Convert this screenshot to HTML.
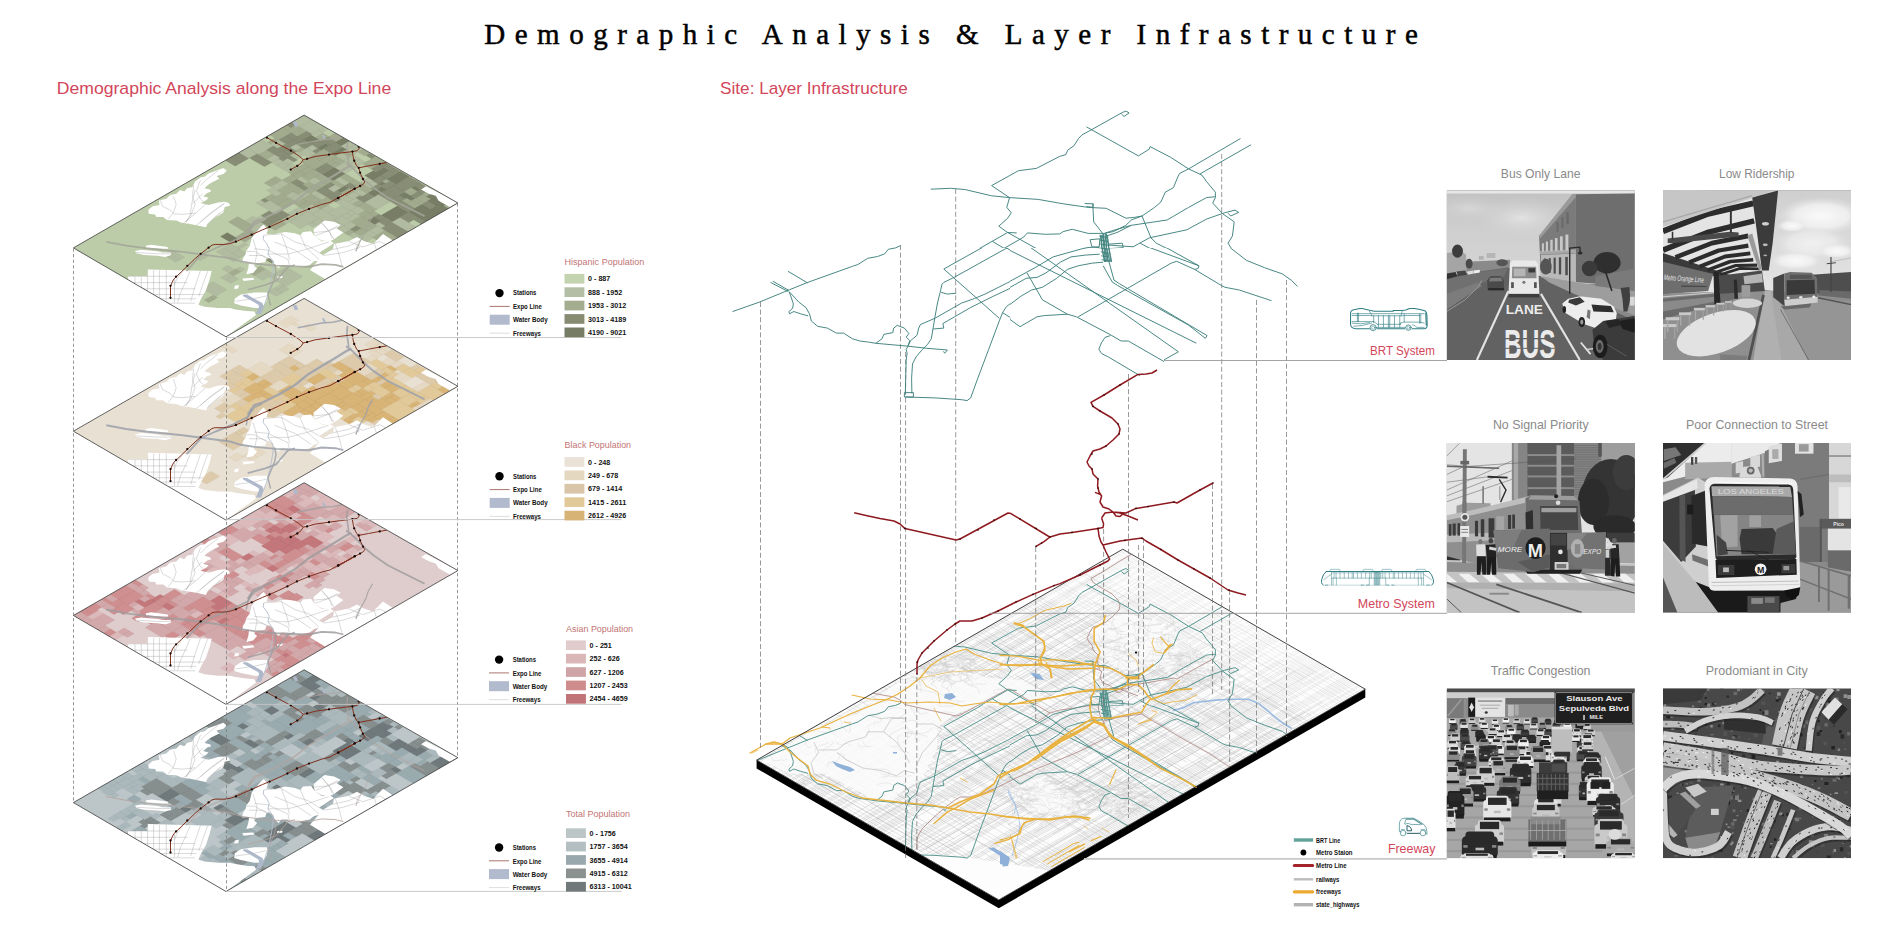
<!DOCTYPE html>
<html><head><meta charset="utf-8"><title>Demographic Analysis &amp; Layer Infrastructure</title>
<style>html,body{margin:0;padding:0;background:#fff;overflow:hidden}svg{display:block}</style>
</head><body>
<svg width="1900" height="927" viewBox="0 0 1900 927" font-family="Liberation Sans, sans-serif">
<rect width="1900" height="927" fill="#fff"/>
<!-- planes -->
<defs><clipPath id="pc"><polygon points="304.1,115.1 457.9,203 226,336.8 73.4,247.9"/></clipPath><clipPath id="wc"><path d="M148.2 210 L152.6 206.3 L159.4 205 L158.8 200.6 L166.3 198.8 L170.1 195 L176.3 193.8 L180.1 190 L184.3 191.6 L187 188.2 L192.4 186.9 L195.1 181.5 L200.5 177.4 L204.5 176.8 L208.6 173.4 L218 170 L223.4 168 L226.8 170.7 L223.4 174.1 L216.6 176.1 L219.3 178.8 L211.2 182.8 L207.2 185.5 L204.5 188.2 L209.9 189.6 L211.2 191.6 L207.2 192.9 L203.2 196.3 L208.6 197.7 L205.9 200.4 L200.5 203.1 L208.6 205.1 L218 202.4 L224.7 201.7 L228.8 203.1 L230.1 205.8 L224.7 207.1 L223.4 212.5 L219.3 215.2 L213.9 217.9 L207.2 224.6 L205.9 227.3 L198.8 225.7 L188.8 223.8 L181.3 222.8 L176.3 220.6 L166.9 220 L163.2 216.9 L156.3 216.9 L155.1 214.4 L148.8 213.8Z M145.7 245.7 L151.3 244.7 L167.6 246.9 L168.2 248.8 L162.6 248.8 L146.3 247.8Z M135 250.9 L141.3 249.8 L157.6 251.3 L162.6 252.5 L170.7 252.5 L171.3 255 L165.1 256.9 L157.6 255.7 L143.8 255 L136.3 253.2Z M127.8 279.6 L128.2 276.3 L147.6 276.3 L147.8 269.4 L212 271.1 L211.9 270 L209.9 278.4 L205.9 290.5 L201.8 297.3 L198.4 304.7 L204.5 306.7 L218 308.1 L230.1 308.1 L235.5 309.4 L246.3 311 L254.4 311.6 L256 315.1 L226 336.8Z M234.8 298.6 L240.9 294.6 L254.4 292.5 L266.5 292.5 L267.9 294.6 L266.5 301.3 L263.8 305.4 L259.8 308.1 L254.4 308.1 L240.9 305.4 L234.2 303.3Z M263.8 224.4 L267.9 229.8 L266.5 233.9 L274.6 234.6 L278.7 233.2 L285.4 231.9 L294.9 233.2 L300.3 235.2 L303 231.9 L311 231.2 L315.1 236.6 L321.8 241.3 L329.9 240.6 L334 243.3 L328.6 246.7 L319.1 252.8 L323.2 255.5 L320.5 259.5 L313.7 261.5 L309.7 264.9 L300.3 266.9 L289.5 266.9 L288.1 264.9 L281.4 264.9 L278.7 268.3 L274.6 264.9 L273.3 260.9 L269.2 257.9 L266.5 258.2 L265.2 262.2 L255.8 263.3 L254.4 266.2 L257.1 268.3 L253.1 273 L246.3 274.3 L248.3 268.3 L249 262.2 L242.3 262.9 L242.9 258.2 L245.6 254.1 L246.3 250.7 L249.7 246 L251.7 237.9 L257.1 231.2 L261.1 226.5Z M242.3 278.4 L253.1 277.7 L254.4 279.7 L243.6 281.1Z M234.8 285.8 L238.9 285.1 L238.2 288.5 L234.2 288.9Z M277.3 276.4 L282.7 276 L282 278.1 L277.1 278.4Z M313.7 229.2 L324.5 220.4 L334 221.7 L340.7 225.1 L336.7 228.5 L343.4 232.5 L334 239.3 L329.9 241.3 L321.8 240.6 L315.1 236.6 L313.7 232.5Z M323 255 L333 249 L334 244 L349 241 L357 237 L364 241 L373 244 L380 237 L383 234 L392.5 240.2 L325 279 L310 270Z M421.1 189.5 L426 186.3 L457.5 202.8 L449.8 207 L438.6 200.7 L435.8 195.8 L428.8 193.7Z"/></clipPath></defs>
<g id="plane3">
<polygon points="304.1,669.8 457.9,757.7 226,891.5 73.4,802.6" fill="#bcc5c7"/>
<g transform="translate(0 554.7)"><g clip-path="url(#pc)">
<path d="M97.9 233.8 L103 230.9 L107.7 233.7 L102.7 236.6Z M101.6 237.2 L107.7 233.7 L114.7 237.7 L108.6 241.3Z M103 230.9 L108 228 L113 230.9 L108 233.8Z M108 228 L112.5 225.4 L117.5 228.3 L113 230.9Z M108 233.8 L113.1 230.8 L119.9 234.8 L114.7 237.7Z M113.1 230.8 L117.5 228.3 L124.3 232.2 L119.9 234.8Z M112.5 225.4 L121.3 220.3 L126.3 223.2 L117.5 228.3Z M117.5 228.3 L126.3 223.2 L133.1 227.2 L124.3 232.2Z M109.8 240.6 L115 237.6 L119.6 240.3 L114.4 243.3Z M122.5 233.3 L129.4 229.3 L133.6 231.8 L126.7 235.8Z M129.4 229.3 L133.1 227.2 L137.3 229.7 L133.6 231.8Z M126.7 235.8 L132.2 232.6 L139.3 236.7 L133.8 239.9Z M132.2 232.6 L137.3 229.7 L144.4 233.8 L139.3 236.7Z M107.8 263.8 L114 260.2 L119.7 263.5 L113.5 267.1Z M114 260.2 L119.8 256.9 L127.1 261.1 L121.3 264.4Z M119.8 256.9 L125.2 253.8 L132.4 258 L127.1 261.1Z M121.3 264.4 L125.9 261.7 L130.5 264.4 L125.9 267.1Z M116 272.7 L120.9 270 L126.6 273.3 L121.8 276.1Z M120.9 270 L125.8 267.1 L131.6 270.5 L126.6 273.3Z M141.1 287.3 L146.4 284.3 L153 288.1 L147.7 291.2Z M146.4 284.3 L150.7 281.8 L157.3 285.6 L153 288.1Z M125.2 253.8 L139.7 245.4 L146.9 249.6 L132.4 258Z M132.4 258 L140.2 253.5 L152.5 260.7 L144.7 265.2Z M150.4 261.9 L156.7 258.3 L161.6 261.1 L155.2 264.7Z M154.9 271.1 L166.9 264.2 L180.7 272.2 L168.7 279.1Z M121.3 220.3 L126.8 217.2 L133.9 221.3 L128.4 224.4Z M128.4 224.4 L137.8 219 L142.8 221.9 L133.4 227.4Z M133.4 227.4 L138.2 224.6 L146.2 229.3 L141.4 232Z M130.7 214.9 L137.9 210.7 L143.1 213.8 L135.9 217.9Z M135.9 217.9 L143.1 213.8 L150.1 217.9 L142.9 222Z M137.9 210.7 L143.3 207.7 L155.5 214.8 L150.1 217.9Z M142.9 222 L150.2 217.8 L158.1 222.4 L150.8 226.6Z M150.2 217.8 L155.5 214.8 L163.3 219.4 L158.1 222.4Z M148.1 210.5 L155.5 206.2 L162.5 210.3 L155.1 214.6Z M156.1 223.5 L164.6 218.6 L180.8 228.1 L172.3 233Z M173.7 223.9 L179.9 220.3 L187.1 224.5 L180.8 228.1Z M204.7 233.4 L210.2 230.3 L215.7 233.5 L210.3 236.6Z M185.8 257.9 L191.9 254.3 L196.2 256.9 L190.1 260.4Z M193.7 255.4 L199.3 252.1 L207.4 256.8 L201.7 260.1Z M206.6 238.8 L215.7 233.5 L231.7 242.8 L222.6 248.1Z M161.9 202.2 L172.3 196.2 L178.3 199.6 L167.9 205.6Z M167.8 193.5 L173.9 190 L179.7 193.4 L173.6 196.9Z M173.9 190 L180.3 186.3 L193.8 194.1 L187.3 197.8Z M187.3 197.8 L193.4 194.4 L201.4 199 L195.3 202.5Z M195.3 202.5 L201.1 199.2 L207.1 202.7 L201.4 206Z M191.2 219.2 L204.7 211.5 L213.6 216.7 L200.1 224.4Z M198.3 207.8 L204.3 204.4 L208.3 206.8 L202.4 210.2Z M204.3 204.4 L207.8 202.3 L217.1 207.7 L213.5 209.8Z M207.6 213.2 L212.2 210.5 L218.2 214.1 L213.6 216.7Z M212.2 210.5 L217.1 207.7 L223.1 211.2 L218.2 214.1Z M188 182 L194.5 178.2 L205 184.3 L198.5 188.1Z M205.1 178.5 L211.5 174.8 L216.5 177.7 L210.1 181.4Z M227.5 200.9 L232.5 198 L239.3 201.9 L234.2 204.8Z M249.6 184.5 L254.8 181.6 L259.3 184.2 L254.2 187.2Z M208.2 229.1 L218.1 223.4 L228.7 229.6 L218.8 235.3Z M230.4 223.1 L248.8 212.5 L266.5 222.8 L248.1 233.4Z M254.2 193.3 L258.9 190.6 L265.1 194.3 L260.5 197Z M269.6 197.2 L275.6 193.7 L279.7 196.1 L273.7 199.5Z M147.7 291.2 L153.4 287.9 L156.5 289.7 L150.8 293Z M150.8 293 L156.5 289.7 L161.8 292.8 L156.1 296.1Z M157.2 290.1 L161.9 287.4 L166.5 290.1 L161.8 292.8Z M165.9 296.3 L171.6 293 L179.8 297.9 L174.1 301.1Z M165.2 281.1 L173.8 276.2 L180.8 280.3 L172.3 285.2Z M172.3 285.2 L176.5 282.7 L183.5 286.8 L179.2 289.2Z M175.4 291.4 L180.8 288.3 L188.5 292.8 L183.1 295.9Z M173.8 276.2 L180.3 272.4 L185.4 275.4 L178.9 279.2Z M178.9 279.2 L185.4 275.4 L188.7 277.3 L182.2 281.1Z M169.4 303.8 L174.6 300.9 L180.2 304.2 L175.1 307.1Z M175.1 307.1 L180.2 304.2 L185.6 307.3 L180.4 310.2Z M187 293.7 L194.2 289.6 L201.3 293.7 L194.2 297.9Z M189.8 300.4 L194.7 297.6 L199.3 300.3 L194.4 303.1Z M194.7 297.6 L201.3 293.7 L205.9 296.4 L199.3 300.3Z M197.8 305 L205 300.8 L210.6 304.1 L203.4 308.3Z M204.3 295.5 L213.3 290.3 L223.9 296.5 L214.9 301.6Z M190.1 266.8 L208.5 256.2 L221.4 263.7 L203 274.3Z M210 270.2 L221.4 263.7 L227.7 267.3 L216.3 273.9Z M208.5 256.2 L213.3 253.4 L216.7 255.4 L211.9 258.1Z M216.9 261.1 L224.5 256.7 L232.2 261.2 L224.6 265.5Z M216.3 282 L224.1 277.5 L231.3 281.7 L223.5 286.2Z M229.1 289.5 L236.9 285 L240.4 287 L232.6 291.5Z M250.8 273.7 L256.6 270.4 L262.8 274 L257.1 277.3Z M196.1 312.4 L200.3 310 L205 312.7 L200.8 315.1Z M203.4 323.6 L213.6 317.8 L220.5 321.8 L210.3 327.6Z M200.3 310 L212.3 303.1 L220.7 308 L208.7 314.9Z M212.7 312.6 L218.7 309.1 L223.7 312 L217.7 315.4Z M210.3 327.6 L226.1 318.5 L241.9 327.7 L226 336.8Z M226.1 318.5 L239.2 311 L247.8 316 L234.7 323.5Z M239.8 320.6 L247.8 316 L254.9 320.2 L247 324.7Z M223 301.5 L229.6 297.7 L234.8 300.7 L228.1 304.6Z M225.6 295.4 L230.5 292.7 L235.4 295.5 L230.5 298.3Z M230.5 292.7 L238.7 288 L247.8 293.3 L239.6 298Z M235.5 300.3 L247.8 293.3 L259.8 300.3 L247.6 307.3Z M247.6 315.9 L254.6 311.9 L261.8 316.2 L254.9 320.2Z M238.7 288 L253.7 279.3 L264.1 285.3 L249.1 294Z M249.1 294 L254.5 290.9 L263.6 296.1 L258.1 299.3Z M254.5 290.9 L264.1 285.3 L273.2 290.6 L263.6 296.1Z M268.9 288.1 L278 282.9 L282.2 285.3 L273.2 290.6Z M251.9 257.8 L257 254.8 L264.5 259.1 L259.3 262.1Z M259 242.1 L264.3 239 L268.7 241.6 L263.4 244.7Z M260.9 246 L268.6 241.6 L275 245.4 L267.4 249.8Z M263.4 231.9 L272.1 226.9 L276.9 229.7 L268.3 234.7Z M272.1 226.9 L279.7 222.5 L290.9 229.1 L283.3 233.4Z M274.7 238.4 L284.2 232.9 L292.5 237.8 L282.9 243.2Z M284.2 232.9 L290.9 229.1 L303.8 236.5 L297 240.4Z M286.6 226.5 L298.4 219.7 L315.6 229.7 L303.8 236.5Z M288.9 245.1 L293 242.7 L300.6 247.1 L296.5 249.5Z M296.5 249.5 L301.9 246.3 L306.4 249 L301 252.1Z M303.9 250.4 L311.6 246 L317.7 249.5 L309.9 254Z M299.6 238.9 L305.8 235.3 L310.6 238.2 L304.4 241.8Z M305.8 235.3 L310.1 232.9 L314.9 235.7 L310.6 238.2Z M309.9 245 L314.1 242.6 L317.3 244.5 L313.2 246.9Z M319.6 268.1 L326.9 263.9 L335 268.6 L327.8 272.8Z M313.6 256.1 L318.7 253.2 L328.6 259 L323.5 261.9Z M324 250.1 L332 245.6 L341.9 251.3 L334 255.9Z M329.2 265.2 L339 259.6 L343.2 262 L333.4 267.7Z M333.4 267.7 L343.2 262 L349.5 265.7 L339.7 271.3Z M345.6 253.5 L351.7 250 L359.5 254.6 L353.4 258Z M351.7 250 L355.2 248 L363 252.5 L359.5 254.6Z M353.4 258 L359.3 254.6 L364 257.3 L358.1 260.8Z M361.3 251.5 L368.1 247.6 L374.5 251.3 L367.7 255.2Z M243.3 174.9 L252 169.9 L258.2 173.5 L249.5 178.5Z M245.9 166.3 L253.2 162.1 L265.5 169.3 L258.2 173.5Z M249.5 178.5 L265.5 169.3 L280.5 178 L264.5 187.2Z M246.3 158.1 L253.4 153.9 L260.4 158 L253.2 162.1Z M253.4 153.9 L257.7 151.5 L264.6 155.6 L260.4 158Z M253.2 162.1 L257.5 159.7 L265.1 164.1 L260.9 166.6Z M257.5 159.7 L264 155.9 L271.6 160.4 L265.1 164.1Z M264.8 164.3 L271.6 160.4 L277.2 163.6 L270.3 167.5Z M271.5 160.3 L279.4 155.8 L285 159.1 L277.2 163.6Z M271.9 151.4 L282.3 145.4 L288.2 148.8 L277.8 154.8Z M277.8 154.8 L284.1 151.2 L288.7 153.9 L282.4 157.5Z M284.1 151.2 L288.2 148.8 L292.8 151.5 L288.7 153.9Z M294.6 158.1 L299.4 155.4 L304.1 158.1 L299.3 160.8Z M285.7 147.4 L291 144.3 L295 146.6 L289.6 149.7Z M317.3 133.8 L320.8 131.7 L324.7 134 L321.1 136Z M321.1 136 L330.6 130.5 L337.2 134.4 L327.7 139.9Z M327.7 139.9 L332.9 136.9 L337.4 139.5 L332.2 142.5Z M332.9 136.9 L337.2 134.4 L341.7 137 L337.4 139.5Z M336.5 140 L341.7 137 L346.7 139.9 L341.4 142.9Z M271.4 191.2 L285.1 183.3 L293 187.9 L279.2 195.8Z M287.8 184.9 L300.2 177.7 L305.4 180.7 L293 187.9Z M301.3 194.6 L306.9 191.4 L312.9 194.9 L307.2 198.1Z M310.9 189.1 L315.4 186.5 L321.3 190 L316.8 192.6Z M313.9 185.6 L319.7 182.3 L327.2 186.6 L321.3 190Z M315.3 174.3 L331.1 165.3 L337.5 169.1 L321.8 178.1Z M295.1 205.1 L310.6 196.2 L322.1 202.9 L306.7 211.8Z M306.7 211.8 L322.1 202.9 L336.1 211 L320.6 219.9Z M329.5 207.2 L335 204.1 L341.5 207.9 L336.1 211Z M320.6 159.2 L327.9 155 L334.7 159 L327.4 163.2Z M324.2 152.8 L329.9 149.5 L340.4 155.7 L334.7 159Z M327.4 163.2 L340.4 155.7 L355.5 164.5 L342.5 172Z M367.6 157.5 L372.3 154.8 L376.2 157.1 L371.5 159.8Z M386.7 175.8 L393.3 172 L398.6 175.1 L392 178.9Z M389.1 169.5 L393.3 167.1 L398.5 170.1 L394.3 172.6Z M345.7 227.6 L349.5 225.4 L353.9 227.9 L350.1 230.1Z M349.6 217.5 L356.8 213.4 L362.5 216.7 L355.3 220.9Z M355.3 220.9 L362.5 216.7 L367.9 219.9 L360.7 224Z M349 203.6 L363 195.6 L377 203.7 L363 211.8Z M363 195.6 L368.4 192.4 L373.9 195.6 L368.5 198.8Z M373.3 196 L378 193.3 L382.5 195.9 L377.8 198.6Z M377.8 198.6 L382.5 195.9 L386.5 198.3 L381.8 200.9Z M356.8 241 L364.9 236.4 L369.7 239.2 L361.7 243.8Z M370.4 239.6 L375.8 236.5 L379.9 238.9 L374.6 242Z M378.5 238.1 L384.7 234.5 L389.9 237.6 L383.7 241.1Z M384.7 234.5 L390.6 231.1 L400 236.6 L394.1 240Z M369.6 218.9 L379.5 213.2 L387.4 217.9 L377.6 223.6Z M372.5 190.1 L379.2 186.2 L396.2 196.2 L389.5 200Z M385.8 182.4 L390.9 179.5 L398.8 184.1 L393.7 187Z M397.3 204.6 L409.7 197.4 L416.9 201.6 L404.4 208.7Z M404.4 208.7 L409.9 205.6 L414.8 208.5 L409.4 211.6Z M409.9 205.6 L417.6 201.1 L423.5 204.6 L415.8 209.1Z M425.1 205.5 L433.1 200.9 L437.9 203.7 L430 208.3Z M425.6 196.5 L434.8 191.2 L447.1 198.4 L437.9 203.7Z" fill="#abb9bc" stroke="#000" stroke-opacity="0.06" stroke-width="0.4"/>
<path d="M126.7 244.4 L134.2 240.1 L141.5 244.4 L134 248.7Z M125.9 261.7 L132.4 258 L137 260.7 L130.5 264.4Z M126.6 278.9 L140.1 271.1 L150.9 277.4 L137.4 285.2Z M165 253.5 L171.7 249.7 L176.6 252.5 L170 256.4Z M138.2 224.6 L142.8 221.9 L150.8 226.6 L146.2 229.3Z M173.8 250.9 L180.5 247 L186.3 250.4 L179.6 254.3Z M173.8 243.2 L180.4 239.4 L192.8 246.7 L186.3 250.4Z M181.3 227.8 L193.7 220.7 L205.7 227.7 L193.3 234.8Z M193.3 234.8 L200.3 230.8 L210.3 236.6 L203.3 240.7Z M200.3 230.8 L205.7 227.7 L210.2 230.3 L204.7 233.4Z M199.3 252.1 L203.7 249.6 L211.8 254.3 L207.4 256.8Z M193.4 194.4 L201.4 189.8 L209.3 194.4 L201.4 199Z M201.1 199.2 L209.3 194.4 L215.4 198 L207.1 202.7Z M207.8 202.3 L215.4 198 L223.8 202.8 L216.2 207.2Z M198.5 188.1 L207.3 183 L212.6 186 L203.7 191.1Z M203.7 191.1 L212.6 186 L221.3 191.1 L212.4 196.2Z M216.3 177.6 L232.3 168.4 L246.4 176.7 L230.5 185.8Z M227.7 187.4 L235.6 182.9 L253.9 193.5 L246 198Z M245.1 183.5 L251.7 179.7 L254.8 181.6 L248.2 185.3Z M234.1 234.2 L241.9 229.8 L248.1 233.4 L240.3 237.9Z M238.6 211.6 L242.9 209.1 L248.8 212.5 L244.5 215Z M234.9 204.4 L249.8 195.9 L257.7 200.5 L242.9 209Z M251.7 204 L257.7 200.5 L262 203 L255.9 206.5Z M256.1 199.5 L260.4 197 L265.1 199.8 L260.8 202.3Z M260.4 197 L265.1 194.3 L269.9 197 L265.1 199.8Z M258.9 190.6 L264.6 187.3 L271 191 L265.2 194.3Z M265.2 194.3 L271 191 L275.6 193.7 L269.9 197Z M267.4 202.1 L272.8 199 L278.3 202.2 L273 205.3Z M254.6 215.9 L271.6 206.1 L283.5 213 L266.5 222.8Z M271.6 206.1 L284.3 198.8 L296.2 205.7 L283.5 213Z M180.8 288.3 L187.7 284.3 L195.5 288.8 L188.5 292.8Z M201.7 298.9 L205.9 296.4 L211.7 299.8 L207.4 302.2Z M207.4 302.2 L211.7 299.8 L214.9 301.6 L210.6 304.1Z M218.5 287.3 L222 285.3 L227.7 288.7 L224.2 290.7Z M219.1 293.6 L227.7 288.7 L232.6 291.5 L223.9 296.5Z M224.1 277.5 L234.7 271.4 L250.9 280.9 L240.4 287Z M234.7 271.4 L246.6 264.6 L256.6 270.4 L244.7 277.3Z M244.7 277.3 L250.8 273.7 L257.1 277.3 L250.9 280.9Z M212.3 303.1 L219 299.3 L227.4 304.1 L220.7 308Z M208.7 314.9 L212.7 312.6 L217.7 315.4 L213.6 317.8Z M218.7 309.1 L227.4 304.1 L239.2 311 L230.5 316Z M240.2 311.6 L251.5 305.1 L258.9 309.4 L247.6 315.9Z M251.5 305.1 L259.8 300.3 L267.4 304.7 L259.1 309.5Z M259.1 309.5 L267.4 304.7 L274.5 308.9 L266.2 313.6Z M259.1 282.4 L265 279 L268.7 281.1 L262.8 284.5Z M258.1 299.3 L269.3 292.8 L285.8 302.4 L274.5 308.9Z M269.3 292.8 L275.5 289.2 L281.6 292.8 L275.4 296.3Z M275.5 289.2 L282.2 285.3 L288.4 288.9 L281.6 292.8Z M220.4 249.3 L234.1 241.4 L250.9 251.2 L237.2 259.1Z M245.6 254.2 L250.9 251.2 L257 254.8 L251.8 257.8Z M246 234.6 L257.1 228.2 L263.4 231.8 L252.3 238.2Z M264.3 239 L270 235.7 L274.4 238.3 L268.7 241.6Z M251.4 251.5 L260.9 246 L267.8 250 L258.3 255.5Z M261.8 253.5 L267.8 250 L274 253.7 L268 257.1Z M267.4 249.8 L275 245.4 L281.7 249.2 L274 253.7Z M257.1 228.2 L261.7 225.6 L268 229.2 L263.4 231.9Z M266.4 222.9 L273.4 218.8 L279.7 222.5 L272.6 226.5Z M268.3 234.7 L272 232.6 L278.4 236.3 L274.7 238.4Z M282.9 243.2 L287.1 240.9 L291.6 243.5 L287.5 245.9Z M287.1 240.9 L292.5 237.8 L297 240.4 L291.6 243.5Z M273.4 218.8 L282 213.9 L295.2 221.6 L286.6 226.5Z M304.4 223.2 L315.4 216.9 L326.6 223.4 L315.6 229.7Z M250.8 267 L265.5 258.6 L282.2 268.4 L267.6 276.8Z M265.5 258.6 L280 250.2 L296.7 260 L282.2 268.4Z M291.9 262.8 L296.7 260 L303.3 263.8 L298.4 266.6Z M282.6 280.8 L287.9 277.7 L295.9 282.3 L290.5 285.4Z M280 250.2 L288.9 245.1 L301 252.1 L292 257.2Z M293 242.7 L299.6 238.9 L307.1 243.3 L300.6 247.1Z M301.9 246.3 L307.1 243.3 L311.6 246 L306.4 249Z M292 257.2 L299.3 253.1 L304.3 256 L297 260.2Z M299.3 253.1 L303.9 250.4 L308.7 253.3 L304.1 255.9Z M309.9 254 L317.7 249.5 L321.4 251.7 L313.6 256.1Z M304.4 241.8 L308.6 239.4 L314.1 242.6 L309.9 245Z M308.6 239.4 L314.9 235.7 L318.9 238 L312.6 241.7Z M312.6 241.7 L318.9 238 L323.7 240.8 L317.3 244.5Z M313.2 246.9 L317.2 244.5 L325.4 249.3 L321.4 251.7Z M323.5 240.7 L331.8 236 L340.1 240.9 L331.9 245.6Z M301.8 262.9 L313.6 256.1 L326.9 263.9 L315.1 270.7Z M329.3 271.9 L335 268.6 L339.7 271.3 L334 274.6Z M318.7 253.2 L324 250.1 L328.5 252.7 L323.1 255.8Z M323.5 261.9 L333.4 256.3 L339 259.6 L329.2 265.2Z M333.4 256.3 L341.9 251.3 L358.1 260.8 L349.5 265.7Z M359.3 254.6 L363 252.5 L367.7 255.2 L364 257.3Z M355.2 248 L362 244.1 L368.1 247.6 L361.3 251.5Z M221.9 162.4 L237.9 153.2 L253.2 162.1 L237.2 171.3Z M242.6 168.2 L245.9 166.3 L252 169.9 L248.7 171.8Z M237.9 153.2 L244.8 149.3 L253.1 154.1 L246.3 158.1Z M249.3 146.6 L267 136.5 L282.3 145.4 L264.6 155.6Z M260.9 166.6 L264.8 164.3 L270.3 167.5 L266.4 169.8Z M266.4 169.8 L274.6 165.1 L288.7 173.3 L280.5 178Z M274.6 165.1 L285 159.1 L299.1 167.3 L288.7 173.3Z M299.3 160.8 L304.1 158.1 L309.5 161.3 L304.7 164Z M276.9 130.8 L289.5 123.5 L302.8 131.3 L290.2 138.5Z M280.3 144.3 L285.6 141.2 L291 144.3 L285.7 147.4Z M297.5 118.9 L304.1 115.1 L313.2 120.4 L306.5 124.2Z M315 127.9 L320.5 124.7 L326.8 128.3 L321.2 131.5Z M289.6 149.7 L305.4 140.6 L314 145.5 L298.1 154.6Z M320.8 131.7 L326.8 128.3 L330.6 130.5 L324.7 134Z M284.8 175.5 L290.7 172.1 L300.2 177.7 L294.3 181.1Z M291.3 188.8 L297.7 185.1 L303.9 188.8 L297.5 192.4Z M297.5 192.4 L303.9 188.8 L307.7 191 L301.3 194.6Z M290.7 172.1 L306.2 163.2 L320.3 171.4 L304.8 180.4Z M306.2 163.2 L311.1 160.4 L316.6 163.6 L311.7 166.4Z M311.7 166.4 L317.9 162.9 L326.5 167.9 L320.3 171.4Z M317.9 162.9 L322.4 160.2 L331.1 165.3 L326.5 167.9Z M319.7 182.3 L324.4 179.6 L331.8 183.9 L327.2 186.6Z M321.8 178.1 L337.5 169.1 L347.6 174.9 L331.8 183.9Z M335 204.1 L340.3 201 L346.9 204.8 L341.5 207.9Z M341.7 178.2 L347.6 174.9 L354.6 179 L348.8 182.4Z M348.2 182.7 L354.6 179 L361.3 182.9 L354.9 186.6Z M349.6 189.7 L361.3 182.9 L373.1 189.7 L361.3 196.5Z M344.6 158.1 L361.4 148.5 L372.3 154.8 L355.5 164.5Z M342.5 172 L354.5 165 L360.2 168.3 L348.2 175.2Z M348.2 175.2 L354.2 171.8 L358.6 174.3 L352.6 177.8Z M354.2 171.8 L360.2 168.3 L370.3 174.2 L364.4 177.7Z M363.4 160 L367.6 157.5 L371.5 159.8 L367.2 162.2Z M372.6 165.3 L381.5 160.2 L388.1 164 L379.1 169.2Z M367.5 186.5 L377.3 180.9 L382.8 184.1 L373.1 189.7Z M320.6 219.9 L337.3 210.4 L349.3 217.4 L332.7 226.9Z M332.7 226.9 L338.7 223.5 L343.7 226.4 L337.7 229.9Z M338.7 223.5 L345.2 219.7 L352.3 223.8 L345.7 227.6Z M345.2 219.7 L349.3 217.4 L356.4 221.5 L352.3 223.8Z M356.8 213.4 L361.3 210.8 L372.4 217.3 L367.9 219.9Z M372 200.8 L376.9 198 L381.8 200.9 L377 203.7Z M377.3 203.6 L386.5 198.3 L395.9 203.8 L386.7 209.1Z M361.7 223.5 L369.6 218.9 L382.3 226.3 L374.4 230.9Z M361.7 243.8 L369.7 239.2 L374.6 242 L366.5 246.6Z M383.7 241.1 L389.9 237.6 L394.1 240 L387.9 243.6Z M388.6 208 L395.9 203.8 L403.4 208.1 L396.1 212.4Z M396.1 218.8 L408.9 211.3 L426.3 221.5 L413.4 228.9Z M389.5 200 L401.9 192.8 L409.7 197.4 L397.3 204.6Z M415.8 209.1 L423.5 204.6 L427.6 206.9 L419.8 211.4Z M417.6 201.1 L425.6 196.5 L433.1 200.9 L425.1 205.5Z" fill="#9aabb0" stroke="#000" stroke-opacity="0.06" stroke-width="0.4"/>
<path d="M139.7 236.4 L144.4 233.8 L152.1 238.3 L147.5 240.9Z M138.4 267.3 L143.4 264.4 L147.6 266.8 L142.6 269.7Z M140.1 271.1 L147.6 266.8 L151.9 269.4 L144.5 273.7Z M144.7 265.2 L150.4 261.9 L154.9 264.6 L149.3 267.8Z M149.3 267.8 L154.9 264.6 L160.6 267.9 L154.9 271.1Z M159.7 260 L168 255.2 L173.5 258.5 L165.3 263.2Z M165.3 263.2 L173.5 258.5 L179 261.6 L170.7 266.4Z M170 256.4 L176.6 252.5 L185.6 257.8 L179 261.6Z M141.4 232 L156.1 223.5 L172.3 233 L157.6 241.5Z M167.2 247 L173.8 243.2 L180.5 247 L173.8 250.9Z M170.8 233.9 L181.3 227.8 L191.5 233.8 L181 239.8Z M181 239.8 L191.5 233.8 L203.3 240.7 L192.8 246.7Z M185.8 250.8 L190.8 247.8 L198.7 252.4 L193.7 255.4Z M190.8 247.8 L195.8 245 L203.7 249.6 L198.7 252.4Z M216.2 207.2 L223.8 202.8 L230.7 206.9 L223.1 211.2Z M206 171.6 L221.9 162.4 L232.3 168.4 L216.3 177.6Z M212.4 196.2 L221.2 191.2 L232.7 197.9 L223.9 202.9Z M221.2 191.2 L227.7 187.4 L239.3 194.1 L232.7 197.9Z M235.6 182.9 L239.8 180.5 L248.2 185.3 L244 187.8Z M254.2 187.2 L259.3 184.2 L264.6 187.3 L259.5 190.3Z M218.1 223.4 L224.6 219.7 L235.2 225.9 L228.7 229.6Z M223.1 218.9 L231.6 214 L238.9 218.2 L230.4 223.1Z M242.9 209 L251.7 204 L263.4 210.8 L254.6 215.9Z M255.9 206.5 L262 203 L269.5 207.3 L263.4 210.8Z M260.8 202.3 L264.3 200.2 L268.6 202.7 L265.1 204.8Z M265.1 204.8 L268.6 202.7 L273 205.3 L269.5 207.3Z M264.3 200.2 L269.6 197.2 L272.8 199 L267.4 202.1Z M273.7 199.5 L279.7 196.1 L284.3 198.8 L278.3 202.2Z M222.1 270.5 L227.7 267.3 L234.7 271.4 L229.1 274.6Z M217.5 255.9 L224.6 251.8 L228.8 254.2 L221.7 258.3Z M224.5 256.7 L228.8 254.2 L236.5 258.7 L232.2 261.2Z M223.5 286.2 L231.3 281.7 L236.9 285 L229.1 289.5Z M234.7 323.5 L239.8 320.6 L247 324.7 L241.9 327.7Z M219 299.3 L225.6 295.4 L229.6 297.7 L223 301.5Z M230.5 298.3 L235.4 295.5 L239.6 298 L234.8 300.7Z M228.1 304.6 L235.5 300.3 L247.6 307.3 L240.2 311.6Z M254.6 311.9 L258.9 309.4 L266.2 313.6 L261.8 316.2Z M253.7 279.3 L262.8 274 L268.2 277.2 L259.1 282.4Z M265 279 L268.2 277.2 L271.9 279.3 L268.7 281.1Z M234.1 241.4 L246 234.6 L263.4 244.7 L251.4 251.5Z M252.3 238.2 L263.4 231.8 L270 235.7 L259 242.1Z M282 213.9 L296.2 205.7 L309.4 213.4 L295.2 221.6Z M298.4 266.6 L303.3 263.8 L307.7 266.4 L302.8 269.2Z M287.9 277.7 L294.2 274.1 L302.1 278.7 L295.9 282.3Z M294.2 274.1 L299.7 270.9 L312.3 278.2 L306.8 281.4Z M299.7 270.9 L307.7 266.4 L315.3 270.8 L307.4 275.4Z M307.4 275.4 L315.3 270.8 L320.2 273.7 L312.3 278.2Z M317.2 244.5 L323.7 240.8 L331.9 245.6 L325.4 249.3Z M310.1 232.9 L319.1 227.7 L324.9 231 L315.8 236.2Z M315.8 236.2 L324.9 231 L332.6 235.5 L323.5 240.7Z M319.1 227.7 L326.6 223.4 L331.4 226.2 L324 230.5Z M331.8 236 L340 231.2 L348.4 236.1 L340.1 240.9Z M282.4 157.5 L292.8 151.5 L299.4 155.4 L289 161.4Z M289 161.4 L294.6 158.1 L304.7 164 L299.1 167.3Z M267 136.5 L276.9 130.8 L290.2 138.5 L280.3 144.3Z M285.6 141.2 L290 138.7 L299.3 144.1 L295 146.6Z M290 138.7 L302.8 131.3 L312.2 136.7 L299.3 144.1Z M289.5 123.5 L297.5 118.9 L303 122.1 L295 126.7Z M295 126.7 L303 122.1 L306.5 124.2 L298.6 128.8Z M298.1 154.6 L307.3 149.3 L318.7 156 L309.5 161.3Z M311.9 136.9 L317.3 133.8 L326.2 139 L320.9 142.1Z M314.4 145.8 L326.2 139 L337.2 145.4 L325.4 152.2Z M332.2 142.5 L336.5 140 L341.4 142.9 L337.2 145.4Z M264.5 187.2 L278.2 179.3 L285.1 183.3 L271.4 191.2Z M278.2 179.3 L284.8 175.5 L290 178.5 L283.4 182.3Z M297.7 185.1 L305.4 180.7 L309.8 183.3 L302.1 187.7Z M311.1 160.4 L316.9 157 L322.4 160.2 L316.6 163.6Z M304.8 180.4 L310 177.4 L319.1 182.6 L313.9 185.6Z M310 177.4 L315.3 174.3 L324.4 179.6 L319.1 182.6Z M323.3 203.6 L327.5 201.1 L333.8 204.8 L329.5 207.2Z M327.5 201.1 L334 197.4 L340.3 201 L333.8 204.8Z M335.8 181.6 L341.7 178.2 L348.8 182.4 L342.9 185.8Z M316.9 157 L324.2 152.8 L327.9 155 L320.6 159.2Z M329.9 149.5 L346.7 139.9 L361.4 148.5 L344.6 158.1Z M354.5 165 L363.4 160 L379.1 169.2 L370.3 174.2Z M382.7 167.1 L388.1 164 L393.3 167.1 L387.9 170.2Z M394.3 172.6 L398.5 170.1 L402.8 172.6 L398.6 175.1Z M337.7 229.9 L343.7 226.4 L350.1 230.1 L344.1 233.6Z M349.5 225.4 L356.4 221.5 L360.7 224 L353.9 227.9Z M337.3 210.4 L344.1 206.4 L350.9 210.3 L344 214.3Z M344 214.3 L355.7 207.6 L361.3 210.8 L349.6 217.5Z M368.5 198.8 L373.3 196 L376.9 198 L372 200.8Z M344.1 233.6 L354.5 227.6 L367.2 235 L356.8 241Z M364.9 236.4 L370.2 233.3 L375.8 236.5 L370.4 239.6Z M370.2 233.3 L375.4 230.3 L383.6 235.1 L378.5 238.1Z M375.4 230.3 L382.3 226.3 L390.6 231.1 L383.6 235.1Z M381.5 221.3 L387.4 217.9 L392.5 220.8 L386.5 224.3Z M379.5 213.2 L388.6 208 L395 211.7 L385.9 217Z M385.9 217 L390 214.6 L396.6 218.5 L392.5 220.8Z M379.2 186.2 L385.8 182.4 L393.7 187 L387 190.8Z M408.3 189.2 L412.2 186.9 L420.5 191.7 L416.6 194Z M412.2 186.9 L419.8 182.5 L425.3 185.7 L417.6 190.1Z M417.6 190.1 L425.3 185.7 L428.3 187.4 L420.7 191.8Z M420.7 191.8 L428.3 187.4 L434.8 191.2 L427.2 195.6Z M409.4 211.6 L414.8 208.5 L419.8 211.4 L414.4 214.5Z M414.4 214.5 L427.6 206.9 L439.5 213.9 L426.3 221.5Z" fill="#878e8e" stroke="#000" stroke-opacity="0.06" stroke-width="0.4"/>
<path d="M157.6 241.5 L170.8 233.9 L180.4 239.4 L167.2 247Z M179.6 254.3 L185.8 250.8 L191.9 254.3 L185.8 257.9Z M207.3 183 L216.5 177.7 L230.5 185.8 L221.3 191.1Z M244 187.8 L249.6 184.5 L259.5 190.3 L253.9 193.5Z M221.4 212.2 L225 210.1 L231.6 214 L227.9 216.1Z M225 210.1 L228.9 207.9 L236.9 212.5 L233 214.8Z M233 214.8 L238.6 211.6 L244.5 215 L238.9 218.2Z M213.3 253.4 L220.4 249.3 L224.6 251.8 L217.5 255.9Z M224.6 265.5 L236.5 258.7 L246.6 264.6 L234.7 271.4Z M262.8 284.5 L267.2 282 L273.4 285.6 L268.9 288.1Z M267.2 282 L271.9 279.3 L278 282.9 L273.4 285.6Z M243.3 262.7 L248.2 259.8 L255.7 264.2 L250.8 267Z M272 232.6 L276.9 229.7 L283.3 233.4 L278.4 236.3Z M298.4 219.7 L309.4 213.4 L315.4 216.9 L304.4 223.2Z M267.6 276.8 L285.1 266.7 L296 273.1 L278.5 283.2Z M278.5 283.2 L282.6 280.8 L290.5 285.4 L286.4 287.8Z M306.8 281.4 L314 277.3 L321.6 281.8 L314.5 285.9Z M314 277.3 L320.2 273.7 L327.9 278.1 L321.6 281.8Z M297 260.2 L304.3 256 L309 258.8 L301.8 262.9Z M315.1 270.7 L319.6 268.1 L327.8 272.8 L323.2 275.4Z M237.2 171.3 L242.6 168.2 L248.7 171.8 L243.3 174.9Z M264 155.9 L271.9 151.4 L279.4 155.8 L271.5 160.3Z M298.6 128.8 L307.6 123.6 L321.2 131.5 L312.2 136.7Z M307.6 123.6 L313.2 120.4 L320.5 124.7 L315 127.9Z M312.6 152.4 L319.2 148.6 L325.4 152.2 L318.7 156Z M309.3 142.8 L315.8 139.1 L320.9 142.1 L314.4 145.8Z M283.4 182.3 L290 178.5 L294.3 181.1 L287.8 184.9Z M302.1 187.7 L309.8 183.3 L315.4 186.5 L307.7 191Z M332.4 196.4 L346.9 188 L361.3 196.5 L346.9 204.8Z M342.9 185.8 L348.2 182.7 L354.9 186.6 L349.6 189.7Z M358.3 181.2 L368 175.5 L377.3 180.9 L367.5 186.5Z M368 175.5 L377.2 170.3 L392 178.9 L382.8 184.1Z M377.2 170.3 L382.7 167.1 L387.9 170.2 L382.5 173.3Z M382.5 173.3 L389.1 169.5 L393.3 172 L386.7 175.8Z M366.5 246.6 L379.9 238.9 L387.9 243.6 L374.5 251.3Z M390 214.6 L395 211.7 L401.6 215.6 L396.6 218.5Z M387 190.8 L398.8 184.1 L407.9 189.4 L396.2 196.2Z M401.9 192.8 L408.3 189.2 L416.6 194 L410.2 197.7Z M410.2 197.7 L420.5 191.7 L427.2 195.6 L416.9 201.6Z M430 208.3 L447.1 198.4 L456.7 204 L439.5 213.9Z" fill="#6f797b" stroke="#000" stroke-opacity="0.06" stroke-width="0.4"/>
<path d="M148.2 210 L152.6 206.3 L159.4 205 L158.8 200.6 L166.3 198.8 L170.1 195 L176.3 193.8 L180.1 190 L184.3 191.6 L187 188.2 L192.4 186.9 L195.1 181.5 L200.5 177.4 L204.5 176.8 L208.6 173.4 L218 170 L223.4 168 L226.8 170.7 L223.4 174.1 L216.6 176.1 L219.3 178.8 L211.2 182.8 L207.2 185.5 L204.5 188.2 L209.9 189.6 L211.2 191.6 L207.2 192.9 L203.2 196.3 L208.6 197.7 L205.9 200.4 L200.5 203.1 L208.6 205.1 L218 202.4 L224.7 201.7 L228.8 203.1 L230.1 205.8 L224.7 207.1 L223.4 212.5 L219.3 215.2 L213.9 217.9 L207.2 224.6 L205.9 227.3 L198.8 225.7 L188.8 223.8 L181.3 222.8 L176.3 220.6 L166.9 220 L163.2 216.9 L156.3 216.9 L155.1 214.4 L148.8 213.8Z M145.7 245.7 L151.3 244.7 L167.6 246.9 L168.2 248.8 L162.6 248.8 L146.3 247.8Z M135 250.9 L141.3 249.8 L157.6 251.3 L162.6 252.5 L170.7 252.5 L171.3 255 L165.1 256.9 L157.6 255.7 L143.8 255 L136.3 253.2Z M127.8 279.6 L128.2 276.3 L147.6 276.3 L147.8 269.4 L212 271.1 L211.9 270 L209.9 278.4 L205.9 290.5 L201.8 297.3 L198.4 304.7 L204.5 306.7 L218 308.1 L230.1 308.1 L235.5 309.4 L246.3 311 L254.4 311.6 L256 315.1 L226 336.8Z M234.8 298.6 L240.9 294.6 L254.4 292.5 L266.5 292.5 L267.9 294.6 L266.5 301.3 L263.8 305.4 L259.8 308.1 L254.4 308.1 L240.9 305.4 L234.2 303.3Z M263.8 224.4 L267.9 229.8 L266.5 233.9 L274.6 234.6 L278.7 233.2 L285.4 231.9 L294.9 233.2 L300.3 235.2 L303 231.9 L311 231.2 L315.1 236.6 L321.8 241.3 L329.9 240.6 L334 243.3 L328.6 246.7 L319.1 252.8 L323.2 255.5 L320.5 259.5 L313.7 261.5 L309.7 264.9 L300.3 266.9 L289.5 266.9 L288.1 264.9 L281.4 264.9 L278.7 268.3 L274.6 264.9 L273.3 260.9 L269.2 257.9 L266.5 258.2 L265.2 262.2 L255.8 263.3 L254.4 266.2 L257.1 268.3 L253.1 273 L246.3 274.3 L248.3 268.3 L249 262.2 L242.3 262.9 L242.9 258.2 L245.6 254.1 L246.3 250.7 L249.7 246 L251.7 237.9 L257.1 231.2 L261.1 226.5Z M242.3 278.4 L253.1 277.7 L254.4 279.7 L243.6 281.1Z M234.8 285.8 L238.9 285.1 L238.2 288.5 L234.2 288.9Z M277.3 276.4 L282.7 276 L282 278.1 L277.1 278.4Z M313.7 229.2 L324.5 220.4 L334 221.7 L340.7 225.1 L336.7 228.5 L343.4 232.5 L334 239.3 L329.9 241.3 L321.8 240.6 L315.1 236.6 L313.7 232.5Z M323 255 L333 249 L334 244 L349 241 L357 237 L364 241 L373 244 L380 237 L383 234 L392.5 240.2 L325 279 L310 270Z M421.1 189.5 L426 186.3 L457.5 202.8 L449.8 207 L438.6 200.7 L435.8 195.8 L428.8 193.7Z" fill="#fff"/>
<path d="M135 276.3 L135 286.3 M141.3 276.3 L141.3 290.1 M147.6 269.4 L147.6 293.8 M153.6 270.1 L153.6 296.3 M159.4 270.1 L159.4 298.8 M166.3 270.1 L166.3 302.6 M174.5 277.6 L174.5 302.6 M128.2 276.3 L175.1 276.3 M132.5 282.6 L187.6 282.6 M140.1 288.8 L195.1 288.8 M150.1 294.5 L203.9 294.5 M157.6 298.8 L196.3 298.8 M167.6 303.2 L195.1 303.2 M190.1 271.3 L185.1 282.6 L180.1 293.8 L177.6 302.6 M200.7 270.1 L195.1 286.3 L190.7 301.3 M207.6 271.3 L202.6 285.1 L198.8 296.3 M182.6 271.3 L176.3 280.1 L174.5 285.1 M160.1 200 L162.6 206.3 L170.1 210 L173.8 213.8 L182.6 214.4 L195.1 213.1 M195.1 190 L192 202.5 L190.1 215 L186.3 222.5 M207.6 202.5 L195.1 213.8 L182.6 223.8 M223.9 203.8 L208.9 215 L195.1 226.3 M220.1 212.5 L207.6 223.8 M202.6 193.8 L192.6 203.8 M193.7 185.5 L192.4 196.3 L195.1 204.4 L191 215.2 L185.6 221.9 M200.5 180.1 L196.4 190.9 L200.5 199 L207.2 204.4 M218 170.7 L205.9 180.1 L200.5 185.5 M224.7 203.1 L211.2 212.5 L200.5 221.9 M227.4 207.1 L216.6 216.5 L207.2 224.6 M173.5 196.3 L176.2 204.4 L173.5 212.5 L168.1 219.2 M135 252.5 L157.6 253.8 L171.3 253.8 M263.8 235.2 L281.4 233.9 L294.9 242 L308.3 246 L319.1 252.8 M267.9 254.1 L288.1 254.1 L308.3 248.7 L328.6 242 M254.4 248.7 L267.9 250.1 L288.1 259.5 L289.5 266.2 M249 255.5 L262.5 255.5 L273.3 260.9 M253.1 239.3 L257.1 252.8 L254.4 266.2 M246.3 251.4 L254.4 251.4 L266.5 258.2 M281.4 233.9 L286.8 248.7 L289.5 259.5 M300.3 235.2 L305.7 247.4 L319.1 259.5 M274.6 242 L294.9 250.1 L311 260.9 M313.7 232.5 L328.6 231.2 L340.7 225.8 M321.8 223.1 L329.9 232.5 L334 239.3 M323.2 255.5 L342.1 252.8 L360 247.4 M335.3 244 L339.4 255.5 L342.1 266.2 M329.9 250.1 L348.8 246 L360 240.6 M348.9 241.4 L362.9 247 L379.7 241.4 L388.1 245.6 M355.9 251.2 L357.3 244.2 L362.9 237.2 M374.1 242.8 L376.9 251.2 M315.2 235.8 L326.5 231.5 L337.7 225.9 M322.2 223.1 L329.3 231.5 L332.1 238.6 M235.5 301.3 L254.4 298.6 L266.5 295.9" fill="none" stroke="#9c9c9c" stroke-width="0.38" clip-path="url(#wc)"/>
<path d="M242.9 294.8 L247 294.6 L262.5 303.3 L263.8 306.7 L261.1 314.1 L256 314.1 L259.1 306.7 L258.4 304.7 L242.9 295.9Z M292.8 122.1 L296.2 121.5 L298.2 126.2 L294.9 126.9Z M321.8 134.9 L323.9 134.9 L325.9 138.3 L323.9 139Z" fill="#aeb8cb"/>
<path d="M263.8 235.2 L263.2 239.3 L266.5 243.3 L269.2 248.7 L267.9 254.1 L271.9 259.5 L273.3 264.2 L272.6 271.6 L270.6 282.4 L267.9 294.6 L263.8 306.7" fill="none" stroke="#b4bccb" stroke-width="0.9"/>
<path d="M106.3 241.9 L126.3 245.7 L145.1 248.2 L162.6 250 L182.6 251.9 L201.3 254.4 L230 258.2 L240.9 261.5 L254.4 263.6 L276 265.6 L289.5 266.2 L308.3 266.9 L321.8 264.2 L335.3 264.9 L343.4 266.9" fill="none" stroke="#b3a39d" stroke-width="1" stroke-linejoin="round" opacity="0.85"/>
<path d="M247.7 231.4 L254.4 221.9 L262.5 219.2 L274.6 213.2 L281.4 209.8 L294.9 201.7 L308.3 190.9 L321.8 182.8 L335.3 174.7 L346.1 168 L351.5 165.3" fill="none" stroke="#b3a39d" stroke-width="1.3" stroke-linejoin="round" opacity="0.85"/>
<path d="M297.6 144.4 L308.3 142.4 L321.8 139.7 L332.6 139 L342.1 137" fill="none" stroke="#b3a39d" stroke-width="0.8" stroke-linejoin="round" opacity="0.85"/>
<path d="M347.5 142.4 L346.8 150.5 L348.8 163.9" fill="none" stroke="#b3a39d" stroke-width="1" stroke-linejoin="round" opacity="0.85"/>
<path d="M262.5 220.4 L254.4 224.4 L250.4 229.8 L247.7 233.9 L246.3 242" fill="none" stroke="#b3a39d" stroke-width="0.8" stroke-linejoin="round" opacity="0.85"/>
<path d="M274.6 264.2 L276 271.6 L274.6 278.4 L267.9 294.6 L270.6 305.4" fill="none" stroke="#b3a39d" stroke-width="0.8" stroke-linejoin="round" opacity="0.85"/>
<path d="M247.7 289.8 L265.2 285.1 L276 281.1 L284.1 271.6 L288.1 266.9 L294.9 264.9" fill="none" stroke="#b3a39d" stroke-width="1" stroke-linejoin="round" opacity="0.85"/>
<path d="M346.1 162.9 L351.7 167.1 L365.7 181.1 L374.1 188.1 L388.1 197.9 L402.2 204.9 L416.2 211.9 L424.6 216.1" fill="none" stroke="#b3a39d" stroke-width="1" stroke-linejoin="round" opacity="0.85"/>
<path d="M372.7 216.1 L368.5 223.1 L365.7 231.5 L360.1 241.4 L355.9 251.2" fill="none" stroke="#b3a39d" stroke-width="0.6" stroke-linejoin="round" opacity="0.85"/>
<path d="M251.2 225.5 L248 233.6 L231.8 241.7 L215.6 248.2 L201.1 254.7 L189.7 267.6 L186.5 270.8" fill="none" stroke="#b3a39d" stroke-width="1" stroke-linejoin="round" opacity="0.85"/>
<path d="M170.5 297.8 L170.5 286.3 L172 282.6 L173.8 279.1 L176.3 276.7 L181.3 271.9 L187.6 265.9 L195.1 258.6 L200.7 253.8 L208.6 247.7 L212 245.2 L215.1 244.4 L223.9 244.5 L230.1 243.6 L235.9 241.7 L243.6 238.2 L251.7 234.7 L262.5 229.8 L269.6 226.9 L278.7 222.8 L287.4 218.8 L296.9 213.8 L309 208.9 L321.8 204.4 L329.9 202.4 L338 197.9 L346.1 193.6 L354.9 188.6 L338.4 197.9 L346.1 193.7 L354.5 188.8 L360.1 186 L363.6 183.9 L364.7 181.8 L362.9 179 L360.1 172.7 L358.7 167.8 L356.6 165.7 L354.2 160.7 L353.1 156.5 L352.4 151.6 M266.9 137.6 L276 142.8 L290.8 150.7 L298.9 155.9 L303.2 159.6 M303.2 159.6 L301.2 162.9 L297.3 165.9 L290.7 169.6 M303.2 159.6 L307.1 158.8 L315.2 156.5 L329 154.6 L340.5 153 L352.4 151.6 L357.3 150.7 L359.4 148.1 L358.7 146.7 M358.7 167.8 L368.5 165.9 L379.7 163.8 L386.7 162.6" fill="none" stroke="#80301c" stroke-width="1.0" stroke-linejoin="round"/>
<circle cx="170.5" cy="297.8" r="1.15" fill="#150805"/>
<circle cx="170.5" cy="285.8" r="1.15" fill="#150805"/>
<circle cx="176.1" cy="276.7" r="1.15" fill="#150805"/>
<circle cx="187.3" cy="265.8" r="1.15" fill="#150805"/>
<circle cx="200.7" cy="253.8" r="1.15" fill="#150805"/>
<circle cx="208.6" cy="247.7" r="1.15" fill="#150805"/>
<circle cx="235.9" cy="241.7" r="1.15" fill="#150805"/>
<circle cx="251.7" cy="234.7" r="1.15" fill="#150805"/>
<circle cx="269.6" cy="226.9" r="1.15" fill="#150805"/>
<circle cx="287.4" cy="218.8" r="1.15" fill="#150805"/>
<circle cx="296.9" cy="213.8" r="1.15" fill="#150805"/>
<circle cx="309" cy="208.9" r="1.15" fill="#150805"/>
<circle cx="338" cy="197.9" r="1.15" fill="#150805"/>
<circle cx="354.9" cy="188.6" r="1.15" fill="#150805"/>
<circle cx="338.4" cy="197.9" r="1.15" fill="#150805"/>
<circle cx="354.5" cy="188.8" r="1.15" fill="#150805"/>
<circle cx="360.1" cy="186" r="1.15" fill="#150805"/>
<circle cx="362.9" cy="179" r="1.15" fill="#150805"/>
<circle cx="360.1" cy="172.7" r="1.15" fill="#150805"/>
<circle cx="358.7" cy="167.8" r="1.15" fill="#150805"/>
<circle cx="354.2" cy="160.7" r="1.15" fill="#150805"/>
<circle cx="352.4" cy="151.6" r="1.15" fill="#150805"/>
<circle cx="266.9" cy="137.6" r="1.15" fill="#150805"/>
<circle cx="276" cy="142.8" r="1.15" fill="#150805"/>
<circle cx="290.8" cy="150.7" r="1.15" fill="#150805"/>
<circle cx="297.3" cy="165.9" r="1.15" fill="#150805"/>
<circle cx="290.7" cy="169.6" r="1.15" fill="#150805"/>
<circle cx="307.1" cy="158.8" r="1.15" fill="#150805"/>
<circle cx="329" cy="154.6" r="1.15" fill="#150805"/>
<circle cx="358.7" cy="146.7" r="1.15" fill="#150805"/>
<circle cx="379.7" cy="163.8" r="1.15" fill="#150805"/>
</g></g>
<polygon points="304.1,669.8 457.9,757.7 226,891.5 73.4,802.6" fill="none" stroke="#3c3c3c" stroke-width="0.8"/>
</g>
<g id="plane2">
<polygon points="304.1,482.7 457.9,570.6 226,704.4 73.4,615.5" fill="#dfcdcd"/>
<g transform="translate(0 367.6)"><g clip-path="url(#pc)">
<path d="M87.6 249 L98.4 242.8 L103.5 245.8 L92.7 252Z M109.2 268.8 L117.4 264.1 L123.8 267.8 L115.7 272.5Z M132.1 239.9 L138.4 236.3 L144.9 240.1 L138.7 243.7Z M190.1 247.6 L198 243.1 L203.4 246.2 L195.5 250.8Z M181.6 268.7 L190 263.8 L195.5 267 L187.1 271.9Z M220.1 300.3 L229 295.1 L238 300.4 L229.1 305.5Z M226.3 287.4 L231.3 284.5 L238.9 288.9 L233.9 291.8Z M198.5 191.4 L214.3 182.3 L223.1 187.4 L207.3 196.5Z M208.5 202.4 L214.6 198.9 L222.8 203.7 L216.8 207.2Z M209 195.6 L218.2 190.3 L232 198.4 L222.8 203.7Z M214.7 219 L222.7 214.3 L230.2 218.7 L222.1 223.3Z M217.1 226.2 L221.8 223.5 L230.8 228.7 L226.1 231.5Z M240.4 216.1 L245 213.4 L251.2 217 L246.6 219.7Z M244.1 204.7 L248.5 202.2 L254.4 205.7 L250.1 208.2Z M207.4 170.8 L213.1 167.5 L221.3 172.2 L215.6 175.5Z M219.5 171.2 L228.6 166 L239.5 172.3 L230.4 177.5Z M230.7 157.3 L235.4 154.6 L243.5 159.3 L238.8 162.1Z M235.4 154.6 L252.7 144.7 L264.1 151.3 L246.8 161.2Z M257 160.8 L260.5 158.8 L266 162 L262.5 164Z M234.2 193.9 L240.7 190.1 L246.1 193.3 L239.6 197.1Z M248.5 185.6 L253.4 182.8 L259.8 186.5 L254.9 189.3Z M262.8 184.7 L267.6 182 L275.2 186.5 L270.5 189.2Z M248.2 202 L254.2 198.6 L261.9 203.1 L255.9 206.5Z M254.2 198.6 L258.5 196.1 L266.2 200.6 L261.9 203.1Z M252.7 144.7 L258.2 141.5 L265.9 146.1 L260.5 149.2Z M260.5 149.2 L272.1 142.5 L279.7 146.9 L268 153.6Z M282.5 127.5 L288.5 124.1 L294 127.3 L288 130.8Z M288.5 124.1 L293.7 121.1 L298.8 124 L293.5 127Z M299 129.1 L303.4 126.5 L308.5 129.5 L304 132Z M297.1 136 L308.5 129.5 L315.6 133.6 L304.2 140.2Z M314.8 127 L319.7 124.2 L325.8 127.7 L320.9 130.6Z M283.7 151.9 L291 147.8 L298.8 152.3 L291.5 156.5Z M291 147.8 L296.2 144.8 L301.6 147.9 L296.4 150.9Z M298.7 160.6 L303.9 157.6 L309.4 160.8 L304.1 163.8Z M309 160.6 L312.8 158.4 L316.4 160.5 L312.6 162.7Z M313 162.4 L316.4 160.5 L322.9 164.3 L319.6 166.2Z M307.7 155.4 L315.1 151.2 L322.3 155.4 L314.9 159.6Z M313.8 169.5 L324.4 163.4 L334.3 169.2 L323.7 175.2Z M313.5 134.8 L325.8 127.7 L341.1 136.6 L328.8 143.7Z M324.9 151.4 L333.6 146.4 L341.6 151.1 L333 156.1Z M248.4 218.6 L254.9 214.9 L261.6 218.8 L255.1 222.5Z M251 224.9 L254.8 222.7 L259.7 225.5 L255.8 227.8Z M254.8 222.7 L261.6 218.8 L266.5 221.6 L259.7 225.5Z M267.2 222.1 L282.3 213.4 L289 217.3 L274 226Z M279.2 206.1 L287 201.6 L291 203.9 L283.2 208.4Z M291.6 198.2 L296.6 195.4 L302.9 199 L297.9 201.9Z M299.1 189.5 L304.9 186.1 L313.7 191.2 L307.8 194.5Z M301.5 198.2 L309 193.8 L316.4 198.1 L308.8 202.5Z M321.6 176.5 L326.7 173.6 L332.8 177.2 L327.8 180.1Z M323.3 187 L328.3 184.1 L334.5 187.7 L329.4 190.6Z M330.9 185.6 L339.2 180.9 L342.7 182.9 L334.5 187.7Z M308.8 202.5 L316.4 198.1 L324.7 203 L317.2 207.3Z M316.4 198.1 L322.5 194.6 L330.9 199.4 L324.7 203Z M332 189.1 L336.3 186.7 L340.6 189.1 L336.3 191.6Z M336.3 191.6 L342.4 188.1 L350.2 192.6 L344.1 196.1Z M344.2 172.4 L352.2 167.8 L357.8 171.1 L349.8 175.7Z M353.4 168.5 L359.5 165 L362.6 166.8 L356.5 170.3Z M359.5 154.7 L365.8 151 L369.9 153.4 L363.6 157Z M365.6 155.9 L369.9 153.4 L377.2 157.7 L372.9 160.1Z M344.4 183.9 L352.1 179.5 L358.9 183.5 L351.3 187.9Z" fill="#dcb9ba" stroke="#000" stroke-opacity="0.06" stroke-width="0.4"/>
<path d="M73.4 247.9 L79.6 244.4 L86.6 248.4 L80.4 252Z M80.4 252 L86.6 248.4 L92.7 252 L86.5 255.5Z M86.5 255.5 L103.5 245.8 L114.9 252.4 L97.9 262.2Z M94.9 235.5 L101.2 231.9 L108.2 236 L101.9 239.6Z M101.7 239.7 L108.2 236 L115.8 240.3 L109.2 244.1Z M104.9 229.8 L109.9 226.9 L117.7 231.5 L112.7 234.3Z M97.9 262.2 L105.1 258 L110.6 261.2 L103.4 265.4Z M117.4 264.1 L124.3 260.1 L129.7 263.3 L122.8 267.3Z M122.8 267.3 L129.7 263.3 L134.4 266 L127.6 270Z M130.9 243.2 L134.4 241.2 L141.1 245.1 L137.5 247.1Z M145.1 259.9 L155.9 253.7 L172.8 263.6 L162 269.8Z M125.8 217.7 L131.2 214.7 L138.8 219.1 L133.5 222.2Z M133.5 222.2 L138.6 219.2 L144.7 222.8 L139.5 225.7Z M138.6 219.2 L143 216.7 L149.1 220.2 L144.7 222.8Z M139.5 225.7 L145.3 222.4 L150 225.2 L144.3 228.5Z M128.3 237.6 L134.6 234 L138.4 236.3 L132.1 239.9Z M139.3 231.3 L145 228 L150.5 231.2 L144.8 234.5Z M148 249.1 L163.9 239.9 L173.7 245.7 L157.8 254.8Z M169.1 243 L178.6 237.5 L183.2 240.2 L173.7 245.7Z M170.5 232.7 L175 230.1 L180.3 233.3 L175.8 235.8Z M175 230.1 L182 226.1 L187.3 229.2 L180.3 233.3Z M175.8 235.8 L187.3 229.2 L194.7 233.5 L183.2 240.2Z M184.5 227.5 L202 217.4 L212.3 223.4 L194.7 233.5Z M163.5 258.1 L173.3 252.5 L182.8 258.1 L173 263.7Z M173.3 252.5 L178.6 249.5 L184.7 253.1 L179.4 256.1Z M172.9 246.1 L182.7 240.5 L192.5 246.2 L182.7 251.9Z M188.6 243.9 L194.1 240.8 L198 243.1 L192.5 246.2Z M173 263.7 L182.5 258.2 L191 263.2 L181.6 268.7Z M197.7 261 L213.4 252 L221.9 257 L206.2 266Z M202.8 228.9 L212.3 223.4 L219.6 227.7 L210.1 233.1Z M202.8 267.9 L220.1 258 L236.7 267.6 L219.4 277.5Z M219.4 277.5 L236.7 267.6 L246.4 273.3 L229.2 283.2Z M238.4 288.6 L246.8 283.8 L253.6 287.7 L245.2 292.6Z M237.6 278.4 L246.4 273.3 L262.5 282.6 L253.6 287.7Z M245.2 259.6 L249.9 256.9 L257.8 261.5 L253.1 264.2Z M249.7 256.8 L253.9 254.4 L262 259.1 L257.8 261.5Z M253.2 277.2 L266.1 269.8 L275.3 275.2 L262.5 282.6Z M254.8 263.3 L260.7 259.9 L267.6 263.9 L261.7 267.3Z M260.7 259.9 L267.8 255.8 L274.2 259.5 L267.1 263.6Z M275.2 265.8 L280.2 263 L288.3 267.7 L283.4 270.6Z M266.2 296.5 L274.2 291.9 L278.2 294.3 L270.3 298.9Z M260.3 283.9 L267.9 279.5 L274.8 283.5 L267.2 287.9Z M267.9 279.5 L272.3 277 L279.2 281 L274.8 283.5Z M267.2 287.9 L274.8 283.5 L281.6 287.5 L274 291.8Z M263.1 303 L269.9 299.1 L276.7 303.1 L269.9 307Z M269.9 299.1 L274.1 296.7 L279.3 299.8 L275.1 302.2Z M274.1 296.7 L280.6 292.9 L285.9 296 L279.3 299.8Z M275.1 302.2 L279.8 299.5 L285.3 302.7 L280.6 305.4Z M276.3 279.3 L284 274.9 L290.8 278.9 L283.2 283.3Z M286.2 276.2 L294.6 271.4 L299.2 274.1 L290.8 278.9Z M286.8 281.2 L292.7 277.8 L299.9 282 L294 285.5Z M290.4 287.5 L300.3 281.8 L306.5 285.4 L296.6 291.1Z M296.6 291.1 L300.1 289.1 L304.5 291.6 L300.9 293.7Z M300.1 289.1 L306.5 285.4 L310.8 288 L304.5 291.6Z M300.3 281.8 L306.5 278.3 L311.9 281.5 L305.8 285Z M305.8 285 L311.9 281.5 L317 284.4 L310.8 288Z M197.2 194.8 L200.8 192.7 L207.3 196.5 L203.7 198.6Z M197.4 210.4 L202.9 207.2 L209.7 211.2 L204.2 214.4Z M203.3 198.8 L209 195.6 L214.6 198.9 L209 202.1Z M225.7 194.7 L230.7 191.8 L237 195.5 L232 198.4Z M200.5 216.5 L213.6 209 L222.7 214.3 L209.6 221.9Z M221.8 223.5 L230.2 218.7 L234.9 221.4 L226.5 226.2Z M226.5 226.2 L234.9 221.4 L239.2 223.9 L230.8 228.7Z M220.8 213.2 L228 209.1 L232.2 211.5 L225 215.7Z M220.8 204.9 L228.4 200.5 L233.7 203.5 L226 207.9Z M228.4 200.5 L234 197.3 L238.7 200 L233.2 203.3Z M234 197.3 L237 195.5 L241.8 198.3 L238.7 200Z M225 215.7 L230.9 212.3 L238.8 217 L233 220.3Z M230.9 212.3 L237 208.8 L245 213.4 L238.8 217Z M209.1 179.3 L221.3 172.2 L230.4 177.5 L218.2 184.6Z M230.3 167 L243.5 159.3 L257 167.2 L243.7 174.8Z M251.8 158.3 L255.8 156 L260.5 158.8 L256.6 161.1Z M251.5 164 L257 160.8 L262.5 164 L257 167.2Z M255.8 156 L264.1 151.3 L269.6 154.5 L261.3 159.2Z M259.1 166 L264.8 162.6 L270.7 166 L264.9 169.4Z M239.6 197.1 L246.1 193.3 L249.8 195.4 L243.3 199.2Z M243.3 199.2 L249.8 195.4 L254.7 198.3 L248.2 202Z M246.4 193.5 L254.3 188.9 L262.6 193.8 L254.7 198.3Z M254.9 189.3 L262.8 184.7 L270.5 189.2 L262.6 193.8Z M264.7 192.6 L268.7 190.3 L271.7 192 L267.7 194.3Z M267.7 194.3 L271.7 192 L277.2 195.2 L273.2 197.5Z M271.9 192.2 L278.5 188.4 L283.8 191.5 L277.2 195.2Z M273.7 185.6 L279 182.5 L285.9 186.6 L280.6 189.6Z M303.8 178.9 L307.7 176.7 L314.4 180.6 L310.5 182.8Z M258.2 141.5 L264.4 138 L272.1 142.5 L265.9 146.1Z M272.6 150.9 L279.7 146.9 L286.1 150.6 L279 154.7Z M292.8 137.5 L296.2 135.5 L304.2 140.2 L300.7 142.2Z M288 130.8 L294 127.3 L298 129.6 L292 133.1Z M293.5 127 L298.8 124 L303.2 126.6 L298 129.6Z M293.7 121.1 L297.8 118.7 L307.3 124.3 L303.2 126.6Z M297.8 118.7 L304.1 115.1 L313.6 120.6 L307.3 124.3Z M292 133.1 L299 129.1 L304 132 L297.1 136Z M303.4 126.5 L307.9 124 L314 127.5 L309.6 130.1Z M307.9 124 L313.6 120.6 L319.7 124.2 L314 127.5Z M279.7 154.3 L283.7 151.9 L290.1 155.7 L286.1 158Z M289.4 166 L298.7 160.6 L310.8 167.7 L301.5 173.1Z M307.3 165.7 L313 162.4 L319.6 166.2 L313.8 169.5Z M314.9 159.6 L322.3 155.4 L330.2 160 L322.9 164.3Z M300.1 142.5 L313.5 134.8 L328.8 143.7 L315.4 151.4Z M320.2 148.6 L328.9 143.7 L333.6 146.4 L324.9 151.4Z M328.2 158.8 L336 154.3 L343 158.4 L335.2 162.9Z M328.9 143.7 L341.1 136.6 L349.8 141.8 L337.6 148.8Z M337.6 148.8 L349.8 141.8 L355.1 144.8 L342.9 151.8Z M244.3 221 L248.4 218.6 L255.1 222.5 L251 224.9Z M255.8 227.8 L266.5 221.6 L273.8 225.9 L263.2 232.1Z M267 213 L274.4 208.8 L282.3 213.4 L274.9 217.6Z M274.7 203.5 L282.5 199 L287 201.6 L279.2 206.1Z M285.2 215.1 L290.3 212.2 L294.1 214.4 L289 217.3Z M287.2 210.4 L294.8 206.1 L301.6 210.1 L294.1 214.4Z M282.5 199 L292.7 193.1 L296.6 195.4 L286.4 201.2Z M292.7 204.9 L297.9 201.9 L302 204.2 L296.8 207.3Z M296.8 207.3 L302 204.2 L306.9 207.1 L301.6 210.1Z M297.9 201.9 L302.9 199 L308.1 202 L303.2 204.9Z M303.2 204.9 L308.1 202 L311.8 204.2 L306.9 207.1Z M304.1 218.2 L313.9 212.6 L318.8 215.5 L309 221.1Z M312.9 218.9 L318.8 215.5 L322.4 217.5 L316.5 220.9Z M313.9 212.6 L320.1 209 L325.6 212.2 L319.4 215.8Z M306.3 272.8 L310.1 270.6 L316 274 L312.1 276.2Z M307.5 278.9 L313 275.7 L322.5 281.3 L317 284.4Z M310.1 264.9 L317.7 260.6 L323.9 264.2 L316.3 268.5Z M316.3 268.5 L321.4 265.6 L329.9 270.5 L324.8 273.5Z M321.4 265.6 L329.6 260.9 L335 264 L326.7 268.7Z M292.7 193.1 L299.1 189.5 L307.8 194.5 L301.5 198.2Z M304.9 186.1 L313.4 181.2 L329.4 190.6 L321 195.5Z M313.4 181.2 L321.6 176.5 L327.8 180.1 L319.6 184.8Z M324.6 181.9 L332.8 177.2 L339.2 180.9 L330.9 185.6Z M317.2 207.3 L324.2 203.3 L330 206.7 L323 210.7Z M322.5 194.6 L332 189.1 L344.1 196.1 L334.6 201.6Z M342.4 188.1 L347 185.4 L354.8 190 L350.2 192.6Z M334.4 178.1 L344.2 172.4 L348.1 174.7 L338.3 180.4Z M355.1 157.2 L359.5 154.7 L363.6 157 L359.2 159.6Z M359.2 159.6 L365.6 155.9 L372.9 160.1 L366.5 163.8Z M352.1 179.5 L356.4 177 L363.2 181 L358.9 183.5Z" fill="#d2a8aa" stroke="#000" stroke-opacity="0.06" stroke-width="0.4"/>
<path d="M79.6 244.4 L84.6 241.5 L92.6 246.2 L87.6 249Z M84.6 241.5 L90.4 238.1 L98.4 242.8 L92.6 246.2Z M90.4 238.1 L94.9 235.5 L101.9 239.6 L97.4 242.2Z M101.2 231.9 L104.9 229.8 L112.7 234.3 L109.1 236.4Z M109.1 236.4 L117.7 231.5 L124.4 235.4 L115.8 240.3Z M109.1 244.2 L113.7 241.5 L118.7 244.5 L114.1 247.1Z M113.7 241.5 L124.4 235.4 L134.4 241.2 L123.6 247.3Z M103.4 265.4 L110.6 261.2 L116.4 264.6 L109.2 268.8Z M131.5 250.6 L135.3 248.3 L141.8 252.1 L138 254.3Z M135.3 248.3 L141.1 245.1 L147.5 248.8 L141.8 252.1Z M142.3 251.8 L147.5 248.8 L155.9 253.7 L150.7 256.7Z M164.5 268.4 L172.8 263.6 L179.9 267.7 L171.5 272.5Z M109.9 226.9 L125.8 217.7 L134.9 223 L118.9 232.2Z M118.9 232.2 L134.9 223 L144.3 228.5 L128.3 237.6Z M131.2 214.7 L135.3 212.2 L143 216.7 L138.8 219.1Z M145 228 L149 225.8 L155.3 229.5 L151.4 231.7Z M138.7 243.7 L154.6 234.5 L163.9 239.9 L148 249.1Z M154.6 234.5 L158.7 232.1 L165.5 236.1 L161.3 238.5Z M158.7 232.1 L164.1 229 L170.9 233 L165.5 236.1Z M167.4 235 L170.9 233 L178.6 237.5 L175.2 239.5Z M163 228.4 L174.5 221.7 L182 226.1 L170.5 232.7Z M157.8 254.8 L172.9 246.1 L178.6 249.5 L163.5 258.1Z M179.4 256.1 L184.7 253.1 L188.1 255 L182.8 258.1Z M182.7 240.5 L188.2 237.3 L194.1 240.8 L188.6 243.9Z M182.7 251.9 L190.1 247.6 L195.5 250.8 L188.1 255Z M182.5 258.2 L187.7 255.2 L196.3 260.2 L191 263.2Z M190 263.8 L196.3 260.2 L202.3 263.7 L196 267.3Z M196 267.3 L202.3 263.7 L206.2 266 L199.9 269.6Z M187.7 255.2 L203.4 246.2 L213.4 252 L197.7 261Z M188.2 237.3 L202.8 228.9 L215.5 236.3 L200.8 244.7Z M200.8 244.7 L210 239.4 L217.9 244 L208.7 249.3Z M208.7 249.3 L216.6 244.7 L220.7 247.1 L212.8 251.6Z M212.8 251.6 L220.7 247.1 L225.1 249.6 L217.2 254.2Z M216.6 244.7 L222 241.6 L229.5 245.9 L224.1 249Z M224.1 249 L229.5 245.9 L235.2 249.3 L229.8 252.4Z M222 241.6 L232.8 235.4 L246 243.1 L235.2 249.3Z M220.1 258 L236 248.8 L249.9 256.9 L234 266.1Z M234 266.1 L241.1 262 L249 266.6 L241.9 270.7Z M241.1 262 L245.2 259.6 L253.1 264.2 L249 266.6Z M236 248.8 L246 243.1 L254.3 247.9 L244.3 253.7Z M241.9 270.7 L254.8 263.3 L266.1 269.8 L253.2 277.2Z M261.7 267.3 L267.6 263.9 L273.1 267 L267.2 270.4Z M267.1 263.6 L274.2 259.5 L280.2 263 L273.1 267Z M267.2 270.4 L275.2 265.8 L283.4 270.6 L275.3 275.2Z M274 291.8 L281.6 287.5 L285.8 289.9 L278.2 294.3Z M274.8 283.5 L279.2 281 L285.9 284.9 L281.5 287.4Z M269.9 307 L276.7 303.1 L280.6 305.4 L273.8 309.3Z M279.8 299.5 L285.9 296 L291.4 299.2 L285.3 302.7Z M280.6 292.9 L290.2 287.4 L300.9 293.7 L291.4 299.2Z M272.3 277 L279.9 272.6 L284 274.9 L276.3 279.3Z M279.9 272.6 L288.3 267.7 L294.6 271.4 L286.2 276.2Z M283.2 283.3 L286.8 281.2 L294 285.5 L290.4 287.5Z M292.7 277.8 L299.2 274.1 L306.5 278.3 L299.9 282Z M195.9 203.1 L203.3 198.8 L209 202.1 L201.5 206.4Z M213.6 209 L220.8 204.9 L228 209.1 L220.8 213.2Z M226 207.9 L233.7 203.5 L239.8 207.1 L232.2 211.5Z M200.9 174.5 L207.4 170.8 L215.6 175.5 L209.1 179.3Z M217.7 164.8 L222.2 162.3 L228.6 166 L224.1 168.5Z M218.2 184.6 L227.3 179.4 L243.2 188.7 L234.2 193.9Z M222.2 162.3 L230.7 157.3 L238.8 162.1 L230.3 167Z M261.3 159.2 L269.6 154.5 L274.3 157.2 L266 162Z M251.4 170.4 L259.1 166 L270.8 172.8 L263.1 177.2Z M269.6 166.7 L274.8 163.7 L280.7 167.1 L275.4 170.1Z M258.5 196.1 L264.7 192.6 L272.5 197.1 L266.4 200.7Z M268.7 190.3 L275.2 186.5 L278.5 188.4 L271.9 192.2Z M273.2 197.5 L283.8 191.5 L289.6 194.9 L279.1 201Z M279.8 167.6 L286 164 L291.1 167 L284.9 170.5Z M280.6 189.6 L295.5 181 L304.6 186.3 L289.6 194.9Z M297.8 182.4 L303.8 178.9 L310.5 182.8 L304.6 186.3Z M264.4 138 L271.9 133.7 L278.4 137.4 L270.9 141.8Z M270.9 141.8 L278.4 137.4 L285.6 141.7 L278.1 146Z M271.9 133.7 L282.5 127.5 L296.2 135.5 L285.6 141.7Z M278.1 146 L283.1 143.1 L291.1 147.7 L286.1 150.6Z M283.1 143.1 L286.8 141 L294.7 145.6 L291.1 147.7Z M274.4 157.3 L279.7 154.3 L286.1 158 L280.8 161Z M291.5 156.5 L298.8 152.3 L305.9 156.5 L298.6 160.6Z M296.2 144.8 L300.1 142.5 L305.5 145.6 L301.6 147.9Z M296.4 150.9 L305.5 145.6 L315.1 151.2 L305.9 156.5Z M324.4 163.4 L330.2 160 L334.1 162.3 L328.3 165.7Z M267.2 229.8 L273.8 225.9 L278.8 228.8 L272.1 232.7Z M261 218.5 L268.7 214 L274.9 217.6 L267.2 222.1Z M275.3 209.3 L280 206.6 L283.2 208.4 L278.4 211.2Z M283.5 208.2 L291 203.9 L294.8 206.1 L287.2 210.4Z M278.3 228.5 L288.4 222.7 L294.7 226.3 L284.6 232.2Z M284.6 232.2 L288.8 229.7 L295.3 233.5 L291.1 236Z M288.8 229.7 L296.4 225.4 L303.7 229.6 L296.1 234Z M305.7 207.7 L311.8 204.2 L320.1 209 L313.9 212.5Z M292.8 270.3 L299.3 266.6 L303.4 269 L296.9 272.7Z M296.9 272.7 L303.4 269 L308.1 271.7 L301.7 275.5Z M299.3 266.6 L306.2 262.6 L315 267.8 L308.1 271.7Z M301.7 275.5 L306.3 272.8 L312.1 276.2 L307.5 278.9Z M310.1 270.6 L315 267.8 L320.9 271.2 L316 274Z M313 275.7 L320.9 271.2 L325.7 274 L317.8 278.5Z M317.8 278.5 L325.7 274 L330.4 276.7 L322.5 281.3Z M309 193.8 L313.7 191.2 L321 195.5 L316.4 198.1Z M338.3 180.4 L343.1 177.6 L349.3 181.1 L344.4 183.9Z M343.1 177.6 L348.1 174.7 L354.3 178.3 L349.3 181.1Z" fill="#cf8e8f" stroke="#000" stroke-opacity="0.06" stroke-width="0.4"/>
<path d="M134.6 234 L139.3 231.3 L149.7 237.3 L144.9 240.1Z M144.8 234.5 L150.5 231.2 L155.4 234.1 L149.7 237.3Z M151.4 231.7 L160.1 226.7 L164.1 229 L155.4 234.1Z M161.3 238.5 L167.4 235 L175.2 239.5 L169.1 243Z M210 239.4 L215.5 236.3 L223.3 240.8 L217.9 244Z M210.1 233.1 L219.6 227.7 L232.8 235.4 L223.3 240.8Z M217.2 254.2 L225.1 249.6 L229.8 252.4 L221.9 257Z M281.5 287.4 L285.9 284.9 L290.2 287.4 L285.8 289.9Z M264.8 162.6 L269 160.3 L274.8 163.7 L270.7 166Z M264.9 169.4 L269.6 166.7 L275.4 170.1 L270.8 172.8Z M269 160.3 L274.3 157.2 L286 164 L280.7 167.1Z M240.7 190.1 L248.5 185.6 L254.3 188.9 L246.4 193.5Z M266.4 200.7 L272.5 197.1 L279.1 201 L272.9 204.5Z M261.2 178.3 L275.2 170.2 L287.7 177.5 L273.7 185.6Z M275.2 170.2 L279.8 167.6 L284.9 170.5 L280.3 173.2Z M280.3 173.2 L285.7 170.1 L293.1 174.4 L287.7 177.5Z M285.7 170.1 L291.1 167 L298.5 171.3 L293.1 174.4Z M279 182.5 L288.6 177 L295.5 181 L285.9 186.6Z M288.6 177 L298.5 171.3 L307.7 176.7 L297.8 182.4Z M286.8 141 L292.8 137.5 L300.7 142.2 L294.7 145.6Z M280.8 161 L290.1 155.7 L298.6 160.6 L289.4 166Z M301.5 173.1 L310.8 167.7 L323.7 175.2 L314.4 180.6Z M278.4 211.2 L283.5 208.2 L290.3 212.2 L285.2 215.1Z" fill="#c3777b" stroke="#000" stroke-opacity="0.06" stroke-width="0.4"/>
<path d="M148.2 210 L152.6 206.3 L159.4 205 L158.8 200.6 L166.3 198.8 L170.1 195 L176.3 193.8 L180.1 190 L184.3 191.6 L187 188.2 L192.4 186.9 L195.1 181.5 L200.5 177.4 L204.5 176.8 L208.6 173.4 L218 170 L223.4 168 L226.8 170.7 L223.4 174.1 L216.6 176.1 L219.3 178.8 L211.2 182.8 L207.2 185.5 L204.5 188.2 L209.9 189.6 L211.2 191.6 L207.2 192.9 L203.2 196.3 L208.6 197.7 L205.9 200.4 L200.5 203.1 L208.6 205.1 L218 202.4 L224.7 201.7 L228.8 203.1 L230.1 205.8 L224.7 207.1 L223.4 212.5 L219.3 215.2 L213.9 217.9 L207.2 224.6 L205.9 227.3 L198.8 225.7 L188.8 223.8 L181.3 222.8 L176.3 220.6 L166.9 220 L163.2 216.9 L156.3 216.9 L155.1 214.4 L148.8 213.8Z M145.7 245.7 L151.3 244.7 L167.6 246.9 L168.2 248.8 L162.6 248.8 L146.3 247.8Z M135 250.9 L141.3 249.8 L157.6 251.3 L162.6 252.5 L170.7 252.5 L171.3 255 L165.1 256.9 L157.6 255.7 L143.8 255 L136.3 253.2Z M127.8 279.6 L128.2 276.3 L147.6 276.3 L147.8 269.4 L212 271.1 L211.9 270 L209.9 278.4 L205.9 290.5 L201.8 297.3 L198.4 304.7 L204.5 306.7 L218 308.1 L230.1 308.1 L235.5 309.4 L246.3 311 L254.4 311.6 L256 315.1 L226 336.8Z M234.8 298.6 L240.9 294.6 L254.4 292.5 L266.5 292.5 L267.9 294.6 L266.5 301.3 L263.8 305.4 L259.8 308.1 L254.4 308.1 L240.9 305.4 L234.2 303.3Z M263.8 224.4 L267.9 229.8 L266.5 233.9 L274.6 234.6 L278.7 233.2 L285.4 231.9 L294.9 233.2 L300.3 235.2 L303 231.9 L311 231.2 L315.1 236.6 L321.8 241.3 L329.9 240.6 L334 243.3 L328.6 246.7 L319.1 252.8 L323.2 255.5 L320.5 259.5 L313.7 261.5 L309.7 264.9 L300.3 266.9 L289.5 266.9 L288.1 264.9 L281.4 264.9 L278.7 268.3 L274.6 264.9 L273.3 260.9 L269.2 257.9 L266.5 258.2 L265.2 262.2 L255.8 263.3 L254.4 266.2 L257.1 268.3 L253.1 273 L246.3 274.3 L248.3 268.3 L249 262.2 L242.3 262.9 L242.9 258.2 L245.6 254.1 L246.3 250.7 L249.7 246 L251.7 237.9 L257.1 231.2 L261.1 226.5Z M242.3 278.4 L253.1 277.7 L254.4 279.7 L243.6 281.1Z M234.8 285.8 L238.9 285.1 L238.2 288.5 L234.2 288.9Z M277.3 276.4 L282.7 276 L282 278.1 L277.1 278.4Z M313.7 229.2 L324.5 220.4 L334 221.7 L340.7 225.1 L336.7 228.5 L343.4 232.5 L334 239.3 L329.9 241.3 L321.8 240.6 L315.1 236.6 L313.7 232.5Z M323 255 L333 249 L334 244 L349 241 L357 237 L364 241 L373 244 L380 237 L383 234 L392.5 240.2 L325 279 L310 270Z M421.1 189.5 L426 186.3 L457.5 202.8 L449.8 207 L438.6 200.7 L435.8 195.8 L428.8 193.7Z" fill="#fff"/>
<path d="M135 276.3 L135 286.3 M141.3 276.3 L141.3 290.1 M147.6 269.4 L147.6 293.8 M153.6 270.1 L153.6 296.3 M159.4 270.1 L159.4 298.8 M166.3 270.1 L166.3 302.6 M174.5 277.6 L174.5 302.6 M128.2 276.3 L175.1 276.3 M132.5 282.6 L187.6 282.6 M140.1 288.8 L195.1 288.8 M150.1 294.5 L203.9 294.5 M157.6 298.8 L196.3 298.8 M167.6 303.2 L195.1 303.2 M190.1 271.3 L185.1 282.6 L180.1 293.8 L177.6 302.6 M200.7 270.1 L195.1 286.3 L190.7 301.3 M207.6 271.3 L202.6 285.1 L198.8 296.3 M182.6 271.3 L176.3 280.1 L174.5 285.1 M160.1 200 L162.6 206.3 L170.1 210 L173.8 213.8 L182.6 214.4 L195.1 213.1 M195.1 190 L192 202.5 L190.1 215 L186.3 222.5 M207.6 202.5 L195.1 213.8 L182.6 223.8 M223.9 203.8 L208.9 215 L195.1 226.3 M220.1 212.5 L207.6 223.8 M202.6 193.8 L192.6 203.8 M193.7 185.5 L192.4 196.3 L195.1 204.4 L191 215.2 L185.6 221.9 M200.5 180.1 L196.4 190.9 L200.5 199 L207.2 204.4 M218 170.7 L205.9 180.1 L200.5 185.5 M224.7 203.1 L211.2 212.5 L200.5 221.9 M227.4 207.1 L216.6 216.5 L207.2 224.6 M173.5 196.3 L176.2 204.4 L173.5 212.5 L168.1 219.2 M135 252.5 L157.6 253.8 L171.3 253.8 M263.8 235.2 L281.4 233.9 L294.9 242 L308.3 246 L319.1 252.8 M267.9 254.1 L288.1 254.1 L308.3 248.7 L328.6 242 M254.4 248.7 L267.9 250.1 L288.1 259.5 L289.5 266.2 M249 255.5 L262.5 255.5 L273.3 260.9 M253.1 239.3 L257.1 252.8 L254.4 266.2 M246.3 251.4 L254.4 251.4 L266.5 258.2 M281.4 233.9 L286.8 248.7 L289.5 259.5 M300.3 235.2 L305.7 247.4 L319.1 259.5 M274.6 242 L294.9 250.1 L311 260.9 M313.7 232.5 L328.6 231.2 L340.7 225.8 M321.8 223.1 L329.9 232.5 L334 239.3 M323.2 255.5 L342.1 252.8 L360 247.4 M335.3 244 L339.4 255.5 L342.1 266.2 M329.9 250.1 L348.8 246 L360 240.6 M348.9 241.4 L362.9 247 L379.7 241.4 L388.1 245.6 M355.9 251.2 L357.3 244.2 L362.9 237.2 M374.1 242.8 L376.9 251.2 M315.2 235.8 L326.5 231.5 L337.7 225.9 M322.2 223.1 L329.3 231.5 L332.1 238.6 M235.5 301.3 L254.4 298.6 L266.5 295.9" fill="none" stroke="#9c9c9c" stroke-width="0.38" clip-path="url(#wc)"/>
<path d="M242.9 294.8 L247 294.6 L262.5 303.3 L263.8 306.7 L261.1 314.1 L256 314.1 L259.1 306.7 L258.4 304.7 L242.9 295.9Z M292.8 122.1 L296.2 121.5 L298.2 126.2 L294.9 126.9Z M321.8 134.9 L323.9 134.9 L325.9 138.3 L323.9 139Z" fill="#aeb8cb"/>
<path d="M263.8 235.2 L263.2 239.3 L266.5 243.3 L269.2 248.7 L267.9 254.1 L271.9 259.5 L273.3 264.2 L272.6 271.6 L270.6 282.4 L267.9 294.6 L263.8 306.7" fill="none" stroke="#b4bccb" stroke-width="0.9"/>
<path d="M106.3 241.9 L126.3 245.7 L145.1 248.2 L162.6 250 L182.6 251.9 L201.3 254.4 L230 258.2 L240.9 261.5 L254.4 263.6 L276 265.6 L289.5 266.2 L308.3 266.9 L321.8 264.2 L335.3 264.9 L343.4 266.9" fill="none" stroke="#a09c9f" stroke-width="1.8" stroke-linejoin="round" opacity="0.85"/>
<path d="M247.7 231.4 L254.4 221.9 L262.5 219.2 L274.6 213.2 L281.4 209.8 L294.9 201.7 L308.3 190.9 L321.8 182.8 L335.3 174.7 L346.1 168 L351.5 165.3" fill="none" stroke="#a09c9f" stroke-width="2.2" stroke-linejoin="round" opacity="0.85"/>
<path d="M297.6 144.4 L308.3 142.4 L321.8 139.7 L332.6 139 L342.1 137" fill="none" stroke="#a09c9f" stroke-width="1.4" stroke-linejoin="round" opacity="0.85"/>
<path d="M347.5 142.4 L346.8 150.5 L348.8 163.9" fill="none" stroke="#a09c9f" stroke-width="1.6" stroke-linejoin="round" opacity="0.85"/>
<path d="M262.5 220.4 L254.4 224.4 L250.4 229.8 L247.7 233.9 L246.3 242" fill="none" stroke="#a09c9f" stroke-width="1.4" stroke-linejoin="round" opacity="0.85"/>
<path d="M274.6 264.2 L276 271.6 L274.6 278.4 L267.9 294.6 L270.6 305.4" fill="none" stroke="#a09c9f" stroke-width="1.4" stroke-linejoin="round" opacity="0.85"/>
<path d="M247.7 289.8 L265.2 285.1 L276 281.1 L284.1 271.6 L288.1 266.9 L294.9 264.9" fill="none" stroke="#a09c9f" stroke-width="1.6" stroke-linejoin="round" opacity="0.85"/>
<path d="M346.1 162.9 L351.7 167.1 L365.7 181.1 L374.1 188.1 L388.1 197.9 L402.2 204.9 L416.2 211.9 L424.6 216.1" fill="none" stroke="#a09c9f" stroke-width="1.8" stroke-linejoin="round" opacity="0.85"/>
<path d="M372.7 216.1 L368.5 223.1 L365.7 231.5 L360.1 241.4 L355.9 251.2" fill="none" stroke="#a09c9f" stroke-width="1.1" stroke-linejoin="round" opacity="0.85"/>
<path d="M251.2 225.5 L248 233.6 L231.8 241.7 L215.6 248.2 L201.1 254.7 L189.7 267.6 L186.5 270.8" fill="none" stroke="#a09c9f" stroke-width="1.8" stroke-linejoin="round" opacity="0.85"/>
<path d="M170.5 297.8 L170.5 286.3 L172 282.6 L173.8 279.1 L176.3 276.7 L181.3 271.9 L187.6 265.9 L195.1 258.6 L200.7 253.8 L208.6 247.7 L212 245.2 L215.1 244.4 L223.9 244.5 L230.1 243.6 L235.9 241.7 L243.6 238.2 L251.7 234.7 L262.5 229.8 L269.6 226.9 L278.7 222.8 L287.4 218.8 L296.9 213.8 L309 208.9 L321.8 204.4 L329.9 202.4 L338 197.9 L346.1 193.6 L354.9 188.6 L338.4 197.9 L346.1 193.7 L354.5 188.8 L360.1 186 L363.6 183.9 L364.7 181.8 L362.9 179 L360.1 172.7 L358.7 167.8 L356.6 165.7 L354.2 160.7 L353.1 156.5 L352.4 151.6 M266.9 137.6 L276 142.8 L290.8 150.7 L298.9 155.9 L303.2 159.6 M303.2 159.6 L301.2 162.9 L297.3 165.9 L290.7 169.6 M303.2 159.6 L307.1 158.8 L315.2 156.5 L329 154.6 L340.5 153 L352.4 151.6 L357.3 150.7 L359.4 148.1 L358.7 146.7 M358.7 167.8 L368.5 165.9 L379.7 163.8 L386.7 162.6" fill="none" stroke="#80301c" stroke-width="1.0" stroke-linejoin="round"/>
<circle cx="170.5" cy="297.8" r="1.15" fill="#150805"/>
<circle cx="170.5" cy="285.8" r="1.15" fill="#150805"/>
<circle cx="176.1" cy="276.7" r="1.15" fill="#150805"/>
<circle cx="187.3" cy="265.8" r="1.15" fill="#150805"/>
<circle cx="200.7" cy="253.8" r="1.15" fill="#150805"/>
<circle cx="208.6" cy="247.7" r="1.15" fill="#150805"/>
<circle cx="235.9" cy="241.7" r="1.15" fill="#150805"/>
<circle cx="251.7" cy="234.7" r="1.15" fill="#150805"/>
<circle cx="269.6" cy="226.9" r="1.15" fill="#150805"/>
<circle cx="287.4" cy="218.8" r="1.15" fill="#150805"/>
<circle cx="296.9" cy="213.8" r="1.15" fill="#150805"/>
<circle cx="309" cy="208.9" r="1.15" fill="#150805"/>
<circle cx="338" cy="197.9" r="1.15" fill="#150805"/>
<circle cx="354.9" cy="188.6" r="1.15" fill="#150805"/>
<circle cx="338.4" cy="197.9" r="1.15" fill="#150805"/>
<circle cx="354.5" cy="188.8" r="1.15" fill="#150805"/>
<circle cx="360.1" cy="186" r="1.15" fill="#150805"/>
<circle cx="362.9" cy="179" r="1.15" fill="#150805"/>
<circle cx="360.1" cy="172.7" r="1.15" fill="#150805"/>
<circle cx="358.7" cy="167.8" r="1.15" fill="#150805"/>
<circle cx="354.2" cy="160.7" r="1.15" fill="#150805"/>
<circle cx="352.4" cy="151.6" r="1.15" fill="#150805"/>
<circle cx="266.9" cy="137.6" r="1.15" fill="#150805"/>
<circle cx="276" cy="142.8" r="1.15" fill="#150805"/>
<circle cx="290.8" cy="150.7" r="1.15" fill="#150805"/>
<circle cx="297.3" cy="165.9" r="1.15" fill="#150805"/>
<circle cx="290.7" cy="169.6" r="1.15" fill="#150805"/>
<circle cx="307.1" cy="158.8" r="1.15" fill="#150805"/>
<circle cx="329" cy="154.6" r="1.15" fill="#150805"/>
<circle cx="358.7" cy="146.7" r="1.15" fill="#150805"/>
<circle cx="379.7" cy="163.8" r="1.15" fill="#150805"/>
</g></g>
<polygon points="304.1,482.7 457.9,570.6 226,704.4 73.4,615.5" fill="none" stroke="#3c3c3c" stroke-width="0.8"/>
</g>
<g id="plane1">
<polygon points="304.1,298.4 457.9,386.3 226,520.1 73.4,431.2" fill="#e8e0d3"/>
<g transform="translate(0 183.3)"><g clip-path="url(#pc)">
<path d="M221.8 229.5 L231.9 223.7 L236.3 226.3 L226.3 232.1Z M221 217.3 L233.5 210.1 L242.3 215.3 L229.8 222.5Z M228.7 274.2 L237.2 269.4 L244.5 273.6 L236.1 278.5Z M240.4 252.4 L249.5 247.2 L257.1 251.6 L248.1 256.8Z M242.4 272.4 L248.7 268.8 L254 271.8 L247.7 275.5Z M247.7 275.5 L254 271.8 L258 274.2 L251.7 277.8Z M248.7 268.8 L257 264 L266.3 269.4 L258 274.2Z M220.9 163 L225.6 160.3 L237.8 167.4 L233 170.1Z M247.3 186 L261.1 178.1 L274.3 185.8 L260.5 193.7Z M278 139.8 L290.8 132.5 L298.7 137.1 L285.9 144.5Z M291.9 141 L295.3 139 L299.5 141.4 L296.1 143.4Z M302.8 143.4 L308.4 140.1 L316.2 144.6 L310.5 147.9Z M278.6 166.2 L289.3 160.1 L302.9 168 L292.2 174.1Z M345.2 146.2 L351.4 142.6 L358.3 146.7 L352 150.2Z M268.9 203.1 L280.4 196.5 L289.3 201.7 L277.8 208.3Z M332.8 189.4 L338.3 186.3 L343.4 189.3 L338 192.4Z M365.2 175.4 L372.1 171.5 L377.7 174.8 L370.9 178.7Z M367.9 169.1 L372.8 166.2 L382.7 171.9 L377.7 174.8Z M364.2 161.2 L373.7 155.7 L380.5 159.6 L370.9 165.1Z M370.9 165.1 L376.6 161.8 L381.2 164.5 L375.5 167.8Z M376.6 161.8 L380.5 159.6 L385 162.3 L381.2 164.5Z M375.5 167.8 L380.9 164.7 L388.1 168.8 L382.7 171.9Z M380.9 164.7 L385 162.3 L392.2 166.4 L388.1 168.8Z M355.5 187.6 L369.1 179.8 L378 185 L364.4 192.8Z M381.3 178.3 L388.7 174.1 L396.1 178.4 L388.8 182.6Z M393.7 188.3 L397.5 186.2 L402.2 188.9 L398.4 191.1Z M390.1 181.9 L398.3 177.2 L403.5 180.2 L395.3 184.9Z M412.1 224.9 L416 222.7 L420.1 225.1 L416.2 227.3Z M416.4 222.9 L421.1 220.2 L424.8 222.3 L420.1 225.1Z M421.2 220.2 L429.6 215.4 L433.2 217.5 L424.8 222.3Z M393.1 194.2 L402.1 189 L412.1 194.8 L403.2 200Z M412.2 205.2 L424.6 198.1 L430.3 201.4 L417.9 208.6Z" fill="#e5d9c3" stroke="#000" stroke-opacity="0.06" stroke-width="0.4"/>
<path d="M215.4 233.1 L221.8 229.5 L226.3 232.1 L219.9 235.7Z M214.3 225.1 L224.3 219.3 L231.9 223.7 L221.8 229.5Z M221.4 203 L229.1 198.5 L236.8 203 L229 207.4Z M235.1 219.5 L242.3 215.3 L248.9 219.1 L241.6 223.3Z M233.5 210.1 L241.3 205.6 L246.8 208.8 L239 213.3Z M239 213.3 L246.8 208.8 L250.7 211.1 L242.8 215.6Z M197.5 295.8 L211.1 287.9 L219.9 293.1 L206.3 300.9Z M218.2 258.3 L234.5 248.9 L249.3 257.6 L233 266.9Z M234.5 248.9 L237.9 247 L243.8 250.4 L240.4 252.4Z M237.9 247 L243.6 243.7 L249.5 247.2 L243.8 250.4Z M249.2 229.9 L266.2 220.1 L282.3 229.5 L265.3 239.3Z M219.6 193 L231.2 186.3 L245.3 194.6 L233.7 201.2Z M231.2 186.3 L239.5 181.5 L247.4 186.1 L239.1 190.9Z M252.4 197.6 L259.9 193.4 L264.1 195.8 L256.7 200.1Z M260.5 193.7 L274.3 185.8 L286.5 192.9 L272.7 200.9Z M270.4 183.6 L278.6 178.8 L294.7 188.2 L286.5 192.9Z M278.6 178.8 L289.5 172.6 L299.8 178.6 L288.9 184.8Z M294.3 181.8 L299.8 178.6 L305.6 181.9 L300 185.1Z M263.4 218.5 L269.6 214.9 L280.2 221.1 L274.1 224.7Z M275.5 211.5 L279.5 209.2 L284.8 212.3 L280.9 214.6Z M274.9 218 L279.6 215.3 L285 218.4 L280.2 221.1Z M291.7 203 L297.5 199.7 L301.9 202.2 L296.1 205.6Z M297.5 199.7 L304.3 195.8 L309.7 198.9 L302.9 202.8Z M293 189.2 L305.7 181.9 L319.1 189.7 L306.4 197Z M321.5 236 L327.5 232.6 L331.8 235.1 L325.8 238.5Z M321 228.8 L327.1 225.3 L331.4 227.8 L325.3 231.3Z M312.5 202.6 L326.9 194.3 L333.6 198.2 L319.2 206.5Z M371.6 239.7 L378.1 236 L382.7 238.6 L376.2 242.4Z M305.7 181.9 L316.8 175.5 L329.9 183.1 L318.7 189.5Z M324 179.6 L328.3 177.1 L334.2 180.6 L329.9 183.1Z M325.9 185.4 L331.3 182.2 L338.3 186.3 L332.8 189.4Z M330.8 196.6 L338.4 192.2 L345 196.1 L337.4 200.4Z M339.1 178 L354.4 169.2 L370.9 178.7 L355.5 187.6Z M364.4 192.8 L378 185 L385 189 L371.4 196.9Z M376.2 199.6 L381.6 196.5 L385.3 198.7 L379.9 201.8Z M383.9 171.3 L392.2 166.4 L404.5 173.6 L396.1 178.4Z M371.8 212.8 L376 210.4 L382.1 213.9 L377.9 216.3Z M410.4 184.3 L416.6 180.7 L420.7 183.1 L414.5 186.7Z M415.5 192.9 L426.6 186.5 L441.4 195.1 L430.3 201.4Z M435.1 198.7 L441.4 195.1 L449.1 199.6 L442.8 203.2Z" fill="#dccaab" stroke="#000" stroke-opacity="0.06" stroke-width="0.4"/>
<path d="M229 207.4 L236.8 203 L241.3 205.6 L233.5 210.1Z M229.8 222.5 L235.1 219.5 L241.6 223.3 L236.3 226.3Z M224.9 232.9 L239.7 224.4 L254.1 232.8 L239.4 241.3Z M239.7 224.4 L256.7 214.6 L266.2 220.1 L249.2 229.9Z M239.1 190.9 L247.4 186.1 L253.7 189.7 L245.3 194.6Z M233.7 201.2 L239.1 198.1 L242.7 200.3 L237.4 203.3Z M237.4 203.3 L242.7 200.3 L248.2 203.5 L242.8 206.5Z M239.1 198.1 L246.2 194 L255.3 199.3 L248.2 203.5Z M258 215.4 L261.8 213.2 L267.2 216.3 L263.4 218.5Z M263.2 206.4 L268.9 203.1 L279.5 209.2 L273.8 212.5Z M269.6 214.9 L275.5 211.5 L280.9 214.6 L274.9 218Z M279.6 215.3 L284.8 212.3 L290.1 215.4 L285 218.4Z M280.4 196.5 L293 189.2 L304.3 195.8 L291.7 203Z M296.1 205.6 L301.9 202.2 L307.4 205.5 L301.6 208.8Z M274.1 224.7 L288 216.7 L296.2 221.5 L282.3 229.5Z M317.3 226.2 L323.1 222.9 L327.1 225.3 L321.4 228.6Z M329.1 226.4 L336 222.5 L344.8 227.6 L338 231.6Z M335.8 232.8 L346.9 226.4 L353.6 230.3 L342.6 236.7Z M352 237 L358.6 233.2 L366.7 237.9 L360.1 241.7Z M346.9 226.4 L350.6 224.3 L359 229.1 L355.3 231.3Z M318.7 189.5 L325.9 185.4 L338 192.4 L330.8 196.6Z M347.7 206.4 L351.7 204.1 L357.2 207.3 L353.1 209.6Z M351.7 204.1 L356.3 201.4 L361.8 204.6 L357.2 207.3Z M362.6 205.1 L368.6 201.7 L374.3 205 L368.4 208.4Z M368.6 201.7 L374.2 198.5 L379.9 201.8 L374.3 205Z M381.2 196.3 L389.3 191.6 L393.5 194 L385.3 198.7Z M369.1 179.8 L376.5 175.5 L388.8 182.6 L381.4 186.9Z M381.4 186.9 L386.5 184 L393.8 188.3 L388.7 191.2Z M388.7 191.2 L393.7 188.3 L398.4 191.1 L393.5 194Z M395.3 184.9 L403.5 180.2 L410.4 184.2 L402.2 188.9Z M370.5 207.2 L379.4 202.1 L390.9 208.8 L382.1 213.9Z M387 197.7 L393.1 194.2 L406 201.7 L399.9 205.2Z M392.2 209.6 L406 201.7 L415.3 207.1 L401.5 215Z M381.9 226.3 L398.3 216.8 L416.2 227.3 L399.8 236.8Z M398.3 216.8 L408.5 211 L418 216.5 L407.8 222.4Z M408.5 211 L415.3 207.1 L424.8 212.6 L418 216.5Z M416.4 217.5 L424.8 212.6 L429.6 215.4 L421.2 220.2Z M402.1 189 L410.4 184.3 L420.4 190.1 L412.1 194.8Z M414.5 186.7 L420.7 183.1 L426.6 186.5 L420.4 190.1Z M417.9 208.6 L429.9 201.7 L445.2 210.6 L433.2 217.5Z M429.9 201.7 L435.1 198.7 L442.8 203.2 L437.6 206.2Z M442.7 203.2 L449.1 199.6 L456.7 204 L450.3 207.7Z" fill="#e2c999" stroke="#000" stroke-opacity="0.06" stroke-width="0.4"/>
<path d="M242.8 215.6 L250.7 211.1 L256.7 214.6 L248.9 219.1Z M242.8 206.5 L255.3 199.3 L265.3 205.1 L252.8 212.3Z M246.2 194 L253.7 189.7 L259.9 193.4 L252.4 197.6Z M256.7 200.1 L264.1 195.8 L269.2 198.8 L261.7 203Z M261.7 203 L269.2 198.8 L272.7 200.9 L265.3 205.1Z M288.9 184.8 L294.3 181.8 L300 185.1 L294.7 188.2Z M252.8 212.3 L259.2 208.7 L264.4 211.7 L258 215.4Z M259.2 208.7 L263.2 206.4 L268.4 209.4 L264.4 211.7Z M261.8 213.2 L268.4 209.4 L273.8 212.5 L267.2 216.3Z M277.8 208.3 L289.3 201.7 L301.6 208.8 L290.1 215.4Z M306.4 197 L319.1 189.7 L326.9 194.3 L314.2 201.6Z M282.3 229.5 L296.2 221.5 L304.1 226.1 L290.2 234.1Z M288 216.7 L300.3 209.6 L308.1 214.2 L295.8 221.2Z M295.8 221.2 L303 217.1 L311.4 221.9 L304.1 226.1Z M303 217.1 L308.1 214.2 L316.4 219 L311.4 221.9Z M299.3 228.9 L304.3 226 L314 231.6 L309 234.5Z M304.3 226 L310.6 222.3 L316 225.5 L309.7 229.1Z M309.7 229.1 L316 225.5 L321.4 228.6 L315 232.2Z M310.6 222.3 L316.4 219 L323.1 222.9 L317.3 226.2Z M315 232.2 L321 228.8 L327.5 232.6 L321.5 236Z M325.3 231.3 L331.4 227.8 L338 231.6 L331.8 235.1Z M300.3 209.6 L312.5 202.6 L327.1 211.1 L314.9 218.1Z M319.2 206.5 L333.6 198.2 L341.5 202.8 L327.1 211.1Z M314.9 218.1 L329.3 209.8 L343.6 218.1 L329.1 226.4Z M336 222.5 L343.6 218.1 L346.9 220.1 L339.4 224.5Z M339.4 224.5 L346.9 220.1 L352.4 223.3 L344.8 227.6Z M329.3 209.8 L341.5 202.8 L352.9 209.4 L340.7 216.5Z M340.7 216.5 L352.9 209.4 L364.6 216.2 L352.4 223.3Z M342.6 236.7 L348.8 233.1 L353.8 236 L347.5 239.6Z M348.8 233.1 L353.6 230.3 L358.6 233.2 L353.8 236Z M347.5 239.6 L352 237 L360.1 241.7 L355.6 244.3Z M350.6 224.3 L357.3 220.4 L365.6 225.3 L359 229.1Z M357.3 220.4 L364.6 216.2 L372.9 221.1 L365.6 225.3Z M355.3 231.3 L361.3 227.8 L368.7 232.1 L362.6 235.5Z M361.3 227.8 L365.5 225.4 L372.8 229.7 L368.7 232.1Z M362.6 235.5 L372.8 229.7 L376.9 232.1 L366.7 237.9Z M365.5 225.4 L372.9 221.1 L384.4 227.8 L376.9 232.1Z M367.6 237.4 L374.1 233.6 L378.1 236 L371.6 239.7Z M374.1 233.6 L384.4 227.8 L394 233.4 L383.8 239.3Z M383.8 239.3 L394 233.4 L399.8 236.8 L389.6 242.6Z M331.3 182.2 L338.9 177.9 L351 185 L343.4 189.3Z M337.4 200.4 L345 196.1 L355.2 202 L347.7 206.4Z M338.4 192.2 L351 185 L367.8 194.8 L355.2 202Z M353.1 209.6 L357 207.4 L363.6 211.2 L359.7 213.4Z M357 207.4 L361.8 204.6 L368.4 208.4 L363.6 211.2Z M356.3 201.4 L363 197.5 L369.4 201.2 L362.6 205.1Z M363 197.5 L367.8 194.8 L374.2 198.5 L369.4 201.2Z M371.4 196.9 L376.8 193.7 L381.6 196.5 L376.2 199.6Z M376.8 193.7 L385 189 L389.3 191.6 L381.2 196.3Z M386.5 184 L390.1 181.9 L397.5 186.2 L393.8 188.3Z M359.7 213.4 L370.5 207.2 L376 210.4 L365.2 216.6Z M365.2 216.6 L371.8 212.8 L377.9 216.3 L371.3 220.1Z M371.3 220.1 L380.7 214.7 L391.3 220.9 L381.9 226.3Z M380.7 214.7 L384.4 212.6 L388.3 214.9 L384.7 217Z M384.4 212.6 L390.9 208.8 L394.9 211.1 L388.3 214.9Z M384.7 217 L390.4 213.7 L397 217.6 L391.3 220.9Z M390.4 213.7 L394.9 211.1 L401.5 215 L397 217.6Z M379.4 202.1 L387 197.7 L391.9 200.5 L384.2 204.9Z M384.2 204.9 L391.9 200.5 L399.9 205.2 L392.2 209.6Z M407.8 222.4 L411.7 220.2 L416 222.7 L412.1 224.9Z M411.7 220.2 L416.4 217.5 L421.1 220.2 L416.4 222.9Z M437.6 206.2 L442.7 203.2 L450.3 207.7 L445.2 210.6Z" fill="#d8b477" stroke="#000" stroke-opacity="0.06" stroke-width="0.4"/>
<path d="M148.2 210 L152.6 206.3 L159.4 205 L158.8 200.6 L166.3 198.8 L170.1 195 L176.3 193.8 L180.1 190 L184.3 191.6 L187 188.2 L192.4 186.9 L195.1 181.5 L200.5 177.4 L204.5 176.8 L208.6 173.4 L218 170 L223.4 168 L226.8 170.7 L223.4 174.1 L216.6 176.1 L219.3 178.8 L211.2 182.8 L207.2 185.5 L204.5 188.2 L209.9 189.6 L211.2 191.6 L207.2 192.9 L203.2 196.3 L208.6 197.7 L205.9 200.4 L200.5 203.1 L208.6 205.1 L218 202.4 L224.7 201.7 L228.8 203.1 L230.1 205.8 L224.7 207.1 L223.4 212.5 L219.3 215.2 L213.9 217.9 L207.2 224.6 L205.9 227.3 L198.8 225.7 L188.8 223.8 L181.3 222.8 L176.3 220.6 L166.9 220 L163.2 216.9 L156.3 216.9 L155.1 214.4 L148.8 213.8Z M145.7 245.7 L151.3 244.7 L167.6 246.9 L168.2 248.8 L162.6 248.8 L146.3 247.8Z M135 250.9 L141.3 249.8 L157.6 251.3 L162.6 252.5 L170.7 252.5 L171.3 255 L165.1 256.9 L157.6 255.7 L143.8 255 L136.3 253.2Z M127.8 279.6 L128.2 276.3 L147.6 276.3 L147.8 269.4 L212 271.1 L211.9 270 L209.9 278.4 L205.9 290.5 L201.8 297.3 L198.4 304.7 L204.5 306.7 L218 308.1 L230.1 308.1 L235.5 309.4 L246.3 311 L254.4 311.6 L256 315.1 L226 336.8Z M234.8 298.6 L240.9 294.6 L254.4 292.5 L266.5 292.5 L267.9 294.6 L266.5 301.3 L263.8 305.4 L259.8 308.1 L254.4 308.1 L240.9 305.4 L234.2 303.3Z M263.8 224.4 L267.9 229.8 L266.5 233.9 L274.6 234.6 L278.7 233.2 L285.4 231.9 L294.9 233.2 L300.3 235.2 L303 231.9 L311 231.2 L315.1 236.6 L321.8 241.3 L329.9 240.6 L334 243.3 L328.6 246.7 L319.1 252.8 L323.2 255.5 L320.5 259.5 L313.7 261.5 L309.7 264.9 L300.3 266.9 L289.5 266.9 L288.1 264.9 L281.4 264.9 L278.7 268.3 L274.6 264.9 L273.3 260.9 L269.2 257.9 L266.5 258.2 L265.2 262.2 L255.8 263.3 L254.4 266.2 L257.1 268.3 L253.1 273 L246.3 274.3 L248.3 268.3 L249 262.2 L242.3 262.9 L242.9 258.2 L245.6 254.1 L246.3 250.7 L249.7 246 L251.7 237.9 L257.1 231.2 L261.1 226.5Z M242.3 278.4 L253.1 277.7 L254.4 279.7 L243.6 281.1Z M234.8 285.8 L238.9 285.1 L238.2 288.5 L234.2 288.9Z M277.3 276.4 L282.7 276 L282 278.1 L277.1 278.4Z M313.7 229.2 L324.5 220.4 L334 221.7 L340.7 225.1 L336.7 228.5 L343.4 232.5 L334 239.3 L329.9 241.3 L321.8 240.6 L315.1 236.6 L313.7 232.5Z M323 255 L333 249 L334 244 L349 241 L357 237 L364 241 L373 244 L380 237 L383 234 L392.5 240.2 L325 279 L310 270Z M421.1 189.5 L426 186.3 L457.5 202.8 L449.8 207 L438.6 200.7 L435.8 195.8 L428.8 193.7Z" fill="#fff"/>
<path d="M135 276.3 L135 286.3 M141.3 276.3 L141.3 290.1 M147.6 269.4 L147.6 293.8 M153.6 270.1 L153.6 296.3 M159.4 270.1 L159.4 298.8 M166.3 270.1 L166.3 302.6 M174.5 277.6 L174.5 302.6 M128.2 276.3 L175.1 276.3 M132.5 282.6 L187.6 282.6 M140.1 288.8 L195.1 288.8 M150.1 294.5 L203.9 294.5 M157.6 298.8 L196.3 298.8 M167.6 303.2 L195.1 303.2 M190.1 271.3 L185.1 282.6 L180.1 293.8 L177.6 302.6 M200.7 270.1 L195.1 286.3 L190.7 301.3 M207.6 271.3 L202.6 285.1 L198.8 296.3 M182.6 271.3 L176.3 280.1 L174.5 285.1 M160.1 200 L162.6 206.3 L170.1 210 L173.8 213.8 L182.6 214.4 L195.1 213.1 M195.1 190 L192 202.5 L190.1 215 L186.3 222.5 M207.6 202.5 L195.1 213.8 L182.6 223.8 M223.9 203.8 L208.9 215 L195.1 226.3 M220.1 212.5 L207.6 223.8 M202.6 193.8 L192.6 203.8 M193.7 185.5 L192.4 196.3 L195.1 204.4 L191 215.2 L185.6 221.9 M200.5 180.1 L196.4 190.9 L200.5 199 L207.2 204.4 M218 170.7 L205.9 180.1 L200.5 185.5 M224.7 203.1 L211.2 212.5 L200.5 221.9 M227.4 207.1 L216.6 216.5 L207.2 224.6 M173.5 196.3 L176.2 204.4 L173.5 212.5 L168.1 219.2 M135 252.5 L157.6 253.8 L171.3 253.8 M263.8 235.2 L281.4 233.9 L294.9 242 L308.3 246 L319.1 252.8 M267.9 254.1 L288.1 254.1 L308.3 248.7 L328.6 242 M254.4 248.7 L267.9 250.1 L288.1 259.5 L289.5 266.2 M249 255.5 L262.5 255.5 L273.3 260.9 M253.1 239.3 L257.1 252.8 L254.4 266.2 M246.3 251.4 L254.4 251.4 L266.5 258.2 M281.4 233.9 L286.8 248.7 L289.5 259.5 M300.3 235.2 L305.7 247.4 L319.1 259.5 M274.6 242 L294.9 250.1 L311 260.9 M313.7 232.5 L328.6 231.2 L340.7 225.8 M321.8 223.1 L329.9 232.5 L334 239.3 M323.2 255.5 L342.1 252.8 L360 247.4 M335.3 244 L339.4 255.5 L342.1 266.2 M329.9 250.1 L348.8 246 L360 240.6 M348.9 241.4 L362.9 247 L379.7 241.4 L388.1 245.6 M355.9 251.2 L357.3 244.2 L362.9 237.2 M374.1 242.8 L376.9 251.2 M315.2 235.8 L326.5 231.5 L337.7 225.9 M322.2 223.1 L329.3 231.5 L332.1 238.6 M235.5 301.3 L254.4 298.6 L266.5 295.9" fill="none" stroke="#9c9c9c" stroke-width="0.38" clip-path="url(#wc)"/>
<path d="M242.9 294.8 L247 294.6 L262.5 303.3 L263.8 306.7 L261.1 314.1 L256 314.1 L259.1 306.7 L258.4 304.7 L242.9 295.9Z M292.8 122.1 L296.2 121.5 L298.2 126.2 L294.9 126.9Z M321.8 134.9 L323.9 134.9 L325.9 138.3 L323.9 139Z" fill="#aeb8cb"/>
<path d="M263.8 235.2 L263.2 239.3 L266.5 243.3 L269.2 248.7 L267.9 254.1 L271.9 259.5 L273.3 264.2 L272.6 271.6 L270.6 282.4 L267.9 294.6 L263.8 306.7" fill="none" stroke="#b4bccb" stroke-width="0.9"/>
<path d="M106.3 241.9 L126.3 245.7 L145.1 248.2 L162.6 250 L182.6 251.9 L201.3 254.4 L230 258.2 L240.9 261.5 L254.4 263.6 L276 265.6 L289.5 266.2 L308.3 266.9 L321.8 264.2 L335.3 264.9 L343.4 266.9" fill="none" stroke="#9ba0aa" stroke-width="1.9" stroke-linejoin="round" opacity="0.85"/>
<path d="M247.7 231.4 L254.4 221.9 L262.5 219.2 L274.6 213.2 L281.4 209.8 L294.9 201.7 L308.3 190.9 L321.8 182.8 L335.3 174.7 L346.1 168 L351.5 165.3" fill="none" stroke="#9ba0aa" stroke-width="2.3" stroke-linejoin="round" opacity="0.85"/>
<path d="M297.6 144.4 L308.3 142.4 L321.8 139.7 L332.6 139 L342.1 137" fill="none" stroke="#9ba0aa" stroke-width="1.4" stroke-linejoin="round" opacity="0.85"/>
<path d="M347.5 142.4 L346.8 150.5 L348.8 163.9" fill="none" stroke="#9ba0aa" stroke-width="1.7" stroke-linejoin="round" opacity="0.85"/>
<path d="M262.5 220.4 L254.4 224.4 L250.4 229.8 L247.7 233.9 L246.3 242" fill="none" stroke="#9ba0aa" stroke-width="1.4" stroke-linejoin="round" opacity="0.85"/>
<path d="M274.6 264.2 L276 271.6 L274.6 278.4 L267.9 294.6 L270.6 305.4" fill="none" stroke="#9ba0aa" stroke-width="1.4" stroke-linejoin="round" opacity="0.85"/>
<path d="M247.7 289.8 L265.2 285.1 L276 281.1 L284.1 271.6 L288.1 266.9 L294.9 264.9" fill="none" stroke="#9ba0aa" stroke-width="1.7" stroke-linejoin="round" opacity="0.85"/>
<path d="M346.1 162.9 L351.7 167.1 L365.7 181.1 L374.1 188.1 L388.1 197.9 L402.2 204.9 L416.2 211.9 L424.6 216.1" fill="none" stroke="#9ba0aa" stroke-width="1.9" stroke-linejoin="round" opacity="0.85"/>
<path d="M372.7 216.1 L368.5 223.1 L365.7 231.5 L360.1 241.4 L355.9 251.2" fill="none" stroke="#9ba0aa" stroke-width="1.2" stroke-linejoin="round" opacity="0.85"/>
<path d="M251.2 225.5 L248 233.6 L231.8 241.7 L215.6 248.2 L201.1 254.7 L189.7 267.6 L186.5 270.8" fill="none" stroke="#9ba0aa" stroke-width="1.9" stroke-linejoin="round" opacity="0.85"/>
<path d="M170.5 297.8 L170.5 286.3 L172 282.6 L173.8 279.1 L176.3 276.7 L181.3 271.9 L187.6 265.9 L195.1 258.6 L200.7 253.8 L208.6 247.7 L212 245.2 L215.1 244.4 L223.9 244.5 L230.1 243.6 L235.9 241.7 L243.6 238.2 L251.7 234.7 L262.5 229.8 L269.6 226.9 L278.7 222.8 L287.4 218.8 L296.9 213.8 L309 208.9 L321.8 204.4 L329.9 202.4 L338 197.9 L346.1 193.6 L354.9 188.6 L338.4 197.9 L346.1 193.7 L354.5 188.8 L360.1 186 L363.6 183.9 L364.7 181.8 L362.9 179 L360.1 172.7 L358.7 167.8 L356.6 165.7 L354.2 160.7 L353.1 156.5 L352.4 151.6 M266.9 137.6 L276 142.8 L290.8 150.7 L298.9 155.9 L303.2 159.6 M303.2 159.6 L301.2 162.9 L297.3 165.9 L290.7 169.6 M303.2 159.6 L307.1 158.8 L315.2 156.5 L329 154.6 L340.5 153 L352.4 151.6 L357.3 150.7 L359.4 148.1 L358.7 146.7 M358.7 167.8 L368.5 165.9 L379.7 163.8 L386.7 162.6" fill="none" stroke="#80301c" stroke-width="1.0" stroke-linejoin="round"/>
<circle cx="170.5" cy="297.8" r="1.15" fill="#150805"/>
<circle cx="170.5" cy="285.8" r="1.15" fill="#150805"/>
<circle cx="176.1" cy="276.7" r="1.15" fill="#150805"/>
<circle cx="187.3" cy="265.8" r="1.15" fill="#150805"/>
<circle cx="200.7" cy="253.8" r="1.15" fill="#150805"/>
<circle cx="208.6" cy="247.7" r="1.15" fill="#150805"/>
<circle cx="235.9" cy="241.7" r="1.15" fill="#150805"/>
<circle cx="251.7" cy="234.7" r="1.15" fill="#150805"/>
<circle cx="269.6" cy="226.9" r="1.15" fill="#150805"/>
<circle cx="287.4" cy="218.8" r="1.15" fill="#150805"/>
<circle cx="296.9" cy="213.8" r="1.15" fill="#150805"/>
<circle cx="309" cy="208.9" r="1.15" fill="#150805"/>
<circle cx="338" cy="197.9" r="1.15" fill="#150805"/>
<circle cx="354.9" cy="188.6" r="1.15" fill="#150805"/>
<circle cx="338.4" cy="197.9" r="1.15" fill="#150805"/>
<circle cx="354.5" cy="188.8" r="1.15" fill="#150805"/>
<circle cx="360.1" cy="186" r="1.15" fill="#150805"/>
<circle cx="362.9" cy="179" r="1.15" fill="#150805"/>
<circle cx="360.1" cy="172.7" r="1.15" fill="#150805"/>
<circle cx="358.7" cy="167.8" r="1.15" fill="#150805"/>
<circle cx="354.2" cy="160.7" r="1.15" fill="#150805"/>
<circle cx="352.4" cy="151.6" r="1.15" fill="#150805"/>
<circle cx="266.9" cy="137.6" r="1.15" fill="#150805"/>
<circle cx="276" cy="142.8" r="1.15" fill="#150805"/>
<circle cx="290.8" cy="150.7" r="1.15" fill="#150805"/>
<circle cx="297.3" cy="165.9" r="1.15" fill="#150805"/>
<circle cx="290.7" cy="169.6" r="1.15" fill="#150805"/>
<circle cx="307.1" cy="158.8" r="1.15" fill="#150805"/>
<circle cx="329" cy="154.6" r="1.15" fill="#150805"/>
<circle cx="358.7" cy="146.7" r="1.15" fill="#150805"/>
<circle cx="379.7" cy="163.8" r="1.15" fill="#150805"/>
</g></g>
<polygon points="304.1,298.4 457.9,386.3 226,520.1 73.4,431.2" fill="none" stroke="#3c3c3c" stroke-width="0.8"/>
</g>
<g id="plane0">
<polygon points="304.1,115.1 457.9,203 226,336.8 73.4,247.9" fill="#bccca9"/>
<g transform="translate(0 0)"><g clip-path="url(#pc)">
<path d="M162.8 254.8 L171.4 249.8 L176.2 252.6 L167.6 257.5Z M167.6 257.5 L171.3 255.4 L179.7 260.3 L176 262.5Z M171.3 255.4 L176.5 252.4 L184.9 257.3 L179.7 260.3Z M195.6 258 L204 253.1 L208.8 255.9 L200.4 260.8Z M201.7 288.2 L213.1 281.6 L227.2 289.8 L215.7 296.4Z M220.3 277.5 L228.4 272.9 L233.2 275.7 L225.2 280.3Z M225.2 280.3 L233.2 275.7 L238.8 278.9 L230.7 283.6Z M215.9 251.8 L223.2 247.7 L240.5 257.8 L233.3 262Z M223.2 247.7 L230.9 243.2 L240.4 248.7 L232.7 253.2Z M237.1 246.8 L244.6 242.4 L248 244.4 L240.4 248.7Z M232.7 253.2 L239.8 249.1 L247.7 253.7 L240.5 257.8Z M221.4 268.8 L227.8 265.2 L235 269.4 L228.7 273Z M236 268.8 L240.1 266.4 L245.2 269.4 L241.1 271.8Z M254.1 275.7 L265.7 269 L274 273.9 L262.5 280.6Z M267.9 291.6 L273.7 288.2 L282.2 293.2 L276.4 296.6Z M273.7 288.2 L281.1 284 L284.2 285.7 L276.8 290Z M276.8 290 L284.2 285.7 L289.6 288.9 L282.2 293.2Z M268.9 276.9 L286.4 266.8 L303.2 276.6 L285.7 286.6Z M244.9 220.7 L252.9 216.1 L258.4 219.3 L250.5 223.9Z M250.5 223.9 L258.4 219.3 L262.2 221.6 L254.3 226.1Z M256.3 218.1 L260.9 215.5 L266.8 218.9 L262.2 221.6Z M255.8 203 L260.7 200.1 L265.3 202.8 L260.3 205.6Z M266.3 190.6 L271.8 187.5 L281.8 193.3 L276.3 196.4Z M260.3 205.6 L269.3 200.4 L284.1 209 L275.1 214.2Z M238.9 152.6 L247.2 147.9 L257.1 153.7 L248.9 158.4Z M247.2 147.9 L262.1 139.3 L273.4 145.8 L258.4 154.5Z M266.8 159.3 L274.7 154.7 L280 157.8 L272.1 162.4Z M270.6 186.7 L276.9 183.1 L283.2 186.8 L276.9 190.4Z M276.9 183.1 L282.1 180.1 L288.4 183.8 L283.2 186.8Z M271.3 162.8 L278.5 158.7 L283.2 161.4 L276 165.6Z M276 165.6 L283.2 161.4 L289.2 164.9 L281.9 169Z M282.9 161.2 L287.7 158.4 L294 162.1 L289.2 164.9Z M281.9 169 L287.6 165.8 L293.7 169.3 L288.1 172.6Z M287.6 165.8 L291.6 163.5 L297.7 167 L293.7 169.3Z M285.9 195.7 L292.9 191.7 L297.3 194.2 L290.3 198.2Z M290.3 198.2 L297.3 194.2 L303.5 197.8 L296.5 201.8Z M298.2 194.8 L304.9 191 L310.1 194 L303.5 197.8Z M296.9 178.9 L300.8 176.6 L308.8 181.3 L304.9 183.6Z M308.2 180.9 L314.5 177.3 L320.9 181 L314.6 184.6Z M270.7 144.3 L278.5 139.8 L285.4 143.9 L277.7 148.3Z M289.9 155.5 L297.1 151.4 L303.7 155.3 L296.6 159.4Z M290.2 147.4 L296 144.1 L301.6 147.3 L295.8 150.6Z M298.9 152.5 L306.7 148 L316.1 153.4 L308.3 157.9Z M306.7 148 L312.1 144.9 L317.7 148.1 L312.3 151.2Z M291.7 122.2 L304.1 115.1 L312.3 119.9 L299.9 127Z M299.9 127 L312.3 119.9 L324.5 127 L312.1 134.1Z M310.8 134.8 L318.6 130.3 L323.1 132.9 L315.3 137.5Z M318.6 130.3 L324.5 127 L328.5 129.3 L322.6 132.7Z M334.8 167.7 L345.4 161.6 L355.8 167.7 L345.2 173.8Z M340.9 146.1 L349.2 141.3 L354.9 144.7 L346.6 149.4Z M335.5 155.8 L341.1 152.6 L348.9 157.2 L343.3 160.4Z M345.4 150.1 L350.8 147 L358.7 151.6 L353.2 154.7Z M350.8 147 L354.9 144.7 L362.7 149.2 L358.7 151.6Z M343.3 160.4 L349 157.1 L355.9 161.1 L350.2 164.4Z M349 157.1 L353.1 154.8 L360 158.8 L355.9 161.1Z M350.2 164.4 L360 158.8 L365.6 162.1 L355.8 167.7Z M249 229.2 L261 222.3 L269.2 227.1 L257.2 234Z M280.5 220.4 L285.5 217.5 L291.5 221 L286.5 223.9Z M285.5 217.5 L290 214.9 L296 218.4 L291.5 221Z M287.6 213.6 L294.1 209.8 L302.5 214.7 L296 218.4Z M294.1 209.8 L299.3 206.9 L307.6 211.7 L302.5 214.7Z M289.5 222.2 L307.6 211.7 L318.7 218.2 L300.6 228.7Z M307.9 224.4 L312.1 222 L317 224.9 L312.8 227.3Z M312.1 222 L318.7 218.2 L328.6 224 L322 227.8Z M303.3 209.2 L311.8 204.3 L320.7 209.5 L312.2 214.4Z M310.9 193.6 L315.8 190.8 L319.6 193 L314.7 195.8Z M314.7 195.8 L319.6 193 L326.4 197 L321.6 199.8Z M312.2 214.4 L321.5 209 L337.1 218.2 L327.9 223.5Z M321.5 209 L328.3 205.1 L334.8 208.9 L327.9 212.8Z M327.9 212.8 L340.9 205.4 L350.1 210.8 L337.1 218.2Z M328 188.8 L335.1 184.7 L340.8 188 L333.6 192.1Z M336.4 197.2 L342.4 193.7 L346.5 196.1 L340.5 199.6Z M334.8 179.8 L339.5 177.1 L349.4 182.9 L344.7 185.6Z M351 189.2 L356.3 186.2 L360 188.3 L354.7 191.4Z M335.6 202.3 L342.4 198.5 L356.8 206.9 L350.1 210.8Z M342.4 198.5 L346.6 196 L352.6 199.5 L348.4 202Z M346.6 196 L353.9 191.8 L360 195.3 L352.6 199.5Z M348.4 202 L355.7 197.8 L359.5 200 L352.2 204.2Z M353.9 191.8 L358.9 189 L366.7 193.5 L361.8 196.4Z M360.2 182.2 L368.1 177.6 L373 180.5 L365.1 185Z M365.1 185 L372.4 180.8 L378 184 L370.6 188.2Z M327.9 223.5 L334.3 219.8 L339.2 222.7 L332.8 226.4Z M332.8 226.4 L339.2 222.7 L344 225.5 L337.6 229.2Z M334.3 219.8 L341.4 215.7 L351.2 221.4 L344 225.5Z M341.4 215.7 L346.3 213 L351.1 215.8 L346.3 218.6Z M346.3 213 L350.7 210.4 L355.6 213.2 L351.1 215.8Z M346.3 218.6 L355.6 213.2 L360.4 216.1 L351.2 221.4Z M337.6 229.2 L343.8 225.6 L350.3 229.4 L344.1 233Z M343.8 225.6 L350.4 221.8 L356.5 225.4 L350 229.2Z M348.7 235.6 L354.3 232.4 L360.3 235.9 L354.7 239.1Z M354.7 239.1 L358.3 237 L366.6 241.9 L363 244Z M358.3 237 L365 233.2 L373.3 238 L366.6 241.9Z M365 233.2 L369.5 230.6 L376.9 234.9 L372.3 237.5Z M369.5 230.6 L377.5 226 L384.9 230.3 L376.9 234.9Z M350.7 210.4 L358 206.2 L365.1 210.3 L357.8 214.5Z M364.8 202.3 L378.2 194.6 L390.4 201.7 L377 209.4Z M374.8 224.4 L378.9 222.1 L385.4 225.9 L381.3 228.2Z M391.9 222.2 L400 217.5 L416.6 227.1 L408.4 231.8Z" fill="#b0bba0" stroke="#000" stroke-opacity="0.06" stroke-width="0.4"/>
<path d="M204 300.1 L209.5 296.9 L214.2 299.7 L208.7 302.8Z M209.5 296.9 L213.1 294.9 L217.7 297.6 L214.2 299.7Z M228.7 273 L236 268.8 L241.1 271.8 L233.7 276Z M248.3 272.3 L255.4 268.2 L261.2 271.6 L254.1 275.7Z M255.9 268.6 L260.4 266 L265.7 269 L261.2 271.6Z M228.2 222.1 L237.8 216.5 L254.3 226.1 L244.6 231.7Z M264.5 198 L271.8 193.8 L276.3 196.4 L269 200.6Z M269.3 200.4 L281.8 193.3 L289.4 197.7 L277 204.9Z M277 204.9 L289.4 197.7 L296.5 201.8 L284.1 209Z M258.4 154.5 L266.3 149.9 L274.7 154.7 L266.8 159.3Z M264 182.9 L270.8 179.1 L277.3 182.9 L270.6 186.7Z M270.8 179.1 L275.6 176.3 L282.1 180.1 L277.3 182.9Z M282 180 L285.5 178.1 L291.9 181.8 L288.4 183.8Z M285.5 178.1 L291.5 174.6 L297.9 178.3 L291.9 181.8Z M288.1 172.6 L295.7 168.2 L300.8 171.2 L293.2 175.6Z M293.2 175.6 L300.8 171.2 L305.5 173.9 L297.9 178.3Z M295.7 168.2 L303.8 163.5 L309.2 166.7 L301.1 171.4Z M301.1 171.4 L309.2 166.7 L313.6 169.3 L305.5 173.9Z M276.9 190.4 L290.5 182.6 L299.5 187.9 L285.9 195.7Z M292.9 191.7 L299.5 187.9 L304.9 191 L298.2 194.8Z M302.9 184.7 L308.8 181.3 L314.7 184.7 L308.8 188.1Z M304.3 190.7 L310.7 187 L316.5 190.4 L310.1 194Z M310.7 187 L314.7 184.7 L320.5 188 L316.5 190.4Z M300.8 176.6 L313.6 169.3 L320.9 173.5 L308.2 180.9Z M314.6 184.6 L320.9 181 L326.8 184.4 L320.5 188Z M314.5 177.3 L320.9 173.5 L333.2 180.7 L326.8 184.4Z M267.3 142.3 L274.8 138 L278.2 140 L270.7 144.3Z M269.6 135 L282.4 127.6 L291 132.6 L278.2 140Z M295.8 150.6 L301.6 147.3 L304.7 149.1 L298.9 152.5Z M282.4 127.6 L286.4 125.3 L291.2 128.1 L287.2 130.4Z M287.2 130.4 L296.5 125 L301.3 127.8 L292 133.2Z M292 133.2 L297.7 129.9 L303 133 L297.3 136.3Z M297.7 129.9 L301.3 127.8 L306.6 130.9 L303 133Z M315.3 137.5 L323.1 132.9 L329 136.4 L321.1 140.9Z M328.1 136.9 L334.8 133 L343.1 137.8 L336.4 141.7Z M301.1 162 L311.8 155.8 L325.1 163.6 L314.4 169.7Z M311.8 155.8 L323.7 149 L331.6 153.6 L319.7 160.4Z M319.7 160.4 L331.6 153.6 L337 156.7 L325.1 163.6Z M326.4 162.8 L331.5 159.9 L335.5 162.2 L330.4 165.1Z M330.4 165.1 L335.5 162.2 L339.9 164.8 L334.8 167.7Z M331.5 159.9 L337 156.7 L345.4 161.6 L339.9 164.8Z M341.1 152.6 L345.4 150.1 L353.2 154.7 L348.9 157.2Z M357.7 152.1 L362.7 149.2 L369.6 153.3 L364.6 156.1Z M235.4 237.1 L241.1 233.8 L250 239 L244.3 242.3Z M241.1 233.8 L249 229.2 L252.5 231.3 L244.6 235.8Z M244.6 235.8 L252.5 231.3 L257.9 234.4 L250 239Z M268.7 226.7 L280.1 220.1 L286.5 223.9 L275.1 230.5Z M293.6 203.5 L302.1 198.7 L306.9 201.5 L298.4 206.4Z M298.4 206.4 L303.9 203.2 L308.8 206.1 L303.3 209.2Z M303.9 203.2 L306.9 201.5 L311.8 204.3 L308.8 206.1Z M302.1 198.7 L310.9 193.6 L321.6 199.8 L312.7 204.9Z M312.7 204.9 L317.7 202 L325.7 206.6 L320.7 209.5Z M317.7 202 L326.4 197 L334.4 201.6 L325.7 206.6Z M330.8 182.1 L334.8 179.8 L344.9 185.7 L340.8 188Z M340.8 192.8 L349 188.1 L354.7 191.4 L346.5 196.1Z M339.5 177.1 L345.5 173.6 L355.4 179.4 L349.4 182.9Z M350 182.5 L355.4 179.4 L360.2 182.2 L354.8 185.3Z M354.8 185.3 L360.2 182.2 L365.4 185.2 L360 188.3Z M352.2 204.2 L359.5 200 L364.1 202.7 L356.8 206.9Z M358.9 189 L365.4 185.2 L373.3 189.8 L366.7 193.5Z M362.4 163.9 L375.2 156.5 L383.7 161.5 L370.9 168.9Z M382.3 181.5 L386.6 179 L389.8 180.9 L385.5 183.4Z M344.1 233 L350.3 229.4 L354.9 232.1 L348.7 235.6Z M354.3 232.4 L361.5 228.3 L367.5 231.8 L360.3 235.9Z M350.4 221.8 L360.4 216.1 L377.5 226 L367.5 231.8Z M372.3 237.5 L384.9 230.3 L397.9 237.9 L385.3 245.1Z M357.8 214.5 L365.1 210.3 L370.2 213.3 L363 217.5Z M358 206.2 L364.8 202.3 L377 209.4 L370.2 213.3Z M363 217.5 L369.3 213.9 L374.2 216.7 L367.8 220.4Z M369.3 213.9 L374 211.1 L378.9 214 L374.2 216.7Z M402.1 200.8 L406.7 198.2 L411.1 200.8 L406.6 203.4Z M406.6 203.4 L412.3 200.1 L420.5 204.8 L414.8 208.2Z M412.3 200.1 L415.5 198.3 L423.7 203 L420.5 204.8Z M404.2 191.7 L411.2 187.7 L417.7 191.4 L410.7 195.5Z M415.9 198.5 L422.7 194.6 L430.5 199.1 L423.7 203Z M422 194.2 L426.9 191.4 L431 193.8 L426.1 196.6Z M443.5 205.7 L451.6 201 L456.7 204 L448.6 208.7Z" fill="#a2ab8d" stroke="#000" stroke-opacity="0.06" stroke-width="0.4"/>
<path d="M265.7 260 L270.2 257.4 L276 260.8 L271.6 263.3Z M260.9 215.5 L269.1 210.7 L275.1 214.2 L266.8 218.9Z M260.7 200.1 L264.4 198 L269 200.6 L265.3 202.8Z M225.4 160.4 L231.4 157 L241.3 162.7 L235.3 166.2Z M231.4 157 L238.9 152.6 L242.6 154.7 L235 159.1Z M235 159.1 L242.6 154.7 L248.9 158.4 L241.3 162.7Z M249.4 158.1 L257.1 153.7 L272.1 162.4 L264.4 166.8Z M266.3 149.9 L273.4 145.8 L287 153.8 L280 157.8Z M278.5 158.7 L282.4 156.4 L286.7 158.9 L282.9 161.2Z M282.4 156.4 L287 153.8 L291.3 156.3 L286.7 158.9Z M287.7 158.4 L291.3 156.3 L297.7 160 L294 162.1Z M290.5 182.6 L296.9 178.9 L304.9 183.6 L298.5 187.2Z M298.5 187.2 L302.9 184.7 L308.8 188.1 L304.3 190.7Z M277.7 148.3 L285.4 143.9 L290.9 147 L283.1 151.5Z M278.5 139.8 L286 135.5 L293.5 139.8 L285.9 144.1Z M285.9 144.1 L293.5 139.8 L298.5 142.7 L290.9 147Z M286 135.5 L291 132.6 L298.4 136.9 L293.4 139.7Z M293.4 139.7 L298.4 136.9 L303.4 139.8 L298.5 142.7Z M283.1 151.5 L290.2 147.4 L297.1 151.4 L289.9 155.5Z M296 144.1 L303.4 139.8 L312.1 144.9 L304.7 149.1Z M312.3 151.2 L317.7 148.1 L321.4 150.3 L316.1 153.4Z M286.4 125.3 L291.7 122.2 L296.5 125 L291.2 128.1Z M297.3 136.3 L306.6 130.9 L312.1 134.1 L302.8 139.4Z M310.6 144 L318.6 139.4 L325.3 143.3 L317.3 147.9Z M321.1 140.9 L328.1 136.9 L336.4 141.7 L329.4 145.7Z M314.4 169.7 L319.7 166.6 L327.4 171.1 L322.1 174.2Z M319.7 166.6 L326.4 162.8 L334 167.3 L327.4 171.1Z M323.7 149 L334.9 142.6 L342.4 147 L331.2 153.4Z M365.9 155.4 L369.6 153.3 L375.2 156.5 L371.5 158.7Z M261 222.3 L272.5 215.7 L280.1 220.1 L268.7 226.7Z M272.5 215.7 L281.9 210.2 L290 214.9 L280.5 220.4Z M315.8 190.8 L323.6 186.3 L333.6 192.1 L325.8 196.6Z M323.6 186.3 L330.8 182.1 L335.1 184.7 L328 188.8Z M325.8 196.6 L330.7 193.8 L335 196.4 L330.2 199.2Z M330.2 199.2 L335 196.4 L340.5 199.6 L335.6 202.3Z M330.7 193.8 L336.7 190.4 L342.4 193.7 L336.4 197.2Z M344.7 185.6 L350 182.5 L356.3 186.2 L351 189.2Z M355.7 197.8 L360 195.3 L363.5 197.4 L359.3 199.9Z M359.3 199.9 L363.5 197.4 L368.4 200.2 L364.1 202.7Z M361.8 196.4 L367.9 192.9 L374.5 196.7 L368.4 200.2Z M370.9 168.9 L378.8 164.3 L383.8 167.2 L375.9 171.8Z M378.8 164.3 L383.7 161.5 L387.7 163.8 L382.8 166.7Z M382.8 166.7 L387.7 163.8 L394.8 167.9 L389.8 170.8Z M370.6 188.2 L378 184 L382 186.4 L374.7 190.6Z M372.4 180.8 L381.1 175.8 L386.6 179 L378 184Z M381.2 185.9 L389.8 180.9 L395.9 184.4 L387.2 189.4Z M381.1 175.8 L389.1 171.2 L394.5 174.3 L386.5 178.9Z M389.1 171.2 L394.8 167.9 L400.1 171 L394.5 174.3Z M350 229.2 L356.5 225.4 L361.5 228.3 L354.9 232.1Z M374.2 216.7 L378.9 214 L385.9 218.1 L381.2 220.8Z M378.9 222.1 L385.9 218.1 L392.4 221.8 L385.4 225.9Z M381.3 228.2 L391.9 222.2 L408.4 231.8 L397.9 237.9Z M400 217.5 L408.8 212.4 L417.7 217.6 L408.9 222.7Z M413.8 219.9 L417.7 217.6 L425.4 222 L421.4 224.3Z M378.2 194.6 L393.7 185.6 L404.5 191.9 L388.9 200.8Z M388.9 200.8 L398.6 195.2 L405.2 199 L395.5 204.6Z M395.5 204.6 L402.1 200.8 L414.8 208.2 L408.1 212Z M393.7 185.6 L409.5 176.5 L420 182.6 L404.2 191.7Z M414.5 185.8 L420 182.6 L426.4 186.4 L420.9 189.6Z M410.7 195.5 L417.5 191.6 L422.7 194.6 L415.9 198.5Z M417.5 191.6 L426.4 186.4 L431 189 L422 194.2Z M426.9 191.4 L431 189 L439.4 193.9 L435.3 196.3Z M422.2 203.9 L427.1 201.1 L435.4 205.9 L430.5 208.7Z" fill="#888e75" stroke="#000" stroke-opacity="0.06" stroke-width="0.4"/>
<path d="M220.4 236.5 L227.4 232.4 L238.5 238.9 L231.4 242.9Z M302.8 139.4 L310.8 134.8 L318.6 139.4 L310.6 144Z M317.3 147.9 L325.3 143.3 L329.4 145.7 L321.4 150.3Z M322.1 174.2 L334 167.3 L345.2 173.8 L333.2 180.7Z M331.2 153.4 L342.4 147 L346.6 149.4 L335.5 155.8Z M334.9 142.6 L343.1 137.8 L349.2 141.3 L340.9 146.1Z M336.7 190.4 L344.9 185.7 L349 188.1 L340.8 192.8Z M367.9 192.9 L373.3 189.8 L379.8 193.6 L374.5 196.7Z M364.5 175.6 L373.5 170.4 L381.9 175.3 L373 180.5Z M375.9 171.8 L383.8 167.2 L389.8 170.8 L381.9 175.3Z M374.7 190.6 L382 186.4 L387.2 189.4 L379.8 193.6Z M378 184 L382.3 181.5 L385.5 183.4 L381.2 185.9Z M386.5 178.9 L400.1 171 L409.5 176.5 L395.9 184.4Z M367.8 220.4 L374.2 216.7 L381.2 220.8 L374.8 224.4Z M381.1 215.3 L397.5 205.8 L408.8 212.4 L392.4 221.8Z M398.6 195.2 L404.5 191.9 L411 195.7 L405.2 199Z M406.7 198.2 L411 195.7 L415.5 198.3 L411.1 200.8Z M411.2 187.7 L414.5 185.8 L420.9 189.6 L417.7 191.4Z M426.1 196.6 L431 193.8 L435.3 196.3 L430.5 199.1Z M408.1 212 L422.2 203.9 L439.5 213.9 L425.4 222Z M427.1 201.1 L432 198.3 L440.2 203.1 L435.4 205.9Z M432 198.3 L439.4 193.9 L447.7 198.8 L440.2 203.1Z M430.5 208.7 L439.6 203.4 L448.6 208.7 L439.5 213.9Z M439.6 203.4 L447.7 198.8 L451.6 201 L443.5 205.7Z" fill="#787e66" stroke="#000" stroke-opacity="0.06" stroke-width="0.4"/>
<path d="M148.2 210 L152.6 206.3 L159.4 205 L158.8 200.6 L166.3 198.8 L170.1 195 L176.3 193.8 L180.1 190 L184.3 191.6 L187 188.2 L192.4 186.9 L195.1 181.5 L200.5 177.4 L204.5 176.8 L208.6 173.4 L218 170 L223.4 168 L226.8 170.7 L223.4 174.1 L216.6 176.1 L219.3 178.8 L211.2 182.8 L207.2 185.5 L204.5 188.2 L209.9 189.6 L211.2 191.6 L207.2 192.9 L203.2 196.3 L208.6 197.7 L205.9 200.4 L200.5 203.1 L208.6 205.1 L218 202.4 L224.7 201.7 L228.8 203.1 L230.1 205.8 L224.7 207.1 L223.4 212.5 L219.3 215.2 L213.9 217.9 L207.2 224.6 L205.9 227.3 L198.8 225.7 L188.8 223.8 L181.3 222.8 L176.3 220.6 L166.9 220 L163.2 216.9 L156.3 216.9 L155.1 214.4 L148.8 213.8Z M145.7 245.7 L151.3 244.7 L167.6 246.9 L168.2 248.8 L162.6 248.8 L146.3 247.8Z M135 250.9 L141.3 249.8 L157.6 251.3 L162.6 252.5 L170.7 252.5 L171.3 255 L165.1 256.9 L157.6 255.7 L143.8 255 L136.3 253.2Z M127.8 279.6 L128.2 276.3 L147.6 276.3 L147.8 269.4 L212 271.1 L211.9 270 L209.9 278.4 L205.9 290.5 L201.8 297.3 L198.4 304.7 L204.5 306.7 L218 308.1 L230.1 308.1 L235.5 309.4 L246.3 311 L254.4 311.6 L256 315.1 L226 336.8Z M234.8 298.6 L240.9 294.6 L254.4 292.5 L266.5 292.5 L267.9 294.6 L266.5 301.3 L263.8 305.4 L259.8 308.1 L254.4 308.1 L240.9 305.4 L234.2 303.3Z M263.8 224.4 L267.9 229.8 L266.5 233.9 L274.6 234.6 L278.7 233.2 L285.4 231.9 L294.9 233.2 L300.3 235.2 L303 231.9 L311 231.2 L315.1 236.6 L321.8 241.3 L329.9 240.6 L334 243.3 L328.6 246.7 L319.1 252.8 L323.2 255.5 L320.5 259.5 L313.7 261.5 L309.7 264.9 L300.3 266.9 L289.5 266.9 L288.1 264.9 L281.4 264.9 L278.7 268.3 L274.6 264.9 L273.3 260.9 L269.2 257.9 L266.5 258.2 L265.2 262.2 L255.8 263.3 L254.4 266.2 L257.1 268.3 L253.1 273 L246.3 274.3 L248.3 268.3 L249 262.2 L242.3 262.9 L242.9 258.2 L245.6 254.1 L246.3 250.7 L249.7 246 L251.7 237.9 L257.1 231.2 L261.1 226.5Z M242.3 278.4 L253.1 277.7 L254.4 279.7 L243.6 281.1Z M234.8 285.8 L238.9 285.1 L238.2 288.5 L234.2 288.9Z M277.3 276.4 L282.7 276 L282 278.1 L277.1 278.4Z M313.7 229.2 L324.5 220.4 L334 221.7 L340.7 225.1 L336.7 228.5 L343.4 232.5 L334 239.3 L329.9 241.3 L321.8 240.6 L315.1 236.6 L313.7 232.5Z M323 255 L333 249 L334 244 L349 241 L357 237 L364 241 L373 244 L380 237 L383 234 L392.5 240.2 L325 279 L310 270Z M421.1 189.5 L426 186.3 L457.5 202.8 L449.8 207 L438.6 200.7 L435.8 195.8 L428.8 193.7Z" fill="#fff"/>
<path d="M135 276.3 L135 286.3 M141.3 276.3 L141.3 290.1 M147.6 269.4 L147.6 293.8 M153.6 270.1 L153.6 296.3 M159.4 270.1 L159.4 298.8 M166.3 270.1 L166.3 302.6 M174.5 277.6 L174.5 302.6 M128.2 276.3 L175.1 276.3 M132.5 282.6 L187.6 282.6 M140.1 288.8 L195.1 288.8 M150.1 294.5 L203.9 294.5 M157.6 298.8 L196.3 298.8 M167.6 303.2 L195.1 303.2 M190.1 271.3 L185.1 282.6 L180.1 293.8 L177.6 302.6 M200.7 270.1 L195.1 286.3 L190.7 301.3 M207.6 271.3 L202.6 285.1 L198.8 296.3 M182.6 271.3 L176.3 280.1 L174.5 285.1 M160.1 200 L162.6 206.3 L170.1 210 L173.8 213.8 L182.6 214.4 L195.1 213.1 M195.1 190 L192 202.5 L190.1 215 L186.3 222.5 M207.6 202.5 L195.1 213.8 L182.6 223.8 M223.9 203.8 L208.9 215 L195.1 226.3 M220.1 212.5 L207.6 223.8 M202.6 193.8 L192.6 203.8 M193.7 185.5 L192.4 196.3 L195.1 204.4 L191 215.2 L185.6 221.9 M200.5 180.1 L196.4 190.9 L200.5 199 L207.2 204.4 M218 170.7 L205.9 180.1 L200.5 185.5 M224.7 203.1 L211.2 212.5 L200.5 221.9 M227.4 207.1 L216.6 216.5 L207.2 224.6 M173.5 196.3 L176.2 204.4 L173.5 212.5 L168.1 219.2 M135 252.5 L157.6 253.8 L171.3 253.8 M263.8 235.2 L281.4 233.9 L294.9 242 L308.3 246 L319.1 252.8 M267.9 254.1 L288.1 254.1 L308.3 248.7 L328.6 242 M254.4 248.7 L267.9 250.1 L288.1 259.5 L289.5 266.2 M249 255.5 L262.5 255.5 L273.3 260.9 M253.1 239.3 L257.1 252.8 L254.4 266.2 M246.3 251.4 L254.4 251.4 L266.5 258.2 M281.4 233.9 L286.8 248.7 L289.5 259.5 M300.3 235.2 L305.7 247.4 L319.1 259.5 M274.6 242 L294.9 250.1 L311 260.9 M313.7 232.5 L328.6 231.2 L340.7 225.8 M321.8 223.1 L329.9 232.5 L334 239.3 M323.2 255.5 L342.1 252.8 L360 247.4 M335.3 244 L339.4 255.5 L342.1 266.2 M329.9 250.1 L348.8 246 L360 240.6 M348.9 241.4 L362.9 247 L379.7 241.4 L388.1 245.6 M355.9 251.2 L357.3 244.2 L362.9 237.2 M374.1 242.8 L376.9 251.2 M315.2 235.8 L326.5 231.5 L337.7 225.9 M322.2 223.1 L329.3 231.5 L332.1 238.6 M235.5 301.3 L254.4 298.6 L266.5 295.9" fill="none" stroke="#9c9c9c" stroke-width="0.38" clip-path="url(#wc)"/>
<path d="M242.9 294.8 L247 294.6 L262.5 303.3 L263.8 306.7 L261.1 314.1 L256 314.1 L259.1 306.7 L258.4 304.7 L242.9 295.9Z M292.8 122.1 L296.2 121.5 L298.2 126.2 L294.9 126.9Z M321.8 134.9 L323.9 134.9 L325.9 138.3 L323.9 139Z" fill="#aeb8cb"/>
<path d="M263.8 235.2 L263.2 239.3 L266.5 243.3 L269.2 248.7 L267.9 254.1 L271.9 259.5 L273.3 264.2 L272.6 271.6 L270.6 282.4 L267.9 294.6 L263.8 306.7" fill="none" stroke="#b4bccb" stroke-width="0.9"/>
<path d="M106.3 241.9 L126.3 245.7 L145.1 248.2 L162.6 250 L182.6 251.9 L201.3 254.4 L230 258.2 L240.9 261.5 L254.4 263.6 L276 265.6 L289.5 266.2 L308.3 266.9 L321.8 264.2 L335.3 264.9 L343.4 266.9" fill="none" stroke="#a3a59a" stroke-width="1.8" stroke-linejoin="round" opacity="0.85"/>
<path d="M247.7 231.4 L254.4 221.9 L262.5 219.2 L274.6 213.2 L281.4 209.8 L294.9 201.7 L308.3 190.9 L321.8 182.8 L335.3 174.7 L346.1 168 L351.5 165.3" fill="none" stroke="#a3a59a" stroke-width="2.2" stroke-linejoin="round" opacity="0.85"/>
<path d="M297.6 144.4 L308.3 142.4 L321.8 139.7 L332.6 139 L342.1 137" fill="none" stroke="#a3a59a" stroke-width="1.4" stroke-linejoin="round" opacity="0.85"/>
<path d="M347.5 142.4 L346.8 150.5 L348.8 163.9" fill="none" stroke="#a3a59a" stroke-width="1.6" stroke-linejoin="round" opacity="0.85"/>
<path d="M262.5 220.4 L254.4 224.4 L250.4 229.8 L247.7 233.9 L246.3 242" fill="none" stroke="#a3a59a" stroke-width="1.4" stroke-linejoin="round" opacity="0.85"/>
<path d="M274.6 264.2 L276 271.6 L274.6 278.4 L267.9 294.6 L270.6 305.4" fill="none" stroke="#a3a59a" stroke-width="1.4" stroke-linejoin="round" opacity="0.85"/>
<path d="M247.7 289.8 L265.2 285.1 L276 281.1 L284.1 271.6 L288.1 266.9 L294.9 264.9" fill="none" stroke="#a3a59a" stroke-width="1.6" stroke-linejoin="round" opacity="0.85"/>
<path d="M346.1 162.9 L351.7 167.1 L365.7 181.1 L374.1 188.1 L388.1 197.9 L402.2 204.9 L416.2 211.9 L424.6 216.1" fill="none" stroke="#a3a59a" stroke-width="1.8" stroke-linejoin="round" opacity="0.85"/>
<path d="M372.7 216.1 L368.5 223.1 L365.7 231.5 L360.1 241.4 L355.9 251.2" fill="none" stroke="#a3a59a" stroke-width="1.1" stroke-linejoin="round" opacity="0.85"/>
<path d="M251.2 225.5 L248 233.6 L231.8 241.7 L215.6 248.2 L201.1 254.7 L189.7 267.6 L186.5 270.8" fill="none" stroke="#a3a59a" stroke-width="1.8" stroke-linejoin="round" opacity="0.85"/>
<path d="M170.5 297.8 L170.5 286.3 L172 282.6 L173.8 279.1 L176.3 276.7 L181.3 271.9 L187.6 265.9 L195.1 258.6 L200.7 253.8 L208.6 247.7 L212 245.2 L215.1 244.4 L223.9 244.5 L230.1 243.6 L235.9 241.7 L243.6 238.2 L251.7 234.7 L262.5 229.8 L269.6 226.9 L278.7 222.8 L287.4 218.8 L296.9 213.8 L309 208.9 L321.8 204.4 L329.9 202.4 L338 197.9 L346.1 193.6 L354.9 188.6 L338.4 197.9 L346.1 193.7 L354.5 188.8 L360.1 186 L363.6 183.9 L364.7 181.8 L362.9 179 L360.1 172.7 L358.7 167.8 L356.6 165.7 L354.2 160.7 L353.1 156.5 L352.4 151.6 M266.9 137.6 L276 142.8 L290.8 150.7 L298.9 155.9 L303.2 159.6 M303.2 159.6 L301.2 162.9 L297.3 165.9 L290.7 169.6 M303.2 159.6 L307.1 158.8 L315.2 156.5 L329 154.6 L340.5 153 L352.4 151.6 L357.3 150.7 L359.4 148.1 L358.7 146.7 M358.7 167.8 L368.5 165.9 L379.7 163.8 L386.7 162.6" fill="none" stroke="#80301c" stroke-width="1.0" stroke-linejoin="round"/>
<circle cx="170.5" cy="297.8" r="1.15" fill="#150805"/>
<circle cx="170.5" cy="285.8" r="1.15" fill="#150805"/>
<circle cx="176.1" cy="276.7" r="1.15" fill="#150805"/>
<circle cx="187.3" cy="265.8" r="1.15" fill="#150805"/>
<circle cx="200.7" cy="253.8" r="1.15" fill="#150805"/>
<circle cx="208.6" cy="247.7" r="1.15" fill="#150805"/>
<circle cx="235.9" cy="241.7" r="1.15" fill="#150805"/>
<circle cx="251.7" cy="234.7" r="1.15" fill="#150805"/>
<circle cx="269.6" cy="226.9" r="1.15" fill="#150805"/>
<circle cx="287.4" cy="218.8" r="1.15" fill="#150805"/>
<circle cx="296.9" cy="213.8" r="1.15" fill="#150805"/>
<circle cx="309" cy="208.9" r="1.15" fill="#150805"/>
<circle cx="338" cy="197.9" r="1.15" fill="#150805"/>
<circle cx="354.9" cy="188.6" r="1.15" fill="#150805"/>
<circle cx="338.4" cy="197.9" r="1.15" fill="#150805"/>
<circle cx="354.5" cy="188.8" r="1.15" fill="#150805"/>
<circle cx="360.1" cy="186" r="1.15" fill="#150805"/>
<circle cx="362.9" cy="179" r="1.15" fill="#150805"/>
<circle cx="360.1" cy="172.7" r="1.15" fill="#150805"/>
<circle cx="358.7" cy="167.8" r="1.15" fill="#150805"/>
<circle cx="354.2" cy="160.7" r="1.15" fill="#150805"/>
<circle cx="352.4" cy="151.6" r="1.15" fill="#150805"/>
<circle cx="266.9" cy="137.6" r="1.15" fill="#150805"/>
<circle cx="276" cy="142.8" r="1.15" fill="#150805"/>
<circle cx="290.8" cy="150.7" r="1.15" fill="#150805"/>
<circle cx="297.3" cy="165.9" r="1.15" fill="#150805"/>
<circle cx="290.7" cy="169.6" r="1.15" fill="#150805"/>
<circle cx="307.1" cy="158.8" r="1.15" fill="#150805"/>
<circle cx="329" cy="154.6" r="1.15" fill="#150805"/>
<circle cx="358.7" cy="146.7" r="1.15" fill="#150805"/>
<circle cx="379.7" cy="163.8" r="1.15" fill="#150805"/>
</g></g>
<polygon points="304.1,115.1 457.9,203 226,336.8 73.4,247.9" fill="none" stroke="#3c3c3c" stroke-width="0.8"/>
</g>
<line x1="73.5" x2="73.5" y1="248.5" y2="802" stroke="#7c7c7c" stroke-width="0.8" stroke-dasharray="3.2 2.4" fill="none"/>
<line x1="226.5" x2="226.5" y1="337" y2="890.5" stroke="#7c7c7c" stroke-width="0.8" stroke-dasharray="3.2 2.4" fill="none"/>
<line x1="457.5" x2="457.5" y1="203.5" y2="757" stroke="#7c7c7c" stroke-width="0.8" stroke-dasharray="3.2 2.4" fill="none"/>
<line x1="226" x2="621.5" y1="337.5" y2="337.5" stroke="#c4c4c4" stroke-width="0.9"/>
<line x1="226" x2="621.5" y1="519.6" y2="519.6" stroke="#c4c4c4" stroke-width="0.9"/>
<line x1="226" x2="621.5" y1="704.4" y2="704.4" stroke="#c4c4c4" stroke-width="0.9"/>
<line x1="226" x2="621.5" y1="891.4" y2="891.4" stroke="#c4c4c4" stroke-width="0.9"/>
<!-- bigmap -->
<defs><clipPath id="mc"><polygon points="1122.8,549.2 1365.3,689.2 998.8,899.9 756.6,760.1"/></clipPath>
<clipPath id="cA"><rect x="700" y="248" width="310" height="170"/><rect x="700" y="100" width="205" height="150"/></clipPath>
<clipPath id="cB"><rect x="905" y="90" width="500" height="158"/></clipPath>
<clipPath id="cC"><rect x="1010" y="248" width="400" height="160"/></clipPath>
<g id="brt" fill="none" stroke-linejoin="round">
<g clip-path="url(#cA)"><path d="M732.5 311.6 L759.4 302.1 L789.8 289.6 L807.7 282.4 L852.5 266.3 L857.9 264.5 L867.7 258.3 L877.6 256.5 L884.7 253.8 L888.3 249.3 L895.5 247.9 L900.5 245.7 M788 271.3 L807.7 283 M770.5 282.4 L788 291.4 M772.8 281.2 L788.9 290.5 M789.8 292.3 L798.8 302.1 L805.9 307.5 L809.5 313.8 L811.3 320.9 L817.6 326.3 L827.4 328.1 L836.4 333.1 L843.5 333.1 L852.5 338.8 L859.7 341 L868.6 342.1 L875.8 343.3 L906.2 346 L925.9 348.2 L947.4 350 L944.7 353.2 L943.5 351.4 M788.9 291.4 L790.7 295.9 L793.4 303.9 L792.5 308.4 L788.9 311.6 L789.5 313.8 L793.8 311.5 L800.6 313.8 L808.1 315.9 M875.8 343.3 L882 338.8 L883.8 334.4 L892.8 332.6 L893.7 328.1 L897.3 325.4 L904.4 328.1 L908.9 333.5 L906.2 337.1 L909.8 340.6 L908 346 L906.2 349.6 L907.1 353.2 L906.2 360.3 L905.3 393.5 M911.9 393.5 L911.6 378.2 L912.5 363.9 L916.1 356.8 L922.3 349.6 L927.7 344.2 L931.3 338.8 L933.1 328.1 L934.9 317.4 L937.5 303 L940.2 292.3 L942 284.2 L943.8 282.4 L952.8 278 L954.6 277.1 M904.4 392.6 L913.4 392.6 L913.4 397 L904.4 397 L904.4 392.6 M905.3 397 L934.9 397.9 L961.7 399.7 L967.1 400.6 L970.7 397.9 L977.8 378.2 L988.6 349.6 L999.3 320.9 L1002.9 312 L1006.5 306.6 L1015.4 299.5 L1024.4 292.3 L1035.1 289.6 L1042.3 287.8 L1060 276.2 M908 346 L910.7 340.6 L917 335.3 L918.7 328.1 L920.5 324.5 L934.9 318.3 L961.7 303 L974.3 298.6 L985 294.1 L1006.5 283.3 L1028 272.6 L1051.2 258.3 L1060 252.9 M933.1 329 L943.8 328.1 L942.9 323.6 L947.4 320.9 L970.7 307.5 L992.2 296.8 L1024.4 281.6 L1040.5 278 L1060 265.4 M943.8 269 L1004.7 235 M943.8 269 L999.3 318.3 M954.6 277.1 L1017.2 242.2 L1028 235 M941.1 292.3 L947.4 294.1 L956.3 293.2 M993.9 240.4 L1060 279.8 M1013.6 235 L1060 261.9 M1028 272.6 L1042.3 298.6 L1060 310.2 M1002.9 312.9 L1010.1 317.4 L1020.8 326.3 L1040.5 316.5 L1060 313.8"/></g>
<g clip-path="url(#cB)"><path d="M930.7 189.2 L950.4 188.3 L964.8 189.5 L991.6 195.8 L1009.5 197.6 L1038.2 199.4 L1063.2 203.8 L1088.3 207.4 L1106.2 208.3 L1125.9 218.2 L1134.9 217.3 L1142 216 M1009.5 197.6 L991.6 185.6 L1018.5 170.7 L1036.4 168.4 L1059.7 156.4 L1065.9 154.6 L1067.7 150.1 L1074 145.7 L1078.5 138.5 L1082 134.9 L1091.9 129.5 L1122.3 112.5 L1125.9 111.1 L1129.1 112.9 L1124.1 116.5 L1121.4 114 M1086.5 126.9 L1138.4 155.9 L1149.2 149.2 L1150.1 146.6 L1170.7 157.3 L1188.6 168.9 L1202 175.2 L1206.5 181.5 L1215.4 192.2 L1215.4 197.6 L1212.7 203 L1222.6 213.7 L1234.2 221.8 L1232.4 236.1 L1228 243.2 L1231.5 248.6 L1242.3 255.8 L1251.2 262 L1260 264.7 M1240.5 138.5 L1188.6 168.9 L1179.6 173.4 L1177.8 177 L1173.4 187.7 L1165.3 192.2 L1160.8 202.1 L1154.6 207.4 L1142 216 L1131.3 220 L1125.9 225.3 L1113.4 231.6 L1104.4 233.4 M1250.9 144.8 L1200.2 173.8 M1009.5 197.6 L1006.8 207.4 L1011.3 212.8 L1007.7 218.2 L998.8 226.2 L1007.7 232.5 L1016.7 232.9 M1007.7 232.5 L948.6 266 M1027.4 232.9 L1023.8 237 L973.7 266 M1007.7 232.5 L1036.4 248.6 L1063.2 264.7 M992.5 241.5 L1034.6 266 M1027.4 232.9 L1045.3 234.3 L1059.7 233.9 L1063.2 231.6 L1072.2 229.3 L1081.1 231.6 L1088.3 233.4 L1104.4 233.4 M1092.8 203.8 L1093.7 221.8 L1102.6 233.4 M1084.7 203.5 L1093.3 203.8 L1092.8 207.4 L1086.5 206.5 M1104.4 233.4 L1115.2 229.8 L1131.3 225.3 L1167.1 220 L1188.6 207.4 L1206.5 197.6 L1215.4 196.7 M1106.2 236.1 L1117 232.5 L1125.9 228 L1131.3 225.3 M1108 245 L1133.1 246.8 L1149.2 237.9 L1186.8 229.8 L1206.5 219.1 L1224.4 212.8 L1235.1 210.1 L1238.7 212.4 L1230.7 216 L1228 213.2 M1142 216 L1151 237.9 L1156.3 243.2 L1170.7 250.4 L1197.5 266 M1140.2 243.2 L1167.1 257.6 L1179.6 266 M1099.1 246.8 L1086.5 247.7 L1061.5 254 L1052.5 257.6 L1038.2 266 M1099.1 252.2 L1081.1 254 L1072.2 257.6 L1061.5 263.8 M1099.1 257.6 L1088.3 261.1 L1077.6 264.7 M1090.1 239.7 L1099.9 238.8 L1099.1 247.7 L1091.9 246.8 L1090.1 239.7 M1108.9 244.1 L1122.3 243.2 L1123.2 247.7 L1109.8 248.6"/></g>
<g clip-path="url(#cC)"><path d="M992.2 241.6 L1196.3 343.2 M1008.3 231.8 L1178.4 351.8 L1164.1 359.8 M960 274.8 L986.9 293.6 L988.6 299.8 L998.5 318.6 L1003 313.3 M960 296.2 L997.6 318.6 M1027.1 273 L1042.4 299.8 L1067.4 314.2 L1076.4 316.8 L1110.4 334.7 L1121.1 341 L1128.3 341 L1164.1 361.6 M1108.6 260.4 L1114 280.1 L1119.4 283.7 L1207.1 335.6 L1205.3 338.3 L1188.3 324.9 L1117.6 285.5 L1112.2 281.9 L1103.2 265.8 M1140.8 244.3 L1199 265.8 L1198.1 268.5 L1194.6 269.4 L1176.7 261.3 L1171.3 263.1 L1078.2 316.8 M1149.8 230 L1151.6 237.2 L1157 242.5 L1199 265.8 M1194.6 269.4 L1221.4 285.5 L1225 287.3 L1239.3 290 L1271.5 300.7 M1232.2 230 L1230.4 237.2 L1227.7 242.5 L1230.4 247.9 L1246.5 260.4 L1264.4 267.6 L1282.3 273.9 L1291.2 280.1 L1297.5 286.4 M960 253.3 L1004.8 230 M960 273 L1017.3 240.7 L1028 235.4 L1028.9 232.7 L1053.1 234.5 L1060.3 231.8 L1067.4 230 M960 301.6 L974.3 298.9 L992.2 290.9 L1035.2 267.6 L1053.1 256.9 L1081.8 248.8 L1090.7 247 L1096.1 247 M960 313.3 L977.9 305.2 L995.8 295.4 L1026.2 278.3 L1037 277.4 L1045.9 273 L1060.3 262.2 L1071 256.9 L1085.3 255.1 L1099.7 254.2 M1003 313.3 L1006.6 307 L1020.9 296.2 L1031.6 290 L1042.4 287.3 L1056.7 278.3 L1067.4 269.4 L1078.2 265.8 L1092.5 263.1 L1103.2 262.2 M1003 313.3 L1009.2 315.9 L1010.1 319.5 L1020 326.7 L1037 316.8 L1044.2 315.6 L1067.4 314.2 M1003 313.3 L995.8 341 L983.3 373.2 L970.7 396 M1110.4 335.6 L1105 337.4 L1101.5 342.8 L1098.8 349.1 L1101.5 353.5 L1108.6 357.1 L1137.3 374.1 L1139.9 375.9 M1089.8 239.8 L1101.5 239 L1100.6 247.9 L1091.6 247 L1089.8 239.8 M1108.6 244.3 L1122.9 243.4 L1128.3 245.2 L1131.9 247 L1108.6 247.9 M1131.9 247 L1149.8 237.2 L1187.4 230"/></g>
<path d="M1100.2 234.7 L1101.9 247.7 L1104.5 262 M1101.2 235 L1102 247.7 L1105 262 M1102.3 234.6 L1103.9 247.7 L1105.5 262 M1102.9 233.8 L1104.4 247.7 L1106.9 262 M1103.5 233.8 L1105 247.7 L1108.2 262 M1105 233.7 L1106.5 247.7 L1108.3 262 M1105.8 233.6 L1106.6 247.7 L1110 262 M1106.4 233.8 L1108.6 247.7 L1111 262 M1107.4 235.1 L1109 247.7 L1111.7 262 M1099.4 236.1 L1107.6 237.5 M1099.8 240 L1108 241.5 M1100.1 244 L1108.4 245.4 M1100.5 247.9 L1108.7 249.3 M1100.8 251.8 L1109.1 253.3 M1101.2 255.8 L1109.4 257.2 M1101.6 259.7 L1109.8 261.1"/>
</g>
<g id="metro" fill="none" stroke-linejoin="round"><path d="M1157 370 L1152 373 L1146 374 L1138 374.4 L1120 385 L1104 395 L1091 402.4 L1093 406.4 L1100 411 L1112 418 L1118 424 L1120 429 L1119 434 L1113 440 L1106 446 L1100 449 L1093 451 L1090 456 L1087 462 L1089 466 L1092 469 L1093 474 L1098 479 L1097.6 486 L1099 492 L1101.6 496 L1100 502 L1103 507 L1109 509 L1113 512 L1120 513 L1128 516 L1138 520 M1095 492.4 L1100 494.4 M1113 512 L1126 513 L1136 508.4 L1148 506.6 L1174 502 L1177 503 L1200 490 L1213 483 M1101.6 518 L1105 513 L1113 512 L1116 516 L1120 516.4 L1123 514 L1120 512.4 M854.2 512.8 L866 515.5 L880 518.6 L894 521 L900 524 L905 528.6 L956 540 L960 539 L1008 513 L1011 513.6 L1048 536 L1050 537 L1060 534 L1072 532.4 L1098 528.4 L1103 527.6 L1103.6 524 L1101.6 518 M1050 537 L1044 541.6 L1036 546.4 M1098 528.4 L1099 536 L1101 542 L1103 545 L1106 552 L1109.6 559 L1108 561 L1100 565 L1080 575 L1060 583.6 L1054 585.6 L1033 594.4 L1016 602 L998 611 L982 618 L972 621 L960 621 L955 624 L947 630 L934 641 L928 647 L922 653 L918 660 L917 664 L917 674 M1103 545 L1120 541 L1142 538 L1146 541 L1160 549 L1178 560 L1194 569 L1210 578 L1228 590 L1238 593 L1246 595"/></g>
</defs>
<polygon points="756.6,760.1 998.8,899.9 1365.3,689.2 1365.3,697.5 998.8,908.2 756.6,768.4" fill="#000"/>
<polygon points="1122.8,549.2 1365.3,689.2 998.8,899.9 756.6,760.1" fill="#fcfcfc"/>
<g clip-path="url(#mc)">
<path d="M756.6 760.1L809.8 729.5M809.8 729.5L854.4 703.8M854.4 703.8L931.2 659.6M931.2 659.6L1023.5 606.4M1023.5 606.4L1107.8 557.8M1107.8 557.8L1122.8 549.2M758.2 761L808.4 732.1M914 671.3L1014 613.7M1014 613.7L1124.4 550.1M759.8 762L828.3 722.6M828.3 722.6L877.8 694M877.8 694L1004.1 621.3M1004.1 621.3L1104.6 563.4M1104.6 563.4L1126 551.1M764.7 764.8L876 700.6M876 700.6L947.2 659.7M947.2 659.7L1033.6 609.9M1033.6 609.9L1130.9 553.9M766.3 765.7L866 708.3M866 708.3L998.8 631.8M1067 592.5L1116.6 563.9M1116.6 563.9L1132.5 554.8M767.9 766.6L808.8 743.1M808.8 743.1L929.4 673.6M929.4 673.6L1062.2 597.1M1062.2 597.1L1134.1 555.7M856.3 717.6L996.7 636.7M996.7 636.7L1106.2 573.6M1106.2 573.6L1135.7 556.7M771.1 768.5L898 695.4M898 695.4L977.1 649.9M977.1 649.9L1016.2 627.4M1016.2 627.4L1071.2 595.7M1114.3 570.8L1137.3 557.6M772.7 769.4L905.1 693.2M905.1 693.2L991.1 643.7M1124.7 566.7L1138.9 558.5M850.4 726.6L992.2 644.9M992.2 644.9L1048.2 612.6M1048.2 612.6L1110.5 576.8M1110.5 576.8L1140.6 559.5M777.6 772.2L854.8 727.8M854.8 727.8L996.1 646.4M996.1 646.4L1089.4 592.7M1089.4 592.7L1143.8 561.3M901.5 702.7L1025.8 631.1M1025.8 631.1L1106.2 584.8M1106.2 584.8L1145.4 562.2M782.4 775L836.9 743.7M836.9 743.7L879.3 719.2M879.3 719.2L932.5 688.6M932.5 688.6L1009.1 644.5M1009.1 644.5L1141.8 568.1M1141.8 568.1L1148.6 564.1M784 775.9L860.7 731.8M990.6 657L1078.4 606.4M1078.4 606.4L1124.4 579.9M1124.4 579.9L1150.2 565M785.7 776.9L840 745.6M840 745.6L981.1 664.3M981.1 664.3L1033.8 633.9M1033.8 633.9L1073.4 611.1M787.3 777.8L852.6 740.2M1002.7 653.8L1075.5 611.8M914.1 706.6L1032 638.7M1032 638.7L1125.5 584.9M1125.5 584.9L1155.1 567.8M790.5 779.7L855.6 742.2M855.6 742.2L997.3 660.6M1136.9 580.2L1156.7 568.8M792.1 780.6L853.7 745.2M853.7 745.2L912.7 711.1M1048.3 633.1L1137.6 581.7M1137.6 581.7L1158.3 569.7M930.3 702.9L1049.3 634.3M795.4 782.5L875.5 736.3M875.5 736.3L1016.1 655.3M1016.1 655.3L1071.4 623.5M1124.6 592.8L1161.6 571.6M797 783.4L941.3 700.3M941.3 700.3L1016.4 657M1016.4 657L1067.4 627.6M1067.4 627.6L1163.2 572.5M798.6 784.3L937.8 704.2M1070.2 627.9L1130 593.5M1130 593.5L1164.8 573.4M800.2 785.3L865.3 747.8M916.3 718.4L991.8 674.9M801.8 786.2L896.9 731.5M896.9 731.5L935.5 709.2M935.5 709.2L992.3 676.5M992.3 676.5L1116.7 604.9M1116.7 604.9L1168 575.3M803.4 787.1L875.9 745.4M973.5 689.2L1021.8 661.4M1021.8 661.4L1085.7 624.6M1085.7 624.6L1169.6 576.2M925.2 718.9L1010.5 669.8M1010.5 669.8L1102.6 616.7M1102.6 616.7L1171.2 577.2M1009.2 672.3L1149.4 591.6M808.3 789.9L860 760.2M860 760.2L945.1 711.1M945.1 711.1L1008.2 674.8M1118.4 611.3L1174.5 579M809.9 790.9L919 728M1113.4 616.1L1176.1 580M811.5 791.8L939.6 718M939.6 718L1023.6 669.6M1023.6 669.6L1097.5 627.1M1097.5 627.1L1169.1 585.8M1169.1 585.8L1177.7 580.9M813.1 792.7L851.7 770.5M851.7 770.5L956.9 709.9M1123.8 613.8L1171.9 586.1M814.7 793.7L865.6 764.4M1002.3 685.6L1067.4 648.2M1067.4 648.2L1180.9 582.8M816.3 794.6L862.8 767.8M862.8 767.8L975 703.2M818 795.5L891.8 753M891.8 753L1030.3 673.2M1030.3 673.2L1081.1 644M1081.1 644L1143.9 607.8M1143.9 607.8L1184.2 584.6M819.6 796.4L890.5 755.6M890.5 755.6L1010.5 686.5M1010.5 686.5L1102.1 633.7M1102.1 633.7L1176.8 590.7M1176.8 590.7L1185.8 585.5M821.2 797.4L918.3 741.4M1055.4 662.5L1139.5 614M1139.5 614L1187.4 586.5M1009.2 690.9L1123.5 625.1M1123.5 625.1L1189 587.4M826 800.2L870.4 774.6M870.4 774.6L935.1 737.3M981 710.9L1113.3 634.7M1113.3 634.7L1180.9 595.8M1180.9 595.8L1192.2 589.3M827.6 801.1L913.2 751.8M1055.5 669.9L1152.2 614.2M1152.2 614.2L1193.8 590.2M829.3 802L866 780.9M866 780.9L954.8 729.8M954.8 729.8L1013.5 696M1013.5 696L1050.6 674.6M1050.6 674.6L1097.1 647.8M1097.1 647.8L1138.3 624.1M1138.3 624.1L1195.5 591.1M925.6 748.4L1034.5 685.7M1034.5 685.7L1167.7 609M832.5 803.9L948.7 737M990.1 713.1L1124.7 635.6M834.1 804.8L928.3 750.6M1056.6 676.7L1184 603.3M1184 603.3L1200.3 593.9M835.7 805.8L897.6 770.1M897.6 770.1L948.8 740.6M997 712.9L1095 656.5M1095 656.5L1200.4 595.8M1200.4 595.8L1201.9 594.9M837.3 806.7L956.2 738.3M956.2 738.3L1051.6 683.3M1051.6 683.3L1095.5 658M1095.5 658L1159.8 621M1159.8 621L1203.5 595.8M956.8 739.7L1047.7 687.4M1047.7 687.4L1137 636M1137 636L1205.1 596.7M840.6 808.6L885.7 782.6M885.7 782.6L950.2 745.4M950.2 745.4L1020.3 705.1M1020.3 705.1L1058.3 683.2M1058.3 683.2L1124.4 645.1M1124.4 645.1L1206.8 597.7M842.2 809.5L935.5 755.7M935.5 755.7L1023.4 705.1M1023.4 705.1L1158.2 627.5M972.1 738.4L1058.1 688.9M1117.8 654.5L1177.5 620.1M1177.5 620.1L1211.6 600.5M990.7 729.5L1104.6 663.9M1104.6 663.9L1213.2 601.4M851.9 815.1L938 765.5M938 765.5L990.1 735.5M1098.2 673.2L1218.1 604.2M968.4 749.8L1036.9 710.4M1116.7 664.4L1218 606.1M1218 606.1L1219.7 605.1M856.7 817.9L985 744M985 744L1124.4 663.7M1124.4 663.7L1190.2 625.8M1190.2 625.8L1222.9 607M1098 680.8L1224.5 607.9M859.9 819.7L902 795.5M988.1 745.9L1095.6 684M1137.6 659.9L1188.2 630.7M1188.2 630.7L1226.1 608.8M861.6 820.7L1005.4 737.8M1005.4 737.8L1114.1 675.2M1114.1 675.2L1212 618.9M1212 618.9L1227.8 609.8M863.2 821.6L999.3 743.2M1060.1 708.2L1206.2 624.1M1206.2 624.1L1229.4 610.7M866.4 823.5L913 796.6M913 796.6L978 759.2M978 759.2L1112.1 682M1112.1 682L1194.1 634.8M1194.1 634.8L1232.6 612.6M868 824.4L911.4 799.4M911.4 799.4L1054.4 717.1M1054.4 717.1L1146.3 664.1M1146.3 664.1L1234.2 613.5M869.6 825.3L933.5 788.5M1149 664.4L1188 642M871.2 826.3L972.4 768M1179.3 648.8L1237.4 615.4M872.9 827.2L926.4 796.3M1038 732.1L1153.9 665.3M1153.9 665.3L1239.1 616.3M977.6 768.7L1085.1 706.8M1085.1 706.8L1135.8 677.6M1135.8 677.6L1240.7 617.2M876.1 829.1L920.4 803.5M920.4 803.5L1021.1 745.6M1021.1 745.6L1082.3 710.3M1082.3 710.3L1120 688.6M877.7 830L940.1 794.1M940.1 794.1L1082.3 712.2M1082.3 712.2L1152.7 671.6M1152.7 671.6L1243.9 619.1M879.3 830.9L944.2 793.6M944.2 793.6L1082.5 713.9M1082.5 713.9L1122.8 690.7M1122.8 690.7L1205.6 643M880.9 831.9L973 778.8M973 778.8L1116.2 696.4M1116.2 696.4L1242.9 623.4M882.5 832.8L1023.7 751.5M1023.7 751.5L1080.9 718.5M1080.9 718.5L1163.4 671.1M1163.4 671.1L1248.7 621.9M944.2 799.2L996.4 769.1M996.4 769.1L1039.6 744.2M885.8 834.7L958.6 792.7M958.6 792.7L1098 712.4M1098 712.4L1138.1 689.3M1138.1 689.3L1216.3 644.3M1216.3 644.3L1252 623.8M1014.4 764.3L1073.9 730.1M1200.7 657L1255.2 625.6M968.2 792.8L1026 759.5M1026 759.5L1161.2 681.6M1242.9 634.6L1256.8 626.6M895.5 840.3L960.3 802.9M960.3 802.9L1095.7 725M1162.2 686.6L1261.7 629.4M897.1 841.2L968.5 800.1M1005.5 778.7L1142.8 699.7M1142.8 699.7L1263.3 630.3M987.5 791L1128.9 709.5M1128.9 709.5L1193.1 672.5M900.3 843L1025.1 771.2M1152.1 698L1255.4 638.5M1255.4 638.5L1266.5 632.1M901.9 844L947.2 817.9M947.2 817.9L1066.6 749.2M1066.6 749.2L1110.3 724M1110.3 724L1207.6 667.9M903.5 844.9L969.3 807.1M969.3 807.1L1016.5 779.9M1016.5 779.9L1131.1 713.9M1131.1 713.9L1193.4 678M1193.4 678L1269.7 634M905.1 845.8L1034.8 771.2M1084.8 742.4L1153.6 702.7M1153.6 702.7L1231.2 658M1231.2 658L1271.3 634.9M960.2 816L1060.4 758.3M1140.5 712.2L1232.9 659M1232.9 659L1273 635.9M908.4 847.7L956.2 820.1M1082.8 747.2L1219.9 668.3M1219.9 668.3L1274.6 636.8M910 848.6L1053.5 766M1053.5 766L1192.3 686M1192.3 686L1276.2 637.7M1033.7 779.3L1081.9 751.5M1081.9 751.5L1186.6 691.2M1186.6 691.2L1263.8 646.8M1263.8 646.8L1277.8 638.7M913.2 850.5L1021.4 788.2M1021.4 788.2L1059.3 766.4M1059.3 766.4L1170.4 702.4M1170.4 702.4L1241.4 661.5M1241.4 661.5L1279.4 639.6M916.5 852.4L996.5 806.3M996.5 806.3L1103.3 744.7M1103.3 744.7L1157.9 713.3M1157.9 713.3L1239.6 666.3M918.1 853.3L1016.9 796.4M1099.3 748.9L1245.4 664.8M1245.4 664.8L1284.3 642.4M1121.4 738.1L1208.6 687.8M1208.6 687.8L1246.9 665.8M922.9 856.1L1000.3 811.5M1000.3 811.5L1052.9 781.2M1146.8 727.2L1195.4 699.2M975.1 827.9L1118.9 745.1M926.1 858L1049.1 787.2M1130.1 740.5L1257.9 666.9M1257.9 666.9L1292.3 647.1M927.8 858.9L1006.5 813.5M1006.5 813.5L1070.3 776.8M1070.3 776.8L1205.5 698.9M931 860.8L980.5 832.2M980.5 832.2L1077.6 776.3M1077.6 776.3L1147.8 735.9M1147.8 735.9L1248.5 677.9M1248.5 677.9L1297.2 649.9M932.6 861.7L971.8 839.1M971.8 839.1L1062.2 787.1M1182.7 717.7L1269.7 667.6M1269.7 667.6L1298.8 650.8M934.2 862.6L1018.1 814.3M1018.1 814.3L1103.3 765.2M1103.3 765.2L1144.4 741.6M1144.4 741.6L1190.1 715.3M1190.1 715.3L1300.4 651.7M1067.2 789.8L1213.2 705.7M1213.2 705.7L1303.6 653.6M1029.7 813.2L1167 734.2M1290.2 663.2L1305.3 654.5M1061.6 796.7L1114 766.6M1114 766.6L1251.6 687.3M1251.6 687.3L1306.9 655.4M942.3 867.3L983 843.9M1203.7 716.7L1253 688.3M1253 688.3L1308.5 656.4M943.9 868.2L1041.5 812M1041.5 812L1175.1 735.1M1175.1 735.1L1310.1 657.3M945.5 869.1L1069.8 797.6M1069.8 797.6L1215.2 713.8M1291.4 669.9L1311.7 658.2M989.1 845.9L1053.5 808.8M1053.5 808.8L1198.3 725.4M1198.3 725.4L1307.8 662.4M1307.8 662.4L1313.3 659.2M948.7 871L1053 810.9M1146 757.4L1197.1 728M1197.1 728L1305.5 665.6M1305.5 665.6L1314.9 660.1M950.4 871.9L1026.2 828.3M1026.2 828.3L1126.9 770.2M1126.9 770.2L1186 736.2M1186 736.2L1274.8 685.1M1274.8 685.1L1316.6 661M952 872.9L999.1 845.7M1131.5 769.5L1212.2 723M1212.2 723L1250.1 701.2M1250.1 701.2L1318.2 662M1039 824.6L1156.2 757.1M1156.2 757.1L1292 678.9M1292 678.9L1319.8 662.9M998.2 850L1036.2 828.1M1036.2 828.1L1176.2 747.5M1176.2 747.5L1234.7 713.7M1234.7 713.7L1321.4 663.8M956.8 875.7L1012.6 843.5M1012.6 843.5L1082.2 803.4M1216.6 726.1L1323 664.8M958.4 876.6L1076.9 808.4M1076.9 808.4L1195 740.3M1195 740.3L1256.5 705M1256.5 705L1318.6 669.2M1318.6 669.2L1324.6 665.7M960 877.5L1089.5 803M1089.5 803L1155.4 765M1239.9 716.4L1326.2 666.6M961.7 878.5L1104.3 796.3M1104.3 796.3L1237.6 719.5M1237.6 719.5L1302.8 682M1035.8 837.6L1108.5 795.7M1108.5 795.7L1244.8 717.2M1244.8 717.2L1329.5 668.5M1166.4 764.3L1251 715.6M1251 715.6L1331.1 669.4M966.5 881.3L1071.5 820.8M1071.5 820.8L1208.2 742.1M1208.2 742.1L1247.8 719.3M1247.8 719.3L1332.7 670.4M968.1 882.2L1007.9 859.3M1007.9 859.3L1120.6 794.4M1120.6 794.4L1233.8 729.2M1233.8 729.2L1277.6 703.9M969.7 883.1L1104.3 805.6M1236.2 729.6L1335.9 672.2M971.4 884.1L1020.3 855.9M1256.3 719.9L1337.6 673.2M976.2 886.9L1035.3 852.8M1035.3 852.8L1118.5 804.9M1118.5 804.9L1183.3 767.6M1183.3 767.6L1298.6 701.2M977.8 887.8L1108 812.8M1108 812.8L1148 789.8M1232.6 741.1L1307.3 698M1307.3 698L1344 676.9M1026 861.9L1081.4 830M1140.2 796.1L1284.2 713.2M1284.2 713.2L1345.6 677.8M981 889.6L1037.9 856.9M1177.9 776.3L1245.7 737.2M1245.7 737.2L1347.2 678.7M982.7 890.6L1089.2 829.2M1089.2 829.2L1212.4 758.3M1212.4 758.3L1335.5 687.4M1335.5 687.4L1348.9 679.7M984.3 891.5L1118.7 814.1M1118.7 814.1L1252.9 736.8M1252.9 736.8L1312.2 702.7M1312.2 702.7L1350.5 680.6M985.9 892.4L1119.6 815.4M1119.6 815.4L1206.9 765.2M1326.4 696.3L1352.1 681.5M1041.2 862.5L1150.5 799.5M1150.5 799.5L1205.8 767.7M1205.8 767.7L1327.4 697.6M1327.4 697.6L1353.7 682.5M989.1 894.3L1051.9 858.2M1051.9 858.2L1121.6 818M1121.6 818L1250.9 743.5M1250.9 743.5L1304.7 712.6M1304.7 712.6L1355.3 683.4M990.7 895.2L1063.4 853.4M1063.4 853.4L1207.1 770.6M1254.9 743.1L1302.7 715.6M992.3 896.2L1076.7 847.6M1076.7 847.6L1183.5 786.1M1183.5 786.1L1242.8 752M1242.8 752L1283.1 728.7M1283.1 728.7L1358.5 685.3M994 897.1L1100 836M1100 836L1152.2 805.9M1152.2 805.9L1233.3 759.2M1233.3 759.2L1360.2 686.2M995.6 898L1114.5 829.6M1114.5 829.6L1176.2 794M997.2 899L1104.3 837.3M1104.3 837.3L1175.3 796.4M1175.3 796.4L1222.7 769.1M1222.7 769.1L1345.2 698.5M1345.2 698.5L1363.4 688.1M998.8 899.9L1085.4 850M1085.4 850L1167 803M1167 803L1305.8 723.1" stroke="#a8a8a8" stroke-width="0.32" fill="none"/>
<path d="M756.6 760.1L813.8 793.1M813.8 793.1L920.6 854.8M920.6 854.8L990.9 895.3M759.9 758.2L828.2 797.6M828.2 797.6L901.1 839.7M901.1 839.7L986.1 888.7M763.3 756.3L831.7 795.8M831.7 795.8L936.3 856.1M936.3 856.1L1005.5 896.1M766.6 754.3L855.5 805.6M855.5 805.6L963.1 867.8M963.1 867.8L992.2 884.5M992.2 884.5L1008.8 894.1M769.9 752.4L829.6 786.9M829.6 786.9L913 835M913 835L959.7 862M773.2 750.5L842.1 790.3M842.1 790.3L934.3 843.5M934.3 843.5L976.5 867.8M776.6 748.6L854.6 793.6M854.6 793.6L926.4 835.1M926.4 835.1L1018.8 888.4M858.3 791.9L951.7 845.8M951.7 845.8L1000.9 874.2M837.5 776.1L884.4 803.2M884.4 803.2L930.1 829.6M930.1 829.6L970.1 852.6M970.1 852.6L1025.4 884.6M786.6 742.8L831.5 768.8M831.5 768.8L896.4 806.3M789.9 740.9L886.5 796.7M980.9 851.2L1032.1 880.7M887.9 793.7L913.4 808.4M1018.3 868.9L1035.4 878.8M796.5 737.1L832.9 758.1M832.9 758.1L922.9 810M960.1 831.5L1038.7 876.9M803.2 733.3L898.5 788.3M898.5 788.3L981.5 836.2M981.5 836.2L1045.4 873.1M806.5 731.3L905.6 788.5M905.6 788.5L952.2 815.4M952.2 815.4L988.3 836.2M988.3 836.2L1017.4 853.1M1017.4 853.1L1048.7 871.1M809.9 729.4L876.3 767.8M876.3 767.8L973.7 824M973.7 824L1052.1 869.2M885.1 769L980.6 824.1M816.5 725.6L894.7 770.7M970.6 814.5L1058.7 865.4M819.9 723.7L927.3 785.7M1019.7 839L1062.1 863.5M823.2 721.8L920.4 777.9M920.4 777.9L984.9 815.1M984.9 815.1L1065.4 861.6M826.5 719.8L887.6 755.1M1007.9 824.5L1066.3 858.2M1066.3 858.2L1068.7 859.6M936.7 779.6L1028.1 832.3M1028.1 832.3L1072 857.7M907.1 758.7L997.8 811M836.5 714.1L907 754.8M907 754.8L956.6 783.4M906.2 746.6L939 765.6M846.5 708.3L937.4 760.8M937.4 760.8L983.5 787.4M983.5 787.4L1043.4 822M849.8 706.4L953.2 766.1M953.2 766.1L1025.5 807.8M853.1 704.5L915.2 740.3M915.2 740.3L972.2 773.2M1076 833.1L1095.3 844.3M889.3 721.6L931.6 745.9M931.6 745.9L957.1 760.7M957.1 760.7L1039.3 808.1M1039.3 808.1L1098.7 842.4M859.8 700.7L957.7 757.2M1028.2 797.9L1068.3 821M991.2 772.7L1075.6 821.4M1075.6 821.4L1105.3 838.5M972.4 758L997.6 772.5M1077 818.4L1108 836.2M1108 836.2L1108.7 836.6M869.8 694.9L967 751M967 751L996.3 767.9M996.3 767.9L1069.2 810M1069.2 810L1112 834.7M873.1 693L964.9 746M1043.8 791.5L1103.5 826M876.4 691.1L967.2 743.4M967.2 743.4L1016.2 771.7M879.8 689.2L974.1 743.6M883.1 687.2L933.5 716.3M933.5 716.3L1033 773.8M886.4 685.3L934.7 713.2M934.7 713.2L981.2 740M1055.1 782.7L1128.6 825.1M984.6 738.2L1082.3 794.6M893.1 681.5L994.8 740.2M994.8 740.2L1026.2 758.3M1026.2 758.3L1118 811.3M940.5 705L1022.1 752.1M1022.1 752.1L1063.9 776.2M899.8 677.7L962.9 714.1M1055.5 767.6L1099.5 793M903.1 675.7L971.5 715.3M971.5 715.3L1045.7 758.1M1045.7 758.1L1086.2 781.5M1086.2 781.5L1145.3 815.5M906.4 673.8L978.5 715.4M978.5 715.4L1046.5 754.7M1074.5 770.9L1130.5 803.2M909.7 671.9L947.2 693.5M947.2 693.5L1000.7 724.4M1000.7 724.4L1026.6 739.4M1134.8 801.8L1151.9 811.7M1109.1 783.1L1155.3 809.8M916.4 668.1L943.8 683.9M943.8 683.9L983.4 706.7M983.4 706.7L1011.9 723.2M1011.9 723.2L1109.9 779.8M919.7 666.2L949.4 683.3M949.4 683.3L1007.3 716.7M1007.3 716.7L1112.8 777.6M1028.4 725L1085.9 758.2M1123.7 780L1165.3 804M926.4 662.3L953.9 678.2M929.7 660.4L1037.5 722.6M933 658.5L982.6 687.1M982.6 687.1L1071.1 738.1M1071.1 738.1L1122.7 768M1122.7 768L1157.5 788M1157.5 788L1175.2 798.3M998 692.1L1038.8 715.7M1038.8 715.7L1141.6 775M939.7 654.7L1039.3 712.1M1039.3 712.1L1101.4 748M943 652.7L1020.5 697.5M1138.2 765.4L1174.6 786.4M946.4 650.8L1017.5 691.9M1017.5 691.9L1115.5 748.5M1115.5 748.5L1174.6 782.6M949.7 648.9L1002.3 679.2M1002.3 679.2L1068.1 717.3M1068.1 717.3L1168.9 775.4M1168.9 775.4L1191.9 788.7M1053.1 704.8L1095.2 729.1M1095.2 729.1L1143.7 757.1M1143.7 757.1L1185 780.9M956.3 645.1L1059 704.3M959.7 643.1L1012.8 673.8M1037.2 687.9L1106 727.6M1167.2 762.9L1201.9 782.9M963 641.2L998.9 662M1088.5 713.6L1129.4 737.2M1161 755.5L1205.2 781M1092.2 712L1165.9 754.5M1051.2 684.5L1148.7 740.7M973 635.5L1019.8 662.5M1019.8 662.5L1114.5 717.2M1114.5 717.2L1152.6 739.1M1152.6 739.1L1215.2 775.3M976.3 633.6L1044.6 673M1044.6 673L1112.5 712.2M1197.3 761.1L1218.5 773.4M979.6 631.6L1064.2 680.4M1064.2 680.4L1152.1 731.2M983 629.7L1049.1 667.9M1049.1 667.9L1118.3 707.9M1144.3 722.8L1187.5 747.8M1187.5 747.8L1220.4 766.8M1220.4 766.8L1225.2 769.5M1018.7 646.5L1059.5 670M1059.5 670L1134.5 713.3M989.6 625.9L1074.6 675M1074.6 675L1109.3 695M1109.3 695L1176 733.4M1176 733.4L1210.5 753.4M1210.5 753.4L1231.8 765.7M993 624L1090.2 680.1M1201.1 744.1L1235.2 763.8M1056.2 656.6L1124.9 696.3M1228.9 756.3L1238.5 761.9M999.6 620.1L1052.2 650.5M1003 618.2L1099 673.7M1167.1 713L1245.2 758M1066.3 650.9L1121.4 682.8M1121.4 682.8L1151.5 700.1M1151.5 700.1L1218.5 738.8M1086.8 655.1L1134.2 682.5M1236.8 741.7L1255.1 752.3M1077.3 645.8L1125.8 673.8M1125.8 673.8L1205 719.5M1019.6 608.6L1087.4 647.8M1087.4 647.8L1151.1 684.6M1151.1 684.6L1187.9 705.8M1187.9 705.8L1223.3 726.2M1223.3 726.2L1261.8 748.4M1022.9 606.7L1067.8 632.6M1138.3 673.3L1214.2 717.1M1214.2 717.1L1265.1 746.5M1026.3 604.8L1110.7 653.5M1181.4 694.3L1245.3 731.3M1245.3 731.3L1268.5 744.6M1029.6 602.9L1097.2 641.9M1097.2 641.9L1171.1 684.6M1225.2 715.8L1269.7 741.5M1269.7 741.5L1271.8 742.7M1032.9 601L1140.8 663.3M1140.8 663.3L1230.5 715M1260.4 732.3L1275.1 740.8M1036.2 599L1093.3 632M1093.3 632L1179.9 682M1223.2 707L1278.4 738.8M1039.6 597.1L1092.4 627.6M1070.8 607.5L1144.7 650.1M1144.7 650.1L1250.5 711.2M1147.8 648.1L1204.2 680.6M1267.2 717L1291.8 731.2M1052.9 589.5L1124.2 630.6M1175.7 660.4L1271.9 715.9M1271.9 715.9L1295.1 729.3M1056.2 587.5L1106.2 616.4M1106.2 616.4L1179.2 658.5M1059.5 585.6L1101.1 609.6M1101.1 609.6L1202.5 668.1M1202.5 668.1L1230.7 684.4M1297.1 722.8L1301.7 725.4M1062.9 583.7L1171.7 646.5M1239.8 685.8L1297 718.9M1297 718.9L1305.1 723.5M1170.8 642.2L1239.5 681.8M1239.5 681.8L1295.5 714.1M1295.5 714.1L1308.4 721.6M1168.3 636.9L1233.8 674.7M1311 719.2L1311.7 719.7M1072.9 578L1166.2 631.9M1217.4 661.4L1311.7 715.8M1267.1 686.2L1318.4 715.8M1079.5 574.1L1128.3 602.3M1128.3 602.3L1195.3 641M1235 663.9L1310.4 707.4M1082.9 572.2L1110.7 588.3M1110.7 588.3L1201.6 640.8M1201.6 640.8L1284.4 688.6M1160.1 613L1201 636.6M1201 636.6L1272.1 677.6M1272.1 677.6L1328.4 710.1M1089.5 568.4L1198.3 631.1M1198.3 631.1L1257.3 665.2M1294.8 686.9L1328.1 706.1M1328.1 706.1L1331.7 708.2M1186.8 620.7L1279.4 674.2M1096.2 564.5L1150.4 595.8M1150.4 595.8L1197.2 622.9M1197.2 622.9L1298 681.1M1298 681.1L1338.4 704.3M1099.5 562.6L1156.4 595.5M1156.4 595.5L1256.1 653M1256.1 653L1341.7 702.4M1102.8 560.7L1179.6 605M1207.6 621.2L1304.2 677M1156.1 587.6L1261.7 648.6M1261.7 648.6L1348.4 698.6M1166.7 589.9L1209.7 614.7M1209.7 614.7L1308.2 671.5M1308.2 671.5L1351.7 696.7M1112.8 555L1151.7 577.4M1191.8 600.5L1240.6 628.7M1240.6 628.7L1274.6 648.3M1274.6 648.3L1331.5 681.2M1331.5 681.2L1355 694.8M1116.1 553L1210.4 607.4M1210.4 607.4L1255.4 633.4M1255.4 633.4L1303.6 661.2M1330.8 676.9L1358.3 692.8M1119.5 551.1L1203.5 599.6M1250.6 626.8L1285.7 647M1122.8 549.2L1160.5 571M1160.5 571L1246 620.3M1246 620.3L1351.4 681.2M1351.4 681.2L1365 689" stroke="#b4b4b4" stroke-width="0.3" fill="none"/>
<path d="M778.8 747.3L1069.4 580M779.5 758.6L1104.2 571.5M802.2 757.1L1133.2 566.5M844.3 744.5L1091.4 602.2M821 769.6L1124.9 594.5M827.8 777.3L1160.8 585.5M829.1 788.1L1135.8 611.5M880.2 770.4L1122.2 631M912.7 763.3L1143.5 630.4M911.6 775.5L1171.4 625.9M887.9 800.9L1164.1 641.8M876 819.3L1153.4 659.6M960.8 782.1L1177.6 657.3M952.5 798.6L1167 675M952.8 810L1201.7 666.7M956.8 819.3L1205.5 676.1M924.5 849.6L1217 681.1M950.3 846.4L1209 697.4M1008.2 824.6L1234.4 694.4M987.7 848.1L1305.6 665M1034.1 833L1313.2 672.3M1052.6 834L1250 720.3M1005.6 872.7L1250.1 731.9M1055.1 855.9L1322.1 702.1M1033.1 880.1L1307.6 722M796.5 783.1L973.3 885.2M781.8 762.9L996 886.5M798.3 760.7L987.7 870M798.1 748.9L954.3 839M852.6 768.6L1016.9 863.5M850.6 755.7L968.3 823.7M820.1 726.3L988.8 823.7M839.8 726L1010.9 824.8M861 726.5L998.7 806M867 718.2L1059.7 829.5M869.2 707.8L1086.9 833.5M903 715.6L1086.7 821.6M894.1 698.7L1073 802M930.3 707.9L1075.9 791.9M899.1 678.1L1127.2 809.8M956.2 699.4L1090.9 777.1M922 667.9L1149.2 799M966.3 681.7L1091 753.7M954.5 663.2L1106.6 751M997.8 676.5L1125.1 749.9M1015.4 674.9L1181 770.5M975.4 640.1L1186.5 761.9M1004.2 645L1201.2 758.7M1040.7 654.3L1171.8 730M1006.2 622.6L1238.4 756.7M1036.6 628.5L1247.2 750M1063 632L1241.1 734.8M1081.5 630.9L1241.9 723.5M1068.8 611.9L1203.5 689.6M1093.9 614.6L1245.3 702M1092.8 602.2L1297.9 720.6M1079.7 583L1294 706.6M1084.8 574.2L1299.1 697.9M1141.1 594.9L1271.9 670.4M1135.5 580L1342.1 699.2M1151.2 577.3L1316.2 672.5M1137.9 557.9L1285.3 643" stroke="#9c9c9c" stroke-width="0.35" fill="none" opacity="0.8"/>
<polygon points="1043.5,594.9 1122.8,549.2 1365,689 1316.2,717.1" fill="#fff" opacity="0.35"/>
<polygon points="1086.2,570.3 1122.8,549.2 1316.6,661 1298.2,671.6" fill="#fff" opacity="0.3"/>
<polygon points="761.7,761.2 816,727.8 857.8,713.2 903.7,677.8 928.7,665.2 953.8,667.3 987.2,677.8 1020.6,679.8 1041.4,690.3 1037.2,702.8 1012.2,707 978.8,704.9 953.8,715.3 937.1,727.8 937.1,748.7 924.5,773.8 903.7,790.5 882.8,807.2 857.8,790.5 824.4,773.8 791,773.8" fill="#fbfbfb" opacity="0.9"/>
<path d="M828.3 742.5L825.9 744.2L822.5 744.3L819.2 745.6L816.5 747L815.4 749.6L814.9 752.1L817 753L816.4 754.6M928.1 795.8L924.9 795.5L920.1 795.4L918.4 796.4L915.1 796.1L911.7 796.5L908.5 797.6L904.6 796.9L901.8 795L897.4 794.1L895.8 791.9M820.8 783.3L817.5 783.9L814.6 784.3L812.8 783.4L810.5 782.8L808.4 781.2L805.5 779.9M827.7 670.3L829.8 670.7L833.6 670.8L836.6 669.5L841.3 669.6M890.5 739L889.8 736.2L890.7 734.1L894 732.7L894.7 731.1L898.4 730L900.5 728.9L902.8 727.8L906.6 728M898.6 748.9L900.9 750L902.9 751.3L905.7 752.2L908.8 752.4M769.3 746L768.9 744.5L767.2 742.4L763.6 741.5L761.5 739.8L761.5 737.4L759.6 736M981.9 670L986.1 670.5L990.5 670.3L993.1 670.9L997.5 671L1000.7 670.7L1005.1 670.2M763 799.1L766.1 796.9L766.6 794.2L768.2 792.8L768.6 791.7L769.4 789.2L766.8 787.2L767.9 784.5L768.7 782.2M809.8 707.8L808.8 705.3L806.6 704.3L802.5 703.9L800.1 704.3L798.5 705.6L796.1 705.9L792.5 706.2L789.9 705.5M907.1 672.5L908.2 673.5L910.3 674.4L911.5 676L913.9 677L916.2 678.4L919.1 678.8L922.9 679.5L925.2 678.7L929.4 678.4L933 679M865.9 735.6L867.7 734.8L867.9 732.6L869.5 731.6L868.6 728.8L867.8 727.6L868.7 725.2L871.5 724.1M792.1 710.4L790.2 709.9L789 709L784.4 708.8L781.3 709.8L777.3 710.1L774.6 708.3L770.4 708.7L768.1 708L767.2 706.5L765.9 705.1M812 700.7L812.1 698.5L815.1 696.7L816.7 694.5L821.5 694.1L825.2 693.9L827.6 694.4L828.8 696.2L830.9 698.6L832.5 699.8L832.2 701.8M1023.2 786.1L1019.1 786.4L1015.9 785.6L1013.8 785.7L1011.4 786.1L1007.9 786.9L1004.7 786.1L1000.4 785.3L997.2 784.3L995.8 782.1L997.4 780.8M827.4 767.1L828 765.7L827.4 763.4L829.6 762.1L832.3 761.4L834.5 761.5M995 706.6L992.2 707.1L990 707.9L986.2 708.8L985.3 711.4L986.9 713.1L988.1 714.9L988.3 716.6L988.9 719M1025.8 781.2L1027.7 782.3L1029.3 784.3L1030.1 785.7L1029.8 787L1026.8 787.8L1024.4 787.6M963.2 750L959.9 750.7L957.6 750.6L954 750.1L951.6 750.7L950.7 752.2L948.5 754.4L945.1 754.4L942.9 756.7L942.9 759.1M919.6 794.4L922.8 794.6L926 796L929.2 796L932.9 796.1L936.9 795.7L941.5 796.1L945.1 796L949.9 796.5L954.4 796.1M929.9 768.4L932.3 769.1L934.1 770.9L938.5 771.4L939.5 772.8L939.9 774.7L943.9 775.3L946.3 776.8L949.3 776.5L953 776L957.2 776.3M784.1 806.3L787.1 807.7L787.9 808.9L789.9 809.5L793.3 809L796.5 808.6M846.9 731.1L846.7 730.1L844.2 728.5L841.8 726.5L841.2 724.8L842.8 723.7L841.1 721.9L840.6 719.7M885.6 691.5L887 689.3L885.7 687.7L880.9 687.4L878.1 688.2L875.3 688.6L874 690.1L871.4 691.9M845.8 700.7L846.9 702.3L849.9 702.8L851.7 704.3L855.1 703.8L857.3 702.5L861.5 702.4L864.6 702L868.5 701.2L872.6 700.5L875.1 699M911.8 775.7L907.6 776L902.9 776.1L900.2 776.6L897.5 776.9L893.8 776.4L890.3 776.4L888.4 775.7L885.9 774.7L881.8 773.9L879.9 772.1M1012.6 769.2L1013.8 771.5L1012.7 773.1L1011.5 774.4L1008.6 776.7L1009 778L1010.3 780.3M905.9 736.9L909.5 736.9L911.3 735.3L911.6 732.4L909.5 731.3L908.2 729L907 726.6M1005.5 714.3L1004.5 711.6L1003 710.6L1000.2 710.3L997.6 710.8L994.4 709.8L993.6 707.9L990.1 707.2M827.8 727.5L830.7 729.5L830.3 731.7L827.4 732.8L822.9 732L818.7 731.5L817.1 730M1023 691.4L1026.5 691.3L1029.1 691.1L1031.1 690.8L1034.3 689.9L1037.2 688.4L1037.6 685.8L1036.5 683.3L1036.2 681.5L1038.7 679.4M824 801L823.2 803.6L823.9 806.1L826.1 806.8L828.4 807.3M818.8 774.5L815.6 775.4L814.1 777.8L810.5 778.7L808 779.7L804.2 780.4L803.8 783.4L805.8 785.3L804.1 787.7L803 789.3L804 790.3M897.6 673.8L899 671.1L902.1 670.1L904.3 669.4L909.2 669L912 668.3L915.3 669L917.9 668.1M876.9 786L878.3 784.4L880.8 783.3L885.3 782.9L888.4 782.9L891.8 784.5L896.5 784.8L901 784.7L905.2 783.2M850.5 720.9L850.4 723.7L850.3 726.2L849.3 728.3L850.8 730.9L848.2 732.9M882.4 804.9L880.2 805.1L878.5 803.2L873.5 802.9L871.3 802.4L869.8 801.3L869.9 800.2M1030.4 741.1L1028.8 741.9L1029 743.5L1030.6 745.6L1029.5 747.1M801.6 733.1L802.5 735.4L803.7 736.8L804.4 738.9L805.1 740.8L805.8 742.1L805.6 744.8L808.3 747.1L811 747.5M776.6 804.1L775.3 805.3L776.5 807.3L779 808.5L781.5 809.8L782.9 811.4L784.5 813.4L784.5 815.8L785.8 817.4L784.1 818.5L782.1 820.5M965.6 700.5L962.6 701.5L957.8 701L953.9 700.9L949.4 700.9L946.6 702.3L943.5 702.2M915.2 790.7L912.3 791.3L910.4 792.8L906.3 792.9L903.4 793L902.3 795.3L902.2 796.7L905.6 797.7L908.3 798.9L909.4 800.4L910.3 803.2M824.6 684.9L825.8 687.1L827.7 687.8L831.6 687.2L833.4 685.5L835.2 683.5L835.9 680.7L837.4 679.3L842.1 678.9M764.4 733.3L761.4 733L757 732.6L754.8 732.3L751.6 733.9M922.3 677.3L919.8 678.9L919.1 681.7L920.3 683.3L920.8 685L921.1 687.7L920.9 689.8L921.1 692.5M937.8 735.3L942.5 734.9L945.2 735.7L947.3 735.5L951.6 734.7L952.8 733.1M811.4 700.8L807.9 701.6L806.4 702.6L804.9 704.8L804.1 707.1L802.7 708.8L803.5 710.5L806.7 711.3L808.9 710.4L811.6 709.3M901.8 734.1L899.7 735.5L897.3 737.3L897.8 740L898.6 742.6L899.6 744.7L898.8 745.8L896 746.9L891.4 746.7M1038.2 783.9L1040.6 782.5L1043.8 782.1L1045.7 781.1L1049.8 780.8L1052.9 779.3L1055.3 777.3M916.4 717.1L915.8 715.2L914.1 713.8L914 711.8L913.5 710.3L910.8 709.3L911.8 707.5L910.9 706.1L910.8 704.7M824.1 805.1L824 802.4L822.4 800.3L820.3 799.1L818.2 799.6L816.4 797.8L813.7 796.6L810.1 795.3L807.5 794.3L805.5 795M762.2 777.5L761.4 779.9L761.6 782L759.8 783.3L761.2 785.7L762.5 786.9L763.4 789.1L765.3 790.4L765.7 791.5L769.3 792.5M889.2 806.3L884.7 806.3L881.8 805.8L877.6 805.6L875.5 805.9L874.1 808.5L871.2 809.8M827.9 666L828.8 667.6L829.7 669.7L830.9 670.5L833.1 671.7L837.4 672M947 769.6L942.9 769.1L939.5 768.6L937.7 767.4L936.8 765.5L934 764.5L931.8 764.9L927.7 764.6M768.2 753.4L770.3 754.4L770.6 756.3L772.1 757.4L772.7 760.3L777.2 760.8L781 759.9L784.5 760.2L787.5 758.8M1030.9 666.1L1032.9 667.1L1037.2 667.3L1041.9 666.9L1045.7 666.2L1048.3 666.5L1051.6 666.1L1055.6 666.7L1059.7 667.3L1062.7 667.9M944.7 794.9L941.4 794.1L939.4 793.3L937.3 791.5L934.8 791L931.1 791.5L928.8 791L925.8 790.6M882.8 693.6L880.6 694.2L876.9 695.3L875.4 697L874.5 698.1L875.4 700.2L878 702L882.1 701.9L886 701.8L887.9 699.9M857.7 743.6L859.1 745.8L861.5 746.9L866.2 746.7L868.4 745.6M918.4 721.8L916.3 721L912.6 720.4L909.8 720.5L907.7 721.8L904.3 722L901.2 722M993.4 739.9L990.3 740.6L987.1 740.5L983.6 739.8L980.1 740.2L977.3 739.7M853.4 681.4L855.5 683.3L858.7 683.7L859.7 684.6L859.3 687.3L860.5 688.6L861.8 690.9L861.3 692.5L860.5 693.5M782.5 708.5L786 709.4L786.8 710.5L787.7 713.1L785.1 714.1L784.4 716.5L783.5 719L779.7 720L777.6 720.7M787.2 677.4L786.2 674.9L783.1 674.5L781.3 673L778.6 671.7L774.8 670L772.8 669.1M972.8 727L971.3 724.8L967.5 723.8L966.4 722.4L962.2 721.6L958.7 721L955.7 721.2M979 707.2L981.3 708.7L980.4 710.1L981.9 712L985.4 713.6L988.5 715L990.6 716.6L993.4 717.7M981.4 707.6L985.5 707L988 705L992.7 704.8L995.7 706.6M828.3 761L830.4 763.1L833.7 763.2L836.6 762L837.8 759.9L839.2 758L839.2 755.9M863.4 741.4L863.5 743L865.5 745.1L867.8 746.6L871.4 746.3M850.9 746.2L848.9 744.3L845.9 743.4L841.7 744.7L837.8 743.8L837.2 742.3L835 740.9M788.4 770.8L784.4 771.2L783 772.7L781.5 775.3L777.8 776.8L775.9 778.9L773 779.5L770.4 779.9M761.8 757.3L758.6 759.5L755.2 760.2L750.9 761.2L748.6 762.2L746.6 763M791.4 789.1L791.7 787.5L794.8 786.4L797.6 785.2L800.1 783.8L804.3 784.2L808.2 783.3M944.3 695.5L941.3 694.4L936.8 694L934.4 691.8L929.8 692L925.7 690.6L921.9 689.6L918 689.2L917.1 686.4M976.9 760.7L979.5 762.8L979.7 765.4L982.9 766.3L985.9 765.3L988.9 765M861.1 792.5L859.2 794.1L856.3 795.2L856.6 797.2L858.7 798.5M951.7 794.7L956.6 794.9L959 793.7L960.2 791.5L959.4 789.6M1013.1 781.6L1010.9 782.6L1011.5 785L1011.2 786.3L1013.4 787.3L1015.7 788.3L1018.9 789.1L1022.2 790.1L1026 791.1L1028 792.4L1031.7 793.2M792 689.8L793.2 691.6L795.4 692L797.7 692.6L801.7 693.6L806.2 693.1L808.1 691.5M1010.6 778.6L1007.5 780.1L1005 780.1L1000.6 780.3L997.2 781.6L993.9 783L994.4 785.6L995.7 786.6L997 787.6M795.2 787.6L797.3 785.3L801.2 784.7L802.8 783.1L803.4 781.5L804.4 779.3L803.4 777.1L800.1 775.5L795.5 774.7M1025.9 739.9L1024.6 737.8L1021.5 736L1017.8 734.8L1013.9 735.3L1011.1 735.6L1007 736L1003.1 735.2L999.9 735.2L998.6 733M934.3 710L936 711.5L938.7 711.7L942.7 712.4L945.8 711.8L948.6 712.2L951.3 712.9L954.6 712.2M773.7 733.1L770.2 731.9L766.1 732.3L763.2 731.6L761.6 729.5L758.1 728.4L756.5 726.1L755.2 724.7L750.7 724.7M853.9 665.6L851.8 665.3L850.9 662.9L850.4 660.7L846.1 660.2L844.3 659L843 656.9L840.8 656.7L839.1 655.4L836.6 654.1M1026.6 713.6L1023.6 712.9L1022 710.6L1019.1 709L1018.7 707.8L1020.3 706.8L1023.7 706.6L1026.5 706.4L1027.7 705.4L1030.3 704.9L1032.8 704.9M966.8 777L965.7 775.4L967.9 773.3L966.4 771.6L962.2 770.8L959.5 772.5L957.9 774.6L955.6 777L951.8 777.5L948 777.5M920.2 708.6L919.2 709.7L918.5 712L919.7 713.8L922.4 713.7L925.7 712.6L928.4 713.9M928.2 738.4L926.4 736.1L922.2 735.5L918.9 733.7L916.3 732.7L913.8 732L910.8 731.1M881 777.1L885.6 776.9L888.8 775.6L889.1 773.8L889.4 771.5L887.7 770L885.9 769.2L881.2 769.1L876.4 769.2L874 768.4M903 701.9L900.4 703.7L897.3 705L893.2 705.8L889.4 706.3L887.6 707.9M832 740.8L833.5 742.2L833.1 743.8L830.8 744.6L830.1 746.4L825.7 747.3L824.5 748.6L823.7 749.6L823.2 751.9M992.9 721.6L989.1 720.7L987.4 719.7L986.6 718.2L981.9 717.5L980.2 715.2L979.6 714.2M887.9 710.1L889.4 708.9L891.4 708L896.1 707.7L901 708.1L904.4 709.5L905.4 710.8L906.3 712.4L904.2 714.6L902.1 715.7L899.9 716.9M936.7 704.6L939.5 706.1L941.6 706.3L946.1 706.3L950.7 705.8L953.1 706.3L954.7 705.3L957.1 703.2L959 702.3M1002.2 694.2L998 694.1L995.2 693.2L993.5 691.3L994 690L998.2 689.3L1003 689.4L1005.4 690.8M903.9 732.3L906.9 733L910.9 733.6L914.1 733.6L918.5 733.2L922.5 733.5L925.5 732.5L928.4 731.8L930.3 729.8L931.4 727.6M918.3 788L919.6 786.8L918.6 784.6L919 783.6L921.4 782.2L924.2 781L924.9 778.6L925.4 777L926.3 774.9L929.6 773.5L932.3 771.1M909.9 668.5L913.4 669.7L917 670.8L920.5 669.7L923.3 668.6L926.2 666.7L930 666.7L932 667.7L935.2 668.6L938.3 668.8L940.8 669.5M908.4 731.2L907.7 733.9L907.4 736.2L907.6 739.1L906.2 740.9L904.5 741.9L901.4 742.8M1036.1 718.3L1040.5 718.6L1043.3 717.1L1046.6 715.3L1049.6 713.8L1053.2 713.1L1055.9 713.3L1059.7 713L1062.7 713L1065.1 712.6L1066.1 710.1M995.2 751.4L993.2 753.7L991.2 754.7L987.2 754.3L984.5 752.3L983.1 751.1L983.6 749.2L986.8 747.6L989.5 746.9L990.2 744.9L990.9 742.7M790.2 720L793.8 718.9L798.3 718.8L802.4 718.4L805 719.4L808 720.2L811.3 718.9L812.1 717.6M786.1 794.3L788.8 794.6L791.4 795.4L795.2 796.4L798.7 796.4L803.5 796.4M903.9 732.1L908.5 732.8L912 732.9L914 733.7L915.9 734.9L915.1 737.6L916.1 739.7L919.9 740.5M782.6 705.2L784.4 704.7L788.8 705.4L792.1 705.4L794.6 706.5L798.2 707.5L801.2 706.6L803.4 705.6M837.6 753.9L842.5 754L844 755L843.3 757.4L844.1 758.5L846.7 760.3L849.8 761.3L850 762.6M873.8 725.9L873.3 723.5L875.9 722.3L879.3 721.9L881.4 720.6L881.4 719.1L880.3 717.2L877.7 715L878.2 712.7M966.6 768.1L964.1 769.1L964.8 770.6L962.9 772.9L963.9 774.3L963.7 777" stroke="#c9c9c9" stroke-width="0.3" fill="none"/>
<polygon points="1091.5,627.7 1120.7,613.1 1154.1,619.3 1175,640.2 1179.2,656.9 1158.3,669.4 1120.7,669.4 1095.7,652.7" fill="#fbfbfb" opacity="0.9"/>
<path d="M1154.9 649.1L1152.7 651.6L1153.4 654.4L1153 655.7L1153 657.3L1151.6 658.7L1152.6 661L1152.5 663.8L1150.7 665.9L1148.4 666.8L1145.9 668.8M1118.2 643.6L1119.2 645.9L1120 647L1118.3 648.5L1119.7 650L1122.9 650.9L1125.8 653.1L1128.3 653.1L1131.5 654.8M1116 615L1119.3 615L1121.1 614.3L1123.8 612.5L1127.5 610.8L1128.7 609L1128.5 607.8L1127.3 606.3L1123.8 605.6L1123.1 602.8L1122.7 601.3M1096.6 666.8L1094.6 667.6L1090.6 668L1088.2 667.9L1086.7 669.4M1129.8 643.8L1132.2 642.2L1135.9 641.7L1138.6 641.5L1141.2 641.8L1143.2 641.1M1100.1 621.5L1101.2 619.7L1100.1 616.9L1100.8 615.7L1102 613.1L1103.9 610.8L1103.2 608.3L1104.4 607.3L1101.9 605.3L1098.9 603.6L1094.8 604.4M1167.7 662.9L1163.2 663.1L1159.3 662.7L1155.9 662.1L1154.1 660.7L1150.1 660.5L1146.4 660.4L1143 659.4L1141.1 658.4M1142.9 641.6L1142.5 639.3L1141.6 638L1143.9 635.8L1145.8 634.4L1146.8 633.1L1148.9 632.1L1150.4 630.3L1150 627.6M1142.9 661.1L1145.7 659.3L1147.2 657.2L1147.9 655.9L1149.5 654.5L1149.4 652.3L1150.3 650.9L1153.5 650.1L1157.4 650.8L1162.3 650.6M1147.3 668.4L1146.2 666.2L1145.5 664.4L1141.8 663.9L1139.5 664.4L1137.9 665.9M1152.2 617.5L1149.9 618.6L1147 619.1L1144.9 618.7L1141.7 618.4M1125.9 656.4L1128.1 656.1L1130.1 655.5L1133.5 654L1134.7 652.3L1134.3 650.5L1132.4 648.6L1131.6 647.6L1132.3 646.4L1135.6 645.3L1139.2 644M1122.1 621.8L1123.9 623.5L1128 623.8L1131.1 624.4L1134.1 625.1L1136.8 624.6L1139.3 626.5L1140.4 628.2L1139.5 630.1L1137.8 631.6M1137.1 645L1138.4 643.2L1136.4 640.9L1135.3 638.2L1134.9 636L1133.2 634.9L1130.5 632.7M1136.1 623.4L1137.5 624.8L1140.8 626.1L1143.5 626.6L1147.9 625.8L1150.7 626M1171.5 626L1172.9 624.2L1172.8 622.1L1173.2 620.7L1173.2 618.8L1174 616.8L1172.1 614.4M1157 664.7L1156.7 666.8L1157.8 667.7L1162.4 668.4L1166.1 668.1M1164.1 647.6L1161.2 646L1161.7 644.6L1163.4 642.5L1164.7 641L1165 639.8L1163.2 639L1159.8 639.4M1162.4 628.5L1162.1 630.4L1161 632.9L1162.9 634.4L1161.2 636.6L1162.6 638.1L1165.1 639.7L1168.3 640.4M1113.2 619.7L1112.5 621.5L1111.6 623.8L1112 626.5L1110.4 627.6L1111.3 629.3L1114.3 630.6L1117.9 632.6L1117.3 635.4L1115.2 637.6M1104.6 657.1L1109 656.5L1113.3 657.2L1115.1 659.2L1118.5 659.7L1119.5 661.7L1118.1 664.3L1117.8 667.2L1118.9 669M1130.2 643.6L1127.3 643.4L1125.2 644.6L1124.4 647.1L1125.3 648.4L1125.7 649.6L1126.1 651.9L1122.6 652.7L1119.2 654.4L1117.3 655.5L1113.9 655.8M1154.6 666.5L1152.8 664.9L1148.2 664.7L1146.1 665.9L1144.8 666.9L1139.9 667.4L1136.7 668.3L1136 669.7L1137.7 671.7L1140.7 672.3M1162.8 660L1164.8 658.8L1168.9 658.4L1173.6 658.2L1178.5 658.1M1133 657.9L1129.6 656.8L1127.7 655.4L1125 654.2L1124.7 651.7L1126.5 649.7L1127.8 648.5M1148 634.2L1146.5 635.8L1143.3 636.4L1141.1 637.7L1138.4 638.6L1136.7 641.2L1137.5 643.5L1139.1 645.5L1141.5 645.6M1162.9 634.4L1165.5 635.1L1166.9 636.9L1165.7 638L1161.6 638.8L1161 641.4L1157.1 642.1M1108 628.5L1111.5 629.5L1115.5 629L1119.1 629.6L1121.3 631L1121.3 632.3M1095.3 647.6L1093.7 649.2L1090.7 649L1088.6 647.5L1084.1 647.9L1081.3 649.4M1102.8 633.6L1104.9 632.7L1105.9 630.5L1109 628.8L1113.4 629.4M1126.5 642.9L1125.6 644.5L1123.8 646.1L1125 648.3L1126.4 649.6L1128.2 650.2L1128.5 651.9M1100.3 645.3L1098.9 647L1098 648.6L1098.1 650.6L1099.6 653L1099.1 655L1100.3 656.6M1174.4 617.5L1173.5 619.9L1173.6 622.5L1174.3 624.1L1173.5 625.4L1174.9 627.8L1174.8 630.6L1177.8 632.4L1180.2 632L1182.3 631L1182.7 628.8M1120.8 651L1124.7 652.1L1124.8 653.8L1123.6 655.6L1122.9 657.1L1118.9 658L1117.4 659.9L1115.1 660.7L1112.9 661.4L1111 662.2M1110.8 649.7L1113.9 649.5L1117.6 650L1120.7 650.9L1120.6 653M1161.7 624.3L1157.1 624.8L1153.2 624.5L1150.6 625.4L1145.9 625.3L1141.5 626.2L1140.4 627.3L1142.1 629.4M1107.2 631.2L1103.9 633.2L1104 635.9L1105.2 637.6L1108.9 639.4L1112.4 640.2L1115.5 642.3L1117.5 642.6L1121.9 642.6M1171.5 644.4L1169.6 643.1L1168.2 640.5L1168.9 639L1168.4 636.2L1168.8 634.3M1106.9 628L1111.7 628.5L1113.9 628.7L1116.5 628L1119.3 627.3L1121.6 625L1125.2 624.8L1128 623.3L1128.9 620.9L1130.6 619.8M1120.3 613.2L1117.6 612.1L1114.2 612.8L1110.8 614.4L1108.8 616.3L1105.4 617L1102 618.2L1099.1 618.1L1096.6 616.2L1095.5 614.6L1097.3 612.9M1106.2 618.4L1107.6 620.7L1111.4 621.8L1113.1 623L1113.5 625.4L1114.3 628.2L1116.1 628.9M1113.8 653.5L1112.5 655.7L1114.3 657.8L1116.3 658.4L1119 659.6L1122.4 660.4L1124.2 661.1L1128.6 660.3M1172.7 637.3L1168.4 637.9L1168 639.2L1167.5 641L1168.3 643.1M1168.7 662.1L1165.5 664L1163.2 665.1L1160 665.5L1159.2 667.1L1160.8 669.9L1163.9 671.4L1166.3 673L1166.2 675.4L1165.8 676.8M1174.6 648.9L1170.9 648.6L1167.1 649L1163.3 649.5L1161.1 650.1L1160.3 652.7L1156.9 654.2L1152.8 654.2L1149.3 654M1114.3 619.4L1113.2 617.4L1111 616.4L1109.1 615.6L1104.7 615.8L1101.6 616.7L1098 616.7L1093.3 616.2L1090.1 614.8L1089.8 613.1M1162.3 636.6L1159.9 637.1L1157.2 638.3L1156.7 641.1L1156.4 643.1L1157.5 644.9L1158.1 647.2L1161.6 648.6L1163.9 649.4M1150.4 638.8L1153.6 638.1L1156.1 638.6L1158.8 639.6L1161.9 641.3L1162.8 643.9M1133.4 633L1135.8 631.7L1134.9 629L1133.9 626.3L1135 623.7L1133.5 622.7L1130.5 620.6L1131.6 618.7M1106 640.4L1108.5 640.7L1112.8 641L1116.5 640.4L1119.5 638.9L1121.8 638.7L1124 638.6M1114.7 650.3L1113.9 652.8L1116.6 654.9L1118.6 657.5L1120.7 658.1L1123.3 659.5L1126 661.2L1129.9 660.9L1132.4 662.1M1119.5 648.8L1116 648.8L1111.8 649.6L1110.8 651.8L1107.3 653L1104.6 655L1104.4 656.9L1104.8 659.3L1106.5 660.6L1109.7 661.1M1115.4 620.7L1114 619.5L1111.6 618.3L1107.1 619.3L1102.9 618.9M1147.1 633.5L1148.7 634.9L1148.5 636.7L1147.9 638.7L1148.7 640.4L1150.6 641.6L1153.8 642.3L1156.7 642.3L1159.4 642.8L1161.5 643.1L1163.2 645.1M1098.1 640.6L1094.7 642L1092.8 643L1088.4 643.7L1087.1 644.9L1082.7 645L1079.9 644.4L1076.6 642.7L1076.9 640.8L1074.6 639.2M1167.2 656.7L1168.8 655.6L1172.8 655L1177 654.6L1181.4 655L1184.3 656.4L1188.2 656.3L1189.9 654.9L1191 652.1M1127.9 641.1L1127.8 642.5L1125.6 644.1L1124.5 645.5L1121.7 647.4L1117.4 647.1L1115.8 645.2L1116.1 644.1M1162.6 632.8L1160.6 632.3L1156.3 632.8L1152.8 632.5L1149.9 631.8L1147 630.9L1147.4 629.7L1148.1 627.9L1148.1 626.2L1148.7 624L1150.9 622.5M1149.6 631.5L1148.6 630.5L1145.5 629.3L1145.6 627.9L1142.3 626.6L1140.8 624.3M1101 638.9L1104.2 640.2L1105.1 641.9L1109 642.6L1111.7 642.1L1114.6 642.5L1118.5 642.2L1119.4 639.7L1121.7 637.7L1120.4 636.4L1121.3 633.5M1158.5 662.8L1159.7 665.3L1158.6 667.2L1159.3 668.5L1158.7 669.9L1158 670.9L1158.2 672.8M1151 665.2L1149.1 666.9L1145.9 667.3L1142.6 666.3L1142.2 664L1139.8 663L1138.1 661.2L1135.9 660.7M1102.1 641.8L1098.8 642L1095.3 643.5L1092.7 643.8L1090.5 645L1088.5 645.9M1173 666.5L1172.9 664.6L1174.3 662.3L1177.3 661.2L1181.9 661.1L1183.4 660.1L1183.9 658.8L1183.5 655.9L1181.7 654.5L1177.7 654M1092.7 615.2L1095.6 614.2L1099 614.4L1100.5 616.3L1105.2 616M1171.4 655L1174.9 655.7L1178.3 656.5L1182.7 656.2L1186 656.6M1166.9 634L1164.3 635.5L1163.1 637.6L1163.9 639.2L1163.5 641L1162.2 642.1L1160.3 643.4L1160.4 644.7M1175.6 630.1L1175.1 632.3L1172.6 634.3L1169.7 634.8L1165.5 634.6L1162.5 634.6L1160.3 633.9L1158.3 633.9L1156 633.4L1152.7 632.9M1141.1 651.7L1137.5 651.3L1135.1 652.6L1130.8 653.6L1130.1 655.5L1132 657.1L1133.7 658.6L1134 660.6L1135 662.2M1147.3 647.7L1152 647.3L1154.2 648.6L1156.9 649.9L1158.9 650.7L1161.5 651L1162.9 652.5L1165.1 653.9L1167.3 653.7L1170.6 653.1M1156.1 665.9L1157.1 668.4L1156.8 670.6L1157.4 673.4L1158.4 674.5L1161.6 675.2L1162.7 677.8L1163.4 679.5L1167.2 680.5M1108.7 625.2L1105.4 624.9L1102.3 625.1L1100.3 624.6L1098.2 626M1167.2 641.8L1169.2 640.7L1171.1 640.2L1174 639.4L1177 639.9L1180.9 639.5L1183.5 638.4L1186.5 637.4L1190.3 638.3L1193.1 637.4M1131.7 668.6L1129 667.3L1125.9 666.9L1124.3 666L1122.5 664.1L1120.9 662M1113.3 627.8L1115.9 628.6L1116.9 631.2L1121.2 631.5L1124.9 631.5M1115.8 668.7L1113.4 668.3L1109.8 669.2L1107.1 670.3L1104.6 670.8L1101.7 669.1L1100.3 667.6L1099 665.9L1097.5 664.4L1096.9 662.5M1096 643.6L1091.1 643.5L1089 642.1L1086.5 641.9L1082.6 642.4L1080.5 644.1L1077.9 644.5L1074.6 644L1071.8 644.9M1102.9 613.5L1106.4 612.2L1106.9 611.2L1107.3 608.8L1110.8 607.7L1112.1 606.1L1114 603.9L1113 601.1M1143.6 668L1141.4 669.4L1137.4 670.3L1134.7 671.3L1132.4 673.6L1131.4 675.9L1133.9 678.1L1136.8 678.5M1173.7 667L1172.8 669.1L1173.9 671.3L1175 672.6L1173.9 673.8L1172.6 676.5L1172.9 678.3L1172.9 681.3M1091.6 640.6L1089.7 642L1088.2 643L1088.2 644.8L1085.2 645.8L1083 647.4L1079.7 647.8L1077.3 647L1075.6 646.1L1074.6 644.9L1072.4 643.8M1157.3 637.9L1160.6 637L1164.2 635.8L1165.8 633.9L1169.1 633.9M1129.6 645.5L1127.5 644.2L1124.1 643.7L1121.7 643.8L1120.4 646.2L1116.2 646.5L1112.9 647.4L1109.9 646.6L1105.9 646.8L1103.6 646.1L1099.8 645.9M1137.4 635L1138.4 636.4L1136.1 637.7L1137.1 640.4L1136.3 643.3M1152.4 620L1148.1 619.6L1146.2 617.5L1143.7 616L1144.2 613.7L1142.5 612.6L1140.7 611.5L1140 609.6M1137.1 655.1L1137.7 653.3L1137.1 651.5L1135.1 650.6L1130.7 649.9L1127.3 650L1124.7 651.7L1120.8 651.6M1177.6 619.3L1179.3 620.4L1179.2 623.2L1178.3 624.2L1178.1 626.2L1177.5 628.1M1120.1 667.2L1121.3 669.5L1121.2 672.1L1120.7 673.5L1122.5 676L1125.8 676.5L1129.5 675.7M1129.2 637.6L1125.9 636.6L1123.5 637.1L1120.7 638L1116.9 639.7L1113.1 640.7L1110 641.7L1109.4 643.7M1099.4 643.9L1095.5 644.6L1090.9 644.5L1087.9 645.3L1083.4 644.8L1081 642.6M1139.8 624.6L1141.8 623.5L1142.5 621.3L1142.2 620.2L1141.2 617.6L1139.6 615.4L1141.3 613.7M1099.8 644L1102.3 642.2L1102.3 639.6L1102.3 637.7L1104.1 636.4L1107.9 635.2M1126.2 654.3L1127 655.5L1129.9 656.2L1134.1 654.9L1137.7 655.2M1150.2 625.4L1155 625.1L1156.4 624.2L1158.8 623.9L1161.8 623.9M1132.6 623.4L1136.2 622.5L1137.7 621.2L1142.3 620.5L1144.9 618.6L1147 618.3L1150.3 618.8L1152 619.9L1150.5 621.3M1141.8 643.7L1144.9 642.8L1145.4 640L1143.2 639.2L1141.5 638.2L1139.3 638.4L1135.9 640.1L1134.4 641.7M1115.6 645.4L1114.9 647.3L1114.8 649.9L1117.6 651.9L1120.6 653.2L1122.8 653.4L1125.2 652.7L1129.3 652.5L1132.3 651.6M1111.8 649.6L1109.2 647.6L1107.2 647.2L1103.2 647L1099.6 646.4L1099.7 644.9M1098.7 658.2L1103.1 658L1105.4 659.1L1107.6 661.1L1109.8 663.1L1110.2 665.4L1109.7 667.1M1120 650.3L1116.1 650L1112.7 649.3L1110.6 648.7L1106.5 648.7L1104.2 646.7L1102.4 645.3L1099.1 644.6L1094.1 644.7L1090.4 644.7M1146.9 636.4L1145.1 634.8L1144.9 631.9L1143.4 630.1L1144.1 627.4L1145.6 624.7L1143.8 623.6L1141.8 622.6L1139.9 621.9L1135 622.5L1134 624.5M1163.6 626.7L1166.1 627L1169.1 625.5L1171.1 624.8L1172.1 623L1169.8 620.9L1171.3 619.2L1170.8 617L1172.1 615.2L1174 613.5M1116.1 632.6L1118.8 633.4L1121.3 634.2L1124.7 634.8L1128.6 634.2L1131.5 634.9L1135.3 634.3L1138.9 633L1138.7 631.3M1097.6 658.3L1094.9 657.3L1092.6 657L1089.1 656.9L1085.6 657.1L1082.8 658.7L1078.4 658.8L1073.9 659L1069.9 659.7L1067.5 660.3M1120.6 637.3L1117.2 638L1116.5 640.4L1113.4 641.2L1110.4 642.4L1107.3 642.6L1105.6 643.6L1105.2 645.5L1106.5 646.6L1105.1 647.8L1102 648.9M1176 624.4L1174.2 622.9L1171.3 621.7L1168.7 621.9L1166.9 624.3L1166.8 626L1167.1 627.9L1167.5 629.1L1168.1 631M1139.8 651.9L1136.9 653.7L1137.2 655.6L1138.8 657.2L1137.9 658.6L1137.1 659.7L1135.4 660.7L1131.3 661.8L1128.5 662.4L1124.4 661.7M1111.7 639.7L1111.5 641.5L1109.7 643.3L1106.5 643.5L1102.6 643.2L1098.7 642.4L1095.9 642.9L1091.4 642.9L1089.9 640.9M1097.8 633.8L1098.6 635.5L1099.6 637.1L1099.6 640L1102.4 640.9L1104.6 642.2L1109.1 641.5M1167.9 652.4L1169.3 653.6L1170 655.5L1170.3 658.2L1172.8 660L1173.3 661.1L1172.9 663L1173.2 665.4L1173 667.3" stroke="#c9c9c9" stroke-width="0.3" fill="none"/>
<polygon points="920.4,669.4 945.4,656.9 970.5,661.1 953.8,673.6 928.7,677.8" fill="#fbfbfb" opacity="0.9"/>
<path d="M924.5 671.7L926.6 673.2L928.3 674.5L931.3 674.2L933.9 673L936.8 672.2M923.8 677.6L920.8 677.6L917.7 677.5L914.2 677.9L912.2 677.9L910.3 678.9L907.2 678.9L903.5 679.7L899.8 679.5M949.4 657.2L944.8 657.5L940.6 658.1L938.1 660.1L934 660.9L931.7 662.2M931.2 673.1L933.7 671.8L936.1 670.3L937.3 669L935.9 666.5L932.2 665.5L929 664.3L926.3 663.9L923.6 663.8M939.1 663.3L941.2 662.3L944 662.6L945.8 661.9L948.4 661.6L950.7 659.6M950.8 664.4L948 664.3L944.5 663.7L939.8 663.8L936.5 662.8L934.6 661.8M924.8 664.5L925.5 666.4L924.6 669.1L924.6 671.1L927.5 672.4L931.9 673.3L934 673.3L937.1 673.5L938.6 674.9L942.9 675.5L947.6 675.3M921.4 666.3L923.9 667.5L925.2 668.4L928.6 669.2L930.6 670.2M967.1 672.2L971.6 672.1L974.8 672.2L976.9 671.8L978.7 670.9L981.4 670.9M921.4 663L920.3 665.7L917.7 667.2L912.9 667.5L909.9 667.6M930.4 676.3L927.8 677L925.8 677.9L923.7 679.1L922.3 680.5L919.6 681.9M951 676.5L950.3 677.6L951 679.5L954.6 681.4L959 681.2L962.4 681L966.1 680.9L968.6 680.1L972.1 679.2M952.4 669.9L951.9 672.4L952.6 674.1L954.2 675.1L957.9 675.2L959.8 673.6L962.1 673L965.6 672.4M936.8 673.6L938.6 671.1L941.1 669L943.2 668.1L946.2 666.3L946.3 663.8M959.7 670.9L959.6 673.6L958.4 675.7L960.1 678.4L960.8 680.8M953.7 659.8L955 657.2L957.2 654.9L961.1 654.3L963.6 652.6L968.5 652.4L971 653.2L970 654.4L967 655.1L964.8 655.5L960.1 655.8M935.5 672.4L931.4 672L927.1 671.6L922.3 672L919.4 672.1L915.9 671.3L911.7 671.6L909 670.8L906.3 671.4L902.1 671.7M947.6 676.3L945 677.2L944 680L943.7 682.1L942.7 684.3L941.8 686.5L944.7 687.7L947.5 689.3L948.5 690.8L949 692.7M946.4 657.9L944.2 659.4L941 659.9L940.6 661L941.3 663.8L943.2 665.4L943.7 667.5M964.5 664.9L965.5 666.3L968 668L971.1 669.4L971.5 671.6L972.7 672.8L971.8 675.6L970.4 677.8L966.7 678.2M962.9 662.9L963.3 659.9L965.2 658.6L967.2 658.5L970.1 659.4L973.5 659.9L975.3 661.3L975 662.5L974.7 665.4L976.3 667.1M966.5 658.6L964.3 660.3L959.4 660.2L955.6 661.1L954.4 662.9L952.7 664.2L948.7 664.1L946.4 665.3L943 666.5M936 670.7L936.7 673.5L938.7 674.3L940.7 676.2L941.8 678.5L943.8 679.2L946.1 680.6L948.8 681.7L950.5 683L953.6 683.6M929.1 660.8L932 661.6L932.7 663.8L935 664.5L938.1 666M932.1 667.9L927.6 667.9L924.2 667.8L921.5 668.4L918.9 669.1M937 672.7L934.4 673.9L933.9 676L932.8 678.2L931.7 679.4L929 681M969.6 676L967.3 678L965.1 679.9L965.7 682.3L966.5 683.5L968.8 685.2L971.7 686.5M963 659.5L960.5 660.5L957.5 662.7L954.4 664.1L953.8 667M966.8 665.7L965.6 667.8L963.8 669.1L961.8 671.1L961.6 673.2L963 674.3L965 675.8M926.8 657.6L923.3 656.7L921.3 656.9L919.9 659.1L917.8 660.1L916.3 661.2L917.5 663.1L918.3 665.1L919.4 667.1M936.9 672.8L941.4 673.2L944.9 674.9L946.9 676.3L947.1 677.4L945.7 678.6L942.3 679.4L939.1 680.1L937.9 681.3M969.1 665.1L971.3 664.5L973.1 663L973.8 660.5L972.2 659.7L969.1 659.5M920.5 666.2L921.3 668.8L923.5 669.2L927.8 668.4L930.3 667.4L931.9 665.8L935.6 664.7L939.5 664.2L941.2 663.3M939.1 671.9L941.8 671.3L943.4 669.9L946.1 669L946.4 667.6L945.8 664.7L942.3 663.3L940.8 660.9L940.1 659.6L941 657.7M955.2 665.3L952.6 666.7L949.5 666.9L947.5 669.2L944.1 671L941.2 672.3L937.4 672.6M942.4 676.3L946.9 676.7L948.5 678.7L950 680.7L951.4 683.2L954.4 683.5M964.6 660.6L965.9 659.2L970.6 658.9L974.3 659.3L977.2 660M931.1 668.8L934 669.6L938.8 669.6L942.9 669.2L946.1 670.1L947.5 671.6L949.7 672.5M941.9 676L938.5 676.8L936.8 679.1L935.3 681L931.8 682.9L931.3 684.3L934.5 685.6L936 686.9L936.6 688.6M932.6 664.9L936.6 665.2L939.3 664.8L943.1 663.2L946.2 662.3M935.9 668.5L936.8 670.6L939.3 671.8L943.4 671.9L946.7 670.3L949.4 669.9L953.5 670.1L956.5 671.1M938 670.1L938 668.1L939.4 665.6L941.2 664.8L945.3 664.6L946.6 663.2L949 662L952 660.8L954.7 660.9M932.2 672.8L928.9 672.3L927.1 670.2L922.8 668.8L919.7 668.6L916.3 667.6L914.4 665.6M947.5 666.9L949.3 665.9L953.9 666.3L956.7 664.6L958.9 664.7M944.8 658L944.5 659.8L942.7 661.4L939.6 661.2L937.3 660.4L934.6 659.6L932.8 658.7L932.2 656.8L930.4 655.1M959.6 666.9L960.1 668.4L961.8 669.5L966.2 669.6L968.6 668.3L970 666.2L970.1 663.3L971.8 661.6M951.5 657.4L953.4 655.7L957.9 656.3L960 657L964 658.7L965.4 661M924.6 665.5L924.2 667L923 669.1L924.1 671.6L925.3 672.8L927.9 673.2M962.2 674L965.1 674.8L969.1 675.2L971.5 676.6L974 678.8L976.1 679.3L978.6 677.5M931.3 664.7L934.4 666.1L936.5 665.9L938.8 664.4L940.6 662.6L941.7 660.4L943.8 658.6L942.8 657.1L940.2 655.6L939.4 653.9M948 675.4L949 678.2L950.3 680.2L952.5 681.2L955.2 682.2L954.3 684L950 684.6L948.9 686.1L947.1 688L947.7 689.7L949.8 691.5M948.8 657.8L949.4 660L947.9 661.8L946.4 664L943.5 665.1M928 673.6L927.9 671.6L929 669.1L928.5 667.6L926.5 667.2L924.4 666.2L920.5 665.4M934.7 671.6L938.6 670.4L943.2 670.5L947.4 672L949.9 671.5L953.7 671.3L955.9 672.3L960.4 671.8L963.3 673.7L965.3 674.6L968.8 675.1M945.8 660.4L945.7 658.7L946 656.5L944.6 654.8L943.1 652.9L940.8 651.6L936.6 651.1L934.7 653.1L933.8 655.1L930.9 656M935.2 672.1L934.1 669.3L933.3 666.8L928.7 665.7L925.6 664.6L923.6 663.4L921.1 661.8L919 660.4M955.8 676L953.2 673.9L949.6 672.2L945.7 673L944 672.1M960.5 676.4L961.4 679L962.2 680.3L964.4 682.3L967.3 682.3L969.4 684.7L972.4 684.9L976.5 684.1L979.4 683.5L983 684.5L986.5 683.6M957.3 665.4L960.2 664.4L963.4 663.6L965.8 663.1L967.6 662.4M959 664.9L957.2 663L956.7 661L956.4 659.1L952.6 657.4L948.6 656.3L945.6 655.8L942.5 655.8M927 673.4L928.3 675.1L930.1 675.8L933.8 676.6L938.1 677.3L941.1 678.2L941.2 679.6L938.8 681.4M945.3 661.5L944.3 663.4L943.2 666L943.2 668.8L941.6 671.1L939.5 671.6L938.1 673.2M951.1 672.4L952 670.7L954.3 669.7L958 668.4L962.9 668.5L964.9 669.8L967.4 670.8L969.3 671.9M949.9 664.1L947.3 666L947.9 668.4L947 670.5L943.7 671.3M959 668.8L961.1 668.1L962.7 665.9L962.6 664.4L958.6 663.2M923.2 676.5L920.5 677.6L919.5 679.1L916.9 680.5L912.1 680.9L909.8 680.6L907.6 682.4L904.8 683L901.1 682.8L898.3 681L895.1 680.2M931.8 670.9L928.8 671.4L924.7 671L924.2 668.2L920.4 666.7L919.7 665.1L918 663.4M940.6 673.6L943.1 673.4L944.2 672.4L946.6 671.4L949.8 671.1L954.2 671.2M943.4 674.7L946.5 674.6L949.3 675.7L949.4 677.9L948.1 679.7L947.9 680.8M961.6 677.6L960.3 676.1L961 673.3L963.7 672L964.5 669.6L963.4 667.3L963.7 665L962.6 662.6L960.3 661.4L959.4 660L960.9 658.1M967.3 658.6L971.9 658.7L974 659.9L974.9 662L974.4 663.8L970.4 665.1L966.9 666.1L965.9 667.5L963.4 668.9M966.7 676.6L966.4 674.9L966.6 672.1L969 670.4L973.6 670.4L976.1 668.1L980.1 668L983.9 668.2L987.7 667.1M928.3 665.5L926.2 666.5L922.5 666.4L919.9 666.2L917.3 665.7L914.3 665.2L910.3 664.1M955.2 673.7L953.7 675.2L950.3 676.3L948.2 677.4L947.5 679.8L948.6 681.4L950.7 683.3L951.7 685.8L950.7 688.3M943.9 665.5L946.2 666.4L950.3 665.9L952.2 667.3L955.9 667.1L958.9 666.1L959.8 663.3L962.2 661.9L964.3 660.6L967.6 659.4L969.8 658.5M961.2 661.7L964.6 662.4L964.8 665.2L967.5 666.4L970.4 667.7L970.1 669.4L972.7 671.3M952.5 666.8L947.9 667.3L943.9 668.1L941.5 668.5L940.3 669.8M945.6 666.8L945.8 669.6L949.2 671.6L949.8 673.7L948.6 675.1L946.2 677L946.2 678.6M956 667.2L958.8 666.2L962.9 666.4L964.8 668.3L965.1 670L968.3 670.6L971.6 671.2M953.9 667.3L949 667.2L945.7 666L943.5 663.7L940 662.8L936.3 663.9L933.5 665L930 663.9L928.8 662M969.5 670.2L967.9 671.7L966.6 673.4L967.4 676.1L967.5 678.4L964.2 679.6L960.5 681.1L957.9 682L953.6 682.3M940.4 677.3L938.5 677.7L936.9 679.3L938 680.5L941.6 681.4L945.3 681.4L948.3 679.9L951.6 678.5M923.8 669.5L926.1 668.4L929.9 668.3L931.1 666.3L933.6 665.8L936 665.3L939 663.7L940 661.1L941.5 659.2M930.2 676.3L934.9 676.7L938.8 677.3L941.2 676.6L943.5 674.8L945.7 674.4L948.4 674.2L951.2 672.1L953.7 670.7M923.7 674.5L920.1 674.6L915.8 675L913.7 676.8L911.4 676.7L909.7 678L907 679.1M949.8 659.1L952.1 660.6L954.4 661.6L957.5 663.4L957 664.4L956.4 666.6L955.1 669.4M957.3 664L957.9 666.5L961 667.5L964 667.5L967.1 669L971.5 668.4M958 675.5L958.7 672.6L958.6 671.1L960.7 669L961.5 667.3L963.1 665.8L966.7 663.9L970.2 662.7L972 661.4M963.6 667.4L962.7 669.1L964.6 670L965.8 672.2L970.2 672.3L972.8 671.5L973.6 669.8M928 667.2L926.8 664.7L924.1 663.5L920.4 662.4L918.2 661.7L916.5 660.7L914.6 659L913.9 657.2L915 655.8M929.1 663.8L929 662.4L924.9 661.5L922.4 661.6L919.3 662M951.3 659.7L951.9 657.6L950.4 655.2L947 654.6L945.4 652.7L943.4 650.9M923.9 672.8L926.3 671.7L929.3 671.9L931 673.9L931.4 675.7L932.7 676.6L932.7 679.5L933.3 682.1L934.5 683.6M955.6 675.6L953 674.6L949.7 675.4L947.5 676.6L946.9 678.4L945 679.7L944.6 681.9M920.9 677.4L919.8 679.7L919.3 681.7L918.8 682.8L918.7 684.1L920.5 686M951.3 659.8L954.3 658.3L959 658.4L963.1 657.5L965.7 656L970 656.2L973.5 656L974.6 654.4M947.9 670.4L946.9 668.3L947.1 666L948.7 664.6L953.3 664.2M945.2 663.8L945.8 661.4L945.9 659.3L946.3 658.1L945.6 655.7L947.8 653.2L946.3 650.8L947.4 648.5L950.2 647.7L952.3 646.4L955.5 646.9M942.2 672.3L938.9 671.9L936.6 672.9L931.8 672.6L929.3 673.1L924.7 672.7L922.9 671.2M957.7 664.6L959.1 662.8L958.7 660.9L954.8 659.6L950.9 659.7L946.3 659.7L943.3 658.4L943.5 655.6L943.6 654L945.2 652.5M924.8 667.9L925.3 670.8L926.6 672.9L928.5 673.8L929.5 676.4M937 668.5L938.2 666.6L942.7 665.8L944.4 664L945.2 662.2L949 661L951.3 660.8M947.8 668.9L948.5 667.3L948.4 665.1L944.9 663.9L941.6 664.7M968 675.8L967.9 676.8L968.5 678.3L968.7 680L971.5 681.1L972.1 683.6L972.3 685.8L976.1 687.5L978.4 689.7L979.1 692.2L979.9 694M944.2 657.1L945 660L945.6 662.5L944.6 664.8L945.7 667.7M929.4 665.3L930.9 667.3L932.7 668.2L932.9 669.3L934.9 670.8M933.7 664L931.3 665.8L930 667.3L930.8 668.7L931.8 671.1L931.3 673.8L934.4 675.6L934.6 678.4L934.2 680.2L932.5 682.4M923.7 664.1L923.1 661.5L924.1 659L923.7 657L924.2 655.6L926.2 654.6L927.7 652.8L927.2 651.6L925.3 649.8L923.1 648.7M953 669.2L951.6 671.7L950.3 673.7L948.7 675.3L944.7 677L940.7 676.8L938.3 677.8M966.1 660.8L967.3 662.5L969.4 662.8L972.4 663.4L974.7 661.5L978.2 661.3" stroke="#c9c9c9" stroke-width="0.3" fill="none"/>
<polygon points="1162.5,665.2 1191.7,652.7 1212.6,661.1 1208.4,677.8 1179.2,686.1" fill="#fbfbfb" opacity="0.9"/>
<path d="M1209.1 665.6L1210.9 666.9L1212 667.9L1214.2 670.2L1213.3 671.2L1212.7 672.3L1212.4 674.9L1213.1 677.1L1212.2 678.7L1211.2 681.3L1211.9 683.5M1211.3 677.7L1214 680.1L1214.6 682.8L1212.6 685.1L1214 686.5M1174.4 684.9L1174.7 683.5L1174.8 681.7L1172.7 679.2L1170.5 678L1166.5 677.1L1163.6 676.1L1162.5 674.5L1164.8 671.9M1202.8 656.4L1205.6 656.9L1209.9 656.9L1212 656.1L1214.3 655.7L1218 654.2L1221.3 653.3L1222.4 651.2M1197 677.3L1198.7 678.1L1199.2 680.4L1198.9 681.5L1200.9 682.4M1178.9 659.1L1180 660.9L1182.8 663.2L1187.6 663.6L1191.6 662.7L1193.9 661.5L1196.3 660.5M1181.2 667L1180.9 664.7L1180 662.9L1178.5 661.4L1179.6 660.4L1178.4 657.9L1177.2 655.3L1179 652.7M1211.1 661.7L1206.9 660.9L1204.3 661.6L1200.1 662.2L1198.5 663.4L1194.9 663.6L1191.4 664.2L1189.4 665.4L1186.2 666.5M1188.2 655.6L1186.5 656.5L1183.7 657.6L1181.4 659L1178.9 661L1176.7 663.1L1175.3 664.4L1171.6 665.2L1168.7 665.8L1166.1 666.9M1186.8 678.6L1190 680.5L1193.3 682L1196.9 681.7L1200.3 683M1203.5 686L1208 685.3L1211.1 683.1L1214.4 681.4L1215.5 680.2L1216.5 678L1219.1 676.9L1221.4 677.7L1224.2 677.5M1191.8 682.4L1194.4 682.6L1197.8 681.4L1200 681L1203 679.2L1204.1 676.6L1205.4 674L1205.4 672.6M1188.2 675.9L1186.1 677.8L1185.1 679.4L1182.9 680.6L1182.6 683L1179.5 683.6L1177.7 684.8L1175.2 685.1M1192.4 655.6L1188.2 656.4L1183.6 655.9L1178.7 656.1L1173.7 655.7L1170.1 656.8L1170.1 658.4L1170.6 659.9M1175.7 661.3L1176.7 662.7L1177.8 665L1181.9 665L1186.4 665.3L1187.8 667.7L1186.1 669.2L1184.4 671.3M1196.6 654L1197.5 655.9L1196.5 657.7L1198 660.3L1198.5 661.8L1201.6 663.2M1184.3 654.5L1181.3 656.5L1180.3 658.2L1176.8 659L1176.8 661.1M1202.7 684.5L1199.8 682.9L1198.2 681.9L1196.5 680.9L1193.1 680.3L1189.6 680.9L1186.6 681.6L1185.2 683M1165.5 661.9L1167.4 663.7L1165.9 665.9L1163.1 667.5L1161.4 669.4L1161 671.7L1163.6 673.3L1167.8 673.8L1171.9 674.6L1176.3 675.4L1179.6 676.3M1195.8 653.9L1198.9 654.7L1200.2 657.1L1202.8 657.7L1207.1 657.8L1211.1 658.6L1213.3 660.1L1214.3 662L1215.1 664.6L1214 666.3L1214.1 669.2M1194 662.2L1193.1 660.6L1193.4 658.1L1193.2 656.2L1193.7 654.7L1192.2 652L1193.3 650.2L1192.1 648.9L1190.3 648L1190.6 645.6L1189.4 643.2M1208.6 668.8L1208.8 669.8L1208.4 671L1207.9 672.1L1210.4 673.1L1211.5 674.9L1210.9 676.8L1210.9 679.3M1173.7 667L1174.3 664.6L1176.1 663.4L1177.8 661.7L1182 661.7L1184.8 662.1L1185.7 663.2L1187.3 665.9L1191.5 666.3M1168.9 656.4L1168.5 654L1168.6 651.6L1169 649.8L1170.9 648.8L1173.4 647.6L1174.6 646.4L1172.8 645.1L1171.2 643.4L1169.5 642L1166.1 641.4M1191.4 657.5L1193.1 658.5L1195.8 660.2L1198.1 661.6L1200.5 662.3L1205.3 662L1209.1 661.9L1210.8 660.5L1211.4 657.7M1163.5 682.2L1165.2 681L1169.7 680.7L1171.7 680.6L1176.3 680.4L1178.7 678.8M1172.3 685.1L1172 682.4L1171.6 681.1L1168 680.2L1167.7 677.4L1169.1 675.1L1171.9 674L1174.4 673.1M1179 685.9L1179.3 688.2L1178.6 689.8L1177.3 691.1L1174.4 691.4M1210.2 660.4L1213.3 659.7L1215.5 660.8L1217.5 661.5L1220.7 661.9L1224.9 662.2L1227.9 663.8L1229.8 664.9L1229.4 666.9L1230.7 668.1M1205.3 676.1L1201.2 675.9L1198.1 675.9L1196.1 675.1L1193.2 674.4L1190.9 674.3L1188.3 675.2L1187.2 676.2L1188.2 677.8L1188.9 680M1171.5 671.5L1173.9 671.2L1176.1 671L1178.6 669.9L1182.2 668.1M1177.7 672.7L1178.1 669.8L1179.5 667.4L1182.2 666.2L1185.8 666.7L1189.5 666L1190.6 663.7L1193 663.1M1180.1 671.5L1182.9 673L1185.5 674.1L1189.6 674.6L1191.9 677L1190.6 679.6M1202 670.3L1204.8 671.1L1209.5 671.2L1211.3 670.5L1214.7 669.2L1218 668.7L1222.2 669L1223.4 670.4L1226.7 671.7M1208.4 658.8L1206 659.2L1202.7 658.6L1200.1 657.6L1196.4 657L1194.6 655.9L1191.7 654.2L1189.4 654.6L1186.1 653.1L1182.1 653.3L1180.9 655.6M1189.7 673.7L1192.7 674.5L1196 673.9L1200.2 674L1204.2 675.2M1185.3 676L1187.6 677L1187.8 678.7L1185 681L1182.3 682L1180.3 682.5M1187.8 678.2L1186 679L1184.8 681.8L1180.3 682.2L1179 684.7L1174.8 685.8L1170.5 686.8L1166.8 687.3L1164.5 689.3L1164.5 690.4M1183.5 684.7L1183.4 687.5L1180.5 689.6L1181.7 691.5L1179.8 693.2L1178.5 695.1L1178.2 696.8L1178 699M1189.3 656.6L1188.8 657.6L1188.8 659L1192 660.7L1194 660.4L1196.9 661.7L1199.5 661.8L1204.1 661.2L1207 662.2L1209.7 661.5M1182.7 669.9L1182 671L1182.3 673.5L1180.8 674.9L1181.2 676.2L1184.3 677.8L1186.1 680.2M1205.5 682.5L1206.8 684.4L1209.6 686.2L1214.1 687.3L1214.9 689.8L1217 691.1M1171.9 679.5L1169.9 678.8L1168.8 677.6L1170.6 676.6L1169.8 675L1172.7 673.9L1175.6 673.7L1179.2 674.2M1198.7 676.5L1197 675.3L1196.7 672.3L1194.3 671L1189.3 670.8M1163 666.2L1159.7 665L1157 666.3L1155.7 668.5L1153.6 669.8L1151.4 669.1L1147.2 668.9L1145.1 669L1140.7 669.2L1137.5 668.6M1191.2 681.1L1193.5 680.6L1195.7 680.9L1198 678.9L1200.2 678.3L1203.2 679M1174.8 673.5L1177.4 672.1L1178.9 669.6L1179.2 667.6L1179.5 664.9L1178.5 662.8L1174.9 661.2L1170.6 660.4L1168.8 657.8M1190.2 656.7L1185.5 655.9L1180.9 655.2L1178.2 656L1175.8 655.5L1172.4 655.4L1169.6 655.9M1172.6 653.4L1169.2 653.4L1165.7 655L1163.4 655.7L1160.2 655.7L1156 655.7L1154.4 653.5M1173.9 679.3L1174.2 680.5L1175.7 682L1176.6 683.1L1180.4 684.8L1182.1 685.8L1185 685.5L1189.2 685.4M1180.2 659.8L1181.2 662.4L1180.5 663.5L1180.1 665.6L1177 667L1174 667.9L1173.7 669M1176.9 683.9L1177.3 681.2L1178.8 680.2L1182.4 678.7L1186.5 679.1L1189.8 678.4L1193.3 678.7L1196.1 679.4L1199.3 680.2M1211.2 669.2L1214.1 669.8L1216.4 669.9L1218.7 671.2L1221.2 672.3L1222.3 674.8L1221.7 676.3L1217.4 676.9L1216.4 678.9L1213.6 680.6L1209.1 680.7M1187.1 653.4L1184 652.9L1181.5 652.3L1178.5 653.5L1175.2 653.1L1171.6 652.9L1169.6 651.6L1168.4 649.7L1169.6 647.1L1171.3 646.3L1175.4 646.7M1175.6 654.5L1175.3 655.6L1176.6 658.1L1179.7 658.6L1184.6 658.3L1188.7 657L1191.3 657.5L1193.9 657.3L1197.5 658.5L1200.5 659.8L1203.2 659.1M1205.7 674.4L1204.7 671.7L1201.5 671.3L1198.5 670.4L1196 670.4L1194.8 668.1M1206.3 657L1203.7 657.7L1200.3 658.4L1197.9 657.6L1196.3 656.1L1193.7 655.1L1192.5 653.7L1194.4 652.2L1196.2 650.2M1209 675.9L1205.6 675.6L1200.8 675.4L1198.3 674.9L1196.7 673L1196.3 670.4L1193.9 668.3L1189.8 667.4L1185.2 667.6M1201.4 661.2L1203.3 660.2L1202.4 658.7L1203.6 656.7L1202.9 655.5L1200.3 654.3L1200.9 651.7M1201.4 685.5L1199.3 684L1200.6 682L1203 680.7L1205.2 681.3L1208.5 682.1M1199.6 679.3L1201.1 681.6L1203.2 683.8L1204.2 686.1L1207.6 686.5L1211.1 687.9L1211.9 689L1213.9 690.2M1162.6 670.5L1157.7 670.7L1155.7 672.2L1153.3 673.1L1152.3 674.5L1152.3 676.9L1153.4 677.9L1156.5 678.9L1159 679.7M1177.9 666.1L1177.2 668.7L1177.5 670.9L1175.1 671.9L1171.2 672M1166 672.5L1169.7 670.8L1173.9 669.7L1175.8 668.9L1179.8 669.8L1182.9 670.9L1184.2 672.8L1188 673.3L1191.6 674.3L1193.6 674.7L1196.3 675.5M1203.1 661.8L1203 660L1200.9 658.5L1198.7 657.1L1196.7 655.7L1195.7 654.2L1194.5 651.4L1196.5 650.1L1196.8 649.1L1198.2 647.8M1164.5 657.9L1161.4 658.2L1158.9 658.9L1156.1 659.9L1153.6 660.1L1151.1 661.5L1147.5 662.2L1145 661.6L1141.1 662.2L1138.9 661.9M1188.8 656.7L1188.7 658.8L1190.1 660.8L1192.1 661.8L1195.9 662M1185.8 665.1L1187.8 665.3L1190.5 665.8L1192.7 667.3L1193.8 669.7L1195.7 671.9M1189.2 670.7L1186.4 669.6L1181.8 669.2L1177.8 669.6L1174.1 669.8L1169.8 670M1167.8 661.9L1168.9 663.4L1170.5 664.5L1173.3 665L1177.2 665.4L1180.3 665.2L1183.1 664.3L1185.4 664.6L1187.1 662.9L1186.6 660.2L1186.4 657.3M1199.4 670.5L1201.5 668.5L1202 667.3L1202.9 665.5L1204.5 664.1M1189.2 683.6L1187 681.8L1182.4 680.9L1180.8 679.3L1178.9 678L1176.2 676.3L1176.8 673.5L1180.8 672.2L1182.6 670.9L1185.8 669.6L1189.8 668.7M1196.2 678.3L1197.4 680L1200.7 681.1L1201.9 683.1L1204.7 684.2L1206.6 685.3L1209 687L1210.5 688.2L1213.4 689.1M1198.3 676.6L1194.2 677.8L1191.7 679.1L1187.1 679L1184 680.7L1183.6 682.5L1181.1 683.4M1212.1 676.6L1211.3 678.1L1213.4 680L1216.2 680.6L1218.1 682.7L1220.5 684L1221.5 685.5L1221.9 688.3M1181.6 672.5L1184.2 673L1186.4 673.8L1189.5 673.9L1191.8 672.7M1192.8 681L1192 683.6L1191.5 684.6L1192.4 686.1L1194.7 686.8L1198.1 686.5L1202.2 687.3L1204.4 686.3L1205.7 684.2L1210.5 683.6M1209.6 669.9L1207.1 669.4L1205.3 668L1201.7 667.9L1197.1 668.6L1195.1 669.5L1196.1 670.5L1199.8 671.2L1201.4 669.5L1204.2 667.9M1172.5 658.9L1174.7 657.1L1177.1 657.2L1178.9 658.8L1182.9 659.8L1184.6 660.9L1189 661.9L1191.1 663.7L1194.2 665.6M1206.2 670.2L1208.7 670L1212.9 671.4L1217.1 671L1221.2 670.8M1172.9 669.9L1175.5 670.7L1176.8 673.4L1176.8 675L1179.2 676.6L1182.6 677.8L1186.2 677.8L1189.6 677.7L1192.4 677.4L1194.5 676.5M1182.6 663.7L1181.6 665.7L1182.7 667.9L1182.2 668.9L1183.2 670.8L1185 672M1197.4 655.7L1195.9 657.6L1195 659.8L1195.7 661.7L1198.4 663L1198.5 664.3L1201.7 665.3L1204.6 664.3L1206.8 663.5L1209.6 663.4L1211.8 663M1193.8 654.7L1194.5 652.8L1196.6 651.8L1198.5 650.6L1201 648.8L1203.2 648L1207.1 646.7M1190.4 657.9L1191 659.8L1189.8 662.2L1190.6 663.4L1190.1 666.1L1187.4 667.1L1182.9 666.9L1180.4 665.5M1184.8 677.6L1180.4 677L1177.7 675.8L1176 674L1173.3 673.4L1171.3 671.7M1174.1 668.8L1177.7 668L1179.8 667L1183.1 666.2L1185.7 664.5M1170.3 668.8L1173.7 668.1L1175.1 666.4L1177 664.5L1179.4 664.7L1182.2 663.2L1185 663.2L1189.1 662.5L1191.3 662.7L1195.3 662.4L1198.1 660.8M1203.1 670.5L1207.3 669.7L1208.4 667.8L1207.7 666.7L1208.1 664.9L1207.5 662.4M1179.7 669.9L1177.8 671.1L1175.3 673.5L1172.3 674.7L1171.6 676L1170.4 677.7L1167.6 680M1181.8 680.4L1182.4 677.9L1183.8 676.6L1188.2 676.2L1192 676.3L1196.2 677.2L1200.5 677.7L1203.3 677.3L1205.9 677L1210 676.9L1212.9 675.3M1209.7 678.4L1208 680.3L1203.6 680.2L1201.3 682L1199.5 684.4M1186.7 675.1L1184.7 677L1182.8 677.7L1182.3 679.1L1183.2 681.7M1187 681.7L1184.8 682.8L1182.5 683.4L1181.1 684.8L1179.4 686.7L1177.4 686.8L1174 685.9L1172 686.3L1168 687M1186.7 664.7L1185.2 663L1183.7 660.9L1179.6 660.3L1175.5 659.7L1174.6 657.9L1176.4 655.8L1179.8 654.4L1181.1 652L1183.2 651.9M1170.9 680.4L1166.8 680.5L1164.8 680.5L1163 682.7L1160.1 682.8L1158.1 684.4L1153.1 684.3L1151.2 683.7L1149 682.7L1145.5 683.1M1191.7 663.3L1190.7 661L1191 658L1190.5 656L1189.1 654.1L1187.9 652.8L1189.7 651.6L1188.6 649.1L1190.2 647.4M1168.2 685.1L1169.7 686.3L1171.6 687.2L1173.4 689.2L1173.7 690.2L1173.7 692.2L1173.9 694.9L1176.8 696.8M1200.7 684.8L1196.7 685.9L1193.6 686.1L1192 687.5L1189.9 688.8L1189.9 690.4L1188.7 691.7L1187.6 693.6L1185.4 695.6M1190.2 675.5L1187.4 673.5L1188.1 672.3L1190.7 671.6L1194.9 672.6L1196.1 673.9L1199.2 674.6L1199.2 676.5L1198.7 678.3M1200.3 671.2L1198.2 670.3L1194.8 670.9L1192.9 672.6L1190.3 673.7L1186.3 674.7L1182.7 673.7M1187.3 674.9L1190.1 676.2L1193.8 676.8L1194.9 678L1197.5 678.5L1200.8 679.2L1202.7 681.1L1204.8 682.4L1206.1 684M1178.5 665.8L1179.9 663.8L1179 662L1178.6 659.6L1181.7 658.8M1209.7 674.4L1205.6 673.1L1202.5 672.4L1200.4 671.8L1199.3 669.7L1200.2 667.7L1201.1 665.2L1203.2 663.8M1192.6 677.9L1190.8 680L1188.4 681.9L1187.5 684.2L1187.2 686.8L1186.1 689L1189 690.1L1187.7 692.6M1187 673.5L1189.7 675.2L1193.9 675.3L1195.9 674.9L1199.2 674.3L1202.5 675.1L1203.4 676.4L1203 678.1M1173.9 684.7L1178.5 683.8L1180.3 682.5L1184.4 682.1L1188.4 680.7L1190.3 679.2M1211.3 680.1L1212.9 677.9L1216.4 676.6L1220.6 677.1L1223.4 676.5L1226.4 675.8L1229.7 676.1L1232.2 676.1L1235.9 675.3L1238.4 676.3L1241.8 676.8M1194.6 659.4L1190 658.9L1189.1 657.1L1187.5 654.9L1185.7 652.1L1187.6 650.2L1185.9 647.7M1207.6 676.5L1211.1 675.7L1213.7 675.8L1215.1 677.3L1216.7 679.6" stroke="#c9c9c9" stroke-width="0.3" fill="none"/>
<polygon points="1008,790.5 1037.2,777.9 1070.6,790.5 1087.3,807.2 1062.3,815.5 1028.9,811.3" fill="#fbfbfb" opacity="0.9"/>
<path d="M1021.4 796.4L1021.3 799.1L1022.8 800.7L1026.1 801.4L1028 803.6L1032.5 804.2L1036.1 804.4L1039.4 804.3L1042.8 805.5L1043.9 806.7M1031.8 794.1L1028.3 794.4L1025.5 794.2L1022.3 793.3L1019.3 791.9L1015 791.8L1012.3 792.8L1010.3 792.4M1078.5 791.1L1082 791.3L1084.3 790.9L1087.3 791.4L1088.7 793M1029.8 810.4L1031.4 808.8L1030.4 807.6L1030.5 804.9L1027 803.9L1024 803.7L1019.9 803L1017.6 803.6M1023.5 784.3L1022.5 783.1L1024.3 780.6L1026.7 780L1030.7 780.2M1026.7 806L1026.5 804.4L1026.1 802.9L1024.4 801.1L1021.7 799.4L1020.8 797.8L1023.1 796L1022.5 793.1L1021.3 791.6M1058.2 806.8L1055 807.6L1053.5 808.4L1051.2 808.4L1049.1 809.4L1049.1 811.6L1046.8 813.6L1043.6 814.3L1039.3 814.1M1081.4 785.7L1077.9 785.8L1074 785.3L1071.3 783.8L1068.1 782.9L1064.9 782.3L1061.1 782.9L1056.9 783.4L1053.4 784.2L1049.8 784.2M1060.3 797.3L1064.1 796.8L1065.4 794.4L1063.6 792.4L1061.2 791.7L1060.2 790.2L1056.8 789.1L1053.7 789.5L1051.7 789.1M1012.8 810.8L1012.2 812.4L1012.8 815.2L1013.4 817.3L1012.4 818.9M1066 794.4L1066.2 792.4L1066 790.2L1066.9 788.2L1069.5 787.3L1072.2 787L1075.7 786.6L1077.8 784.4L1077.9 782.8L1081.5 781.7L1085.2 780.7M1080.9 792.7L1079 794.2L1078.5 796.1L1076 797.1L1072.8 798.7L1072.8 800.9L1072.6 802L1073.5 804.3L1072.8 807L1071.7 808.4M1062 782.5L1058.4 781L1055.1 781.3L1054 782.2L1056.1 783.9L1055.5 786L1056.5 788.1M1061.2 780.7L1065.5 781.5L1069.6 781.9L1072.7 782.1L1073.9 783.1L1075.6 783.9L1080 784.1L1083.8 785.6M1029.4 781.7L1033.2 783L1034.9 784.9L1033.3 787.3L1031.1 789.1L1026.6 789.5L1021.8 789.2L1020 787.1L1019.1 786.1L1016.6 784.3M1060 789L1060.7 791.6L1064.3 792.1L1068.7 792.4L1072.6 791.9L1076.2 792.1L1079 793.7L1081.1 794.5M1075.3 789.5L1076.3 788.3L1075.3 785.9L1076.9 784.8L1076 782.5M1018.9 800.2L1018.4 801.7L1020.5 803L1024 803.3L1027.2 804.7L1030.7 804.7L1032 806.8L1034.4 808.1M1011.4 805.7L1016 805.4L1019.4 805.1L1022.3 806.8L1024.4 808.5L1025.8 809.6L1029.1 810M1028.7 814.1L1028.6 815.3L1027.4 816.5L1026.5 819.4L1027.4 821.2L1026.5 823.1M1019.5 814.6L1020.5 815.7L1023.3 817L1023.7 818.4L1024 820.4M1074.7 806.4L1076.9 808L1081.2 808.4L1083.3 810.1L1086.8 810.3L1088.3 811L1088.7 812M1032.5 787.9L1029.9 789.1L1026.3 789.3L1022.6 788.3L1019.4 788.7L1016.5 787.6M1067 809.8L1069.1 808L1071.6 806.8L1074.6 804.9L1076.5 803.9L1078.9 802.5L1082.3 801.5L1085.5 802L1089.5 802.6L1093.2 801L1095.2 799.6M1032.7 803L1031.8 800.5L1030.4 799.3L1027.8 799.2L1024.4 800.4L1020.4 799.7L1017.8 797.3M1009.1 784L1008.5 781.7L1004.7 780.4L1002.6 780.5L998.5 781.3L994.9 781.3L992 779.2L992.7 777.5L994.5 775.6L997.2 773.9M1077.7 786.5L1077.1 784.1L1078.1 783L1077 781.2L1076.6 779.8L1077.2 778.2L1077.1 775.9L1078.9 774M1010.8 805.2L1011.8 808.1L1013.8 810.1L1014.2 811.1L1016.1 812.7M1027.8 803.9L1028.4 802.6L1026.9 800.2L1027 798.5L1029.4 797L1032.6 796.4L1034.5 794.7L1035.6 792.3L1038.9 791.9L1041.1 790.4M1041.8 814L1043.1 816.3L1043.4 818.4L1041.8 820L1040.5 822.1L1041.2 824.1L1041.6 827L1040.1 828.4L1036.9 829.9L1033.7 830M1077.3 785.9L1080.3 786.8L1085 786.9L1088.5 786.5L1090.8 786.6L1092.5 785.2L1095.5 785.4L1100.1 785M1045.1 778.6L1048.6 780.2L1050.6 781.5L1053.1 781.2L1054.7 779.3M1009.3 783.6L1013.5 784L1016.9 783.1L1017.3 781.8L1015 779.9L1015.8 777M1084.1 808.8L1087 807.5L1090.2 806.3L1093.4 806.3L1095.2 805.1L1094.8 802.3L1091.9 800.5L1089.9 799.4L1089.6 796.9L1086.2 795.3M1029.2 792.5L1027.4 791.2L1026.9 789.1L1023.9 788L1023.7 786.6M1056.3 781.6L1053.3 780.7L1053.1 778.5L1049.2 777.7L1048.3 776.5L1045.6 775.6L1043.4 773.6L1042.3 772L1043.7 770.6L1044 769.3L1045 766.5M1080.8 790.6L1078.7 792L1076 793.8L1071.3 793.9L1069.5 795.1L1066.8 795.7L1064.6 794.8L1061.2 794.4L1057.6 794.7L1054 794.6M1023.2 789.3L1025.9 790.4L1030.3 791.2L1033.6 791.3L1038 791.2L1040 789.7L1043.4 788.8L1044 786L1047.2 784.2L1051.5 783.3L1054.7 783.4M1062 806.8L1061.4 808.9L1060.7 811.7L1058.4 813.4L1055 813.6L1053.2 814.8L1054 817.6L1054.4 819.1L1056.5 819.6L1057.7 821.8M1020.8 804.9L1021.8 806.6L1024.9 807.3L1026.3 809.2L1026.5 810.3L1029.6 811.4L1032.3 811.8L1036.6 812.1L1038.9 814.1L1043.2 813.9M1085.3 804.4L1089.5 805L1090 807.6L1090.3 808.7L1092.2 811L1091 812.9L1088 814.7L1084.8 814.6L1082.1 815L1077.4 814.9M1038.6 798.8L1035.2 798.4L1032.7 799.2L1029.3 798.3L1024.5 798.6M1066.9 812L1068.9 809.8L1068.7 807.3L1070.3 805.8L1071.5 804.7L1073.7 802.9M1014.4 791.4L1018.5 790.8L1020.1 789.3L1023.1 788.7L1027 789.9L1029 788.9L1030.7 786.9L1033.1 785.5L1035.4 783.9L1038.6 782.6M1041.9 780.9L1044.1 781.5L1047.8 781.3L1052.7 781.7L1055.1 782.4M1018.2 789.3L1015.9 788.6L1014.9 787.5L1012.5 786.6L1010.1 784.9L1007.7 785L1005.5 786.1L1003.4 788L1004 789.2L1003.3 791.2L1001.8 792.7M1070.7 791.7L1074.2 791.6L1078.3 791.8L1081.9 791.4L1085.5 790.4L1089.9 790L1093.7 789.7L1097.3 789.3L1100.2 790.1L1104.1 791.1M1031.7 794.5L1033.9 795.2L1035.8 796.5L1035.2 799.2L1031.6 800.3L1026.9 800.3L1025.2 799.3L1022.1 798.3L1019.9 797.2L1019.8 794.4M1020.2 787.6L1016.2 788.3L1014.5 790.2L1011.4 790.1L1008.3 791.5L1005.8 793.4L1003.3 793.4L999.5 793.3L997.1 792.4M1071.4 784.8L1074.1 784.4L1075.9 783.1L1078.3 780.9L1081.5 779.7L1084 779.9L1086.1 781.4L1088.6 782.7M1044 804L1045.2 805.9L1047.6 807.6L1049.1 809.3L1052.7 810.1L1054.9 811.9L1057.5 812.1L1059.3 813.2M1066.8 802.3L1068.1 803.5L1070.6 804.2L1073.2 803.4L1077.2 803.2L1078.4 801.4L1079.7 800.2L1082.2 799.1L1085.7 799.5M1064.3 781.1L1059.5 781.4L1057.5 783.1L1054.4 783.7L1054.4 785.6L1054.8 786.7M1036.2 781.1L1037.6 783.7L1036.5 786.1L1035.8 788L1033.4 789L1031.2 789.9L1030.4 791.6L1028.2 793.3L1023.5 794.1L1020.7 795.8L1021 798.5M1058.6 810L1056.5 812.2L1052.3 812.6L1049.3 812.2L1045.2 812.6L1042.9 811.5L1040.5 809.7M1079.4 806.1L1077.2 804L1078.4 802.8L1080.9 802.3L1082.5 801L1083.5 799.4L1086.8 798.6L1089.2 797.5L1090.1 796.2L1093.8 795.8M1060.6 805.2L1065.2 804.9L1067.5 803.6L1069.3 802.6L1073.9 802.3L1075.9 800.9L1079.1 800.7M1050.2 791L1053.6 790.1L1057.9 788.8L1061.5 788.1L1064.4 788.3L1066.7 788.6L1070.1 789M1043.4 791.8L1040.1 792.8L1038.4 793.8L1036.9 795.2L1032.9 795.3M1035.5 787.5L1033.7 788.1L1030.8 787.5L1026.4 786.9L1023.5 788.2M1027.6 799.6L1031.5 800.5L1035.3 800L1038.2 799L1041.6 799.9L1043.5 802.6L1044.8 804.2L1045.3 806.4M1023.1 795.7L1020.2 796.3L1017 796.2L1014.3 796.2L1011.1 797.4L1007.9 796.9L1005.3 797.2L1002.7 798.3L998.4 799.8M1017.5 815.4L1020.3 815.9L1022.2 817.5L1022.9 820.1L1024.2 822.8L1024.3 825.4L1026.4 827.2L1029.8 827.9M1016.2 802L1020.4 801.8L1024.7 802.5L1027.1 803.2L1029.3 802.5L1031.1 801.2L1034.5 800.8L1036.9 800.9M1014.1 791.1L1013.9 793.6L1016.6 795.6L1017.9 797.2L1017.3 799L1016.2 800.4L1014.4 802.7L1011.7 803.8L1011.2 806.5M1078.3 780.5L1080.7 782L1083.6 782.3L1085.2 780.9L1087.4 780.5M1057.7 779.9L1054.5 778.1L1051.9 776.9L1049 776.2L1047.1 775.4L1046.2 773.7L1045.3 771.2L1043.2 770.5L1040.9 769.1M1070.5 815.3L1071.5 813.9L1073.4 811.4L1074 808.7L1076.3 806.2L1078.6 805.1L1078.3 802.5L1080.4 800.1L1084.9 800L1088.3 801L1088.9 803.8M1066.3 779.2L1062.5 778.6L1060.4 779.3L1058.6 781.8L1055.5 782.8L1052 782.8L1050.4 783.5L1048.2 785.2L1046.2 786.8L1044 787.9M1078.3 798.5L1076.3 796.6L1073.5 796.5L1069.6 796.9L1066.5 797.4L1063.5 797.9M1061.6 785.9L1064.9 786.9L1067.1 788.9L1068.7 790L1069.5 791.9M1075.5 812.6L1073 810.6L1069.6 809.8L1069 807.2L1067 806.2L1064 806.2L1060.7 807.2M1037 801.9L1037.7 799.8L1037.8 797.3L1039.7 795.5L1043.7 795.2L1046.1 796.3L1049.6 795.3L1051.9 793.6L1053 792.6L1056.1 792L1060.7 792.8M1058.2 778.1L1055.6 778.9L1053.4 779.9L1050 780.6L1046.9 781L1045.1 783.6L1044 785.8L1041 787.2L1040.5 788.5M1073.4 812.8L1076.4 813.2L1079.5 815L1083.7 814.5L1087.7 814L1088.7 812.5L1089.3 810.9L1088.8 808.7M1011.4 795.1L1011.3 793.1L1009.8 791.1L1007.6 790.1L1003.7 789.3L1000.2 790.1L995.5 789.6M1069.4 808.3L1065.4 807.7L1063.5 805.3L1061.5 804L1058.8 804.2L1056.7 802.9L1052.9 802.4L1050.1 802.3M1053.7 789.8L1056.7 790L1060 789.5L1064.5 790.5L1065.5 792.1M1075.9 801.1L1078.5 801.7L1077.9 803.9L1076 806L1073.6 808.1L1071.5 808.3L1067.9 807.7M1055.2 790.2L1057.2 788.7L1060.5 788.2L1063.7 787L1067 786.5L1070.7 786.4L1074.3 785.2M1074.2 801.1L1077.1 802.5L1076.9 804.3L1079 805.2L1079.7 807.1L1079.9 809.4L1080.5 811.5M1020.8 785.5L1020.9 787.6L1019.4 789.5L1016.4 791.4L1016.4 792.8L1016.7 794.3L1017.2 795.7L1018.4 798M1022.2 798.6L1022.4 797.6L1019.5 796.8L1016.7 795L1014.4 793.7L1012.8 792.6L1008.7 791.7M1027.3 804.7L1023.8 806.3L1022 806.9L1017.3 806.8L1015.2 805L1013.6 803.2L1010.1 801.8L1005.8 802.1L1002.3 801.3L1000.1 800.4M1028.8 802.3L1031.3 799.9L1033.7 799.1L1036.5 799.6L1037.8 800.5L1039.2 801.4L1040.6 803.1L1041.9 804.7M1027.1 813.7L1031 813.1L1033.9 812.2L1036.4 810.9L1037.2 809.4L1035.6 807.9L1031.9 807.2L1027.4 806.8L1024.8 807.3L1022.5 806.5M1082.1 793.5L1077.6 793L1075.5 790.9L1072.2 789.8L1069.9 790.1L1067.9 792.6L1064.4 793.4M1064.9 794.1L1063 795.7L1065.3 797.9L1067.8 798.7L1069.3 799.9L1072.3 800.7L1075.3 801.8L1078.6 801.3L1083.4 801.1M1077.8 806L1079.7 806.8L1080.6 809.6L1085.4 810L1089.8 809.5L1093.9 809.8L1095.9 810.9L1098.6 811L1102.8 810.6L1105 810M1010.6 799.1L1007.7 798.1L1006.7 796.6L1002.9 796L999.3 795.5L995.9 796L994.1 794.5L993 792.5L993.9 790.3L992.8 788.6M1056.7 786.5L1059.1 788.3L1062.1 788.8L1064.9 788.5L1066.8 789.1L1069.8 790.5L1070.8 791.6L1074 793.1L1078.9 792.8M1084.1 791.6L1087.7 791.3L1091 792.6L1093 795.1L1093.2 796.2L1096.1 797.5L1099.3 798.5L1100.3 801.2L1098.9 803.5L1096.2 803.8L1094.1 802.9M1011.2 786.8L1014.1 788L1016.5 789.1L1020.7 790L1025.1 790.6L1027.2 790.5L1031.4 789.6L1034.5 789.5L1038.3 788L1038.8 785.9M1012.2 783.1L1009.3 781.2L1009 778.3L1009.9 776L1008.9 773.2L1005.1 771.9L1001.8 772.4L998.4 772.5M1036.5 800.3L1034.8 801.7L1030.4 801.3L1028.4 800L1027.8 798L1028.8 795.2L1030.2 794.4L1029.3 793L1025.6 792.4L1024.7 790.1L1021.2 788.7M1036.9 809.9L1037 811.7L1038.9 813.1L1041 813.8L1043.3 814.7L1044.2 815.9L1045.5 818.4L1048.4 818.9L1048.7 820.3L1047.2 821.4M1049 806L1049.5 804.1L1048.5 802.6L1048.4 801.5L1046.8 800.5L1047.3 798.4L1051.3 797L1055.2 797.6L1059.6 798.4L1061.8 799.8L1063.8 800.8M1044.3 794.5L1047.7 793.3L1052.5 793.6L1055 795.4L1058.1 796.8M1082.6 798.2L1079.7 795.9L1078.2 794.4L1075.5 792.9L1073.4 791.7L1071.9 790.2L1069.6 789.4L1065.2 788.5L1061.8 788.4L1057.3 788.7M1059.1 789.6L1063.3 790.4L1065.9 791.3L1065.1 792.6L1061.6 793.4L1060.5 795.9L1061.4 798L1065.2 798.5M1021.5 792.2L1022.3 793.8L1020.4 796.1L1021.2 797.7L1023.9 798.9L1025.2 801.3M1071.2 814.8L1069.7 816.6L1070.2 817.8L1072.5 818.7L1074.6 818.1L1078 818.8L1081.8 818.1M1074.4 795.4L1072.6 796.4L1071.6 798.7L1074.4 800.6L1078.2 801.2L1081.9 802.2L1086.3 803.2L1088.7 803M1012 780.2L1009.2 780.3L1004.3 780.3L1002 778.7L1002.3 776.1L1004.2 775.4L1007.5 774.6M1076.4 790.2L1074.4 788.5L1070.3 788.1L1067.8 786.3L1064.6 786.2M1044.4 792.8L1043.1 790.4L1040.6 790L1039.6 789L1038.7 787.7L1034.7 786.6L1032 787.9L1028.4 787.2L1026.8 785L1026 782.5M1086.6 800.2L1083.2 801.5L1083.2 803L1079.8 804.2L1079.2 805.4L1078.6 807.9L1078.3 810.8L1075.5 812L1071.6 812.3M1021.5 778.1L1022.3 776.8L1021.3 775.5L1023.1 773.6L1023.2 772M1079.5 778.2L1080.2 776.2L1082.2 774.9L1082.9 772.4L1082.8 769.6L1083.3 768.3M1074.7 805.2L1077.8 803.2L1080.3 801.7L1082.4 801.5L1084.3 799.1L1085.4 797.3" stroke="#c9c9c9" stroke-width="0.3" fill="none"/>
<polygon points="1104,790.5 1129.1,786.3 1137.4,807.2 1112.4,811.3" fill="#fbfbfb" opacity="0.9"/>
<path d="M1129.8 788.3L1127.9 786.7L1127.8 784L1128.3 781.3L1126.6 779.7L1126.9 777.7L1130.5 776.9M1125.4 804.9L1123 807.2L1120.4 807.9L1119.1 809.7L1120 812.5L1121.3 814.2L1122.7 816.2L1123 818.3L1120.2 819.9L1117 820.2L1112.8 821.7M1105.4 796.5L1104 795.2L1099.7 795L1097.7 794.4L1093 794.8M1119.8 799.5L1117 799.2L1114.8 797.2L1116.8 796.1L1120.9 795.9L1122.7 796.7L1124.9 795.9L1126.6 794.7L1128.7 794M1121.9 803.5L1118.7 804.9L1116.6 805.7L1111.9 806.2L1108.4 805.1L1104.3 805.2L1102.2 806.5L1097.3 807.2L1094.1 809.3L1091.3 810.3M1132.6 787.2L1135.7 785.3L1135.4 784.3L1132.7 783.5L1130.1 781.7L1127.4 781.7L1123.7 783.4L1120.2 784.9L1118.6 785.9L1114.7 786.1L1110 785.5M1137 809L1136.7 806.9L1138.5 804.6L1139.5 802.9L1142.4 802L1143.8 799.4L1145.2 798.2L1147.1 796.1M1131.4 788.5L1129.3 788L1125.2 787.9L1122.2 787.4L1119.5 788L1115.7 788.1L1111.3 788.8L1107.1 788.8L1105 788.6L1102 789.1L1100.5 791.5M1132.7 805L1136.6 806L1140.7 805.4L1145.4 805.6L1147.4 805.4L1150.6 805.1L1153.5 806.2L1156.8 807.5L1159.4 809.3L1160.8 811.1M1106.8 786.4L1108.7 787.7L1112.2 788L1115.5 786.7L1116.2 785.1L1116.7 783.2L1119.9 782.4L1123.8 782.8L1125.1 784M1132.1 791.3L1129.1 792.1L1127.1 793.6L1127.2 794.9L1129.7 795.8L1130.5 798L1134.2 799.2L1134.4 801.5L1132 802.7L1132.9 805.2M1108.9 794.8L1109.8 793.3L1109.3 792.1L1110.5 790.5L1110.2 789.1L1108.4 787L1108.3 785.6L1104.7 784.7L1103.5 782.6L1099.9 781.4M1112.1 786.9L1108.4 787.3L1105.9 786.1L1103.1 786.3L1100.2 785.9L1097.4 784.4L1094.4 782.6M1112.4 796.4L1116.4 796L1119.8 794.8L1123.9 794.1L1128.7 794.1M1132.8 806.6L1130.9 807.8L1129.1 809.1L1131.2 811.1L1132 813L1136.1 813.7L1137.2 816.2M1130.7 791.2L1128.7 791.6L1125.8 790.5L1123.4 789.7L1121.1 788.3M1136.3 799.2L1133.4 800.7L1130.7 801.6L1128.5 803.4L1124.8 803.7L1121.4 804.2L1117.5 805.2M1114.1 795.8L1116.6 795.7L1121.4 795.3L1125.7 796.2L1128.5 797L1131 797.8L1135.1 798.3M1130.6 789.1L1133 788.1L1135.5 788.1L1138.7 787.1L1142.9 786.7L1145.4 786.8L1149.4 785.8L1152.8 785.5L1156.8 786.2L1161.6 786.1L1163.5 787.2M1120.1 790.8L1117.1 789.8L1112.7 789.8L1108.1 790.2L1104.1 790.9L1102.3 791.5L1098.9 792.2L1094.7 792.5L1093.3 794.5L1092.1 795.7M1124.7 807.6L1124.9 805.3L1126.5 803.7L1131.1 803.7L1135.2 804.1L1137.6 804.8L1140.3 804.4L1143.5 805.3L1147.9 805.9L1151.6 807.4L1154.3 806.8M1104.4 797.1L1100.5 797.3L1098.7 796.1L1095.8 795.8L1093.1 795.2L1091.8 793.2L1089.6 790.9L1089.2 789.5L1089 788.4L1089 785.5L1091.2 783.9M1129.1 789.8L1128 788.7L1129.6 787.1L1130.3 785.5L1129.2 783L1126.6 782.4L1121.9 782.1L1118.6 781.6L1116.9 779.7L1114.3 777.9L1114.6 776M1137.3 793.6L1138.9 794.6L1141.4 795.2L1143.9 795.8L1148.6 795.6L1151 795.8L1155.2 796.1L1157.9 798.5L1157.3 800.4L1158.9 802.6L1157.9 804.2M1137.1 788.3L1140.8 786.8L1144.8 786.8L1147.8 787.9L1151.9 788.2M1109.9 786.7L1113 785L1115.7 783.5L1115.6 781.1L1117.4 779.9L1119.7 779.7L1121.9 778.1M1126.7 804.6L1124.4 806.1L1122.7 808L1120.9 809.1L1118.2 810.1L1116 809.5M1113.4 800L1111.7 798.8L1111.1 797.8L1113.8 796.5L1117.3 794.6L1118.9 792.5M1108.9 807.5L1107.8 808.5L1105.4 809.5L1101.1 809.8L1097.6 810.6M1134.8 797.3L1130.4 798.2L1128.3 799.2L1124.3 799.8L1120.6 799.9L1118.8 801L1119.9 802.4L1122.8 803.7L1126.7 804.4M1113.8 809.2L1114.5 811.3L1118.3 811.8L1121.2 813.1L1122.7 814.7L1125.9 815L1127.4 813.8L1130.6 812.6L1133.2 811.9L1134.3 809.4M1124.5 809.6L1122 811.2L1119.2 811.2L1115.7 810.6L1114.1 808.9L1111.3 807.5L1112.1 804.8L1112.1 802.8L1113.6 800.9L1116.4 799.7M1106.1 786.6L1103.4 786.7L1100.5 787.8L1097.7 790L1094 790.2L1091.7 788.5L1089.9 787.3L1090.2 786L1091.2 783.7M1116.5 806.1L1117.1 808.7L1117.5 810.3L1117.2 811.5L1120 813.6L1124.1 814.8L1127.6 814.5L1131.7 814.4M1112.2 795L1115.4 794.2L1117.6 793.1L1120.8 792.5L1123.2 791.8L1125.1 790.4L1126.7 788.2L1129.5 787.7L1132.6 787.9M1111.3 799.1L1108.9 801.1L1107.4 803.7L1104.6 804.7L1103.7 805.8L1103.9 807.2L1102 808.7M1113.7 801.5L1110.9 801L1108.5 799.2L1107.4 797.5L1107.6 795.6L1109.4 794.4M1125.3 806.1L1124.3 807L1122 808.3L1118.7 808.1L1117.2 807.1M1111.6 811L1113.9 811.3L1118 812L1118.7 814.3L1120 816.7M1124.8 808L1127.2 809.3L1125.7 811.1L1123 812.7L1121 814.4L1119.4 816.9L1116.6 818.1L1112.9 819.2M1119.3 793L1118.2 790.4L1114.1 789.5L1112.1 790.1L1109.7 791.3L1104.9 791.7M1115.5 787.1L1112.6 786.2L1108.1 786L1103.5 786.6L1101.4 788.5L1098 790.1L1097.6 791.3L1100.3 792.7L1103.7 793L1107.7 792L1112 790.9M1133.9 806.6L1136.3 807L1139.1 807.3L1140.3 809.4L1139.6 811L1136.3 812.2L1133.5 812.1L1130.5 810.7L1130.8 808.8L1128.7 807.5M1115.4 800.2L1112.1 801.1L1110.1 803.1L1106.1 804.1L1102.9 805L1099.2 805.1M1108.8 789.4L1105.1 790.5L1103.4 791.3L1101.4 793.5L1099.9 794.9M1113.9 806.4L1115.4 807.5L1116.6 810.3L1116.5 812.9L1113.5 814.1M1117.5 800.6L1116.8 803.1L1114.1 804.5L1111 805.4L1109.4 806.7L1106.6 807.2L1103.9 808.6M1108.3 799.8L1105.6 801.9L1105.1 802.9L1104.3 805.1L1100.9 806.1L1100.4 807.6L1096.9 809.1L1094.5 809.9L1090 809.9L1086.1 809.5L1082.5 810M1110.5 804.5L1110.3 801.9L1108.5 799.7L1109 797.6L1111.1 795.8L1113.5 795.8L1115 793.8L1117.4 792M1109 789.3L1111.6 788.4L1114.3 789.6L1118.5 790L1122.1 788.4L1126.6 788M1115.9 806.9L1116.4 804.8L1113.8 802.7L1114.4 800.7L1114.3 799.5L1112.3 797.4L1110 797.1M1112.8 803.3L1109 803.2L1106.7 802.9L1102.4 801.8L1100.9 800.4L1099.2 798.6L1096.7 797.3L1092.7 797M1121.9 800.3L1126.3 800.5L1127.8 798.7L1129.2 797L1131.5 796.7L1134 796.8L1138.8 797.2L1141.5 797.1L1145.1 796.7L1149.3 797.1M1134.2 788.9L1137.9 788.1L1140 786.7L1144.1 786.3L1145.6 784.9L1147.8 784.1L1149.8 783.4L1151.8 782.2L1154.3 783.3M1109.4 811.1L1111.3 813.1L1114.3 813.5L1118.5 814.1L1119 816L1116.4 817.2L1113.5 818.6L1109.7 819.5L1105.5 820.4L1104.3 821.4M1114.8 786.8L1116.4 785.4L1119.4 784.6L1122.5 784.3L1124.5 782.5L1129.4 782.2L1132.3 780.1L1134.4 780.1L1136.5 779.9M1109.2 799.2L1104.9 798.8L1101.7 799.8L1098 800.8L1095.3 800L1092.8 799.9M1108.1 804.9L1106.2 803.1L1106.2 801.3L1107.7 798.7L1105.4 797.1L1104.7 795L1100.2 794.3M1137.1 803L1135.7 804.1L1136.6 805.4L1134.8 806.8L1133.2 808.7L1129.9 808.8L1127.5 807.5L1125.4 806.3L1121.7 805.3M1112.4 809.2L1110.4 810.5L1110.8 811.9L1111.1 813L1111 815L1111 816.5L1110.6 818.6L1107.5 820.5L1106.9 821.8L1106.8 824.3L1107.5 827M1122.8 796.1L1124.5 793.9L1126.3 793.1L1129.1 792.7L1130.7 791.8L1135.3 791.4L1138 792L1141.6 790.7M1131 799L1132.5 800.2L1131.6 802.3L1128.4 802.7L1125.5 802.2L1121.4 802.2L1118.2 804L1115.1 804.7L1112.7 805.9M1136.9 809.8L1134.5 808.8L1130.4 808.4L1127.8 807.2L1124 806.8L1120.3 805.5L1118.1 803.6L1116.4 802.6L1114.3 801.3L1114 799.1M1118.9 790.2L1120.4 792.4L1119.5 793.5L1120.7 796L1122.6 798.4L1124 799.5M1113.6 786.5L1115.2 783.9L1117.8 782.2L1119.9 781L1120.9 780L1121.3 778M1130 805.5L1134.1 805L1136.1 803.6L1138.8 803.7L1143.2 804.7L1144.2 806.2L1145.4 807.7L1147.1 810L1146.9 812.9L1144.4 814.9L1142.6 815.7M1133 792.3L1129.2 793.1L1124.9 792.7L1123.3 790.6L1123.8 789L1126.4 787.3L1127.7 786.2L1126.9 784.6L1126.4 782.6L1128.8 780.6M1135.8 799.4L1132.9 798.4L1130.8 797L1126.1 797.7L1124.3 797.1L1120.9 796.2L1117.4 794.7L1116.3 793.3M1124.5 799.8L1127.3 797.7L1126.9 795.3L1128 794.2L1130.4 792.3M1120.5 806.9L1122.7 806.5L1125.9 807.3L1128.3 808.7L1130.5 809.8L1133 809.6L1134.7 810.5L1139.7 810.4L1143.9 811L1147.8 811L1150.9 810.7M1135.4 795.1L1132 795.1L1129.8 793.6L1128.1 791.5L1123.9 791M1126.4 793.5L1130.5 793.7L1134.8 793.7L1137.4 794L1139.6 794.9L1141.7 795L1143.2 795.9L1146.2 797.4L1150.2 797.8M1119 811.2L1119.8 810.2L1118.6 807.9L1116.6 805.3L1117.4 802.6L1120.4 800.9L1122 798.8L1124.3 797L1126.2 795.7L1128.4 794.4M1115.7 791.2L1113 789.5L1110.2 788.3L1107.3 786L1107.8 784.3M1117.9 811.1L1119.7 808.6L1119.1 806.9L1120.4 804.8L1119.7 802.7L1118.4 800.5L1115.8 800.3L1113.5 800.8L1111.6 800.3L1109.5 798.5L1106.3 797.8M1116.9 795.5L1114.8 794.6L1111.5 794.1L1108.7 794.1L1106 794.9L1101.8 795.3L1098.7 795.4L1096.6 794M1121.2 797.1L1122.2 794.8L1123.1 792.5L1124.3 789.9L1126.7 788.8L1129.9 786.7L1131.1 785.5L1134.9 783.7L1138.3 783.2L1140.9 781.6M1130.2 791.8L1133.1 792.3L1137.4 793.1L1140.9 793.4L1144.6 792.5M1120 788.7L1122.7 788.9L1127.3 788.5L1129.6 789.5L1131.5 791.8L1132.4 794.3L1130.8 796.9L1128.1 797.1L1125 798L1122.9 799.8M1111.6 793.5L1113.5 794.5L1116 794.2L1118.2 792.3L1120.6 790.8L1123.5 789L1127.8 789.3L1130 789.8L1133.7 790.7L1134.5 792L1135.5 793.9M1133.2 809.7L1131.7 812L1130.5 813.9L1127.1 815L1122.8 814.8L1120.6 812.7L1120.3 810L1119.1 809L1117.8 807.4L1116.1 806.8M1131.1 786.7L1127.5 786.2L1126 784.2L1127.4 783.1L1130.3 783L1132.1 784L1134.5 784.3L1137 784.9M1121 807.6L1125.4 806.5L1128.8 805.3L1133.4 805L1136.1 804.4L1138.7 802.8L1143 801.7L1145.5 801.8L1147.8 803.7M1136.2 789.1L1135.6 788.1L1137 786.6L1139.3 785.6L1141.3 784.9L1143.9 784.2L1148.4 784.2M1133.6 792.4L1131 792L1127.8 792.8L1124.7 792.7L1122 794.3M1117.8 795.5L1117.4 797L1115.6 799.4L1114.1 801.3L1111 803.4L1108.9 804.6L1106.4 806.3L1106.2 809.1L1109.3 810.5M1124.1 794.8L1122.3 792.2L1122.2 790L1124.5 788.9L1127.4 787.6L1128.9 785.9L1131.3 784.4M1130.4 792.9L1125.4 793L1123.4 794.7L1124.3 797.2L1126.3 799.2L1126.4 800.4L1124.5 802.5L1124.1 805.2M1135.2 790.1L1137.6 789.8L1139.4 788.8L1143.3 788.1L1145.3 788.7L1148.2 788.7L1150.3 787.1L1153.9 786.2L1157.2 785.3M1106.5 788.4L1106.8 790.5L1108.3 792.4L1107.6 793.4L1107.2 794.7L1106.4 796.1L1105.8 798L1105.8 800.5M1120.7 791.9L1120.8 793.1L1121.9 794.2L1125.9 795.5L1128.2 797.9L1130 798.8L1132.2 799.2M1104.4 807.6L1105.3 805.7L1104.7 804.2L1102.6 802.2L1099.1 801.3M1126.7 795.2L1124.2 794.8L1120.1 794.6L1115.4 794.3L1112.5 795.4L1108.6 795.1M1116 794.9L1120.5 795.1L1123.5 793.9L1127.6 793.6L1131.6 792.9M1128.4 788.4L1127.7 786L1128 783.7L1131.3 782.2L1132.1 780.6L1134 779.4M1117.5 789.4L1119.9 788.5L1122.1 789.1L1124.3 790.4L1128.2 791.4L1130.4 792.7M1120.4 804L1123.4 803.4L1126.2 801.5L1126.4 799.8L1127.7 797.7L1128.6 796.5L1128.6 795.1M1133.7 804.5L1134.5 802.6L1139 801.7L1142.6 801.8L1143.8 803.5L1146.1 804.9L1146.9 806.9M1107.8 793L1105 791.5L1101.8 791.1L1097.4 790.1L1094.7 791L1092 790.9L1089.1 791.2L1086 791.2L1083.6 792.6L1081.9 793.7M1115.1 790.4L1112.9 789.6L1110.9 788.5L1106.7 788.1L1103.3 787.4L1100.8 786.8M1110 810.6L1112.1 810L1114.7 808.4L1118.6 807.2L1123.1 806.9L1124.7 804.7L1124.6 801.8L1126.7 800.9L1126.9 798.7M1132.3 807.3L1136.1 808.4L1138.4 808.5L1142 808.3L1143.3 806.4L1144.6 804.2L1145.4 801.6L1147 799.7M1123.3 802.8L1127.5 802.2L1130 799.9L1131 798.2L1133.4 797L1136.2 795.8L1139 796.5L1141.6 796.1L1146.5 796.4L1150.7 797.7L1153.8 798.3M1131.7 799.8L1128.7 799L1125.7 798.1L1122.6 797.6L1118.7 799.2M1128.1 801.2L1128.2 802.3L1127.6 804.3L1125.7 805.8L1124.1 807.2L1124.4 809.3M1109.9 791.2L1107.9 792.8L1107.5 794.1L1103.5 794.8L1101.1 793.9L1096.7 793.9M1118.1 788.8L1118.5 786.6L1118.2 784.6L1120 782.6L1120.1 780.6M1105.1 795.1L1107.6 796.8L1108 798.9L1104.6 799.6L1101.6 801.1L1099.1 802.5M1128.1 793.8L1125.4 792.3L1121.8 791.3L1119.2 791.4L1117.2 789.4M1106.2 796.2L1108.7 796.9L1113.6 796.9L1117.4 797.5L1120.9 799L1125 799.1L1126.8 800.1L1131.3 799.4L1134.2 798.5" stroke="#c9c9c9" stroke-width="0.3" fill="none"/>
<polygon points="914.7,850.2 925.7,854.3 955.8,855.7 968.1,857 980.4,859.8 1000.9,862.5 1013.3,864.6 1031,867.3 1048.8,870.7 998.8,899.9" fill="#fdfdfd"/>
<path d="M818.8 749.9 L837 749.9 L847.3 742.1 L865.4 737 L868 731.8 L883.6 731.8 L891.3 718.8 L901.7 717.5 L906.9 718.8 M917.2 724 L932.8 724 L941.8 729.2 L935.3 738.3 L922.4 752.5 L917.2 764.1 L915.9 770.6 M837 752.5 L847.3 760.3 L862.8 768 L881 770.6 L896.5 775.8 L904.3 770.6 L914.6 773.2 M813.7 742.1 L818.8 752.5 L811.1 762.8 L813.7 773.2 L822.7 778.4 M883.6 731.8 L896.5 742.1 L904.3 752.5 L909.4 762.8 M869.3 715 L881 718.8 L891.3 717.5 L904.3 718.8" stroke="#a9a9a9" stroke-width="0.5" fill="none" stroke-linejoin="round"/>
<polygon points="832,761 840,764 850,767 855,770 850,772 842,769 836,766" fill="#8fb0d8"/>
<polygon points="945,694 952,693 956,697 950,700 944,698" fill="#8fb0d8"/>
<polygon points="1030,673 1040,675 1044,680 1036,679" fill="#8fb0d8"/>
<polygon points="893,752 897,752 897,753.6 893,753.6" fill="#8fb0d8"/>
<polygon points="1000,851 1010,858 1008,866 1000,864" fill="#8fb0d8"/>
<polygon points="1031.9,672.5 1039.7,674.2 1043.2,679.4 1037.1,678.5" fill="#8fb0d8"/>
<polygon points="989.3,848.2 993.4,847.2 1009.2,857 1007.8,865.9 1002.3,866.6 1004.4,858.4 989.3,848.8" fill="#8fb0d8"/>
<path d="M1172.6 710.5 L1183 707.9 L1193.3 702.7 L1215.8 700.1 L1229.6 699.3 L1248.6 699.3 L1258.9 703.6 L1269.3 712.2 L1279.6 720.8 L1291.7 728.6" stroke="#9bbbe2" stroke-width="1.6" fill="none"/>
<path d="M1008 790 L1012 798 L1015 804 L1018 814 L1020 826 L1017 840 L1012 856" stroke="#9bbbe2" stroke-width="0.8" fill="none"/>
<path d="M1008 792 L1012 800 L1016 806 L1014 814" stroke="#9bbbe2" stroke-width="0.7" fill="none"/>
<use href="#metro" transform="translate(0 176)" stroke="#a8807a" stroke-width="0.9" opacity="0.85"/>
<use href="#brt" transform="translate(0 457.5)" stroke="#4f918b" stroke-width="0.95"/>
</g>
<path d="M750 753 L766 744 L782 744 L790 738 L820 728 L850 714 L870 706 L890 698 L898 694 L910 686 L920 678 L930 666 L942 658 L956 652 L966 649 L974 654 L990 660 L1006 665 L1040 665 L1062 666 L1090 664 L1096 662" stroke="#e9b23f" stroke-width="1.3" fill="none" stroke-linejoin="round" stroke-linecap="round"/>
<path d="M852 695 L870 699 L890 700 L906 703 L930 702 L950 703 L962 706 L974 704 L990 702 L1010 704 L1030 703 L1050 698 L1070 693 L1090 691 L1096 690" stroke="#e9b23f" stroke-width="1.1" fill="none" stroke-linejoin="round" stroke-linecap="round"/>
<path d="M920 678 L950 672 L1002 669" stroke="#e9b23f" stroke-width="0.6" fill="none" stroke-linejoin="round" stroke-linecap="round"/>
<path d="M922 680 L926 686 L938 692 L940 704" stroke="#e9b23f" stroke-width="0.7" fill="none" stroke-linejoin="round" stroke-linecap="round"/>
<path d="M934 708 L938 716 L941 721" stroke="#e9b23f" stroke-width="0.7" fill="none" stroke-linejoin="round" stroke-linecap="round"/>
<path d="M782 744 L790 752 L800 760 L808 766 L810 774 L816 780 L830 784 L846 792 L862 798 L880 800 L906 803 L930 805 L948 808 L970 812 L990 814 L1002 816 L1026 819 L1050 819 L1074 816 L1090 818" stroke="#e9b23f" stroke-width="1.3" fill="none" stroke-linejoin="round" stroke-linecap="round"/>
<path d="M948 808 L960 802 L980 794 L994 784 L998 776 L1004 773 L1016 770 L1030 762 L1050 746 L1070 732 L1090 720 L1096 719" stroke="#e9b23f" stroke-width="1.6" fill="none" stroke-linejoin="round" stroke-linecap="round"/>
<path d="M1046 662 L1050 670 L1051 678" stroke="#e9b23f" stroke-width="1" fill="none" stroke-linejoin="round" stroke-linecap="round"/>
<path d="M1042 640 L1045 646 L1042 654 L1038 660 L1040 665" stroke="#e9b23f" stroke-width="1" fill="none" stroke-linejoin="round" stroke-linecap="round"/>
<path d="M752 753 L758 750" stroke="#e9b23f" stroke-width="0.8" fill="none" stroke-linejoin="round" stroke-linecap="round"/>
<path d="M766 744 L774 742 L782 744" stroke="#e9b23f" stroke-width="1.4" fill="none" stroke-linejoin="round" stroke-linecap="round"/>
<path d="M960 778 L967 782" stroke="#e9b23f" stroke-width="0.8" fill="none" stroke-linejoin="round" stroke-linecap="round"/>
<path d="M1116 770 L1110 784" stroke="#e9b23f" stroke-width="0.8" fill="none" stroke-linejoin="round" stroke-linecap="round"/>
<path d="M822 727 L830 728" stroke="#e9b23f" stroke-width="1.2" fill="none" stroke-linejoin="round" stroke-linecap="round"/>
<path d="M844 722 L850 723" stroke="#e9b23f" stroke-width="0.8" fill="none" stroke-linejoin="round" stroke-linecap="round"/>
<path d="M1017.3 624.2 L1022.4 625.9 L1034.5 634.5 L1044 641.4 L1044.9 650.1 L1040.6 658.7 L1041.4 663.9 L1050.1 669 L1051.8 677.7" stroke="#e9b23f" stroke-width="1.6" fill="none" stroke-linejoin="round" stroke-linecap="round"/>
<path d="M1017.3 624.2 L1029.3 619 L1044.9 610.4 L1063.9 606 L1070.8 603.5" stroke="#e9b23f" stroke-width="1" fill="none" stroke-linejoin="round" stroke-linecap="round"/>
<path d="M1014.7 623.3 L1023.3 625.9" stroke="#e9b23f" stroke-width="2.4" fill="none" stroke-linejoin="round" stroke-linecap="round"/>
<path d="M1105.3 615.5 L1103.6 622.4 L1094.1 628.5 L1094.1 641.4 L1100.1 651.8 L1096.7 660.4 L1094.9 665.6 L1094.1 676 L1094.9 689.8 L1091.5 696.7 L1089.8 707 L1091.5 717.4 L1094.9 720.8" stroke="#e9b23f" stroke-width="1.6" fill="none" stroke-linejoin="round" stroke-linecap="round"/>
<path d="M1000 655.2 L1017.3 656.1 L1039.7 660.4 L1051.8 659.6 L1074.2 661.3 L1094.9 665.6" stroke="#e9b23f" stroke-width="1.4" fill="none" stroke-linejoin="round" stroke-linecap="round"/>
<path d="M1000 664.7 L1020.7 665.6 L1041.4 663.9 L1050.1 666.5 L1069 669 L1093.2 668.2" stroke="#e9b23f" stroke-width="1.6" fill="none" stroke-linejoin="round" stroke-linecap="round"/>
<path d="M1094.9 665.6 L1110.5 668.2 L1120.8 673.4 L1127.7 677.7 L1136.4 677.7 L1143.3 672.5 L1153.6 664.7" stroke="#e9b23f" stroke-width="1.6" fill="none" stroke-linejoin="round" stroke-linecap="round"/>
<path d="M1126.9 677.7 L1138.1 678" stroke="#e9b23f" stroke-width="3" fill="none" stroke-linejoin="round" stroke-linecap="round"/>
<path d="M1127.7 677.7 L1127.7 684.6 L1138.1 684.6 L1143.3 689.8 L1148.5 696.7 L1151.9 699.3 L1165.7 694.1 L1177.8 689.8 L1191.6 688.9" stroke="#e9b23f" stroke-width="1.6" fill="none" stroke-linejoin="round" stroke-linecap="round"/>
<path d="M1165.7 694.1 L1172.6 686.3 L1179.5 680.3" stroke="#e9b23f" stroke-width="1.2" fill="none" stroke-linejoin="round" stroke-linecap="round"/>
<path d="M1160.5 637.1 L1165.7 643.2 L1169.2 646.6 L1172.6 644" stroke="#e9b23f" stroke-width="1.2" fill="none" stroke-linejoin="round" stroke-linecap="round"/>
<path d="M1164.9 651.8 L1170 645.2" stroke="#e9b23f" stroke-width="2.2" fill="none" stroke-linejoin="round" stroke-linecap="round"/>
<path d="M1169.2 646.6 L1164 653.5 L1155.4 651.8 L1151.9 643.2 L1153.6 638" stroke="#e9b23f" stroke-width="0.8" fill="none" stroke-linejoin="round" stroke-linecap="round"/>
<path d="M1128.6 653.5 L1136.4 660.4 L1138.1 665.6" stroke="#e9b23f" stroke-width="0.7" fill="none" stroke-linejoin="round" stroke-linecap="round"/>
<path d="M1000 704.4 L1017.3 703.6 L1034.5 700.1 L1051.8 697.5 L1069 694.1 L1089.8 689.8 L1103.6 688.9 L1117.4 689.8 L1127.7 684.6" stroke="#e9b23f" stroke-width="1.5" fill="none" stroke-linejoin="round" stroke-linecap="round"/>
<path d="M1091.5 717.4 L1110.5 718.2 L1131.2 713.9 L1141.6 712.2 L1146.7 703.6 L1150.2 699.3" stroke="#e9b23f" stroke-width="1.5" fill="none" stroke-linejoin="round" stroke-linecap="round"/>
<path d="M1151.9 699.3 L1164 703.6 L1172.6 701.8 L1186.4 700.1 L1196.8 694.9" stroke="#e9b23f" stroke-width="0.8" fill="none" stroke-linejoin="round" stroke-linecap="round"/>
<path d="M1138.1 724.3 L1150.2 719.1 L1157.1 712.2 L1151.9 710.5" stroke="#e9b23f" stroke-width="0.8" fill="none" stroke-linejoin="round" stroke-linecap="round"/>
<path d="M1094.9 720.8 L1086.3 727.7 L1074.2 734.6 L1060.4 741.6 L1048.3 750.2 L1034.5 760" stroke="#e9b23f" stroke-width="2" fill="none" stroke-linejoin="round" stroke-linecap="round"/>
<path d="M1094.9 720.8 L1103.6 724.3 L1108.8 732.9 L1113.9 738.1 L1127.7 745 L1143.3 755.4 L1150.2 760" stroke="#e9b23f" stroke-width="1.8" fill="none" stroke-linejoin="round" stroke-linecap="round"/>
<path d="M1094 722 L1080 730 L1060 740 L1040 754 L1028 763 L1012 770 L1000 778" stroke="#e9b23f" stroke-width="1.8" fill="none" stroke-linejoin="round" stroke-linecap="round"/>
<path d="M1094 722 L1104 726 L1110 736 L1120 742 L1140 754 L1160 768 L1172 774 L1184 780 L1196 787" stroke="#e9b23f" stroke-width="1.7" fill="none" stroke-linejoin="round" stroke-linecap="round"/>
<path d="M1000 816 L1020 818 L1036 819 L1050 820 L1066 817 L1080 817 L1089 820" stroke="#e9b23f" stroke-width="1.5" fill="none" stroke-linejoin="round" stroke-linecap="round"/>
<path d="M1116 770 L1109 785" stroke="#e9b23f" stroke-width="0.8" fill="none" stroke-linejoin="round" stroke-linecap="round"/>
<path d="M1140 723 L1152 720" stroke="#e9b23f" stroke-width="0.8" fill="none" stroke-linejoin="round" stroke-linecap="round"/>
<path d="M1000 840 L1012 837 L1020 834 L1022 826 L1026 822 L1036 819" stroke="#e9b23f" stroke-width="1.2" fill="none" stroke-linejoin="round" stroke-linecap="round"/>
<path d="M1012 840 L1017 858" stroke="#e9b23f" stroke-width="0.8" fill="none" stroke-linejoin="round" stroke-linecap="round"/>
<path d="M1084 826 L1088 829" stroke="#e9b23f" stroke-width="0.6" fill="none" stroke-linejoin="round" stroke-linecap="round"/>
<path d="M1102 828 L1109 832" stroke="#e9b23f" stroke-width="0.6" fill="none" stroke-linejoin="round" stroke-linecap="round"/>
<path d="M1035.2 819.4 L1024.2 822.8 L1020.1 829.7 L1018.7 833.8 L1009.2 839.3 L994.8 843.4" stroke="#e9b23f" stroke-width="1.2" fill="none" stroke-linejoin="round" stroke-linecap="round"/>
<path d="M1010.5 835.2 L1016 858.4" stroke="#e9b23f" stroke-width="0.6" fill="none" stroke-linejoin="round" stroke-linecap="round"/>
<path d="M994.1 790 L969.5 799.6 L955.8 807.8 L947.6 811.9 L933.9 823.5" stroke="#e9b23f" stroke-width="1.4" fill="none" stroke-linejoin="round" stroke-linecap="round"/>
<path d="M1043.4 861.4 L1073.5 843.6 L1078.9 842.3" stroke="#e9b23f" stroke-width="1" fill="none" stroke-linejoin="round" stroke-linecap="round"/>
<path d="M1051.6 866.6 L1084.4 847.5" stroke="#e9b23f" stroke-width="1" fill="none" stroke-linejoin="round" stroke-linecap="round"/>
<path d="M1047.5 863.9 L1078.9 845.4" stroke="#e9b23f" stroke-width="1" fill="none" stroke-linejoin="round" stroke-linecap="round"/>
<path d="M1069.4 851.6 L1084.4 844.1" stroke="#e9b23f" stroke-width="1.6" fill="none" stroke-linejoin="round" stroke-linecap="round"/>
<path d="M1091.3 840.6 L1100.8 836.5" stroke="#e9b23f" stroke-width="1.2" fill="none" stroke-linejoin="round" stroke-linecap="round"/>
<circle cx="1136" cy="652.6" r="1.1" fill="#000"/>
<polygon points="1122.8,549.2 1365.3,689.2 998.8,899.9 756.6,760.1" fill="none" stroke="#1a1a1a" stroke-width="0.8"/>
<line x1="760.5" x2="760.5" y1="302" y2="749" stroke="#777" stroke-width="0.75" stroke-dasharray="5 2.6"/>
<line x1="900.5" x2="900.5" y1="245" y2="703" stroke="#777" stroke-width="0.75" stroke-dasharray="5 2.6"/>
<line x1="905.6" x2="905.6" y1="352" y2="858" stroke="#777" stroke-width="0.75" stroke-dasharray="5 2.6"/>
<line x1="916.8" x2="916.8" y1="677" y2="850" stroke="#777" stroke-width="0.75" stroke-dasharray="5 2.6"/>
<line x1="955.7" x2="955.7" y1="189" y2="646" stroke="#777" stroke-width="0.75" stroke-dasharray="5 2.6"/>
<line x1="1035.7" x2="1035.7" y1="547" y2="723" stroke="#777" stroke-width="0.75" stroke-dasharray="5 2.6"/>
<line x1="1103.6" x2="1103.6" y1="529" y2="712" stroke="#777" stroke-width="0.75" stroke-dasharray="5 2.6"/>
<line x1="1128.5" x2="1128.5" y1="374" y2="818" stroke="#777" stroke-width="0.75" stroke-dasharray="5 2.6"/>
<line x1="1138.6" x2="1138.6" y1="545" y2="692" stroke="#777" stroke-width="0.75" stroke-dasharray="5 2.6"/>
<line x1="1143.5" x2="1143.5" y1="538" y2="707" stroke="#777" stroke-width="0.75" stroke-dasharray="5 2.6"/>
<line x1="1212.5" x2="1212.5" y1="484" y2="696" stroke="#777" stroke-width="0.75" stroke-dasharray="5 2.6"/>
<line x1="1221.7" x2="1221.7" y1="154" y2="690" stroke="#777" stroke-width="0.75" stroke-dasharray="5 2.6"/>
<line x1="1229.6" x2="1229.6" y1="590" y2="762" stroke="#777" stroke-width="0.75" stroke-dasharray="5 2.6"/>
<line x1="1256.5" x2="1256.5" y1="300" y2="755" stroke="#777" stroke-width="0.75" stroke-dasharray="5 2.6"/>
<line x1="1286.5" x2="1286.5" y1="280" y2="737" stroke="#777" stroke-width="0.75" stroke-dasharray="5 2.6"/>
<use href="#brt" stroke="#3f827d" stroke-width="0.95"/>
<use href="#metro" stroke="#8e1a20" stroke-width="1.5"/>
<circle cx="1054" cy="585.6" r="0.8" fill="#200"/>
<circle cx="1033" cy="594.4" r="0.8" fill="#200"/>
<circle cx="1016" cy="602" r="0.8" fill="#200"/>
<circle cx="998" cy="611" r="0.8" fill="#200"/>
<circle cx="982" cy="618" r="0.8" fill="#200"/>
<circle cx="955" cy="624" r="0.8" fill="#200"/>
<circle cx="947" cy="630" r="0.8" fill="#200"/>
<circle cx="934" cy="641" r="0.8" fill="#200"/>
<circle cx="928" cy="648" r="0.8" fill="#200"/>
<circle cx="922" cy="653" r="0.8" fill="#200"/>
<circle cx="917" cy="662" r="0.8" fill="#200"/>
<circle cx="917" cy="674" r="0.8" fill="#200"/>
<circle cx="1036" cy="546.4" r="0.8" fill="#200"/>
<circle cx="1041.6" cy="543" r="0.8" fill="#200"/>
<circle cx="1125" cy="540.4" r="0.8" fill="#200"/>
<circle cx="1142" cy="538.4" r="0.8" fill="#200"/>
<circle cx="1161" cy="549.6" r="0.8" fill="#200"/>
<circle cx="1178" cy="560" r="0.8" fill="#200"/>
<circle cx="1194" cy="569" r="0.8" fill="#200"/>
<circle cx="1210" cy="578" r="0.8" fill="#200"/>
<circle cx="1229" cy="590" r="0.8" fill="#200"/>
<circle cx="1100" cy="565" r="0.8" fill="#200"/>
<circle cx="1080" cy="575" r="0.8" fill="#200"/>
<circle cx="1120" cy="385" r="0.8" fill="#200"/>
<circle cx="1104" cy="395" r="0.8" fill="#200"/>
<circle cx="1093" cy="406.4" r="0.8" fill="#200"/>
<circle cx="1100" cy="411" r="0.8" fill="#200"/>
<circle cx="1118" cy="424" r="0.8" fill="#200"/>
<circle cx="1119" cy="434" r="0.8" fill="#200"/>
<circle cx="1106" cy="446" r="0.8" fill="#200"/>
<circle cx="1092" cy="454" r="0.8" fill="#200"/>
<circle cx="1092" cy="469" r="0.8" fill="#200"/>
<circle cx="1098" cy="479" r="0.8" fill="#200"/>
<circle cx="1098" cy="488" r="0.8" fill="#200"/>
<circle cx="1136" cy="508.4" r="0.8" fill="#200"/>
<circle cx="1148" cy="506.6" r="0.8" fill="#200"/>
<circle cx="1174" cy="502" r="0.8" fill="#200"/>
<circle cx="1200" cy="490" r="0.8" fill="#200"/>
<circle cx="1213" cy="483" r="0.8" fill="#200"/>
<circle cx="905" cy="528.6" r="0.8" fill="#200"/>
<circle cx="960" cy="539" r="0.8" fill="#200"/>
<circle cx="978" cy="530" r="0.8" fill="#200"/>
<circle cx="994" cy="520" r="0.8" fill="#200"/>
<circle cx="1020" cy="519" r="0.8" fill="#200"/>
<circle cx="1036" cy="528.4" r="0.8" fill="#200"/>
<circle cx="1050" cy="537" r="0.8" fill="#200"/>
<circle cx="1072" cy="532.4" r="0.8" fill="#200"/>
<circle cx="1098" cy="528.4" r="0.8" fill="#200"/>
<!-- photos -->
<rect x="1446.8" y="190.4" width="188" height="169.6" fill="#888"/>
<rect x="1663" y="190.4" width="188" height="169.6" fill="#888"/>
<rect x="1446.8" y="443" width="188" height="169.6" fill="#888"/>
<rect x="1663" y="443" width="188" height="169.6" fill="#888"/>
<rect x="1446.8" y="688.5" width="188" height="169.6" fill="#888"/>
<rect x="1663" y="688.5" width="188" height="169.6" fill="#888"/>
<svg x="1446.8" y="190.4" width="188" height="169.6" viewBox="35 28 968 872" preserveAspectRatio="none" overflow="hidden"><defs><linearGradient id="p1sky" x1="0" y1="0" x2="0" y2="1"><stop offset="0" stop-color="#c2c2c2"/><stop offset="0.45" stop-color="#cfcfcf"/><stop offset="1" stop-color="#d6d6d6"/></linearGradient><radialGradient id="p1cl" cx="0.5" cy="0.5" r="0.5"><stop offset="0" stop-color="#e2e2e2"/><stop offset="1" stop-color="#d0d0d0" stop-opacity="0"/></radialGradient></defs>
<rect x="35" y="28" width="968" height="480" fill="url(#p1sky)"/>
<ellipse cx="420" cy="170" rx="260" ry="110" fill="url(#p1cl)"/>
<ellipse cx="150" cy="120" rx="200" ry="70" fill="url(#p1cl)" opacity="0.6"/>
<rect x="35" y="28" width="968" height="16" fill="#efefef" opacity="0.8"/>
<polygon points="35,350 110,340 135,360 135,445 35,455" fill="#a5a5a5"/>
<ellipse cx="90" cy="340" rx="28" ry="34" fill="#3c3c3c"/>
<polygon points="135,395 360,385 360,440 135,450" fill="#8a8a8a"/>
<rect x="240" y="350" width="45" height="25" fill="#b5b5b5"/>
<rect x="200" y="366" width="25" height="18" fill="#b0b0b0"/>
<ellipse cx="150" cy="405" rx="18" ry="25" fill="#4a4a4a"/>
<ellipse cx="320" cy="400" rx="30" ry="18" fill="#555"/>
<polygon points="35,470 350,425 520,470 1003,700 1003,900 35,900" fill="#626262"/>
<polygon points="35,470 350,428 330,470 35,560" fill="#707070"/>
<polygon points="35,560 200,500 215,520 35,640" fill="#7c7c7c"/>
<polyline points="35,650 130,590 200,520 215,490" fill="none" stroke="#9a9a9a" stroke-width="5"/>
<polygon points="510,262 680,50 700,48 700,500 520,475" fill="#7b7b7b"/>
<polygon points="700,48 1003,44 1003,520 700,500" fill="#6e6e6e"/>
<polygon points="510,262 680,50 700,48 700,62 515,275" fill="#9a9a9a"/>
<polygon points="515,340 700,330 700,350 515,358" fill="#a8a8a8"/>
<rect x="525" y="300" width="10" height="42" fill="#c9c9c9"/>
<rect x="545" y="291" width="11" height="50" fill="#c9c9c9"/>
<rect x="568" y="282" width="12" height="58" fill="#c9c9c9"/>
<rect x="592" y="273" width="13" height="66" fill="#c9c9c9"/>
<rect x="618" y="264" width="14" height="74" fill="#c9c9c9"/>
<rect x="646" y="255" width="15" height="82" fill="#c9c9c9"/>
<rect x="600" y="190" width="10" height="50" fill="#6a6a6a"/>
<rect x="625" y="165" width="11" height="56" fill="#6a6a6a"/>
<rect x="650" y="140" width="13" height="62" fill="#6a6a6a"/>
<polygon points="520,360 700,352 700,500 520,475" fill="#b9b9b9"/>
<rect x="535" y="378" width="9" height="70" fill="#4d4d4d"/>
<rect x="560" y="376" width="10" height="76" fill="#4d4d4d"/>
<rect x="585" y="374" width="11" height="82" fill="#4d4d4d"/>
<rect x="612" y="372" width="12" height="88" fill="#4d4d4d"/>
<rect x="645" y="370" width="13" height="94" fill="#4d4d4d"/>
<polygon points="520,470 700,500 1003,545 1003,670 700,565 560,500" fill="#9d9d9d"/>
<polygon points="800,470 1003,430 1003,545 800,520" fill="#7a7a7a"/>
<ellipse cx="860" cy="400" rx="70" ry="55" fill="#2f2f2f"/>
<ellipse cx="770" cy="430" rx="40" ry="40" fill="#3a3a3a"/>
<polyline points="850,440 885,545" fill="none" stroke="#2a2a2a" stroke-width="8"/>
<ellipse cx="545" cy="420" rx="30" ry="40" fill="#555"/>
<polyline points="668,560 668,325 720,320 722,345" fill="none" stroke="#2b2b2b" stroke-width="7"/>
<ellipse cx="722" cy="350" rx="12" ry="8" fill="#2b2b2b"/>
<polygon points="930,530 975,525 980,585 965,650 945,650 940,590" fill="#404040"/>
<rect x="978" y="575" width="25" height="45" fill="#d8d8d8"/>
<polygon points="360,405 372,388 490,388 505,405 512,570 352,570" fill="#e9e9e9"/>
<polygon points="372,420 495,420 497,480 370,480" fill="#8c8c8c"/>
<polygon points="380,430 440,430 440,470 380,470" fill="#b5b5b5"/>
<rect x="455" y="428" width="35" height="22" fill="#3a3a3a"/>
<rect x="352" y="560" width="160" height="18" fill="#3d3d3d"/>
<rect x="366" y="500" width="14" height="30" fill="#555"/>
<rect x="484" y="500" width="14" height="30" fill="#555"/>
<ellipse cx="432" cy="500" rx="8" ry="8" fill="#777"/>
<polygon points="243,490 260,470 312,468 328,490 330,530 245,540" fill="#4a4a4a"/>
<polygon points="258,478 314,476 322,495 252,497" fill="#7a7a7a"/>
<rect x="248" y="530" width="82" height="12" fill="#2a2a2a"/>
<polygon points="35,455 80,447 90,470 35,485" fill="#333"/>
<polygon points="85,445 130,440 140,462 92,470" fill="#444"/>
<polygon points="140,445 170,440 175,455 143,462" fill="#ddd"/>
<polygon points="172,440 205,436 205,450 176,455" fill="#eee"/>
<polyline points="190,900 352,545" fill="none" stroke="#e3e3e3" stroke-width="11"/>
<polyline points="720,900 520,560" fill="none" stroke="#e3e3e3" stroke-width="11"/>
<polyline points="725,810 775,870" fill="none" stroke="#e3e3e3" stroke-width="9"/>
<polyline points="760,845 800,840" fill="none" stroke="#e3e3e3" stroke-width="7"/>
<text x="338" y="663" font-size="66" font-weight="bold" fill="#ececec" textLength="192" lengthAdjust="spacingAndGlyphs" font-family="Liberation Sans">LANE</text>
<text x="330" y="890" font-size="205" font-weight="bold" fill="#ececec" textLength="265" lengthAdjust="spacingAndGlyphs" font-family="Liberation Sans">BUS</text>
<polyline points="335,790 590,790" fill="none" stroke="#626262" stroke-width="6"/>
<polyline points="335,840 590,840" fill="none" stroke="#626262" stroke-width="5"/>
<polygon points="630,610 660,585 720,572 830,585 895,625 910,660 905,700 800,735 740,715 640,655" fill="#ededed"/>
<polygon points="665,590 720,578 745,600 700,620 660,605" fill="#3a3a3a"/>
<polygon points="780,615 880,622 895,655 790,650" fill="#2e2e2e"/>
<ellipse cx="730" cy="705" rx="17" ry="26" fill="#222"/>
<ellipse cx="730" cy="705" rx="8" ry="13" fill="#999"/>
<ellipse cx="640" cy="640" rx="9" ry="18" fill="#222"/>
<polygon points="760,640 775,645 772,690 755,680" fill="#777"/>
<polygon points="785,745 840,700 930,685 1003,672 1003,900 840,900 795,840" fill="#3b3b3b"/>
<polygon points="920,700 1003,685 1003,760 940,740" fill="#1f1f1f"/>
<polygon points="850,700 920,690 930,720 870,735" fill="#252525"/>
<ellipse cx="825" cy="830" rx="38" ry="60" fill="#1c1c1c"/>
<ellipse cx="822" cy="830" rx="20" ry="34" fill="#6a6a6a"/>
<ellipse cx="822" cy="830" rx="10" ry="18" fill="#333"/>
<polyline points="860,820 960,880" fill="none" stroke="#666" stroke-width="4"/></svg>
<svg x="1663" y="190.4" width="188" height="169.6" viewBox="36 28 967 872" preserveAspectRatio="none" overflow="hidden"><defs><linearGradient id="p2sky" x1="0" y1="0" x2="0" y2="1"><stop offset="0" stop-color="#cfcfcf"/><stop offset="1" stop-color="#e6e6e6"/></linearGradient><radialGradient id="p2c" cx="0.5" cy="0.5" r="0.5"><stop offset="0" stop-color="#fafafa"/><stop offset="0.6" stop-color="#f0f0f0" stop-opacity="0.9"/><stop offset="1" stop-color="#e0e0e0" stop-opacity="0"/></radialGradient></defs>
<rect x="36" y="28" width="967" height="560" fill="url(#p2sky)"/>
<ellipse cx="850" cy="160" rx="230" ry="100" fill="url(#p2c)"/>
<ellipse cx="800" cy="300" rx="200" ry="90" fill="url(#p2c)" opacity="0.7"/>
<ellipse cx="720" cy="390" rx="140" ry="50" fill="url(#p2c)"/>
<ellipse cx="930" cy="340" rx="100" ry="40" fill="url(#p2c)"/>
<ellipse cx="700" cy="210" rx="80" ry="35" fill="url(#p2c)"/>
<ellipse cx="150" cy="60" rx="160" ry="50" fill="url(#p2c)" opacity="0.5"/>
<polygon points="800,462 1003,448 1003,560 800,560" fill="#4e4e4e"/>
<polygon points="830,540 1003,548 1003,600 830,585" fill="#6a6a6a"/>
<polyline points="900,370 900,550" fill="none" stroke="#444" stroke-width="6"/>
<polyline points="878,405 925,400" fill="none" stroke="#444" stroke-width="5"/>
<polyline points="900,395 1003,375" fill="none" stroke="#777" stroke-width="1.5"/>
<polygon points="560,540 1003,585 1003,900 480,900" fill="#8d8d8d"/>
<polygon points="830,585 1003,600 1003,900 640,900 600,560" fill="#959595"/>
<polygon points="585,545 610,548 780,900 640,900" fill="#a8a8a8"/>
<polygon points="560,545 590,545 645,900 495,900" fill="#b0b0b0"/>
<polyline points="640,640 785,900" fill="none" stroke="#5f5f5f" stroke-width="4"/>
<polyline points="832,580 1003,615" fill="none" stroke="#555" stroke-width="8"/>
<polygon points="36,560 560,540 500,900 36,900" fill="#8f8f8f"/>
<polyline points="553,565 478,900" fill="none" stroke="#505050" stroke-width="14"/>
<ellipse cx="310" cy="762" rx="212" ry="103" fill="#e2e2e2" transform="rotate(-19 310 762)"/>
<ellipse cx="470" cy="608" rx="75" ry="24" fill="#d5d5d5"/>
<polygon points="330,870 470,880 465,900 330,900" fill="#7c7c7c"/>
<polygon points="36,585 410,548 410,585 36,690" fill="#6b6b6b"/>
<polyline points="36,575 410,545" fill="none" stroke="#cfcfcf" stroke-width="5"/>
<polygon points="36,600 300,575 300,600 36,650" fill="#8a8a8a"/>
<polygon points="36,215 495,68 560,440 520,455 400,470 36,350" fill="#e4e4e4"/>
<polygon points="36,350 400,470 300,470 36,400" fill="#3a3a3a"/>
<polyline points="36,238 268,148.5 500,95" fill="none" stroke="#2c2c2c" stroke-width="30" stroke-linejoin="round"/>
<polyline points="36,335 270.5,242 505,185" fill="none" stroke="#2c2c2c" stroke-width="28" stroke-linejoin="round"/>
<polyline points="100,372 287.5,299 475,262" fill="none" stroke="#2c2c2c" stroke-width="24" stroke-linejoin="round"/>
<polyline points="170,398 322.5,337 475,312" fill="none" stroke="#2c2c2c" stroke-width="22" stroke-linejoin="round"/>
<polyline points="225,420 355,368 485,352" fill="none" stroke="#2c2c2c" stroke-width="20" stroke-linejoin="round"/>
<polyline points="265,438 382.5,393.5 500,385" fill="none" stroke="#2c2c2c" stroke-width="18" stroke-linejoin="round"/>
<polyline points="300,452 410,414 520,412" fill="none" stroke="#2c2c2c" stroke-width="16" stroke-linejoin="round"/>
<polyline points="330,462 432.5,429 535,432" fill="none" stroke="#2c2c2c" stroke-width="14" stroke-linejoin="round"/>
<polygon points="60,275 380,240 425,245 425,265 85,300 60,298" fill="#4a4a4a"/>
<polyline points="385,130 385,245" fill="none" stroke="#333" stroke-width="10"/>
<polyline points="85,240 85,280" fill="none" stroke="#333" stroke-width="8"/>
<polygon points="495,65 628,28 600,300 580,440 545,440 520,250" fill="#3b3b3b"/>
<polygon points="470,260 495,250 545,430 530,440" fill="#9a9a9a"/>
<ellipse cx="563" cy="200" rx="18" ry="9" fill="#cfcfcf"/>
<ellipse cx="562" cy="308" rx="13" ry="7" fill="#bbb"/>
<ellipse cx="562" cy="362" rx="10" ry="5" fill="#aaa"/>
<polygon points="36,28 600,28 495,65 36,215" fill="#c6c6c6"/>
<polyline points="36,190 495,55" fill="none" stroke="#a8a8a8" stroke-width="6"/>
<polygon points="300,470 545,440 560,545 330,560" fill="#4a4a4a"/>
<polygon points="450,470 545,455 550,500 455,510" fill="#b5b5b5"/>
<rect x="440" y="515" width="45" height="60" fill="#9c9c9c"/>
<polygon points="36,395 295,458 268,545 36,562" fill="#6e6e6e"/>
<text x="40" y="488" font-size="40" font-style="italic" fill="#e8e8e8" textLength="205" lengthAdjust="spacingAndGlyphs" transform="rotate(4 40 488)" font-family="Liberation Sans">Metro Orange Line</text>
<polyline points="130,520 260,522" fill="none" stroke="#444" stroke-width="6"/>
<polygon points="296,448 322,448 332,612 300,612" fill="#262626"/>
<polygon points="400,488 416,488 422,585 404,585" fill="#2a2a2a"/>
<rect x="36" y="715" width="70" height="16" fill="#c9c9c9"/>
<rect x="42" y="731" width="8" height="60" fill="#a9a9a9"/>
<rect x="92" y="731" width="8" height="60" fill="#a0a0a0"/>
<rect x="50" y="680" width="70" height="16" fill="#c9c9c9"/>
<rect x="56" y="696" width="8" height="60" fill="#a9a9a9"/>
<rect x="106" y="696" width="8" height="60" fill="#a0a0a0"/>
<rect x="118" y="655" width="63" height="14.4" fill="#c9c9c9"/>
<rect x="123.4" y="669.4" width="7.2" height="54" fill="#a9a9a9"/>
<rect x="168.4" y="669.4" width="7.2" height="54" fill="#a0a0a0"/>
<rect x="195" y="632" width="56" height="12.8" fill="#c9c9c9"/>
<rect x="199.8" y="644.8" width="6.4" height="48" fill="#a9a9a9"/>
<rect x="239.8" y="644.8" width="6.4" height="48" fill="#a0a0a0"/>
<rect x="255" y="618" width="49" height="11.2" fill="#c9c9c9"/>
<rect x="259.2" y="629.2" width="5.6" height="42" fill="#a9a9a9"/>
<rect x="294.2" y="629.2" width="5.6" height="42" fill="#a0a0a0"/>
<rect x="310" y="606" width="42" height="9.6" fill="#c9c9c9"/>
<rect x="313.6" y="615.6" width="4.8" height="36" fill="#a9a9a9"/>
<rect x="343.6" y="615.6" width="4.8" height="36" fill="#a0a0a0"/>
<rect x="355" y="598" width="35" height="8" fill="#c9c9c9"/>
<rect x="358" y="606" width="4" height="30" fill="#a9a9a9"/>
<rect x="383" y="606" width="4" height="30" fill="#a0a0a0"/>
<polygon points="603,478 660,455 660,622 603,578" fill="#454545"/>
<polygon points="660,455 690,448 800,452 828,478 832,600 660,622" fill="#6f6f6f"/>
<polygon points="672,490 815,488 818,560 672,566" fill="#3a3a3a"/>
<polygon points="690,462 800,462 805,482 688,484" fill="#555"/>
<polygon points="660,590 832,575 832,605 665,625" fill="#cdcdcd"/>
<ellipse cx="745" cy="578" rx="9" ry="7" fill="#ddd"/>
<ellipse cx="680" cy="580" rx="8" ry="6" fill="#eee"/>
<ellipse cx="812" cy="575" rx="8" ry="6" fill="#eee"/>
<polygon points="640,625 800,610 790,630 660,640" fill="#555" opacity="0.7"/>
<rect x="828" y="525" width="14" height="30" fill="#555"/></svg>
<svg x="1446.8" y="443" width="188" height="169.6" viewBox="35 28 968 872" preserveAspectRatio="none" overflow="hidden"><rect x="35" y="28" width="968" height="872" fill="#e4e4e4"/>
<polygon points="370,28 1003,28 1003,330 370,330" fill="#858585"/>
<polygon points="450,28 690,28 690,300 450,310" fill="#5b5b5b"/>
<rect x="450" y="85" width="240" height="10" fill="#8c8c8c"/>
<rect x="450" y="140" width="240" height="10" fill="#8c8c8c"/>
<rect x="450" y="195" width="240" height="10" fill="#8c8c8c"/>
<rect x="450" y="255" width="240" height="10" fill="#8c8c8c"/>
<rect x="690" y="40" width="140" height="3" fill="#6b6b6b"/>
<rect x="690" y="49" width="140" height="3" fill="#6b6b6b"/>
<rect x="690" y="58" width="140" height="3" fill="#6b6b6b"/>
<rect x="690" y="67" width="140" height="3" fill="#6b6b6b"/>
<rect x="690" y="76" width="140" height="3" fill="#6b6b6b"/>
<rect x="690" y="85" width="140" height="3" fill="#6b6b6b"/>
<rect x="690" y="94" width="140" height="3" fill="#6b6b6b"/>
<rect x="690" y="103" width="140" height="3" fill="#6b6b6b"/>
<rect x="690" y="112" width="140" height="3" fill="#6b6b6b"/>
<rect x="690" y="121" width="140" height="3" fill="#6b6b6b"/>
<rect x="690" y="130" width="140" height="3" fill="#6b6b6b"/>
<rect x="690" y="139" width="140" height="3" fill="#6b6b6b"/>
<rect x="690" y="148" width="140" height="3" fill="#6b6b6b"/>
<rect x="690" y="157" width="140" height="3" fill="#6b6b6b"/>
<rect x="690" y="166" width="140" height="3" fill="#6b6b6b"/>
<rect x="690" y="175" width="140" height="3" fill="#6b6b6b"/>
<rect x="690" y="184" width="140" height="3" fill="#6b6b6b"/>
<rect x="690" y="193" width="140" height="3" fill="#6b6b6b"/>
<rect x="690" y="202" width="140" height="3" fill="#6b6b6b"/>
<rect x="690" y="211" width="140" height="3" fill="#6b6b6b"/>
<rect x="690" y="220" width="140" height="3" fill="#6b6b6b"/>
<rect x="690" y="229" width="140" height="3" fill="#6b6b6b"/>
<rect x="690" y="238" width="140" height="3" fill="#6b6b6b"/>
<rect x="690" y="247" width="140" height="3" fill="#6b6b6b"/>
<rect x="690" y="256" width="140" height="3" fill="#6b6b6b"/>
<rect x="690" y="265" width="140" height="3" fill="#6b6b6b"/>
<rect x="690" y="274" width="140" height="3" fill="#6b6b6b"/>
<rect x="690" y="283" width="140" height="3" fill="#6b6b6b"/>
<rect x="690" y="292" width="140" height="3" fill="#6b6b6b"/>
<rect x="830" y="28" width="173" height="100" fill="#9d9d9d"/>
<rect x="380" y="28" width="22" height="290" fill="#a8a8a8"/>
<rect x="815" y="28" width="18" height="70" fill="#555"/>
<polygon points="85,350 140,335 260,338 260,420 85,420" fill="#9c9c9c"/>
<ellipse cx="880" cy="300" rx="150" ry="190" fill="#343434"/>
<ellipse cx="790" cy="330" rx="80" ry="120" fill="#2c2c2c"/>
<ellipse cx="960" cy="180" rx="70" ry="90" fill="#3c3c3c"/>
<ellipse cx="900" cy="460" rx="110" ry="60" fill="#2a2a2a"/>
<polyline points="35,95 100,30" fill="none" stroke="#555" stroke-width="2.5"/>
<polyline points="35,140 300,160" fill="none" stroke="#555" stroke-width="2.5"/>
<polyline points="35,190 120,150" fill="none" stroke="#555" stroke-width="2.5"/>
<polyline points="35,270 370,120" fill="none" stroke="#555" stroke-width="2.5"/>
<polyline points="35,300 370,170" fill="none" stroke="#555" stroke-width="2.5"/>
<polyline points="35,330 370,215" fill="none" stroke="#555" stroke-width="2.5"/>
<polyline points="120,150 700,110" fill="none" stroke="#555" stroke-width="2.5"/>
<polyline points="35,230 260,200" fill="none" stroke="#555" stroke-width="2.5"/>
<polyline points="128,60 124,645" fill="none" stroke="#767676" stroke-width="20"/>
<polyline points="35,148 305,158" fill="none" stroke="#666" stroke-width="8"/>
<rect x="105" y="120" width="45" height="18" fill="#666"/>
<polyline points="612,40 612,300" fill="none" stroke="#a5a5a5" stroke-width="24"/>
<polyline points="222,250 222,340" fill="none" stroke="#777" stroke-width="8"/>
<polyline points="308,250 308,320" fill="none" stroke="#888" stroke-width="5"/>
<polyline points="245,202 348,206" fill="none" stroke="#2c2c2c" stroke-width="10"/>
<polyline points="305,215 340,270 312,332" fill="none" stroke="#2c2c2c" stroke-width="7"/>
<polygon points="890,540 1003,540 1003,648 890,645" fill="#a2a2a2"/>
<polygon points="860,490 1003,490 1003,540 860,540" fill="#3d3d3d"/>
<rect x="35" y="545" width="70" height="90" fill="#303030"/>
<polygon points="35,630 1003,650 1003,900 35,900" fill="#c3c3c3"/>
<polygon points="35,640 1003,660 1003,700 35,690" fill="#8e8e8e"/>
<polygon points="-20,700 35,700 90,745 30,745" fill="#f0f0f0"/>
<polygon points="95,700 150,700 205,745 145,745" fill="#f0f0f0"/>
<polygon points="210,700 265,700 320,745 260,745" fill="#f0f0f0"/>
<polygon points="325,700 380,700 435,745 375,745" fill="#f0f0f0"/>
<polygon points="440,700 495,700 550,745 490,745" fill="#f0f0f0"/>
<polygon points="555,700 610,700 665,745 605,745" fill="#f0f0f0"/>
<polygon points="670,700 725,700 780,745 720,745" fill="#f0f0f0"/>
<polygon points="785,700 840,700 895,745 835,745" fill="#f0f0f0"/>
<polygon points="900,700 955,700 1010,745 950,745" fill="#f0f0f0"/>
<polygon points="1015,700 1070,700 1125,745 1065,745" fill="#f0f0f0"/>
<polygon points="35,745 1003,750 1003,790 35,775" fill="#b0b0b0"/>
<polyline points="35,745 410,900" fill="none" stroke="#555" stroke-width="9"/>
<polyline points="290,755 730,900" fill="none" stroke="#555" stroke-width="9"/>
<polyline points="35,830 110,900" fill="none" stroke="#555" stroke-width="5"/>
<polyline points="600,690 1003,800" fill="none" stroke="#555" stroke-width="6"/>
<polyline points="700,690 1003,760" fill="none" stroke="#555" stroke-width="5"/>
<rect x="255" y="798" width="100" height="10" fill="#8a8a8a"/>
<polygon points="35,410 180,378 440,312 440,690 150,640 35,610" fill="#8f8f8f"/>
<polygon points="35,400 180,370 440,305 470,297 470,330 440,335 180,395 35,425" fill="#bdbdbd"/>
<polygon points="35,500 440,480 440,520 35,540" fill="#b8b8b8"/>
<rect x="45" y="445" width="14" height="60" fill="#3b3b3b"/>
<rect x="65" y="442" width="16" height="62" fill="#3b3b3b"/>
<rect x="90" y="440" width="14" height="64" fill="#3b3b3b"/>
<rect x="180" y="428" width="16" height="80" fill="#3b3b3b"/>
<rect x="210" y="420" width="18" height="90" fill="#3b3b3b"/>
<rect x="250" y="415" width="30" height="100" fill="#3b3b3b"/>
<rect x="350" y="398" width="16" height="72" fill="#3b3b3b"/>
<rect x="372" y="396" width="14" height="72" fill="#3b3b3b"/>
<rect x="290" y="405" width="40" height="70" fill="#a5a5a5"/>
<polyline points="126,330 124,645" fill="none" stroke="#767676" stroke-width="20"/>
<polygon points="440,312 470,297 690,300 718,328 730,480 732,690 440,692" fill="#6d6d6d"/>
<polygon points="470,297 690,300 712,322 455,318" fill="#9d9d9d"/>
<polygon points="515,352 708,352 712,475 518,475" fill="#474747"/>
<rect x="522" y="362" width="180" height="22" fill="#9f9f9f"/>
<polygon points="440,385 478,372 480,470 442,472" fill="#2f2f2f"/>
<ellipse cx="608" cy="335" rx="12" ry="12" fill="#ddd"/>
<ellipse cx="598" cy="302" rx="10" ry="10" fill="#222"/>
<rect x="565" y="490" width="92" height="200" fill="#2f2f2f"/>
<rect x="570" y="495" width="80" height="60" fill="#444"/>
<ellipse cx="620" cy="588" rx="12" ry="12" fill="#e5e5e5"/>
<rect x="590" y="640" width="72" height="42" fill="#d2d2d2"/>
<rect x="600" y="650" width="50" height="22" fill="#777"/>
<polygon points="440,680 732,680 720,700 450,700" fill="#222"/>
<polygon points="275,478 565,468 566,665 480,692 300,672" fill="#6c6c6c"/>
<polygon points="275,478 420,474 380,560 290,600" fill="#7d7d7d"/>
<polygon points="400,640 566,600 566,665 480,692" fill="#5a5a5a"/>
<ellipse cx="492" cy="568" rx="52" ry="56" fill="#1d1d1d"/>
<text x="452" y="612" font-size="95" font-weight="bold" fill="#ededed" textLength="78" lengthAdjust="spacingAndGlyphs" font-family="Liberation Sans">M</text>
<text x="298" y="590" font-size="38" font-style="italic" fill="#f0f0f0" textLength="125" lengthAdjust="spacingAndGlyphs" font-family="Liberation Sans">MORE</text>
<polygon points="655,492 855,485 850,678 700,672 660,642" fill="#727272"/>
<polygon points="655,492 760,488 700,560 655,580" fill="#858585"/>
<ellipse cx="708" cy="570" rx="34" ry="48" fill="#b0b0b0"/>
<rect x="694" y="548" width="28" height="50" fill="#888"/>
<text x="738" y="597" font-size="38" font-style="italic" fill="#f0f0f0" textLength="92" lengthAdjust="spacingAndGlyphs" font-family="Liberation Sans">EXPO</text>
<ellipse cx="128" cy="410" rx="22" ry="22" fill="#e6e6e6"/>
<ellipse cx="128" cy="410" rx="13" ry="13" fill="#555"/>
<rect x="104" y="455" width="46" height="56" fill="#e9e9e9"/>
<rect x="110" y="470" width="34" height="4" fill="#666"/>
<rect x="110" y="485" width="34" height="4" fill="#666"/>
<ellipse cx="208" cy="535" rx="11" ry="13" fill="#777"/>
<polygon points="186,550 232,548 236,612 188,612" fill="#dedede"/>
<polygon points="190,610 236,610 238,705 218,705 214,640 208,705 190,705" fill="#1f1f1f"/>
<ellipse cx="262" cy="530" rx="12" ry="14" fill="#444"/>
<polygon points="236,552 285,548 290,615 240,618" fill="#222"/>
<polygon points="240,615 288,612 290,705 268,705 264,640 258,705 240,705" fill="#1c1c1c"/>
<polygon points="255,560 290,568 288,582 252,575" fill="#d5d5d5"/>
<ellipse cx="898" cy="530" rx="12" ry="14" fill="#666"/>
<polygon points="875,548 920,548 924,625 878,625" fill="#262626"/>
<polygon points="852,520 866,516 890,556 876,566" fill="#dcdcdc"/>
<polygon points="855,560 905,552 907,566 857,574" fill="#d5d5d5"/>
<polygon points="850,575 878,575 880,710 850,710" fill="#2a2a2a"/>
<rect x="852" y="578" width="20" height="40" fill="#cfcfcf"/>
<polygon points="880,622 924,622 928,715 906,715 902,650 898,715 880,712" fill="#1d1d1d"/></svg>
<svg x="1663" y="443" width="188" height="169.6" viewBox="36 28 967 872" preserveAspectRatio="none" overflow="hidden"><rect x="36" y="28" width="967" height="872" fill="#8a8a8a"/>
<polygon points="36,28 390,28 390,140 36,230" fill="#ececec"/>
<polygon points="36,28 255,28 60,205 36,215" fill="#2f2f2f"/>
<polygon points="40,60 100,50 130,90 40,120" fill="#777"/>
<polygon points="40,130 95,105 105,130 40,160" fill="#6a6a6a"/>
<polyline points="36,215 255,28" fill="none" stroke="#cfcfcf" stroke-width="10"/>
<polygon points="150,130 390,125 390,205 150,215" fill="#a9a9a9"/>
<rect x="180" y="100" width="12" height="40" fill="#444"/>
<rect x="200" y="100" width="12" height="35" fill="#555"/>
<polygon points="388,28 640,28 560,80 388,135" fill="#eaeaea"/>
<polygon points="560,70 650,28 890,28 890,640 740,640 560,200" fill="#7b7b7b"/>
<rect x="715" y="28" width="95" height="55" fill="#e2e2e2"/>
<rect x="735" y="34" width="50" height="38" fill="#9a9a9a"/>
<polygon points="580,45 648,30 648,120 580,132" fill="#dedede"/>
<rect x="598" y="60" width="32" height="50" fill="#aaa"/>
<polygon points="485,98 535,90 535,150 485,155" fill="#d8d8d8"/>
<polygon points="410,130 448,120 448,180 410,185" fill="#d5d5d5"/>
<polyline points="548,80 552,200" fill="none" stroke="#b0b0b0" stroke-width="10"/>
<polyline points="740,215 890,190" fill="none" stroke="#666" stroke-width="4"/>
<polygon points="890,28 1003,28 1003,700 890,690" fill="#d7d7d7"/>
<rect x="890" y="90" width="113" height="10" fill="#9a9a9a"/>
<rect x="940" y="255" width="60" height="160" fill="#e9e9e9"/>
<rect x="890" y="190" width="113" height="40" fill="#bdbdbd"/>
<rect x="884" y="420" width="119" height="160" fill="#e4e4e4"/>
<rect x="884" y="580" width="119" height="110" fill="#6a6a6a"/>
<polygon points="740,460 850,460 850,640 740,640" fill="#6a6a6a"/>
<rect x="842" y="418" width="161" height="50" fill="#5a5a5a"/>
<polyline points="848,420 848,640" fill="none" stroke="#555" stroke-width="10"/>
<text x="912" y="455" font-size="26" font-weight="bold" fill="#e6e6e6" font-family="Liberation Sans">Pico</text>
<polygon points="735,640 1003,690 1003,900 620,900 700,760" fill="#9a9a9a"/>
<polyline points="735,632 1003,712" fill="none" stroke="#707070" stroke-width="9"/>
<polyline points="740,728 1003,830" fill="none" stroke="#707070" stroke-width="8"/>
<polyline points="838,665 838,845" fill="none" stroke="#707070" stroke-width="10"/>
<polyline points="888,680 888,890" fill="none" stroke="#707070" stroke-width="10"/>
<polyline points="992,705 992,880" fill="none" stroke="#707070" stroke-width="12"/>
<polygon points="36,545 60,545 320,900 36,900" fill="#bcbcbc"/>
<polygon points="36,720 110,900 36,900" fill="#555"/>
<polygon points="60,545 300,760 740,760 720,830 640,850 640,900 320,900" fill="#1a1a1a"/>
<polygon points="36,295 215,205 290,250 300,780 200,740 36,545" fill="#cfcfcf"/>
<polygon points="36,300 210,215 215,260 36,340" fill="#e6e6e6"/>
<polygon points="36,330 200,270 205,560 130,640 36,530" fill="#3c3c3c"/>
<polygon points="182,300 262,270 268,560 185,545" fill="#2a2a2a"/>
<polygon points="120,300 150,292 152,640 122,625" fill="#555"/>
<polygon points="185,600 300,640 300,675 188,632" fill="#707070"/>
<rect x="160" y="345" width="32" height="50" fill="#1c1c1c"/>
<path d="M250 240 Q255 205 300 203 L690 210 Q725 212 728 250 L742 760 Q742 785 715 786 L300 788 Q272 786 272 760 Z" fill="#eeeeee"/>
<path d="M275 262 Q278 238 305 238 L680 242 Q705 244 706 270 L722 610 Q722 625 705 626 L325 632 Q308 632 306 615 Z" fill="#2b2b2b"/>
<polygon points="285,250 690,252 700,305 288,300" fill="#a9a9a9"/>
<text x="318" y="292" font-size="40" fill="#d9d9d9" textLength="340" lengthAdjust="spacingAndGlyphs" font-family="Liberation Sans">LOS ANGELES</text>
<polygon points="290,300 700,305 706,395 296,395" fill="#6c6c6c"/>
<polygon points="298,395 706,395 718,600 312,610" fill="#858585"/>
<polygon points="330,400 420,398 420,560 340,565" fill="#a2a2a2"/>
<rect x="480" y="400" width="60" height="60" fill="#a0a0a0"/>
<polygon points="440,470 600,465 640,520 620,600 440,600 430,520" fill="#3a3a3a"/>
<polygon points="620,470 710,430 718,600 600,600" fill="#5a5a5a"/>
<polygon points="312,500 360,540 370,600 316,608" fill="#444"/>
<polyline points="360,580 580,590" fill="none" stroke="#222" stroke-width="5"/>
<polyline points="470,578 640,660" fill="none" stroke="#222" stroke-width="4"/>
<polygon points="306,630 722,625 724,705 310,722" fill="#1e1e1e"/>
<rect x="318" y="655" width="85" height="52" fill="#3a3a3a"/>
<rect x="345" y="668" width="30" height="24" fill="#bbb"/>
<rect x="645" y="650" width="72" height="48" fill="#3a3a3a"/>
<rect x="655" y="660" width="30" height="22" fill="#999"/>
<ellipse cx="538" cy="677" rx="30" ry="30" fill="#f2f2f2"/>
<text x="519" y="695" font-size="48" font-weight="bold" fill="#1a1a1a" textLength="38" lengthAdjust="spacingAndGlyphs" font-family="Liberation Sans">M</text>
<polyline points="285,745 735,738" fill="none" stroke="#bdbdbd" stroke-width="5"/>
<polyline points="285,762 738,755" fill="none" stroke="#c9c9c9" stroke-width="4"/>
<polygon points="660,786 742,770 735,810 700,835 670,815" fill="#111"/>
<rect x="470" y="815" width="165" height="85" fill="#4a4a4a"/>
<rect x="490" y="825" width="60" height="30" fill="#8a8a8a"/>
<rect x="560" y="822" width="50" height="28" fill="#777"/>
<polygon points="728,275 748,290 760,395 740,410 738,370" fill="#222"/>
<polygon points="430,190 450,150 520,145 540,195 540,207 430,205" fill="#d9d9d9"/>
<ellipse cx="487" cy="170" rx="20" ry="20" fill="#666"/>
<ellipse cx="487" cy="170" rx="11" ry="11" fill="#bbb"/>
<polyline points="300,230 700,236" fill="none" stroke="#fafafa" stroke-width="6"/></svg>
<svg x="1446.8" y="688.5" width="188" height="169.6" viewBox="35 28 968 877" preserveAspectRatio="none" overflow="hidden"><rect x="35" y="28" width="968" height="877" fill="#a6a6a6"/>
<polygon points="760,230 1003,230 1003,905 960,905" fill="#b4b4b4"/>
<polygon points="820,230 1003,230 1003,600" fill="#a0a0a0"/>
<polyline points="850,380 900,500" fill="none" stroke="#e6e6e6" stroke-width="5"/>
<polyline points="905,495 1003,440" fill="none" stroke="#e0e0e0" stroke-width="4"/>
<polyline points="930,630 1003,580" fill="none" stroke="#e0e0e0" stroke-width="4"/>
<rect x="35" y="400" width="800" height="10" fill="#8a8a8a" opacity="0.5"/>
<rect x="35" y="458" width="800" height="10" fill="#8a8a8a" opacity="0.5"/>
<rect x="35" y="516" width="800" height="10" fill="#8a8a8a" opacity="0.5"/>
<rect x="35" y="574" width="800" height="10" fill="#8a8a8a" opacity="0.5"/>
<rect x="35" y="632" width="800" height="10" fill="#8a8a8a" opacity="0.5"/>
<rect x="35" y="690" width="800" height="10" fill="#8a8a8a" opacity="0.5"/>
<rect x="35" y="748" width="800" height="10" fill="#8a8a8a" opacity="0.5"/>
<rect x="35" y="806" width="800" height="10" fill="#8a8a8a" opacity="0.5"/>
<rect x="35" y="864" width="800" height="10" fill="#8a8a8a" opacity="0.5"/>
<rect x="35" y="28" width="968" height="20" fill="#4a4a4a"/>
<rect x="35" y="48" width="560" height="30" fill="#cdcdcd"/>
<rect x="35" y="78" width="560" height="100" fill="#8a8a8a"/>
<rect x="340" y="78" width="250" height="30" fill="#6a6a6a"/>
<rect x="350" y="112" width="30" height="60" fill="#bdbdbd"/>
<rect x="385" y="112" width="20" height="55" fill="#aaa"/>
<polygon points="35,80 130,80 135,180 35,180" fill="#7a7a7a"/>
<polyline points="40,170 110,85" fill="none" stroke="#999" stroke-width="8"/>
<polyline points="128,80 128,360" fill="none" stroke="#8f8f8f" stroke-width="12"/>
<rect x="590" y="210" width="413" height="40" fill="#9a9a9a"/>
<path d="M150 200 Q300 240 250 300 L150 350" fill="none" stroke="#c4c4c4" stroke-width="14"/>
<rect x="46.7" y="186.8" width="34" height="23" rx="4.1" fill="#f2f2f2"/>
<rect x="50.1" y="181.7" width="27.2" height="14" rx="3.4" fill="#f2f2f2"/>
<rect x="52.5" y="184" width="22.4" height="8.4" fill="#2a2a2a"/>
<rect x="47.7" y="206.9" width="32" height="4.5" fill="#1e1e1e"/>
<rect x="101" y="190.3" width="34" height="23" rx="4.1" fill="#4a4a4a"/>
<rect x="104.4" y="185.3" width="27.2" height="14" rx="3.4" fill="#4a4a4a"/>
<rect x="106.8" y="187.5" width="22.4" height="8.4" fill="#2a2a2a"/>
<rect x="102" y="210.5" width="32" height="4.5" fill="#1e1e1e"/>
<rect x="148" y="186.2" width="34" height="23" rx="4.1" fill="#cfcfcf"/>
<rect x="151.4" y="181.1" width="27.2" height="14" rx="3.4" fill="#cfcfcf"/>
<rect x="153.8" y="183.4" width="22.4" height="8.4" fill="#2a2a2a"/>
<rect x="149" y="206.3" width="32" height="4.5" fill="#1e1e1e"/>
<rect x="199.8" y="183.7" width="34" height="23" rx="4.1" fill="#dcdcdc"/>
<rect x="203.2" y="178.6" width="27.2" height="14" rx="3.4" fill="#dcdcdc"/>
<rect x="205.6" y="180.9" width="22.4" height="8.4" fill="#2a2a2a"/>
<rect x="200.9" y="203.8" width="32" height="4.5" fill="#1e1e1e"/>
<rect x="266.2" y="190.7" width="34" height="23" rx="4.1" fill="#e9e9e9"/>
<rect x="269.6" y="185.7" width="27.2" height="14" rx="3.4" fill="#e9e9e9"/>
<rect x="272" y="187.9" width="22.4" height="8.4" fill="#2a2a2a"/>
<rect x="267.2" y="210.9" width="32" height="4.5" fill="#1e1e1e"/>
<rect x="322" y="184.8" width="34" height="23" rx="4.1" fill="#f2f2f2"/>
<rect x="325.4" y="179.8" width="27.2" height="14" rx="3.4" fill="#f2f2f2"/>
<rect x="327.8" y="182" width="22.4" height="8.4" fill="#2a2a2a"/>
<rect x="323" y="205" width="32" height="4.5" fill="#1e1e1e"/>
<rect x="377.9" y="187.4" width="34" height="23" rx="4.1" fill="#cfcfcf"/>
<rect x="381.3" y="182.4" width="27.2" height="14" rx="3.4" fill="#cfcfcf"/>
<rect x="383.7" y="184.6" width="22.4" height="8.4" fill="#2a2a2a"/>
<rect x="378.9" y="207.6" width="32" height="4.5" fill="#1e1e1e"/>
<rect x="431.3" y="190" width="34" height="23" rx="4.1" fill="#dcdcdc"/>
<rect x="434.7" y="185" width="27.2" height="14" rx="3.4" fill="#dcdcdc"/>
<rect x="437.1" y="187.2" width="22.4" height="8.4" fill="#2a2a2a"/>
<rect x="432.4" y="210.2" width="32" height="4.5" fill="#1e1e1e"/>
<rect x="470.3" y="182.3" width="34" height="23" rx="4.1" fill="#4a4a4a"/>
<rect x="473.7" y="177.3" width="27.2" height="14" rx="3.4" fill="#4a4a4a"/>
<rect x="476.1" y="179.5" width="22.4" height="8.4" fill="#2a2a2a"/>
<rect x="471.4" y="202.5" width="32" height="4.5" fill="#1e1e1e"/>
<rect x="539.3" y="189.4" width="34" height="23" rx="4.1" fill="#3a3a3a"/>
<rect x="542.7" y="184.3" width="27.2" height="14" rx="3.4" fill="#3a3a3a"/>
<rect x="545.1" y="186.6" width="22.4" height="8.4" fill="#2a2a2a"/>
<rect x="540.3" y="209.5" width="32" height="4.5" fill="#1e1e1e"/>
<rect x="589.2" y="190.1" width="34" height="23" rx="4.1" fill="#222"/>
<rect x="592.6" y="185.1" width="27.2" height="14" rx="3.4" fill="#222"/>
<rect x="595" y="187.3" width="22.4" height="8.4" fill="#2a2a2a"/>
<rect x="590.3" y="210.3" width="32" height="4.5" fill="#1e1e1e"/>
<rect x="637.9" y="183.6" width="34" height="23" rx="4.1" fill="#e9e9e9"/>
<rect x="641.3" y="178.5" width="27.2" height="14" rx="3.4" fill="#e9e9e9"/>
<rect x="643.7" y="180.8" width="22.4" height="8.4" fill="#2a2a2a"/>
<rect x="638.9" y="203.7" width="32" height="4.5" fill="#1e1e1e"/>
<rect x="703.8" y="185.5" width="34" height="23" rx="4.1" fill="#2e2e2e"/>
<rect x="707.2" y="180.5" width="27.2" height="14" rx="3.4" fill="#2e2e2e"/>
<rect x="709.6" y="182.7" width="22.4" height="8.4" fill="#2a2a2a"/>
<rect x="704.9" y="205.7" width="32" height="4.5" fill="#1e1e1e"/>
<rect x="751.2" y="186.7" width="34" height="23" rx="4.1" fill="#dcdcdc"/>
<rect x="754.6" y="181.6" width="27.2" height="14" rx="3.4" fill="#dcdcdc"/>
<rect x="757" y="183.9" width="22.4" height="8.4" fill="#2a2a2a"/>
<rect x="752.2" y="206.8" width="32" height="4.5" fill="#1e1e1e"/>
<rect x="51.6" y="212.5" width="39" height="26.2" rx="4.7" fill="#4a4a4a"/>
<rect x="55.5" y="206.8" width="31.2" height="16" rx="3.9" fill="#4a4a4a"/>
<rect x="58.2" y="209.3" width="25.7" height="9.6" fill="#2a2a2a"/>
<rect x="52.7" y="235.6" width="36.7" height="5.1" fill="#1e1e1e"/>
<rect x="104.3" y="209.1" width="39" height="26.2" rx="4.7" fill="#dcdcdc"/>
<rect x="108.2" y="203.4" width="31.2" height="16" rx="3.9" fill="#dcdcdc"/>
<rect x="111" y="205.9" width="25.7" height="9.6" fill="#2a2a2a"/>
<rect x="105.5" y="232.2" width="36.7" height="5.1" fill="#1e1e1e"/>
<rect x="159.5" y="218.9" width="39" height="26.2" rx="4.7" fill="#8a8a8a"/>
<rect x="163.4" y="213.2" width="31.2" height="16" rx="3.9" fill="#8a8a8a"/>
<rect x="166.1" y="215.7" width="25.7" height="9.6" fill="#2a2a2a"/>
<rect x="160.7" y="242" width="36.7" height="5.1" fill="#1e1e1e"/>
<rect x="208.2" y="209" width="39" height="26.2" rx="4.7" fill="#e9e9e9"/>
<rect x="212.1" y="203.2" width="31.2" height="16" rx="3.9" fill="#e9e9e9"/>
<rect x="214.9" y="205.8" width="25.7" height="9.6" fill="#2a2a2a"/>
<rect x="209.4" y="232" width="36.7" height="5.1" fill="#1e1e1e"/>
<rect x="271" y="219.9" width="39" height="26.2" rx="4.7" fill="#e9e9e9"/>
<rect x="274.9" y="214.1" width="31.2" height="16" rx="3.9" fill="#e9e9e9"/>
<rect x="277.6" y="216.7" width="25.7" height="9.6" fill="#2a2a2a"/>
<rect x="272.1" y="242.9" width="36.7" height="5.1" fill="#1e1e1e"/>
<rect x="336.9" y="220.5" width="39" height="26.2" rx="4.7" fill="#8a8a8a"/>
<rect x="340.8" y="214.8" width="31.2" height="16" rx="3.9" fill="#8a8a8a"/>
<rect x="343.6" y="217.3" width="25.7" height="9.6" fill="#2a2a2a"/>
<rect x="338.1" y="243.6" width="36.7" height="5.1" fill="#1e1e1e"/>
<rect x="393.9" y="215.6" width="39" height="26.2" rx="4.7" fill="#4a4a4a"/>
<rect x="397.8" y="209.8" width="31.2" height="16" rx="3.9" fill="#4a4a4a"/>
<rect x="400.6" y="212.4" width="25.7" height="9.6" fill="#2a2a2a"/>
<rect x="395.1" y="238.6" width="36.7" height="5.1" fill="#1e1e1e"/>
<rect x="462.9" y="212" width="39" height="26.2" rx="4.7" fill="#dcdcdc"/>
<rect x="466.8" y="206.2" width="31.2" height="16" rx="3.9" fill="#dcdcdc"/>
<rect x="469.5" y="208.8" width="25.7" height="9.6" fill="#2a2a2a"/>
<rect x="464" y="235" width="36.7" height="5.1" fill="#1e1e1e"/>
<rect x="507.7" y="208.9" width="39" height="26.2" rx="4.7" fill="#8a8a8a"/>
<rect x="511.6" y="203.2" width="31.2" height="16" rx="3.9" fill="#8a8a8a"/>
<rect x="514.3" y="205.7" width="25.7" height="9.6" fill="#2a2a2a"/>
<rect x="508.8" y="232" width="36.7" height="5.1" fill="#1e1e1e"/>
<rect x="579.2" y="210.2" width="39" height="26.2" rx="4.7" fill="#4a4a4a"/>
<rect x="583.1" y="204.4" width="31.2" height="16" rx="3.9" fill="#4a4a4a"/>
<rect x="585.8" y="207" width="25.7" height="9.6" fill="#2a2a2a"/>
<rect x="580.4" y="233.2" width="36.7" height="5.1" fill="#1e1e1e"/>
<rect x="636.2" y="208.9" width="39" height="26.2" rx="4.7" fill="#f2f2f2"/>
<rect x="640.1" y="203.1" width="31.2" height="16" rx="3.9" fill="#f2f2f2"/>
<rect x="642.8" y="205.7" width="25.7" height="9.6" fill="#2a2a2a"/>
<rect x="637.3" y="231.9" width="36.7" height="5.1" fill="#1e1e1e"/>
<rect x="697.3" y="210.9" width="39" height="26.2" rx="4.7" fill="#222"/>
<rect x="701.2" y="205.1" width="31.2" height="16" rx="3.9" fill="#222"/>
<rect x="703.9" y="207.7" width="25.7" height="9.6" fill="#2a2a2a"/>
<rect x="698.4" y="233.9" width="36.7" height="5.1" fill="#1e1e1e"/>
<rect x="737.9" y="214.9" width="39" height="26.2" rx="4.7" fill="#cfcfcf"/>
<rect x="741.8" y="209.1" width="31.2" height="16" rx="3.9" fill="#cfcfcf"/>
<rect x="744.6" y="211.7" width="25.7" height="9.6" fill="#2a2a2a"/>
<rect x="739.1" y="237.9" width="36.7" height="5.1" fill="#1e1e1e"/>
<rect x="40.4" y="242.1" width="44" height="29.5" rx="5.3" fill="#8a8a8a"/>
<rect x="44.8" y="235.6" width="35.2" height="18" rx="4.4" fill="#8a8a8a"/>
<rect x="47.9" y="238.5" width="29" height="10.8" fill="#2a2a2a"/>
<rect x="41.8" y="268" width="41.4" height="5.8" fill="#1e1e1e"/>
<rect x="103.8" y="240" width="44" height="29.5" rx="5.3" fill="#2e2e2e"/>
<rect x="108.2" y="233.6" width="35.2" height="18" rx="4.4" fill="#2e2e2e"/>
<rect x="111.3" y="236.4" width="29" height="10.8" fill="#2a2a2a"/>
<rect x="105.1" y="266" width="41.4" height="5.8" fill="#1e1e1e"/>
<rect x="181.2" y="249.2" width="44" height="29.5" rx="5.3" fill="#2e2e2e"/>
<rect x="185.6" y="242.7" width="35.2" height="18" rx="4.4" fill="#2e2e2e"/>
<rect x="188.7" y="245.6" width="29" height="10.8" fill="#2a2a2a"/>
<rect x="182.5" y="275.1" width="41.4" height="5.8" fill="#1e1e1e"/>
<rect x="248.8" y="237.7" width="44" height="29.5" rx="5.3" fill="#cfcfcf"/>
<rect x="253.2" y="231.2" width="35.2" height="18" rx="4.4" fill="#cfcfcf"/>
<rect x="256.2" y="234.1" width="29" height="10.8" fill="#2a2a2a"/>
<rect x="250.1" y="263.6" width="41.4" height="5.8" fill="#1e1e1e"/>
<rect x="293" y="247.7" width="44" height="29.5" rx="5.3" fill="#dcdcdc"/>
<rect x="297.4" y="241.3" width="35.2" height="18" rx="4.4" fill="#dcdcdc"/>
<rect x="300.5" y="244.1" width="29" height="10.8" fill="#2a2a2a"/>
<rect x="294.3" y="273.7" width="41.4" height="5.8" fill="#1e1e1e"/>
<rect x="345.2" y="239.2" width="44" height="29.5" rx="5.3" fill="#f2f2f2"/>
<rect x="349.6" y="232.8" width="35.2" height="18" rx="4.4" fill="#f2f2f2"/>
<rect x="352.6" y="235.6" width="29" height="10.8" fill="#2a2a2a"/>
<rect x="346.5" y="265.2" width="41.4" height="5.8" fill="#1e1e1e"/>
<rect x="415.3" y="246.8" width="44" height="29.5" rx="5.3" fill="#3a3a3a"/>
<rect x="419.7" y="240.3" width="35.2" height="18" rx="4.4" fill="#3a3a3a"/>
<rect x="422.8" y="243.2" width="29" height="10.8" fill="#2a2a2a"/>
<rect x="416.7" y="272.7" width="41.4" height="5.8" fill="#1e1e1e"/>
<rect x="496.8" y="242.1" width="44" height="29.5" rx="5.3" fill="#dcdcdc"/>
<rect x="501.2" y="235.6" width="35.2" height="18" rx="4.4" fill="#dcdcdc"/>
<rect x="504.3" y="238.5" width="29" height="10.8" fill="#2a2a2a"/>
<rect x="498.1" y="268" width="41.4" height="5.8" fill="#1e1e1e"/>
<rect x="536.7" y="244.5" width="44" height="29.5" rx="5.3" fill="#4a4a4a"/>
<rect x="541.1" y="238" width="35.2" height="18" rx="4.4" fill="#4a4a4a"/>
<rect x="544.2" y="240.9" width="29" height="10.8" fill="#2a2a2a"/>
<rect x="538" y="270.4" width="41.4" height="5.8" fill="#1e1e1e"/>
<rect x="672.2" y="244.9" width="44" height="29.5" rx="5.3" fill="#cfcfcf"/>
<rect x="676.6" y="238.5" width="35.2" height="18" rx="4.4" fill="#cfcfcf"/>
<rect x="679.7" y="241.3" width="29" height="10.8" fill="#2a2a2a"/>
<rect x="673.5" y="270.9" width="41.4" height="5.8" fill="#1e1e1e"/>
<rect x="754.2" y="243.3" width="44" height="29.5" rx="5.3" fill="#cfcfcf"/>
<rect x="758.6" y="236.8" width="35.2" height="18" rx="4.4" fill="#cfcfcf"/>
<rect x="761.7" y="239.7" width="29" height="10.8" fill="#2a2a2a"/>
<rect x="755.5" y="269.2" width="41.4" height="5.8" fill="#1e1e1e"/>
<rect x="53.2" y="268.4" width="49" height="32.8" rx="5.9" fill="#cfcfcf"/>
<rect x="58.1" y="261.2" width="39.2" height="20" rx="4.9" fill="#cfcfcf"/>
<rect x="61.5" y="264.4" width="32.3" height="12" fill="#2a2a2a"/>
<rect x="54.6" y="297.2" width="46.1" height="6.4" fill="#1e1e1e"/>
<rect x="103.1" y="268.9" width="49" height="32.8" rx="5.9" fill="#4a4a4a"/>
<rect x="108" y="261.7" width="39.2" height="20" rx="4.9" fill="#4a4a4a"/>
<rect x="111.4" y="264.9" width="32.3" height="12" fill="#2a2a2a"/>
<rect x="104.5" y="297.7" width="46.1" height="6.4" fill="#1e1e1e"/>
<rect x="186.5" y="268.1" width="49" height="32.8" rx="5.9" fill="#222"/>
<rect x="191.4" y="260.9" width="39.2" height="20" rx="4.9" fill="#222"/>
<rect x="194.8" y="264.1" width="32.3" height="12" fill="#2a2a2a"/>
<rect x="187.9" y="296.9" width="46.1" height="6.4" fill="#1e1e1e"/>
<rect x="237.3" y="277.6" width="49" height="32.8" rx="5.9" fill="#f2f2f2"/>
<rect x="242.2" y="270.4" width="39.2" height="20" rx="4.9" fill="#f2f2f2"/>
<rect x="245.6" y="273.6" width="32.3" height="12" fill="#2a2a2a"/>
<rect x="238.8" y="306.4" width="46.1" height="6.4" fill="#1e1e1e"/>
<rect x="320.4" y="271.3" width="49" height="32.8" rx="5.9" fill="#dcdcdc"/>
<rect x="325.3" y="264.1" width="39.2" height="20" rx="4.9" fill="#dcdcdc"/>
<rect x="328.8" y="267.3" width="32.3" height="12" fill="#2a2a2a"/>
<rect x="321.9" y="300.1" width="46.1" height="6.4" fill="#1e1e1e"/>
<rect x="372.4" y="272.3" width="49" height="32.8" rx="5.9" fill="#2e2e2e"/>
<rect x="377.3" y="265.1" width="39.2" height="20" rx="4.9" fill="#2e2e2e"/>
<rect x="380.8" y="268.3" width="32.3" height="12" fill="#2a2a2a"/>
<rect x="373.9" y="301.1" width="46.1" height="6.4" fill="#1e1e1e"/>
<rect x="446" y="274.7" width="49" height="32.8" rx="5.9" fill="#2e2e2e"/>
<rect x="450.9" y="267.5" width="39.2" height="20" rx="4.9" fill="#2e2e2e"/>
<rect x="454.3" y="270.7" width="32.3" height="12" fill="#2a2a2a"/>
<rect x="447.5" y="303.5" width="46.1" height="6.4" fill="#1e1e1e"/>
<rect x="521.4" y="277.1" width="49" height="32.8" rx="5.9" fill="#f2f2f2"/>
<rect x="526.3" y="269.9" width="39.2" height="20" rx="4.9" fill="#f2f2f2"/>
<rect x="529.7" y="273.1" width="32.3" height="12" fill="#2a2a2a"/>
<rect x="522.9" y="305.9" width="46.1" height="6.4" fill="#1e1e1e"/>
<rect x="739" y="267" width="49" height="32.8" rx="5.9" fill="#4a4a4a"/>
<rect x="743.9" y="259.8" width="39.2" height="20" rx="4.9" fill="#4a4a4a"/>
<rect x="747.4" y="263" width="32.3" height="12" fill="#2a2a2a"/>
<rect x="740.5" y="295.8" width="46.1" height="6.4" fill="#1e1e1e"/>
<rect x="37.2" y="302.8" width="54" height="36.1" rx="6.5" fill="#dcdcdc"/>
<rect x="42.6" y="294.8" width="43.2" height="22" rx="5.4" fill="#dcdcdc"/>
<rect x="46.4" y="298.4" width="35.6" height="13.2" fill="#2a2a2a"/>
<rect x="38.8" y="334.4" width="50.8" height="7" fill="#1e1e1e"/>
<rect x="105.6" y="305.9" width="54" height="36.1" rx="6.5" fill="#4a4a4a"/>
<rect x="111" y="298" width="43.2" height="22" rx="5.4" fill="#4a4a4a"/>
<rect x="114.8" y="301.5" width="35.6" height="13.2" fill="#2a2a2a"/>
<rect x="107.3" y="337.6" width="50.8" height="7" fill="#1e1e1e"/>
<rect x="199.5" y="295.7" width="54" height="36.1" rx="6.5" fill="#8a8a8a"/>
<rect x="204.9" y="287.8" width="43.2" height="22" rx="5.4" fill="#8a8a8a"/>
<rect x="208.6" y="291.3" width="35.6" height="13.2" fill="#2a2a2a"/>
<rect x="201.1" y="327.4" width="50.8" height="7" fill="#1e1e1e"/>
<rect x="263.9" y="295.6" width="54" height="36.1" rx="6.5" fill="#cfcfcf"/>
<rect x="269.3" y="287.7" width="43.2" height="22" rx="5.4" fill="#cfcfcf"/>
<rect x="273.1" y="291.2" width="35.6" height="13.2" fill="#2a2a2a"/>
<rect x="265.6" y="327.3" width="50.8" height="7" fill="#1e1e1e"/>
<rect x="333.7" y="301.3" width="54" height="36.1" rx="6.5" fill="#cfcfcf"/>
<rect x="339.1" y="293.4" width="43.2" height="22" rx="5.4" fill="#cfcfcf"/>
<rect x="342.9" y="296.9" width="35.6" height="13.2" fill="#2a2a2a"/>
<rect x="335.3" y="333" width="50.8" height="7" fill="#1e1e1e"/>
<rect x="402.5" y="296.6" width="54" height="36.1" rx="6.5" fill="#f2f2f2"/>
<rect x="407.9" y="288.7" width="43.2" height="22" rx="5.4" fill="#f2f2f2"/>
<rect x="411.7" y="292.2" width="35.6" height="13.2" fill="#2a2a2a"/>
<rect x="404.1" y="328.3" width="50.8" height="7" fill="#1e1e1e"/>
<rect x="512.3" y="302.8" width="54" height="36.1" rx="6.5" fill="#222"/>
<rect x="517.7" y="294.9" width="43.2" height="22" rx="5.4" fill="#222"/>
<rect x="521.4" y="298.4" width="35.6" height="13.2" fill="#2a2a2a"/>
<rect x="513.9" y="334.5" width="50.8" height="7" fill="#1e1e1e"/>
<rect x="704.3" y="295.1" width="54" height="36.1" rx="6.5" fill="#3a3a3a"/>
<rect x="709.7" y="287.2" width="43.2" height="22" rx="5.4" fill="#3a3a3a"/>
<rect x="713.5" y="290.7" width="35.6" height="13.2" fill="#2a2a2a"/>
<rect x="706" y="326.8" width="50.8" height="7" fill="#1e1e1e"/>
<rect x="44" y="335.2" width="59" height="39.4" rx="7.1" fill="#e9e9e9"/>
<rect x="49.9" y="326.6" width="47.2" height="24" rx="5.9" fill="#e9e9e9"/>
<rect x="54" y="330.4" width="38.9" height="14.4" fill="#2a2a2a"/>
<rect x="45.8" y="369.8" width="55.5" height="7.7" fill="#1e1e1e"/>
<rect x="124.1" y="324.5" width="59" height="39.4" rx="7.1" fill="#dcdcdc"/>
<rect x="130" y="315.9" width="47.2" height="24" rx="5.9" fill="#dcdcdc"/>
<rect x="134.1" y="319.7" width="38.9" height="14.4" fill="#2a2a2a"/>
<rect x="125.9" y="359.1" width="55.5" height="7.7" fill="#1e1e1e"/>
<rect x="214.1" y="327.5" width="59" height="39.4" rx="7.1" fill="#dcdcdc"/>
<rect x="220" y="318.8" width="47.2" height="24" rx="5.9" fill="#dcdcdc"/>
<rect x="224.2" y="322.7" width="38.9" height="14.4" fill="#2a2a2a"/>
<rect x="215.9" y="362" width="55.5" height="7.7" fill="#1e1e1e"/>
<rect x="270.9" y="330.2" width="59" height="39.4" rx="7.1" fill="#e9e9e9"/>
<rect x="276.8" y="321.6" width="47.2" height="24" rx="5.9" fill="#e9e9e9"/>
<rect x="280.9" y="325.4" width="38.9" height="14.4" fill="#2a2a2a"/>
<rect x="272.7" y="364.8" width="55.5" height="7.7" fill="#1e1e1e"/>
<rect x="390.2" y="332.5" width="59" height="39.4" rx="7.1" fill="#cfcfcf"/>
<rect x="396.1" y="323.8" width="47.2" height="24" rx="5.9" fill="#cfcfcf"/>
<rect x="400.2" y="327.7" width="38.9" height="14.4" fill="#2a2a2a"/>
<rect x="391.9" y="367" width="55.5" height="7.7" fill="#1e1e1e"/>
<rect x="470.1" y="334.6" width="59" height="39.4" rx="7.1" fill="#3a3a3a"/>
<rect x="476" y="326" width="47.2" height="24" rx="5.9" fill="#3a3a3a"/>
<rect x="480.1" y="329.8" width="38.9" height="14.4" fill="#2a2a2a"/>
<rect x="471.9" y="369.2" width="55.5" height="7.7" fill="#1e1e1e"/>
<rect x="524.6" y="329.3" width="59" height="39.4" rx="7.1" fill="#dcdcdc"/>
<rect x="530.5" y="320.7" width="47.2" height="24" rx="5.9" fill="#dcdcdc"/>
<rect x="534.7" y="324.5" width="38.9" height="14.4" fill="#2a2a2a"/>
<rect x="526.4" y="363.9" width="55.5" height="7.7" fill="#1e1e1e"/>
<rect x="707.6" y="333.1" width="59" height="39.4" rx="7.1" fill="#f2f2f2"/>
<rect x="713.5" y="324.5" width="47.2" height="24" rx="5.9" fill="#f2f2f2"/>
<rect x="717.6" y="328.3" width="38.9" height="14.4" fill="#2a2a2a"/>
<rect x="709.3" y="367.7" width="55.5" height="7.7" fill="#1e1e1e"/>
<rect x="36.5" y="359.9" width="64" height="42.6" rx="7.7" fill="#8a8a8a"/>
<rect x="42.9" y="350.5" width="51.2" height="26" rx="6.4" fill="#8a8a8a"/>
<rect x="47.3" y="354.7" width="42.2" height="15.6" fill="#2a2a2a"/>
<rect x="38.4" y="397.3" width="60.2" height="8.3" fill="#1e1e1e"/>
<rect x="122.3" y="352.5" width="64" height="42.6" rx="7.7" fill="#dcdcdc"/>
<rect x="128.7" y="343.1" width="51.2" height="26" rx="6.4" fill="#dcdcdc"/>
<rect x="133.1" y="347.3" width="42.2" height="15.6" fill="#2a2a2a"/>
<rect x="124.2" y="389.9" width="60.2" height="8.3" fill="#1e1e1e"/>
<rect x="203.1" y="360" width="64" height="42.6" rx="7.7" fill="#2e2e2e"/>
<rect x="209.5" y="350.7" width="51.2" height="26" rx="6.4" fill="#2e2e2e"/>
<rect x="213.9" y="354.8" width="42.2" height="15.6" fill="#2a2a2a"/>
<rect x="205" y="397.5" width="60.2" height="8.3" fill="#1e1e1e"/>
<rect x="336" y="361.1" width="64" height="42.6" rx="7.7" fill="#8a8a8a"/>
<rect x="342.4" y="351.7" width="51.2" height="26" rx="6.4" fill="#8a8a8a"/>
<rect x="346.9" y="355.9" width="42.2" height="15.6" fill="#2a2a2a"/>
<rect x="338" y="398.5" width="60.2" height="8.3" fill="#1e1e1e"/>
<rect x="433.6" y="360.7" width="64" height="42.6" rx="7.7" fill="#f2f2f2"/>
<rect x="440" y="351.3" width="51.2" height="26" rx="6.4" fill="#f2f2f2"/>
<rect x="444.5" y="355.5" width="42.2" height="15.6" fill="#2a2a2a"/>
<rect x="435.5" y="398.1" width="60.2" height="8.3" fill="#1e1e1e"/>
<rect x="505.2" y="362.4" width="64" height="42.6" rx="7.7" fill="#dcdcdc"/>
<rect x="511.6" y="353.1" width="51.2" height="26" rx="6.4" fill="#dcdcdc"/>
<rect x="516.1" y="357.2" width="42.2" height="15.6" fill="#2a2a2a"/>
<rect x="507.1" y="399.9" width="60.2" height="8.3" fill="#1e1e1e"/>
<rect x="603.9" y="358.5" width="64" height="42.6" rx="7.7" fill="#2e2e2e"/>
<rect x="610.3" y="349.2" width="51.2" height="26" rx="6.4" fill="#2e2e2e"/>
<rect x="614.8" y="353.3" width="42.2" height="15.6" fill="#2a2a2a"/>
<rect x="605.8" y="396" width="60.2" height="8.3" fill="#1e1e1e"/>
<rect x="702.8" y="358.1" width="64" height="42.6" rx="7.7" fill="#4a4a4a"/>
<rect x="709.2" y="348.8" width="51.2" height="26" rx="6.4" fill="#4a4a4a"/>
<rect x="713.7" y="352.9" width="42.2" height="15.6" fill="#2a2a2a"/>
<rect x="704.7" y="395.6" width="60.2" height="8.3" fill="#1e1e1e"/>
<rect x="705" y="202" width="40" height="20.5" rx="4.8" fill="#bbb"/>
<rect x="709" y="197.5" width="32" height="12.5" rx="4" fill="#bbb"/>
<rect x="711.8" y="199.5" width="26.4" height="7.5" fill="#2a2a2a"/>
<rect x="706.2" y="220" width="37.6" height="4" fill="#1e1e1e"/>
<rect x="682.5" y="242.2" width="45" height="32.8" rx="5.4" fill="#ddd"/>
<rect x="687" y="235" width="36" height="20" rx="4.5" fill="#ddd"/>
<rect x="690.1" y="238.2" width="29.7" height="12" fill="#2a2a2a"/>
<rect x="683.9" y="271" width="42.3" height="6.4" fill="#1e1e1e"/>
<rect x="684.3" y="255.8" width="5.4" height="4" fill="#888"/>
<rect x="720.3" y="255.8" width="5.4" height="4" fill="#888"/>
<rect x="699.6" y="259.8" width="10.8" height="4" fill="#bbb"/>
<rect x="680" y="273.8" width="40" height="28.7" rx="4.8" fill="#eee"/>
<rect x="684" y="267.5" width="32" height="17.5" rx="4" fill="#eee"/>
<rect x="686.8" y="270.3" width="26.4" height="10.5" fill="#2a2a2a"/>
<rect x="681.2" y="299" width="37.6" height="5.6" fill="#1e1e1e"/>
<rect x="728" y="274" width="60" height="41" rx="7.2" fill="#ddd"/>
<rect x="734" y="265" width="48" height="25" rx="6" fill="#ddd"/>
<rect x="738.2" y="269" width="39.6" height="15" fill="#2a2a2a"/>
<rect x="729.8" y="310" width="56.4" height="8" fill="#1e1e1e"/>
<rect x="730.4" y="291" width="7.2" height="5" fill="#888"/>
<rect x="778.4" y="291" width="7.2" height="5" fill="#888"/>
<rect x="750.8" y="296" width="14.4" height="5" fill="#bbb"/>
<rect x="730" y="310.6" width="60" height="36.9" rx="7.2" fill="#ccc"/>
<rect x="736" y="302.5" width="48" height="22.5" rx="6" fill="#ccc"/>
<rect x="740.2" y="306.1" width="39.6" height="13.5" fill="#2a2a2a"/>
<rect x="731.8" y="343" width="56.4" height="7.2" fill="#1e1e1e"/>
<rect x="732.4" y="325.9" width="7.2" height="4.5" fill="#888"/>
<rect x="780.4" y="325.9" width="7.2" height="4.5" fill="#888"/>
<rect x="752.8" y="330.4" width="14.4" height="4.5" fill="#bbb"/>
<rect x="240" y="330.8" width="60" height="49.2" rx="7.2" fill="#555"/>
<rect x="246" y="320" width="48" height="30" rx="6" fill="#555"/>
<rect x="250.2" y="324.8" width="39.6" height="18" fill="#2a2a2a"/>
<rect x="241.8" y="374" width="56.4" height="9.6" fill="#1e1e1e"/>
<rect x="242.4" y="351.2" width="7.2" height="6" fill="#888"/>
<rect x="290.4" y="351.2" width="7.2" height="6" fill="#888"/>
<rect x="262.8" y="357.2" width="14.4" height="6" fill="#bbb"/>
<rect x="330" y="332.6" width="80" height="57.4" rx="9.6" fill="#8a8a8a"/>
<rect x="338" y="320" width="64" height="35" rx="8" fill="#8a8a8a"/>
<rect x="343.6" y="325.6" width="52.8" height="21" fill="#2a2a2a"/>
<rect x="332.4" y="383" width="75.2" height="11.2" fill="#1e1e1e"/>
<rect x="333.2" y="356.4" width="9.6" height="7" fill="#888"/>
<rect x="397.2" y="356.4" width="9.6" height="7" fill="#888"/>
<rect x="360.4" y="363.4" width="19.2" height="7" fill="#bbb"/>
<rect x="200" y="338" width="70" height="61.5" rx="8.4" fill="#333"/>
<rect x="207" y="324.5" width="56" height="37.5" rx="7" fill="#333"/>
<rect x="211.9" y="330.5" width="46.2" height="22.5" fill="#2a2a2a"/>
<rect x="202.1" y="392" width="65.8" height="12" fill="#1e1e1e"/>
<rect x="202.8" y="363.5" width="8.4" height="7.5" fill="#888"/>
<rect x="258.8" y="363.5" width="8.4" height="7.5" fill="#888"/>
<rect x="226.6" y="371" width="16.8" height="7.5" fill="#bbb"/>
<rect x="465" y="341" width="80" height="61.5" rx="9.6" fill="#9c9c9c"/>
<rect x="473" y="327.5" width="64" height="37.5" rx="8" fill="#9c9c9c"/>
<rect x="478.6" y="333.5" width="52.8" height="22.5" fill="#2a2a2a"/>
<rect x="467.4" y="395" width="75.2" height="12" fill="#1e1e1e"/>
<rect x="468.2" y="366.5" width="9.6" height="7.5" fill="#888"/>
<rect x="532.2" y="366.5" width="9.6" height="7.5" fill="#888"/>
<rect x="495.4" y="374" width="19.2" height="7.5" fill="#bbb"/>
<rect x="742.5" y="367.4" width="85" height="45.1" rx="10.2" fill="#2e2e2e"/>
<rect x="751" y="357.5" width="68" height="27.5" rx="8.5" fill="#2e2e2e"/>
<rect x="757" y="361.9" width="56.1" height="16.5" fill="#2a2a2a"/>
<rect x="745" y="407" width="79.9" height="8.8" fill="#1e1e1e"/>
<rect x="745.9" y="386.1" width="10.2" height="5.5" fill="#888"/>
<rect x="813.9" y="386.1" width="10.2" height="5.5" fill="#888"/>
<rect x="774.8" y="391.6" width="20.4" height="5.5" fill="#bbb"/>
<rect x="572" y="357.6" width="80" height="57.4" rx="9.6" fill="#e4e4e4"/>
<rect x="580" y="345" width="64" height="35" rx="8" fill="#e4e4e4"/>
<rect x="585.6" y="350.6" width="52.8" height="21" fill="#2a2a2a"/>
<rect x="574.4" y="408" width="75.2" height="11.2" fill="#1e1e1e"/>
<rect x="575.2" y="381.4" width="9.6" height="7" fill="#888"/>
<rect x="639.2" y="381.4" width="9.6" height="7" fill="#888"/>
<rect x="602.4" y="388.4" width="19.2" height="7" fill="#bbb"/>
<rect x="250" y="389" width="80" height="41" rx="9.6" fill="#dedede"/>
<rect x="258" y="380" width="64" height="25" rx="8" fill="#dedede"/>
<rect x="263.6" y="384" width="52.8" height="15" fill="#2a2a2a"/>
<rect x="252.4" y="425" width="75.2" height="8" fill="#1e1e1e"/>
<rect x="253.2" y="406" width="9.6" height="5" fill="#888"/>
<rect x="317.2" y="406" width="9.6" height="5" fill="#888"/>
<rect x="280.4" y="411" width="19.2" height="5" fill="#bbb"/>
<rect x="397.5" y="385.8" width="85" height="49.2" rx="10.2" fill="#ececec"/>
<rect x="406" y="375" width="68" height="30" rx="8.5" fill="#ececec"/>
<rect x="411.9" y="379.8" width="56.1" height="18" fill="#2a2a2a"/>
<rect x="400.1" y="429" width="79.9" height="9.6" fill="#1e1e1e"/>
<rect x="400.9" y="406.2" width="10.2" height="6" fill="#888"/>
<rect x="468.9" y="406.2" width="10.2" height="6" fill="#888"/>
<rect x="429.8" y="412.2" width="20.4" height="6" fill="#bbb"/>
<rect x="737.5" y="394" width="85" height="41" rx="10.2" fill="#e5e5e5"/>
<rect x="746" y="385" width="68" height="25" rx="8.5" fill="#e5e5e5"/>
<rect x="752" y="389" width="56.1" height="15" fill="#2a2a2a"/>
<rect x="740" y="430" width="79.9" height="8" fill="#1e1e1e"/>
<rect x="740.9" y="411" width="10.2" height="5" fill="#888"/>
<rect x="808.9" y="411" width="10.2" height="5" fill="#888"/>
<rect x="769.8" y="416" width="20.4" height="5" fill="#bbb"/>
<rect x="112.5" y="376" width="75" height="61.5" rx="9" fill="#444"/>
<rect x="120" y="362.5" width="60" height="37.5" rx="7.5" fill="#444"/>
<rect x="125.2" y="368.5" width="49.5" height="22.5" fill="#2a2a2a"/>
<rect x="114.8" y="430" width="70.5" height="12" fill="#1e1e1e"/>
<rect x="115.5" y="401.5" width="9" height="7.5" fill="#888"/>
<rect x="175.5" y="401.5" width="9" height="7.5" fill="#888"/>
<rect x="141" y="409" width="18" height="7.5" fill="#bbb"/>
<rect x="574.5" y="404" width="75" height="41" rx="9" fill="#444"/>
<rect x="582" y="395" width="60" height="25" rx="7.5" fill="#444"/>
<rect x="587.2" y="399" width="49.5" height="15" fill="#2a2a2a"/>
<rect x="576.8" y="440" width="70.5" height="8" fill="#1e1e1e"/>
<rect x="577.5" y="421" width="9" height="5" fill="#888"/>
<rect x="637.5" y="421" width="9" height="5" fill="#888"/>
<rect x="603" y="426" width="18" height="5" fill="#bbb"/>
<rect x="262.5" y="411" width="75" height="61.5" rx="9" fill="#a9a9a9"/>
<rect x="270" y="397.5" width="60" height="37.5" rx="7.5" fill="#a9a9a9"/>
<rect x="275.2" y="403.5" width="49.5" height="22.5" fill="#2a2a2a"/>
<rect x="264.8" y="465" width="70.5" height="12" fill="#1e1e1e"/>
<rect x="265.5" y="436.5" width="9" height="7.5" fill="#888"/>
<rect x="325.5" y="436.5" width="9" height="7.5" fill="#888"/>
<rect x="291" y="444" width="18" height="7.5" fill="#bbb"/>
<rect x="75" y="417.6" width="60" height="57.4" rx="7.2" fill="#3a3a3a"/>
<rect x="81" y="405" width="48" height="35" rx="6" fill="#3a3a3a"/>
<rect x="85.2" y="410.6" width="39.6" height="21" fill="#2a2a2a"/>
<rect x="76.8" y="468" width="56.4" height="11.2" fill="#1e1e1e"/>
<rect x="77.4" y="441.4" width="7.2" height="7" fill="#888"/>
<rect x="125.4" y="441.4" width="7.2" height="7" fill="#888"/>
<rect x="97.8" y="448.4" width="14.4" height="7" fill="#bbb"/>
<rect x="727.5" y="424.6" width="105" height="77.9" rx="12.6" fill="#2b2b2b"/>
<rect x="738" y="407.5" width="84" height="47.5" rx="10.5" fill="#2b2b2b"/>
<rect x="745.4" y="415.1" width="69.3" height="28.5" fill="#2a2a2a"/>
<rect x="730.6" y="493" width="98.7" height="15.2" fill="#1e1e1e"/>
<rect x="731.7" y="456.9" width="12.6" height="9.5" fill="#888"/>
<rect x="815.7" y="456.9" width="12.6" height="9.5" fill="#888"/>
<rect x="767.4" y="466.4" width="25.2" height="9.5" fill="#bbb"/>
<rect x="30" y="442.8" width="70" height="69.7" rx="8.4" fill="#bdbdbd"/>
<rect x="37" y="427.5" width="56" height="42.5" rx="7" fill="#bdbdbd"/>
<rect x="41.9" y="434.3" width="46.2" height="25.5" fill="#2a2a2a"/>
<rect x="32.1" y="504" width="65.8" height="13.6" fill="#1e1e1e"/>
<rect x="32.8" y="471.7" width="8.4" height="8.5" fill="#888"/>
<rect x="88.8" y="471.7" width="8.4" height="8.5" fill="#888"/>
<rect x="56.6" y="480.2" width="16.8" height="8.5" fill="#bbb"/>
<rect x="745" y="484" width="90" height="41" rx="10.8" fill="#d0d0d0"/>
<rect x="754" y="475" width="72" height="25" rx="9" fill="#d0d0d0"/>
<rect x="760.3" y="479" width="59.4" height="15" fill="#2a2a2a"/>
<rect x="747.7" y="520" width="84.6" height="8" fill="#1e1e1e"/>
<rect x="748.6" y="501" width="10.8" height="5" fill="#888"/>
<rect x="820.6" y="501" width="10.8" height="5" fill="#888"/>
<rect x="779.2" y="506" width="21.6" height="5" fill="#bbb"/>
<rect x="187.5" y="447.6" width="95" height="77.9" rx="11.4" fill="#cfcfcf"/>
<rect x="197" y="430.5" width="76" height="47.5" rx="9.5" fill="#cfcfcf"/>
<rect x="203.7" y="438.1" width="62.7" height="28.5" fill="#2a2a2a"/>
<rect x="190.3" y="516" width="89.3" height="15.2" fill="#1e1e1e"/>
<rect x="191.3" y="479.9" width="11.4" height="9.5" fill="#888"/>
<rect x="267.3" y="479.9" width="11.4" height="9.5" fill="#888"/>
<rect x="223.6" y="489.4" width="22.8" height="9.5" fill="#bbb"/>
<rect x="360" y="436.8" width="110" height="90.2" rx="13.2" fill="#2d2d2d"/>
<rect x="371" y="417" width="88" height="55" rx="11" fill="#2d2d2d"/>
<rect x="378.7" y="425.8" width="72.6" height="33" fill="#2a2a2a"/>
<rect x="363.3" y="516" width="103.4" height="17.6" fill="#1e1e1e"/>
<rect x="364.4" y="474.2" width="13.2" height="11" fill="#888"/>
<rect x="452.4" y="474.2" width="13.2" height="11" fill="#888"/>
<rect x="401.8" y="485.2" width="26.4" height="11" fill="#bbb"/>
<rect x="132.5" y="485.8" width="95" height="49.2" rx="11.4" fill="#d5d5d5"/>
<rect x="142" y="475" width="76" height="30" rx="9.5" fill="#d5d5d5"/>
<rect x="148.7" y="479.8" width="62.7" height="18" fill="#2a2a2a"/>
<rect x="135.3" y="529" width="89.3" height="9.6" fill="#1e1e1e"/>
<rect x="136.3" y="506.2" width="11.4" height="6" fill="#888"/>
<rect x="212.3" y="506.2" width="11.4" height="6" fill="#888"/>
<rect x="168.6" y="512.2" width="22.8" height="6" fill="#bbb"/>
<rect x="305" y="497.8" width="110" height="69.7" rx="13.2" fill="#777"/>
<rect x="316" y="482.5" width="88" height="42.5" rx="11" fill="#777"/>
<rect x="323.7" y="489.3" width="72.6" height="25.5" fill="#2a2a2a"/>
<rect x="308.3" y="559" width="103.4" height="13.6" fill="#1e1e1e"/>
<rect x="309.4" y="526.7" width="13.2" height="8.5" fill="#888"/>
<rect x="397.4" y="526.7" width="13.2" height="8.5" fill="#888"/>
<rect x="346.8" y="535.2" width="26.4" height="8.5" fill="#bbb"/>
<rect x="715" y="526.2" width="50" height="73.8" rx="6" fill="#333"/>
<rect x="720" y="510" width="40" height="45" rx="5" fill="#333"/>
<rect x="723.5" y="517.2" width="33" height="27" fill="#2a2a2a"/>
<rect x="716.5" y="591" width="47" height="14.4" fill="#1e1e1e"/>
<rect x="717" y="556.8" width="6" height="9" fill="#888"/>
<rect x="757" y="556.8" width="6" height="9" fill="#888"/>
<rect x="734" y="565.8" width="12" height="9" fill="#bbb"/>
<rect x="142.5" y="537.8" width="95" height="69.7" rx="11.4" fill="#2f2f2f"/>
<rect x="152" y="522.5" width="76" height="42.5" rx="9.5" fill="#2f2f2f"/>
<rect x="158.7" y="529.3" width="62.7" height="25.5" fill="#2a2a2a"/>
<rect x="145.3" y="599" width="89.3" height="13.6" fill="#1e1e1e"/>
<rect x="146.3" y="566.7" width="11.4" height="8.5" fill="#888"/>
<rect x="222.3" y="566.7" width="11.4" height="8.5" fill="#888"/>
<rect x="178.6" y="575.2" width="22.8" height="8.5" fill="#bbb"/>
<rect x="755" y="511.8" width="140" height="110.7" rx="16.8" fill="#ececec"/>
<rect x="769" y="487.5" width="112" height="67.5" rx="14" fill="#ececec"/>
<rect x="778.8" y="498.3" width="92.4" height="40.5" fill="#2a2a2a"/>
<rect x="759.2" y="609" width="131.6" height="21.6" fill="#1e1e1e"/>
<rect x="760.6" y="557.7" width="16.8" height="13.5" fill="#888"/>
<rect x="872.6" y="557.7" width="16.8" height="13.5" fill="#888"/>
<rect x="808.2" y="571.2" width="33.6" height="13.5" fill="#bbb"/>
<rect x="87.5" y="554.6" width="85" height="77.9" rx="10.2" fill="#999"/>
<rect x="96" y="537.5" width="68" height="47.5" rx="8.5" fill="#999"/>
<rect x="102" y="545.1" width="56.1" height="28.5" fill="#2a2a2a"/>
<rect x="90" y="623" width="79.9" height="15.2" fill="#1e1e1e"/>
<rect x="90.9" y="586.9" width="10.2" height="9.5" fill="#888"/>
<rect x="158.9" y="586.9" width="10.2" height="9.5" fill="#888"/>
<rect x="119.8" y="596.4" width="20.4" height="9.5" fill="#bbb"/>
<rect x="292.5" y="554.6" width="115" height="77.9" rx="13.8" fill="#333"/>
<rect x="304" y="537.5" width="92" height="47.5" rx="11.5" fill="#333"/>
<rect x="312.1" y="545.1" width="75.9" height="28.5" fill="#2a2a2a"/>
<rect x="295.9" y="623" width="108.1" height="15.2" fill="#1e1e1e"/>
<rect x="297.1" y="586.9" width="13.8" height="9.5" fill="#888"/>
<rect x="389.1" y="586.9" width="13.8" height="9.5" fill="#888"/>
<rect x="336.2" y="596.4" width="27.6" height="9.5" fill="#bbb"/>
<rect x="515" y="562.8" width="110" height="69.7" rx="13.2" fill="#d9d9d9"/>
<rect x="526" y="547.5" width="88" height="42.5" rx="11" fill="#d9d9d9"/>
<rect x="533.7" y="554.3" width="72.6" height="25.5" fill="#2a2a2a"/>
<rect x="518.3" y="624" width="103.4" height="13.6" fill="#1e1e1e"/>
<rect x="519.4" y="591.7" width="13.2" height="8.5" fill="#888"/>
<rect x="607.4" y="591.7" width="13.2" height="8.5" fill="#888"/>
<rect x="556.8" y="600.2" width="26.4" height="8.5" fill="#bbb"/>
<rect x="485" y="602.6" width="120" height="57.4" rx="14.4" fill="#e2e2e2"/>
<rect x="497" y="590" width="96" height="35" rx="12" fill="#e2e2e2"/>
<rect x="505.4" y="595.6" width="79.2" height="21" fill="#2a2a2a"/>
<rect x="488.6" y="653" width="112.8" height="11.2" fill="#1e1e1e"/>
<rect x="489.8" y="626.4" width="14.4" height="7" fill="#888"/>
<rect x="585.8" y="626.4" width="14.4" height="7" fill="#888"/>
<rect x="530.6" y="633.4" width="28.8" height="7" fill="#bbb"/>
<rect x="802.5" y="589.6" width="125" height="77.9" rx="15" fill="#2d2d2d"/>
<rect x="815" y="572.5" width="100" height="47.5" rx="12.5" fill="#2d2d2d"/>
<rect x="823.8" y="580.1" width="82.5" height="28.5" fill="#2a2a2a"/>
<rect x="806.2" y="658" width="117.5" height="15.2" fill="#1e1e1e"/>
<rect x="807.5" y="621.9" width="15" height="9.5" fill="#888"/>
<rect x="907.5" y="621.9" width="15" height="9.5" fill="#888"/>
<rect x="850" y="631.4" width="30" height="9.5" fill="#bbb"/>
<rect x="785" y="642.4" width="120" height="45.1" rx="14.4" fill="#cfcfcf"/>
<rect x="797" y="632.5" width="96" height="27.5" rx="12" fill="#cfcfcf"/>
<rect x="805.4" y="636.9" width="79.2" height="16.5" fill="#2a2a2a"/>
<rect x="788.6" y="682" width="112.8" height="8.8" fill="#1e1e1e"/>
<rect x="789.8" y="661.1" width="14.4" height="5.5" fill="#888"/>
<rect x="885.8" y="661.1" width="14.4" height="5.5" fill="#888"/>
<rect x="830.6" y="666.6" width="28.8" height="5.5" fill="#bbb"/>
<rect x="30.5" y="581.8" width="95" height="110.7" rx="11.4" fill="#232323"/>
<rect x="40" y="557.5" width="76" height="67.5" rx="9.5" fill="#232323"/>
<rect x="46.7" y="568.3" width="62.7" height="40.5" fill="#2a2a2a"/>
<rect x="33.4" y="679" width="89.3" height="21.6" fill="#1e1e1e"/>
<rect x="34.3" y="627.7" width="11.4" height="13.5" fill="#888"/>
<rect x="110.3" y="627.7" width="11.4" height="13.5" fill="#888"/>
<rect x="66.6" y="641.2" width="22.8" height="13.5" fill="#bbb"/>
<rect x="222.5" y="605" width="145" height="102.5" rx="17.4" fill="#e6e6e6"/>
<rect x="237" y="582.5" width="116" height="62.5" rx="14.5" fill="#e6e6e6"/>
<rect x="247.2" y="592.5" width="95.7" height="37.5" fill="#2a2a2a"/>
<rect x="226.8" y="695" width="136.3" height="20" fill="#1e1e1e"/>
<rect x="228.3" y="647.5" width="17.4" height="12.5" fill="#888"/>
<rect x="344.3" y="647.5" width="17.4" height="12.5" fill="#888"/>
<rect x="277.6" y="660" width="34.8" height="12.5" fill="#bbb"/>
<rect x="475" y="639.2" width="140" height="73.8" rx="16.8" fill="#c9c9c9"/>
<rect x="489" y="623" width="112" height="45" rx="14" fill="#c9c9c9"/>
<rect x="498.8" y="630.2" width="92.4" height="27" fill="#2a2a2a"/>
<rect x="479.2" y="704" width="131.6" height="14.4" fill="#1e1e1e"/>
<rect x="480.6" y="669.8" width="16.8" height="9" fill="#888"/>
<rect x="592.6" y="669.8" width="16.8" height="9" fill="#888"/>
<rect x="528.2" y="678.8" width="33.6" height="9" fill="#bbb"/>
<rect x="795" y="669.6" width="150" height="77.9" rx="18" fill="#3a3a3a"/>
<rect x="810" y="652.5" width="120" height="47.5" rx="15" fill="#3a3a3a"/>
<rect x="820.5" y="660.1" width="99" height="28.5" fill="#2a2a2a"/>
<rect x="799.5" y="738" width="141" height="15.2" fill="#1e1e1e"/>
<rect x="801" y="701.9" width="18" height="9.5" fill="#888"/>
<rect x="921" y="701.9" width="18" height="9.5" fill="#888"/>
<rect x="852" y="711.4" width="36" height="9.5" fill="#bbb"/>
<rect x="30" y="669.8" width="50" height="90.2" rx="6" fill="#e0e0e0"/>
<rect x="35" y="650" width="40" height="55" rx="5" fill="#e0e0e0"/>
<rect x="38.5" y="658.8" width="33" height="33" fill="#2a2a2a"/>
<rect x="31.5" y="749" width="47" height="17.6" fill="#1e1e1e"/>
<rect x="32" y="707.2" width="6" height="11" fill="#888"/>
<rect x="72" y="707.2" width="6" height="11" fill="#888"/>
<rect x="49" y="718.2" width="12" height="11" fill="#bbb"/>
<rect x="180" y="730" width="150" height="102.5" rx="18" fill="#cfcfcf"/>
<rect x="195" y="707.5" width="120" height="62.5" rx="15" fill="#cfcfcf"/>
<rect x="205.5" y="717.5" width="99" height="37.5" fill="#2a2a2a"/>
<rect x="184.5" y="820" width="141" height="20" fill="#1e1e1e"/>
<rect x="186" y="772.5" width="18" height="12.5" fill="#888"/>
<rect x="306" y="772.5" width="18" height="12.5" fill="#888"/>
<rect x="237" y="785" width="36" height="12.5" fill="#bbb"/>
<rect x="795" y="728.6" width="170" height="118.9" rx="20.4" fill="#c9c9c9"/>
<rect x="812" y="702.5" width="136" height="72.5" rx="17" fill="#c9c9c9"/>
<rect x="823.9" y="714.1" width="112.2" height="43.5" fill="#2a2a2a"/>
<rect x="800.1" y="833" width="159.8" height="23.2" fill="#1e1e1e"/>
<rect x="801.8" y="777.9" width="20.4" height="14.5" fill="#888"/>
<rect x="937.8" y="777.9" width="20.4" height="14.5" fill="#888"/>
<rect x="859.6" y="792.4" width="40.8" height="14.5" fill="#bbb"/>
<rect x="855" y="816.2" width="150" height="73.8" rx="18" fill="#aaa"/>
<rect x="870" y="800" width="120" height="45" rx="15" fill="#aaa"/>
<rect x="880.5" y="807.2" width="99" height="27" fill="#2a2a2a"/>
<rect x="859.5" y="881" width="141" height="14.4" fill="#1e1e1e"/>
<rect x="861" y="846.8" width="18" height="9" fill="#888"/>
<rect x="981" y="846.8" width="18" height="9" fill="#888"/>
<rect x="912" y="855.8" width="36" height="9" fill="#bbb"/>
<rect x="470" y="809.8" width="180" height="90.2" rx="21.6" fill="#bdbdbd"/>
<rect x="488" y="790" width="144" height="55" rx="18" fill="#bdbdbd"/>
<rect x="500.6" y="798.8" width="118.8" height="33" fill="#2a2a2a"/>
<rect x="475.4" y="889" width="169.2" height="17.6" fill="#1e1e1e"/>
<rect x="477.2" y="847.2" width="21.6" height="11" fill="#888"/>
<rect x="621.2" y="847.2" width="21.6" height="11" fill="#888"/>
<rect x="538.4" y="858.2" width="43.2" height="11" fill="#bbb"/>
<rect x="112.5" y="791.8" width="185" height="110.7" rx="22.2" fill="#2a2a2a"/>
<rect x="131" y="767.5" width="148" height="67.5" rx="18.5" fill="#2a2a2a"/>
<rect x="143.9" y="778.3" width="122.1" height="40.5" fill="#2a2a2a"/>
<rect x="118" y="889" width="173.9" height="21.6" fill="#1e1e1e"/>
<rect x="119.9" y="837.7" width="22.2" height="13.5" fill="#888"/>
<rect x="267.9" y="837.7" width="22.2" height="13.5" fill="#888"/>
<rect x="182.8" y="851.2" width="44.4" height="13.5" fill="#bbb"/>
<rect x="880" y="882.2" width="130" height="32.8" rx="15.6" fill="#e0e0e0"/>
<rect x="893" y="875" width="104" height="20" rx="13" fill="#e0e0e0"/>
<rect x="902.1" y="878.2" width="85.8" height="12" fill="#2a2a2a"/>
<rect x="883.9" y="911" width="122.2" height="6.4" fill="#1e1e1e"/>
<rect x="885.2" y="895.8" width="15.6" height="4" fill="#888"/>
<rect x="989.2" y="895.8" width="15.6" height="4" fill="#888"/>
<rect x="929.4" y="899.8" width="31.2" height="4" fill="#bbb"/>
<rect x="475" y="874" width="160" height="41" rx="19.2" fill="#ececec"/>
<rect x="491" y="865" width="128" height="25" rx="16" fill="#ececec"/>
<rect x="502.2" y="869" width="105.6" height="15" fill="#2a2a2a"/>
<rect x="479.8" y="910" width="150.4" height="8" fill="#1e1e1e"/>
<rect x="481.4" y="891" width="19.2" height="5" fill="#888"/>
<rect x="609.4" y="891" width="19.2" height="5" fill="#888"/>
<rect x="535.8" y="896" width="38.4" height="5" fill="#bbb"/>
<rect x="105" y="885.2" width="170" height="32.8" rx="20.4" fill="#ddd"/>
<rect x="122" y="878" width="136" height="20" rx="17" fill="#ddd"/>
<rect x="133.9" y="881.2" width="112.2" height="12" fill="#2a2a2a"/>
<rect x="110.1" y="914" width="159.8" height="6.4" fill="#1e1e1e"/>
<rect x="111.8" y="898.8" width="20.4" height="4" fill="#888"/>
<rect x="247.8" y="898.8" width="20.4" height="4" fill="#888"/>
<rect x="169.6" y="902.8" width="40.8" height="4" fill="#bbb"/>
<rect x="575" y="235" width="105" height="125" fill="#bdbdbd"/>
<rect x="575" y="225" width="105" height="14" fill="#dedede"/>
<rect x="590" y="355" width="80" height="25" fill="#333"/>
<rect x="510" y="410" width="145" height="70" fill="#3c3c3c"/>
<rect x="498" y="465" width="165" height="95" fill="#353535"/>
<rect x="500" y="555" width="160" height="45" fill="#1f1f1f"/>
<rect x="505" y="470" width="4" height="85" fill="#6a6a6a"/>
<rect x="527" y="470" width="4" height="85" fill="#6a6a6a"/>
<rect x="549" y="470" width="4" height="85" fill="#6a6a6a"/>
<rect x="571" y="470" width="4" height="85" fill="#6a6a6a"/>
<rect x="593" y="470" width="4" height="85" fill="#6a6a6a"/>
<rect x="615" y="470" width="4" height="85" fill="#6a6a6a"/>
<rect x="637" y="470" width="4" height="85" fill="#6a6a6a"/>
<rect x="659" y="470" width="4" height="85" fill="#6a6a6a"/>
<rect x="498" y="490" width="165" height="5" fill="#6a6a6a"/>
<rect x="498" y="520" width="165" height="5" fill="#666"/>
<rect x="575" y="418" width="70" height="40" fill="#4d4d4d"/>
<rect x="455" y="705" width="195" height="120" fill="#6f6f6f"/>
<rect x="470" y="690" width="150" height="40" fill="#8a8a8a"/>
<rect x="455" y="820" width="195" height="25" fill="#1c1c1c"/>
<rect x="465" y="710" width="4" height="100" fill="#a5a5a5"/>
<rect x="495" y="710" width="4" height="100" fill="#a5a5a5"/>
<rect x="525" y="710" width="4" height="100" fill="#a5a5a5"/>
<rect x="555" y="710" width="4" height="100" fill="#a5a5a5"/>
<rect x="585" y="710" width="4" height="100" fill="#a5a5a5"/>
<rect x="615" y="710" width="4" height="100" fill="#a5a5a5"/>
<rect x="645" y="710" width="4" height="100" fill="#a5a5a5"/>
<rect x="455" y="760" width="195" height="5" fill="#a5a5a5"/>
<rect x="775" y="512" width="45" height="35" fill="#222"/>
<rect x="832" y="512" width="45" height="35" fill="#222"/>
<ellipse cx="900" cy="782" rx="32" ry="28" fill="#dcdcdc"/>
<rect x="590" y="45" width="405" height="168" fill="#1f1f1f"/>
<rect x="594" y="49" width="397" height="160" fill="none" stroke="#cfcfcf" stroke-width="3" rx="8"/>
<text x="650" y="95" font-size="38" font-weight="bold" fill="#e9e9e9" textLength="290" lengthAdjust="spacingAndGlyphs" font-family="Liberation Sans">Slauson Ave</text>
<text x="612" y="142" font-size="38" font-weight="bold" fill="#e9e9e9" textLength="362" lengthAdjust="spacingAndGlyphs" font-family="Liberation Sans">Sepulveda Blvd</text>
<text x="770" y="187" font-size="24" font-weight="bold" fill="#e9e9e9" textLength="70" lengthAdjust="spacingAndGlyphs" font-family="Liberation Sans">MILE</text>
<rect x="738" y="165" width="7" height="26" fill="#e9e9e9"/>
<rect x="145" y="75" width="190" height="100" fill="#e3e3e3"/>
<rect x="145" y="75" width="36" height="100" fill="#1c1c1c"/>
<polygon points="163,100 175,125 163,150 151,125" fill="#e3e3e3"/>
<rect x="195" y="90" width="125" height="6" fill="#777"/>
<rect x="205" y="112" width="105" height="4" fill="#999"/>
<rect x="215" y="128" width="85" height="4" fill="#999"/>
<ellipse cx="238" cy="152" rx="8" ry="7" fill="#333"/></svg>
<svg x="1663" y="688.5" width="188" height="169.6" viewBox="35 28 968 877" preserveAspectRatio="none" overflow="hidden"><rect x="35" y="28" width="968" height="877" fill="#484848"/>
<path d="M194 632h16v18h-16zM53 169h17v14h-17zM431 348h13v9h-13zM606 802h13v13h-13zM941 243h14v16h-14zM672 58h9v5h-9zM756 77h20v17h-20zM665 577h18v16h-18zM951 624h17v15h-17zM75 269h15v16h-15zM476 235h12v8h-12zM202 260h6v6h-6zM191 844h14v9h-14zM532 135h9v9h-9zM55 663h15v13h-15zM143 496h7v4h-7zM439 534h6v7h-6zM364 610h16v19h-16zM318 129h15v11h-15zM47 706h19v12h-19zM899 750h21v20h-21zM679 213h8v7h-8zM466 652h12v15h-12zM571 272h6v7h-6zM731 412h6v8h-6zM386 559h12v10h-12zM735 260h18v16h-18zM221 651h21v12h-21zM385 356h11v10h-11zM640 171h18v13h-18zM426 509h21v17h-21zM841 242h13v11h-13zM652 104h14v12h-14zM809 165h16v19h-16zM831 191h11v12h-11zM368 182h17v12h-17zM201 337h8v9h-8zM866 511h21v16h-21zM250 72h10v10h-10zM739 523h19v23h-19zM600 710h16v10h-16zM814 501h11v11h-11zM918 425h17v10h-17zM939 766h15v11h-15zM249 103h17v11h-17zM134 880h21v11h-21zM118 749h6v4h-6zM494 748h9v9h-9zM885 73h12v11h-12zM209 391h18v22h-18zM641 678h16v11h-16zM948 483h11v12h-11zM580 50h8v6h-8zM117 428h19v20h-19zM883 90h18v22h-18zM251 210h12v15h-12zM171 806h13v8h-13zM491 370h19v23h-19zM700 410h6v7h-6zM902 325h18v18h-18zM913 219h7v7h-7zM615 81h17v16h-17zM288 783h6v4h-6zM130 521h9v9h-9zM942 160h7v7h-7zM888 370h21v12h-21zM555 428h18v12h-18zM562 159h6v5h-6zM788 635h16v19h-16zM90 831h16v17h-16zM734 814h16v8h-16zM699 364h8v7h-8zM548 147h15v16h-15zM837 567h12v10h-12zM686 752h8v7h-8z" fill="#222"/>
<path d="M993 444h21v18h-21zM215 60h19v10h-19zM576 368h11v13h-11zM503 261h19v19h-19zM904 868h12v15h-12zM957 816h11v14h-11zM968 558h17v13h-17zM920 601h6v6h-6zM542 651h20v14h-20zM139 866h17v17h-17zM346 250h19v22h-19zM470 896h21v11h-21zM216 381h14v13h-14zM382 247h9v10h-9zM542 96h19v16h-19zM557 742h11v15h-11zM484 461h9v6h-9zM812 673h17v13h-17zM632 594h14v12h-14zM730 542h13v6h-13zM230 37h8v5h-8zM269 553h7v6h-7zM689 873h20v20h-20zM241 50h18v13h-18zM117 654h13v15h-13zM291 524h16v11h-16zM529 827h16v13h-16zM685 884h14v7h-14zM419 276h17v8h-17zM685 207h14v7h-14zM170 507h20v15h-20zM951 655h20v16h-20zM254 270h9v9h-9zM585 754h14v11h-14zM497 588h19v23h-19zM861 303h19v19h-19zM879 56h18v16h-18zM941 277h6v5h-6zM829 222h16v20h-16zM328 128h18v18h-18zM50 812h17v18h-17zM258 466h20v17h-20zM814 292h7v5h-7zM634 856h21v16h-21zM977 416h8v10h-8zM467 342h11v14h-11zM924 35h18v12h-18zM296 318h14v15h-14zM455 894h6v8h-6zM789 129h15v18h-15zM121 518h12v12h-12zM429 847h6v6h-6zM92 601h20v18h-20zM131 92h6v4h-6zM884 401h18v8h-18zM984 875h19v12h-19zM852 398h13v8h-13zM732 551h7v4h-7zM587 576h6v8h-6zM233 781h17v14h-17zM722 618h14v9h-14zM497 754h14v9h-14zM963 306h9v6h-9zM597 865h16v16h-16zM927 899h8v4h-8zM383 740h19v15h-19zM254 220h13v10h-13zM846 828h21v20h-21zM254 194h19v11h-19zM519 843h11v9h-11zM498 264h8v5h-8zM933 612h9v7h-9zM472 285h13v7h-13z" fill="#555"/>
<path d="M263 30h11v9h-11zM1000 675h20v16h-20zM996 463h13v13h-13zM540 529h11v6h-11zM698 864h6v5h-6zM334 817h10v12h-10zM272 831h12v9h-12zM336 371h8v5h-8zM945 437h12v13h-12zM53 467h6v5h-6zM672 161h13v13h-13zM383 337h8v7h-8zM959 826h9v6h-9zM416 31h16v11h-16zM162 320h11v11h-11zM709 390h7v8h-7zM657 426h9v11h-9zM107 315h8v6h-8zM492 480h9v8h-9zM781 629h11v10h-11zM296 468h7v7h-7zM555 638h14v12h-14zM340 489h20v10h-20zM75 173h8v7h-8zM921 75h18v16h-18zM557 140h21v25h-21zM342 189h6v8h-6zM496 596h16v9h-16zM822 660h13v7h-13zM340 201h10v12h-10zM104 566h12v7h-12zM627 144h16v10h-16zM790 772h21v22h-21zM433 659h7v5h-7zM406 581h20v23h-20zM390 770h8v10h-8zM466 132h13v7h-13zM465 349h13v16h-13zM761 135h9v11h-9zM186 794h15v9h-15zM444 721h8v4h-8zM509 649h13v8h-13zM864 780h21v15h-21zM912 156h15v8h-15zM513 355h18v8h-18zM486 885h21v10h-21zM175 575h13v10h-13zM651 742h6v4h-6zM903 718h11v9h-11zM801 814h12v10h-12zM119 876h14v12h-14zM719 176h19v21h-19zM432 138h8v5h-8zM925 483h11v11h-11zM989 68h19v12h-19zM454 538h12v9h-12zM395 704h19v10h-19zM871 100h18v17h-18zM447 163h14v12h-14zM766 38h15v14h-15zM849 490h8v10h-8zM741 477h14v14h-14zM161 778h7v9h-7zM263 324h8v9h-8zM358 314h11v8h-11zM257 873h11v12h-11zM241 324h13v12h-13zM683 588h12v7h-12zM190 769h16v11h-16zM147 760h11v12h-11zM715 696h21v18h-21zM262 106h17v19h-17zM934 338h13v13h-13zM46 626h21v17h-21zM116 718h12v12h-12zM800 521h9v5h-9z" fill="#7c7c7c"/>
<path d="M175 686h20v10h-20zM961 501h17v20h-17zM226 618h18v19h-18zM362 816h21v22h-21zM82 150h16v13h-16zM169 544h8v4h-8zM276 866h12v10h-12zM722 510h6v6h-6zM96 697h8v6h-8zM746 876h10v10h-10zM729 808h18v17h-18zM540 571h12v10h-12zM525 237h17v12h-17zM598 98h20v25h-20zM103 87h14v16h-14zM739 560h16v9h-16zM53 273h6v8h-6zM1001 514h18v19h-18zM917 865h18v18h-18zM389 331h18v17h-18zM872 400h17v21h-17zM378 769h9v8h-9zM291 334h14v17h-14zM198 695h7v5h-7zM334 152h16v18h-16zM932 152h20v14h-20zM807 586h16v12h-16zM696 619h10v6h-10zM684 898h20v20h-20zM804 402h18v19h-18zM231 320h12v13h-12zM793 247h13v14h-13zM287 63h16v15h-16zM650 534h12v11h-12zM184 874h12v12h-12zM539 721h11v10h-11zM735 55h9v12h-9zM464 526h18v15h-18zM576 424h10v5h-10zM173 189h13v12h-13zM223 569h14v8h-14zM657 115h9v12h-9zM35 52h18v14h-18zM421 393h19v22h-19zM746 773h10v9h-10zM736 334h17v16h-17zM474 449h21v23h-21zM896 230h17v9h-17zM606 204h17v18h-17zM356 405h14v13h-14zM952 499h6v7h-6zM998 643h8v6h-8zM602 265h10v7h-10zM704 678h7v8h-7zM273 667h19v20h-19zM55 339h9v12h-9zM54 220h14v15h-14zM924 786h14v16h-14zM674 652h20v13h-20zM159 193h11v14h-11zM228 797h8v5h-8zM329 28h17v8h-17zM440 188h10v6h-10zM460 833h20v17h-20zM526 326h20v11h-20zM621 516h17v8h-17zM196 72h18v16h-18zM246 561h13v14h-13zM205 507h19v24h-19zM675 735h10v12h-10zM295 428h6v3h-6zM256 512h16v16h-16z" fill="#474747"/>
<path d="M391 163h19v20h-19zM773 537h17v15h-17zM613 296h7v9h-7zM203 403h8v9h-8zM784 451h19v21h-19zM963 822h8v6h-8zM215 590h18v21h-18zM509 530h14v12h-14zM378 306h21v24h-21zM411 380h9v9h-9zM395 538h9v11h-9zM683 613h15v9h-15zM183 280h16v19h-16zM693 600h8v6h-8zM946 849h18v22h-18zM669 671h13v16h-13zM227 771h20v21h-20zM555 509h12v12h-12zM760 330h8v9h-8zM351 315h9v8h-9zM154 642h9v5h-9zM596 187h20v22h-20zM296 621h20v15h-20zM245 802h17v15h-17zM329 317h8v7h-8zM987 700h9v11h-9zM933 703h14v8h-14zM329 408h19v18h-19zM878 892h21v19h-21zM288 337h14v11h-14zM643 129h10v7h-10zM566 725h13v15h-13zM633 78h9v11h-9zM60 581h21v21h-21zM444 369h14v15h-14zM584 841h10v12h-10zM921 797h18v18h-18zM597 264h16v10h-16zM364 495h11v6h-11zM548 448h10v6h-10zM363 511h17v16h-17zM178 793h14v10h-14zM641 895h18v12h-18zM336 449h18v20h-18zM70 726h7v5h-7zM396 270h19v12h-19zM643 782h19v23h-19zM362 64h13v12h-13zM354 476h14v16h-14zM325 861h18v13h-18zM392 536h12v10h-12zM99 52h8v4h-8zM869 182h6v5h-6zM827 872h6v3h-6zM949 265h19v23h-19zM210 652h7v9h-7zM859 46h10v11h-10zM766 835h19v24h-19zM179 418h20v18h-20zM431 91h20v17h-20zM493 80h8v5h-8zM415 309h6v5h-6zM777 778h16v17h-16zM895 119h10v5h-10zM317 213h14v16h-14zM300 681h8v6h-8zM975 422h7v7h-7zM288 100h16v16h-16zM826 251h19v23h-19zM921 457h14v15h-14zM236 612h15v18h-15zM247 818h21v14h-21zM697 105h18v16h-18zM98 494h9v11h-9zM571 515h16v14h-16zM91 468h16v20h-16zM247 848h19v18h-19zM100 462h20v14h-20zM395 586h10v5h-10zM984 476h10v12h-10zM770 349h15v8h-15zM224 123h8v6h-8zM248 790h19v11h-19z" fill="#2a2a2a"/>
<path d="M683 577h19v14h-19zM669 138h14v11h-14zM768 194h15v19h-15zM334 426h20v11h-20zM635 441h18v10h-18zM908 495h20v15h-20zM753 214h14v17h-14zM451 359h13v6h-13zM866 208h18v17h-18zM821 451h6v8h-6zM275 141h18v9h-18zM725 219h16v20h-16zM540 36h19v9h-19zM327 307h20v23h-20zM802 688h8v6h-8zM840 634h13v10h-13zM417 576h10v6h-10zM983 253h16v18h-16zM376 582h19v20h-19zM696 231h8v8h-8zM321 841h6v5h-6zM211 870h12v10h-12zM752 531h9v7h-9zM385 719h18v18h-18zM94 889h17v8h-17zM541 721h21v17h-21zM308 616h10v8h-10zM150 517h14v9h-14zM371 417h7v4h-7zM170 244h8v6h-8zM394 555h10v8h-10zM728 427h15v18h-15zM398 45h19v16h-19zM616 69h13v14h-13zM816 744h19v18h-19zM212 49h13v7h-13zM279 263h17v8h-17zM384 241h12v9h-12zM162 384h19v18h-19zM761 568h10v12h-10zM79 175h10v6h-10zM336 113h21v15h-21zM723 900h21v16h-21zM214 84h17v16h-17zM130 472h8v9h-8zM728 695h19v9h-19zM652 264h9v6h-9zM301 544h7v4h-7zM393 653h15v15h-15zM389 275h18v13h-18zM298 103h12v8h-12zM251 732h14v14h-14zM472 712h18v19h-18zM284 899h11v9h-11zM163 659h13v11h-13zM523 528h18v20h-18zM698 696h19v10h-19zM485 876h10v6h-10zM904 740h17v11h-17zM516 318h20v21h-20zM436 32h7v5h-7zM231 816h15v19h-15z" fill="#6a6a6a"/>
<path d="M617 401h15v12h-15zM894 572h8v7h-8zM634 669h15v15h-15zM965 58h18v19h-18zM587 827h12v6h-12zM832 540h13v6h-13zM721 461h8v7h-8zM840 429h13v14h-13zM614 635h19v10h-19zM798 842h17v7h-17zM283 441h10v6h-10zM228 55h9v12h-9zM908 599h10v11h-10zM329 519h19v11h-19zM38 109h13v11h-13zM191 877h6v5h-6zM279 217h12v13h-12zM906 435h17v10h-17zM915 568h6v3h-6zM502 396h9v6h-9zM290 168h20v12h-20zM358 726h9v9h-9zM961 771h13v12h-13zM984 62h21v20h-21zM177 480h7v4h-7zM420 603h19v12h-19zM402 328h21v12h-21zM913 858h13v15h-13zM909 687h8v8h-8zM409 857h13v16h-13zM235 746h8v10h-8zM347 586h8v4h-8zM744 140h9v9h-9zM479 96h16v14h-16zM95 297h12v7h-12zM622 48h19v17h-19zM996 838h14v12h-14zM257 834h6v5h-6zM367 741h14v7h-14zM359 166h10v10h-10zM980 441h15v14h-15zM329 791h20v12h-20zM942 709h9v5h-9zM677 690h11v14h-11zM211 489h18v20h-18zM381 828h11v11h-11zM113 145h21v12h-21zM642 855h12v11h-12zM126 342h20v24h-20zM470 162h9v7h-9zM882 375h20v12h-20zM966 901h10v9h-10zM736 638h20v16h-20zM387 819h11v12h-11zM937 490h9v8h-9zM413 684h10v5h-10zM719 864h21v19h-21zM77 232h17v11h-17zM75 659h13v13h-13zM60 668h19v12h-19zM439 821h12v9h-12zM185 116h9v8h-9zM723 234h19v19h-19zM657 202h9v8h-9zM872 735h15v14h-15zM919 564h17v9h-17zM814 65h21v18h-21zM699 826h6v8h-6zM929 30h15v11h-15zM786 813h17v14h-17zM694 215h6v7h-6zM563 768h13v16h-13zM326 489h18v13h-18zM357 429h9v6h-9zM400 426h15v8h-15zM957 390h21v17h-21zM970 340h8v4h-8zM119 634h12v12h-12zM824 382h6v5h-6z" fill="#909090"/>
<polygon points="35,400 200,470 35,560" fill="#9a9a9a"/>
<polygon points="35,28 260,28 230,90 35,110" fill="#3a3a3a"/>
<polygon points="560,240 700,100 640,330 540,330" fill="#5a5a5a"/>
<polygon points="350,185 560,200 565,262 350,240" fill="#303030"/>
<polygon points="200,540 400,530 330,770 150,800" fill="#5c5c5c"/>
<polygon points="150,800 330,770 300,850 170,870" fill="#8a8a8a"/>
<polygon points="40,610 120,572 205,650 110,785 40,700" fill="#4d4d4d"/>
<polygon points="40,700 110,785 90,800 40,760" fill="#b5b5b5"/>
<polygon points="120,572 150,560 230,635 205,650" fill="#9f9f9f"/>
<polygon points="150,540 215,520 260,560 195,590" fill="#c9c9c9"/>
<rect x="282" y="650" width="40" height="32" fill="#d0d0d0"/>
<polygon points="850,150 920,75 958,110 888,190" fill="#e0e0e0"/>
<polygon points="888,190 958,110 985,135 915,215" fill="#2a2a2a"/>
<path d="M35 140 L59.1 141.2 L93.1 143.1 L133.1 145.2 L175.2 147.1 L215.4 148.2 L250 148 L279.6 146.5 L307.4 144 L333.4 140.8 L357.6 136.9 L379.8 132.6 L400 128 L417.6 123.2 L432.4 118 L445.3 112.3 L457 106.1 L468.3 99.4 L480 92 L492.5 83.1 L505.2 72.4 L517.5 61.2 L528.7 50.6 L538.1 41.4 L545 35" fill="none" stroke="#222" stroke-width="40" stroke-linejoin="round" opacity="0.55" transform="translate(6 10)"/>
<path d="M35 140 L59.1 141.2 L93.1 143.1 L133.1 145.2 L175.2 147.1 L215.4 148.2 L250 148 L279.6 146.5 L307.4 144 L333.4 140.8 L357.6 136.9 L379.8 132.6 L400 128 L417.6 123.2 L432.4 118 L445.3 112.3 L457 106.1 L468.3 99.4 L480 92 L492.5 83.1 L505.2 72.4 L517.5 61.2 L528.7 50.6 L538.1 41.4 L545 35" fill="none" stroke="#c2c2c2" stroke-width="40" stroke-linejoin="round"/>
<path d="M35 212 L44.2 212.1 L56.9 212.2 L71.9 212.3 L88.1 212.6 L104.6 213.1 L120 214 L135.8 215.4 L153 217.4 L170.3 219.6 L186.5 221.8 L200.2 223.7 L210 225" fill="none" stroke="#222" stroke-width="34" stroke-linejoin="round" opacity="0.55" transform="translate(6 10)"/>
<path d="M35 212 L44.2 212.1 L56.9 212.2 L71.9 212.3 L88.1 212.6 L104.6 213.1 L120 214 L135.8 215.4 L153 217.4 L170.3 219.6 L186.5 221.8 L200.2 223.7 L210 225" fill="none" stroke="#bdbdbd" stroke-width="34" stroke-linejoin="round"/>
<path d="M150 248 L160.5 241.9 L174.8 233.3 L191.9 223.2 L210.7 212.7 L230.4 202.9 L250 195 L269.8 188.6 L290.7 182.8 L312.5 177.7 L334.8 173.4 L357.4 170.2 L380 168 L403.4 167.1 L428.1 167.3 L453.1 168.5 L477.4 170.5 L500 173 L520 176 L537.7 180 L554.1 185.2 L568.8 191 L581.5 196.7 L592 201.6 L600 205" fill="none" stroke="#222" stroke-width="30" stroke-linejoin="round" opacity="0.55" transform="translate(6 10)"/>
<path d="M150 248 L160.5 241.9 L174.8 233.3 L191.9 223.2 L210.7 212.7 L230.4 202.9 L250 195 L269.8 188.6 L290.7 182.8 L312.5 177.7 L334.8 173.4 L357.4 170.2 L380 168 L403.4 167.1 L428.1 167.3 L453.1 168.5 L477.4 170.5 L500 173 L520 176 L537.7 180 L554.1 185.2 L568.8 191 L581.5 196.7 L592 201.6 L600 205" fill="none" stroke="#d2d2d2" stroke-width="30" stroke-linejoin="round"/>
<path d="M660 330 L664.1 311.1 L669.6 284.5 L676.2 253.2 L683.7 220.1 L691.7 188.1 L700 160 L709.5 134.3 L720.7 108.3 L732.5 83.4 L743.7 60.8 L753.2 41.9 L760 28" fill="none" stroke="#222" stroke-width="130" stroke-linejoin="round" opacity="0.55" transform="translate(6 10)"/>
<path d="M660 330 L664.1 311.1 L669.6 284.5 L676.2 253.2 L683.7 220.1 L691.7 188.1 L700 160 L709.5 134.3 L720.7 108.3 L732.5 83.4 L743.7 60.8 L753.2 41.9 L760 28" fill="none" stroke="#c6c6c6" stroke-width="130" stroke-linejoin="round"/>
<path d="M785 350 L786.8 333.3 L788.9 309.8 L791.6 282.2 L795 253 L799.4 224.7 L805 200 L812.3 178.1 L821.1 156.9 L830.9 136.7 L841.1 117.7 L851 100.4 L860 85 L868.6 71.5 L877.4 59.6 L885.9 49.3 L893.7 40.6 L900.2 33.5 L905 28" fill="none" stroke="#222" stroke-width="32" stroke-linejoin="round" opacity="0.55" transform="translate(6 10)"/>
<path d="M785 350 L786.8 333.3 L788.9 309.8 L791.6 282.2 L795 253 L799.4 224.7 L805 200 L812.3 178.1 L821.1 156.9 L830.9 136.7 L841.1 117.7 L851 100.4 L860 85 L868.6 71.5 L877.4 59.6 L885.9 49.3 L893.7 40.6 L900.2 33.5 L905 28" fill="none" stroke="#cfcfcf" stroke-width="32" stroke-linejoin="round"/>
<path d="M560 560 L553.6 575.8 L544.8 597.2 L534.4 622.8 L523 651.1 L511.3 680.7 L500 710 L488.1 742.2 L474.8 778.9 L461.2 816.9 L448.5 852.8 L437.7 883.3 L430 905" fill="none" stroke="#222" stroke-width="75" stroke-linejoin="round" opacity="0.55" transform="translate(6 10)"/>
<path d="M560 560 L553.6 575.8 L544.8 597.2 L534.4 622.8 L523 651.1 L511.3 680.7 L500 710 L488.1 742.2 L474.8 778.9 L461.2 816.9 L448.5 852.8 L437.7 883.3 L430 905" fill="none" stroke="#c4c4c4" stroke-width="75" stroke-linejoin="round"/>
<path d="M625 610 L618.5 626.4 L609.4 649.1 L598.8 675.9 L587.2 704.8 L575.7 733.6 L565 760 L554.3 786.1 L542.8 814.1 L531.2 841.9 L520.6 867.6 L511.5 889.3 L505 905" fill="none" stroke="#222" stroke-width="38" stroke-linejoin="round" opacity="0.55" transform="translate(6 10)"/>
<path d="M625 610 L618.5 626.4 L609.4 649.1 L598.8 675.9 L587.2 704.8 L575.7 733.6 L565 760 L554.3 786.1 L542.8 814.1 L531.2 841.9 L520.6 867.6 L511.5 889.3 L505 905" fill="none" stroke="#bcbcbc" stroke-width="38" stroke-linejoin="round"/>
<path d="M705 655 L698.3 671.9 L688.9 695.7 L677.8 723.8 L666.1 753.1 L654.8 781.2 L645 805 L636.1 825.7 L627.2 845.7 L618.8 864.4 L611.1 880.9 L604.7 894.7 L600 905" fill="none" stroke="#222" stroke-width="24" stroke-linejoin="round" opacity="0.55" transform="translate(6 10)"/>
<path d="M705 655 L698.3 671.9 L688.9 695.7 L677.8 723.8 L666.1 753.1 L654.8 781.2 L645 805 L636.1 825.7 L627.2 845.7 L618.8 864.4 L611.1 880.9 L604.7 894.7 L600 905" fill="none" stroke="#c9c9c9" stroke-width="24" stroke-linejoin="round"/>
<path d="M640 905 L646.1 895.7 L654.1 882.6 L663.8 867.2 L674.8 851 L687 835.5 L700 822 L714.4 810.2 L730.4 798.8 L747.5 788.1 L765.2 778.2 L782.9 769.4 L800 762 L816.6 755.9 L833.2 750.9 L849.8 747 L866.4 744.2 L883.2 742.6 L900 742 L918.2 743.2 L937.9 746.4 L957.8 750.8 L976.2 755.3 L991.8 759.4 L1003 762" fill="none" stroke="#222" stroke-width="38" stroke-linejoin="round" opacity="0.55" transform="translate(6 10)"/>
<path d="M640 905 L646.1 895.7 L654.1 882.6 L663.8 867.2 L674.8 851 L687 835.5 L700 822 L714.4 810.2 L730.4 798.8 L747.5 788.1 L765.2 778.2 L782.9 769.4 L800 762 L816.6 755.9 L833.2 750.9 L849.8 747 L866.4 744.2 L883.2 742.6 L900 742 L918.2 743.2 L937.9 746.4 L957.8 750.8 L976.2 755.3 L991.8 759.4 L1003 762" fill="none" stroke="#cfcfcf" stroke-width="38" stroke-linejoin="round"/>
<path d="M705 905 L713.5 897.9 L725 887.8 L738.8 876 L753.9 863.6 L769.6 851.9 L785 842 L800.3 833.6 L816.2 825.6 L832.6 818.2 L849.6 811.7 L867.1 806.2 L885 802 L905 799.4 L927.4 798.4 L950.2 798.5 L971.7 799.1 L990 799.8 L1003 800" fill="none" stroke="#222" stroke-width="22" stroke-linejoin="round" opacity="0.55" transform="translate(6 10)"/>
<path d="M705 905 L713.5 897.9 L725 887.8 L738.8 876 L753.9 863.6 L769.6 851.9 L785 842 L800.3 833.6 L816.2 825.6 L832.6 818.2 L849.6 811.7 L867.1 806.2 L885 802 L905 799.4 L927.4 798.4 L950.2 798.5 L971.7 799.1 L990 799.8 L1003 800" fill="none" stroke="#c4c4c4" stroke-width="22" stroke-linejoin="round"/>
<path d="M35 540 L35.5 558.1 L36.1 583.7 L36.9 613.8 L37.8 645.2 L38.8 675 L40 700 L41 720.7 L41.9 739.6 L42.8 756.9 L44.3 772.6 L46.5 786.9 L50 800 L54.1 811.5 L58.5 821.3 L63.8 829.6 L70.4 837 L78.9 843.6 L90 850 L104.2 856.4 L121.1 862.7 L140 868.2 L160 872.7 L180.3 875.4 L200 876 L220.2 874.2 L241.8 870.5 L263.6 865.1 L284.7 858.4 L303.8 850.6 L320 842 L333.2 831.4 L344.3 818.1 L353.5 803.9 L361 790.1 L367.1 778.3 L372 770" fill="none" stroke="#222" stroke-width="40" stroke-linejoin="round" opacity="0.55" transform="translate(6 10)"/>
<path d="M35 540 L35.5 558.1 L36.1 583.7 L36.9 613.8 L37.8 645.2 L38.8 675 L40 700 L41 720.7 L41.9 739.6 L42.8 756.9 L44.3 772.6 L46.5 786.9 L50 800 L54.1 811.5 L58.5 821.3 L63.8 829.6 L70.4 837 L78.9 843.6 L90 850 L104.2 856.4 L121.1 862.7 L140 868.2 L160 872.7 L180.3 875.4 L200 876 L220.2 874.2 L241.8 870.5 L263.6 865.1 L284.7 858.4 L303.8 850.6 L320 842 L333.2 831.4 L344.3 818.1 L353.5 803.9 L361 790.1 L367.1 778.3 L372 770" fill="none" stroke="#d0d0d0" stroke-width="40" stroke-linejoin="round"/>
<path d="M35 272 L63.4 275.8 L102.4 281 L148.8 287.2 L199.3 294.1 L250.7 301.1 L300 308 L349.1 315 L401.1 322.4 L454.1 330.1 L506.1 337.8 L555.4 345.2 L600 352 L639.1 358.4 L674 364.6 L706.1 370.5 L736.8 376.1 L767.7 381.3 L800 386 L836 390.4 L875 394.4 L914 398.1 L950.3 401.3 L980.9 404 L1003 406" fill="none" stroke="#222" stroke-width="50" stroke-linejoin="round" opacity="0.55" transform="translate(6 10)"/>
<path d="M35 272 L63.4 275.8 L102.4 281 L148.8 287.2 L199.3 294.1 L250.7 301.1 L300 308 L349.1 315 L401.1 322.4 L454.1 330.1 L506.1 337.8 L555.4 345.2 L600 352 L639.1 358.4 L674 364.6 L706.1 370.5 L736.8 376.1 L767.7 381.3 L800 386 L836 390.4 L875 394.4 L914 398.1 L950.3 401.3 L980.9 404 L1003 406" fill="none" stroke="#d0d0d0" stroke-width="50" stroke-linejoin="round"/>
<path d="M35 332 L64.6 336.9 L106.1 343.7 L155 351.7 L206.7 360.3 L256.5 369 L300 377 L337.1 384.8 L371.5 392.9 L404.1 401.1 L435.7 408.9 L467.4 415.9 L500 422 L533.3 426.9 L566.7 430.9 L600 434.2 L633.3 437 L666.7 439.5 L700 442 L734.5 444.4 L770.3 446.6 L806.1 448.6 L840.5 450.1 L872.3 451.3 L900 452 L924 452 L945.3 451.3 L964 450.1 L979.9 448.9 L992.9 447.7 L1003 447" fill="none" stroke="#222" stroke-width="52" stroke-linejoin="round" opacity="0.55" transform="translate(6 10)"/>
<path d="M35 332 L64.6 336.9 L106.1 343.7 L155 351.7 L206.7 360.3 L256.5 369 L300 377 L337.1 384.8 L371.5 392.9 L404.1 401.1 L435.7 408.9 L467.4 415.9 L500 422 L533.3 426.9 L566.7 430.9 L600 434.2 L633.3 437 L666.7 439.5 L700 442 L734.5 444.4 L770.3 446.6 L806.1 448.6 L840.5 450.1 L872.3 451.3 L900 452 L924 452 L945.3 451.3 L964 450.1 L979.9 448.9 L992.9 447.7 L1003 447" fill="none" stroke="#c8c8c8" stroke-width="52" stroke-linejoin="round"/>
<path d="M35 392 L64.6 396.2 L106.1 402 L155 408.9 L206.7 416.4 L256.5 424.3 L300 432 L337.1 439.6 L371.5 447.6 L404.1 455.8 L435.7 464.2 L467.4 473 L500 482 L533.9 491.4 L568.5 501.3 L603.1 511.4 L637 521.6 L669.6 531.9 L700 542 L727.9 551.8 L753.6 561.3 L777.9 570.8 L801.6 580.5 L825.4 590.8 L850 602 L877.1 615.1 L906.4 630.1 L935.9 645.8 L963.2 660.5 L986.3 673.1 L1003 682" fill="none" stroke="#222" stroke-width="66" stroke-linejoin="round" opacity="0.55" transform="translate(6 10)"/>
<path d="M35 392 L64.6 396.2 L106.1 402 L155 408.9 L206.7 416.4 L256.5 424.3 L300 432 L337.1 439.6 L371.5 447.6 L404.1 455.8 L435.7 464.2 L467.4 473 L500 482 L533.9 491.4 L568.5 501.3 L603.1 511.4 L637 521.6 L669.6 531.9 L700 542 L727.9 551.8 L753.6 561.3 L777.9 570.8 L801.6 580.5 L825.4 590.8 L850 602 L877.1 615.1 L906.4 630.1 L935.9 645.8 L963.2 660.5 L986.3 673.1 L1003 682" fill="none" stroke="#c4c4c4" stroke-width="66" stroke-linejoin="round"/>
<path d="M35 545 L41.7 538.9 L50.6 530.1 L61.2 519.9 L73.3 509.3 L86.4 499.7 L100 492 L114.1 486.1 L128.9 481.1 L144.7 476.9 L161.7 473.7 L180 471.3 L200 470 L222.1 469.8 L246.3 470.8 L271.9 472.8 L298.1 475.4 L324.4 478.6 L350 482 L375 485.6 L400 489.6 L425 494 L450 499.1 L475 505.1 L500 512 L525 520 L550 529 L575 538.9 L600 549.4 L625 560.5 L650 572 L675 584.1 L700 596.8 L725 610.1 L750 623.9 L775 637.9 L800 652 L826.1 666.9 L853.6 682.7 L881.1 698.9 L907.2 714.6 L930.6 729.2 L950 742 L965.1 753.2 L976.8 763.5 L985.9 772.6 L992.9 780.5 L998.4 787 L1003 792" fill="none" stroke="#222" stroke-width="46" stroke-linejoin="round" opacity="0.55" transform="translate(6 10)"/>
<path d="M35 545 L41.7 538.9 L50.6 530.1 L61.2 519.9 L73.3 509.3 L86.4 499.7 L100 492 L114.1 486.1 L128.9 481.1 L144.7 476.9 L161.7 473.7 L180 471.3 L200 470 L222.1 469.8 L246.3 470.8 L271.9 472.8 L298.1 475.4 L324.4 478.6 L350 482 L375 485.6 L400 489.6 L425 494 L450 499.1 L475 505.1 L500 512 L525 520 L550 529 L575 538.9 L600 549.4 L625 560.5 L650 572 L675 584.1 L700 596.8 L725 610.1 L750 623.9 L775 637.9 L800 652 L826.1 666.9 L853.6 682.7 L881.1 698.9 L907.2 714.6 L930.6 729.2 L950 742 L965.1 753.2 L976.8 763.5 L985.9 772.6 L992.9 780.5 L998.4 787 L1003 792" fill="none" stroke="#d9d9d9" stroke-width="46" stroke-linejoin="round"/>
<path d="M55 150l9 1M217 141l9 0M292 140l9 -1M411 109l8 -3M121 222l9 1M159 218l9 1M653 325l2 -9M705 310l2 -9M692 291l2 -9M692 229l2 -9M704 199l2 -9M741 187l3 -9M690 189l3 -9M649 162l3 -9M664 135l3 -8M676 138l3 -8M697 119l4 -8M689 87l4 -8M728 53l4 -8M785 58l4 -8M822 183l3 -8M545 584l-3 8M571 608l-3 8M516 608l-3 8M514 616l-3 8M531 707l-3 8M486 772l-3 8M459 747l-3 8M455 794l-3 8M484 798l-3 8M492 802l-3 8M421 881l-3 8M596 685l-3 8M529 826l-3 8M896 747l9 1M121 276l9 1M203 305l9 1M233 318l9 1M367 329l9 1M382 335l9 1M692 366l9 2M841 397l9 1M974 403l9 1M46 348l9 1M41 353l9 1M123 347l9 1M181 347l9 1M290 374l9 2M614 452l9 1M610 429l9 1M644 438l9 1M704 462l9 1M830 435l9 0M848 446l9 0M896 437l9 0M886 464l9 0M85 410l9 1M146 423l9 1M182 426l9 1M203 393l9 1M168 397l9 1M203 433l9 1M271 428l9 2M317 410l9 2M348 457l9 2M425 467l9 2M436 438l9 2M396 479l9 2M412 472l9 2M498 465l9 2M467 487l9 2M526 462l9 2M558 503l9 2M534 516l9 2M545 469l9 2M595 527l9 3M606 518l9 3M606 489l9 3M669 510l9 3M651 519l9 3M669 555l9 3M664 554l9 3M838 583l8 4M893 607l8 4M977 641l8 4M981 662l8 4M981 641l8 4M73 490l7 -5M622 556l8 4" stroke="#1a1a1a" stroke-width="5" fill="none"/>
<path d="M94 142l9 0M339 128l9 -1M290 180l9 -2M637 324l2 -9M709 314l2 -9M634 243l2 -9M725 263l2 -9M665 220l2 -9M685 215l2 -9M680 209l2 -9M740 198l3 -9M710 149l3 -8M697 142l3 -8M664 125l3 -8M752 134l4 -8M700 64l4 -8M767 67l4 -8M722 24l4 -8M564 578l-3 8M560 637l-3 8M502 638l-3 8M493 685l-3 8M490 670l-3 8M522 725l-3 8M495 793l-3 8M422 859l-3 8M469 867l-3 8M587 744l-3 8M508 875l-3 8M681 858l6 -7M717 819l7 -5M784 774l8 -4M170 890l9 1M193 296l9 1M339 299l9 1M469 338l9 1M597 362l9 1M702 357l9 2M808 407l9 1M165 367l9 1M320 399l9 2M385 380l9 2M399 390l9 2M493 410l9 2M632 442l9 1M981 444l9 -1M74 406l9 1M86 414l9 1M107 426l9 1M101 410l9 1M181 423l9 1M266 444l9 2M329 424l9 2M321 427l9 2M448 453l9 2M487 471l9 2M516 490l9 2M506 467l9 2M774 595l8 3M848 573l8 4M831 597l8 4M858 582l8 4M360 477l9 1M595 530l8 3M860 670l8 5" stroke="#2a2a2a" stroke-width="5" fill="none"/>
<path d="M163 156l9 0M496 79l7 -6M111 207l9 1M646 304l2 -9M701 301l2 -9M700 234l2 -9M646 173l3 -9M754 139l4 -8M757 131l4 -8M686 97l4 -8M753 91l4 -8M740 88l4 -8M750 69l4 -8M847 115l4 -8M852 81l5 -8M548 555l-3 8M542 618l-3 8M514 617l-3 8M500 700l-3 8M502 708l-3 8M508 747l-3 8M457 763l-3 8M450 831l-3 8M445 828l-3 8M445 854l-3 8M626 621l-3 8M546 773l-3 8M508 897l-3 8M670 736l-3 8M634 808l-4 8M736 781l8 -5M834 751l9 -2M233 874l9 -2M365 808l4 -8M78 284l9 1M401 341l9 1M413 329l9 1M480 338l9 1M521 322l9 1M559 362l9 1M991 418l9 1M344 374l9 2M365 403l9 2M429 425l9 2M682 455l9 1M743 458l9 1M952 467l9 -1M64 382l9 1M95 409l9 1M108 409l9 1M206 424l9 1M248 421l9 1M398 431l9 2M453 470l9 2M498 504l9 2M534 476l9 2M667 522l9 3M634 519l9 3M661 515l9 3M700 523l9 3M706 557l8 3M746 571l8 3M765 547l8 3M778 589l8 3M789 560l8 3M815 585l8 4M860 601l8 4M880 593l8 4M939 653l8 4M951 663l8 4M993 647l8 4M999 679l8 4M909 709l8 5" stroke="#1e1e1e" stroke-width="5" fill="none"/>
<path d="M189 155l9 0M379 133l9 -2M680 311l2 -9M697 292l2 -9M666 253l2 -9M695 257l2 -9M663 215l2 -9M726 209l2 -9M661 156l3 -9M676 92l4 -8M732 117l4 -8M767 119l4 -8M766 78l4 -8M720 27l4 -8M788 315l1 -9M781 266l1 -9M557 589l-3 8M563 612l-3 8M535 651l-3 8M499 662l-3 8M505 678l-3 8M491 797l-3 8M455 887l-3 8M584 708l-3 8M562 805l-3 8M536 862l-3 8M629 848l-4 8M709 824l7 -6M932 759l9 2M971 756l9 2M195 867l9 0M42 273l9 1M68 289l9 1M230 314l9 1M267 294l9 1M279 306l9 1M334 310l9 1M530 324l9 1M789 386l9 1M911 413l9 1M78 319l9 1M105 352l9 1M200 361l9 1M148 368l9 1M239 358l9 2M208 359l9 2M252 383l9 2M349 400l9 2M420 400l9 2M443 421l9 2M481 439l9 2M573 411l9 1M612 422l9 1M850 451l9 0M896 472l9 0M962 466l9 -1M102 391l9 1M110 427l9 1M170 400l9 1M161 405l9 1M206 399l9 1M207 421l9 1M217 438l9 1M280 424l9 2M289 422l9 2M356 465l9 2M351 464l9 2M369 443l9 2M461 475l9 2M438 472l9 2M488 456l9 2M580 494l9 3M738 547l8 3M768 573l8 3M769 587l8 3M809 560l8 4M850 581l8 4M934 624l8 4M930 615l8 4M982 681l8 4M216 482l9 0M261 458l9 1M444 490l9 2M647 550l8 4M648 572l8 4M886 705l8 5" stroke="#f4f4f4" stroke-width="5" fill="none"/>
<path d="M327 150l9 -1M373 126l9 -2M505 78l7 -6M48 212l9 0M709 279l2 -9M715 272l2 -9M728 231l2 -9M705 187l3 -9M720 170l3 -8M717 114l4 -8M671 102l4 -8M753 76l4 -8M721 74l4 -8M779 69l4 -8M743 51l4 -8M807 240l1 -9M573 575l-3 8M505 633l-3 8M502 654l-3 8M518 726l-3 8M476 702l-3 8M470 714l-3 8M483 752l-3 8M445 812l-3 8M454 813l-3 8M426 828l-3 8M626 635l-3 8M597 662l-3 8M607 696l-3 8M550 793l-3 8M515 870l-3 8M847 750l9 -1M913 796l9 0M36 653l0 9M132 285l9 1M98 299l9 1M190 287l9 1M286 301l9 1M554 338l9 1M712 368l9 2M741 385l9 1M846 391l9 1M952 393l9 1M82 360l9 1M150 352l9 1M199 380l9 2M411 384l9 2M515 406l9 1M572 413l9 1M671 451l9 1M679 431l9 1M737 428l9 1M770 437l9 0M766 447l9 0M819 449l9 0M925 442l9 0M998 466l9 -1M35 411l9 1M45 409l9 1M53 380l9 1M111 398l9 1M117 397l9 1M263 434l9 2M396 462l9 2M419 478l9 2M546 481l9 2M600 502l9 3M594 508l9 3M582 514l9 3M605 515l9 3M612 519l9 3M675 509l9 3M721 525l8 3M734 541l8 3M742 567l8 3M812 604l8 4M856 607l8 4M885 634l8 4M912 652l8 4M912 646l8 4M294 476l9 1M497 506l9 2M816 647l8 4M963 756l7 6" stroke="#333" stroke-width="5" fill="none"/>
<path d="M519 53l7 -6M521 37l6 -6M488 183l9 1M677 331l2 -9M653 324l2 -9M695 283l2 -9M712 268l2 -9M702 264l2 -9M637 237l2 -9M724 145l4 -8M725 114l4 -8M840 128l4 -8M865 67l5 -7M545 638l-3 8M519 651l-3 8M474 785l-3 8M452 828l-3 8M443 864l-3 8M431 873l-3 8M432 899l-3 8M617 642l-3 8M575 703l-3 8M558 745l-3 8M553 820l-3 8M536 867l-3 8M609 897l-4 8M618 339l9 1M651 362l9 2M792 400l9 1M797 384l9 1M890 415l9 1M879 385l9 1M920 387l9 1M66 337l9 1M205 342l9 2M259 359l9 2M308 386l9 2M512 443l9 1M558 446l9 1M541 422l9 1M705 444l9 1M943 471l9 -1M50 415l9 1M164 429l9 1M270 417l9 2M310 456l9 2M293 449l9 2M341 442l9 2M394 462l9 2M384 427l9 2M579 515l9 3M722 529l8 3M732 569l8 3M880 600l8 4M877 619l8 4M924 657l8 4M955 633l8 4M947 640l8 4M521 527l8 3M781 634l8 4" stroke="#555" stroke-width="5" fill="none"/>
<polyline points="655,330 700,160 760,28" fill="none" stroke="#444" stroke-width="5"/>
<polyline points="690,335 735,160 795,28" fill="none" stroke="#666" stroke-width="3"/>
<polyline points="545,560 485,710 415,905" fill="none" stroke="#555" stroke-width="4"/>
<rect x="335" y="335" width="38" height="140" fill="#555" opacity="0.7"/>
<rect x="285" y="330" width="14" height="140" fill="#666" opacity="0.6"/>
<rect x="625" y="335" width="25" height="40" fill="#555" opacity="0.7"/></svg>
<line x1="1164" x2="1447" y1="360.5" y2="360.5" stroke="#9a9a9a" stroke-width="0.9"/>
<line x1="989" x2="1447" y1="613.3" y2="613.3" stroke="#9a9a9a" stroke-width="0.9"/>
<line x1="1084" x2="1447" y1="858.9" y2="858.9" stroke="#c8c8c8" stroke-width="1.6"/>
<!-- icons -->
<svg x="1340" y="300" width="100" height="40" viewBox="0 0 1900 760" fill="none" stroke="#2f7e84" stroke-linejoin="round" stroke-linecap="round">
<path stroke-width="20" d="M200 260 Q200 195 260 185 L380 160 L420 160 L560 195 L650 215 L1010 215 L1010 200 L1180 200 L1250 190 L1320 160 L1420 160 L1560 190 L1620 210 Q1652 230 1652 300 L1656 480 Q1656 542 1600 545 L1372 545 M1230 545 L702 545 M560 545 L300 545 Q205 540 200 460 L200 260"/>
<path stroke-width="12" d="M230 260 L1600 260 M230 295 L560 295 L610 300 L1180 300 L1220 295 L1520 295 M230 410 L640 410 M1150 440 L1200 420 L1520 420 L1600 440 M720 462 L1140 462 M700 520 L1250 520 M640 410 Q700 440 720 470 M1150 440 Q1140 460 1140 470 M330 250 L330 410 M350 250 L350 410 M640 295 L640 430 M730 295 L730 520 M825 295 L825 520 M920 295 L920 520 M945 295 L945 520 M1035 295 L1035 520 M1135 295 L1135 520 M1220 260 L1220 420 M1510 270 L1510 440 M1535 270 L1535 440 M230 440 Q400 470 560 430 M260 500 Q420 500 600 440 M1380 470 Q1420 480 1460 520 L1600 520 M560 215 L610 300 M1180 215 L1160 300"/>
<path stroke-width="22" d="M1630 250 L1640 480"/>
<circle cx="630" cy="525" r="58" stroke-width="15" fill="#fff"/><circle cx="630" cy="525" r="30" stroke-width="9"/>
<circle cx="1300" cy="525" r="52" stroke-width="15" fill="#fff"/><circle cx="1300" cy="525" r="25" stroke-width="9"/>
</svg>
<svg x="1315" y="560" width="125" height="35" viewBox="0 0 1900 532" fill="none" stroke="#2f7e84" stroke-linejoin="round" stroke-linecap="round">
<path stroke-width="15" d="M170 175 L1730 175 M170 175 Q120 215 100 300 L100 345 Q105 370 125 380 M1730 175 Q1780 215 1800 300 L1800 345 Q1795 370 1775 380"/>
<path stroke-width="8" stroke="#8fb9bb" d="M125 382 L1775 382"/>
<path stroke-width="7" d="M225 168 L240 142 L370 142 L385 168 M725 168 L740 142 L870 142 L885 168 M1010 168 L1025 142 L1155 142 L1170 168 M1530 168 L1545 142 L1675 142 L1690 168 M250 195 L1650 195 M250 275 L1650 275 M130 300 L250 215 M1770 300 L1650 215 M250 195 L250 380 M1650 195 L1650 380 M325 275 L325 380 M825 275 L825 380 M1075 275 L1075 380 M1570 275 L1570 380 M1620 275 L1620 380 M275 275 L275 380 M290 195 L290 275 M320 195 L320 275 M380 195 L380 275 M445 195 L445 275 M510 195 L510 275 M565 195 L565 275 M585 195 L585 275 M645 195 L645 275 M705 195 L705 275 M770 195 L770 275 M830 195 L830 275 M855 195 L855 275 M1000 195 L1000 275 M1030 195 L1030 275 M1065 195 L1065 275 M1130 195 L1130 275 M1190 195 L1190 275 M1210 195 L1210 275 M1270 195 L1270 275 M1330 195 L1330 275 M1390 195 L1390 275 M1450 195 L1450 275 M1510 195 L1510 275 M1570 195 L1570 275 M1610 195 L1610 275 M900 185 L900 380 M912 185 L912 380 M924 185 L924 380 M936 185 L936 380 M948 185 L948 380 M960 185 L960 380 M972 185 L972 380 M984 185 L984 380"/>
<path stroke-width="9" d="M160 382 L195 382 M700 382 L740 382 M780 382 L820 382 M1090 382 L1120 382 M1170 382 L1200 382 M1700 382 L1740 382"/>
</svg>
<svg x="1390" y="812" width="50" height="30" viewBox="0 0 1545 927" fill="none" stroke="#2f7e84" stroke-linejoin="round" stroke-linecap="round">
<path stroke-width="20" d="M290 600 L290 370 Q300 205 430 192 L730 192 Q900 270 1050 390 Q1130 470 1140 600 L1140 690 M490 245 L450 360 Q448 400 500 362 Q560 340 650 382 L940 392"/>
<path stroke-width="42" stroke="#5f979b" d="M500 217 L730 217 L985 380"/>
<path stroke-width="30" stroke="#1f5a60" d="M535 425 L600 442 L655 515 L668 580 L540 580 Z M540 660 L930 660"/>
<circle cx="405" cy="650" r="88" stroke-width="20" fill="#fff"/><circle cx="1020" cy="650" r="88" stroke-width="20" fill="#fff"/>
<path stroke-width="16" d="M350 540 L450 540 M960 540 L1070 540 M310 590 L350 620 M1080 590 L1120 560"/>
</svg>
<text x="484.3" y="43.6" font-size="29" font-family="Liberation Serif" fill="#000" stroke="#000" stroke-width="0.5" textLength="933.5" lengthAdjust="spacing">Demographic Analysis &amp; Layer Infrastructure</text>
<text x="56.8" y="93.8" font-size="16.6" fill="#d2465a" text-anchor="start" font-weight="normal" font-family="Liberation Sans" textLength="334.4" lengthAdjust="spacingAndGlyphs">Demographic Analysis along the Expo Line</text>
<text x="720.1" y="93.9" font-size="16.6" fill="#d2465a" text-anchor="start" font-weight="normal" font-family="Liberation Sans" textLength="187.7" lengthAdjust="spacingAndGlyphs">Site: Layer Infrastructure</text>
<text x="1500.8" y="177.5" font-size="13.6" fill="#8a8a8a" text-anchor="start" font-weight="normal" font-family="Liberation Sans" textLength="79.6" lengthAdjust="spacingAndGlyphs">Bus Only Lane</text>
<text x="1719" y="177.5" font-size="13.6" fill="#8a8a8a" text-anchor="start" font-weight="normal" font-family="Liberation Sans" textLength="75.5" lengthAdjust="spacingAndGlyphs">Low Ridership</text>
<text x="1492.9" y="429.4" font-size="13.6" fill="#8a8a8a" text-anchor="start" font-weight="normal" font-family="Liberation Sans" textLength="95.7" lengthAdjust="spacingAndGlyphs">No Signal Priority</text>
<text x="1685.9" y="429.4" font-size="13.6" fill="#8a8a8a" text-anchor="start" font-weight="normal" font-family="Liberation Sans" textLength="142.1" lengthAdjust="spacingAndGlyphs">Poor Connection to Street</text>
<text x="1490.7" y="675.3" font-size="13.6" fill="#8a8a8a" text-anchor="start" font-weight="normal" font-family="Liberation Sans" textLength="99.8" lengthAdjust="spacingAndGlyphs">Traffic Congestion</text>
<text x="1705.8" y="675.3" font-size="13.6" fill="#8a8a8a" text-anchor="start" font-weight="normal" font-family="Liberation Sans" textLength="102" lengthAdjust="spacingAndGlyphs">Prodomiant in City</text>
<text x="1370.1" y="355.3" font-size="13.2" fill="#d2465a" text-anchor="start" font-weight="normal" font-family="Liberation Sans" textLength="64.7" lengthAdjust="spacingAndGlyphs">BRT System</text>
<text x="1357.8" y="607.5" font-size="13.2" fill="#d2465a" text-anchor="start" font-weight="normal" font-family="Liberation Sans" textLength="77" lengthAdjust="spacingAndGlyphs">Metro System</text>
<text x="1387.9" y="852.9" font-size="13.4" fill="#d2465a" text-anchor="start" font-weight="normal" font-family="Liberation Sans" textLength="47.6" lengthAdjust="spacingAndGlyphs">Freeway</text>
<text x="564.6" y="265.2" font-size="9.2" fill="#c27474" text-anchor="start" font-weight="normal" font-family="Liberation Sans" textLength="79.6" lengthAdjust="spacingAndGlyphs">Hispanic Population</text>
<rect x="564.5" y="273.9" width="19.9" height="9.7" fill="#c3d3b0"/>
<text x="588.1" y="281.3" font-size="7" fill="#111" text-anchor="start" font-weight="bold" font-family="Liberation Sans" textLength="22.2" lengthAdjust="spacingAndGlyphs">0 - 887</text>
<rect x="564.5" y="287.3" width="19.9" height="9.7" fill="#b3bea5"/>
<text x="588.1" y="294.7" font-size="7" fill="#111" text-anchor="start" font-weight="bold" font-family="Liberation Sans" textLength="34.1" lengthAdjust="spacingAndGlyphs">888 - 1952</text>
<rect x="564.5" y="300.7" width="19.9" height="9.7" fill="#a4ad8f"/>
<text x="588.1" y="308.1" font-size="7" fill="#111" text-anchor="start" font-weight="bold" font-family="Liberation Sans" textLength="38.1" lengthAdjust="spacingAndGlyphs">1953 - 3012</text>
<rect x="564.5" y="314.1" width="19.9" height="9.7" fill="#868b72"/>
<text x="588.1" y="321.5" font-size="7" fill="#111" text-anchor="start" font-weight="bold" font-family="Liberation Sans" textLength="38.1" lengthAdjust="spacingAndGlyphs">3013 - 4189</text>
<rect x="564.5" y="327.5" width="19.9" height="9.7" fill="#777d65"/>
<text x="588.1" y="334.9" font-size="7" fill="#111" text-anchor="start" font-weight="bold" font-family="Liberation Sans" textLength="38.1" lengthAdjust="spacingAndGlyphs">4190 - 9021</text>
<circle cx="499.5" cy="293.1" r="4.2" fill="#000"/>
<text x="513.1" y="295.4" font-size="6.6" fill="#111" text-anchor="start" font-weight="bold" font-family="Liberation Sans" textLength="23.3" lengthAdjust="spacingAndGlyphs">Stations</text>
<line x1="489.7" x2="509.7" y1="306.4" y2="306.4" stroke="#a0665c" stroke-width="0.9"/>
<text x="513.1" y="309.2" font-size="6.6" fill="#111" text-anchor="start" font-weight="bold" font-family="Liberation Sans" textLength="28.7" lengthAdjust="spacingAndGlyphs">Expo Line</text>
<rect x="489.7" y="314.7" width="20" height="10" fill="#b2bacd"/>
<text x="513.1" y="322.2" font-size="6.6" fill="#111" text-anchor="start" font-weight="bold" font-family="Liberation Sans" textLength="34.6" lengthAdjust="spacingAndGlyphs">Water Body</text>
<line x1="489.7" x2="509.7" y1="333.2" y2="333.2" stroke="#d4d4d4" stroke-width="0.8"/>
<text x="513.1" y="335.8" font-size="6.6" fill="#111" text-anchor="start" font-weight="bold" font-family="Liberation Sans" textLength="27.9" lengthAdjust="spacingAndGlyphs">Freeways</text>
<text x="564.6" y="448.4" font-size="9.2" fill="#c27474" text-anchor="start" font-weight="normal" font-family="Liberation Sans" textLength="66.5" lengthAdjust="spacingAndGlyphs">Black Population</text>
<rect x="564.5" y="457.1" width="19.9" height="9.7" fill="#ebe2d7"/>
<text x="588.1" y="464.5" font-size="7" fill="#111" text-anchor="start" font-weight="bold" font-family="Liberation Sans" textLength="22.2" lengthAdjust="spacingAndGlyphs">0 - 248</text>
<rect x="564.5" y="470.5" width="19.9" height="9.7" fill="#e5d8c1"/>
<text x="588.1" y="477.9" font-size="7" fill="#111" text-anchor="start" font-weight="bold" font-family="Liberation Sans" textLength="30.2" lengthAdjust="spacingAndGlyphs">249 - 678</text>
<rect x="564.5" y="483.9" width="19.9" height="9.7" fill="#d9c6a8"/>
<text x="588.1" y="491.3" font-size="7" fill="#111" text-anchor="start" font-weight="bold" font-family="Liberation Sans" textLength="34.1" lengthAdjust="spacingAndGlyphs">679 - 1414</text>
<rect x="564.5" y="497.3" width="19.9" height="9.7" fill="#e2c999"/>
<text x="588.1" y="504.7" font-size="7" fill="#111" text-anchor="start" font-weight="bold" font-family="Liberation Sans" textLength="38.1" lengthAdjust="spacingAndGlyphs">1415 - 2611</text>
<rect x="564.5" y="510.7" width="19.9" height="9.7" fill="#d7b375"/>
<text x="588.1" y="518.1" font-size="7" fill="#111" text-anchor="start" font-weight="bold" font-family="Liberation Sans" textLength="38.1" lengthAdjust="spacingAndGlyphs">2612 - 4926</text>
<circle cx="499.5" cy="476.3" r="4.2" fill="#000"/>
<text x="513.1" y="478.6" font-size="6.6" fill="#111" text-anchor="start" font-weight="bold" font-family="Liberation Sans" textLength="23.3" lengthAdjust="spacingAndGlyphs">Stations</text>
<line x1="489.7" x2="509.7" y1="489.6" y2="489.6" stroke="#a0665c" stroke-width="0.9"/>
<text x="513.1" y="492.4" font-size="6.6" fill="#111" text-anchor="start" font-weight="bold" font-family="Liberation Sans" textLength="28.7" lengthAdjust="spacingAndGlyphs">Expo Line</text>
<rect x="489.7" y="497.9" width="20" height="10" fill="#b2bacd"/>
<text x="513.1" y="505.4" font-size="6.6" fill="#111" text-anchor="start" font-weight="bold" font-family="Liberation Sans" textLength="34.6" lengthAdjust="spacingAndGlyphs">Water Body</text>
<line x1="489.7" x2="509.7" y1="516.4" y2="516.4" stroke="#d4d4d4" stroke-width="0.8"/>
<text x="513.1" y="519" font-size="6.6" fill="#111" text-anchor="start" font-weight="bold" font-family="Liberation Sans" textLength="27.9" lengthAdjust="spacingAndGlyphs">Freeways</text>
<text x="566.1" y="631.7" font-size="9.2" fill="#c27474" text-anchor="start" font-weight="normal" font-family="Liberation Sans" textLength="67" lengthAdjust="spacingAndGlyphs">Asian Population</text>
<rect x="566" y="640.4" width="19.9" height="9.7" fill="#e0cccc"/>
<text x="589.6" y="647.8" font-size="7" fill="#111" text-anchor="start" font-weight="bold" font-family="Liberation Sans" textLength="22.2" lengthAdjust="spacingAndGlyphs">0 - 251</text>
<rect x="566" y="653.8" width="19.9" height="9.7" fill="#dbb6b6"/>
<text x="589.6" y="661.2" font-size="7" fill="#111" text-anchor="start" font-weight="bold" font-family="Liberation Sans" textLength="30.2" lengthAdjust="spacingAndGlyphs">252 - 626</text>
<rect x="566" y="667.2" width="19.9" height="9.7" fill="#cfa4a6"/>
<text x="589.6" y="674.6" font-size="7" fill="#111" text-anchor="start" font-weight="bold" font-family="Liberation Sans" textLength="34.1" lengthAdjust="spacingAndGlyphs">627 - 1206</text>
<rect x="566" y="680.6" width="19.9" height="9.7" fill="#cf8c8c"/>
<text x="589.6" y="688" font-size="7" fill="#111" text-anchor="start" font-weight="bold" font-family="Liberation Sans" textLength="38.1" lengthAdjust="spacingAndGlyphs">1207 - 2453</text>
<rect x="566" y="694" width="19.9" height="9.7" fill="#c17478"/>
<text x="589.6" y="701.4" font-size="7" fill="#111" text-anchor="start" font-weight="bold" font-family="Liberation Sans" textLength="38.1" lengthAdjust="spacingAndGlyphs">2454 - 4659</text>
<circle cx="499.1" cy="659.6" r="4.2" fill="#000"/>
<text x="512.7" y="661.9" font-size="6.6" fill="#111" text-anchor="start" font-weight="bold" font-family="Liberation Sans" textLength="23.3" lengthAdjust="spacingAndGlyphs">Stations</text>
<line x1="489" x2="509" y1="672.9" y2="672.9" stroke="#a0665c" stroke-width="0.9"/>
<text x="512.7" y="675.7" font-size="6.6" fill="#111" text-anchor="start" font-weight="bold" font-family="Liberation Sans" textLength="28.7" lengthAdjust="spacingAndGlyphs">Expo Line</text>
<rect x="489" y="681.2" width="20" height="10" fill="#b2bacd"/>
<text x="512.7" y="688.7" font-size="6.6" fill="#111" text-anchor="start" font-weight="bold" font-family="Liberation Sans" textLength="34.6" lengthAdjust="spacingAndGlyphs">Water Body</text>
<line x1="489" x2="509" y1="699.7" y2="699.7" stroke="#d4d4d4" stroke-width="0.8"/>
<text x="512.7" y="702.3" font-size="6.6" fill="#111" text-anchor="start" font-weight="bold" font-family="Liberation Sans" textLength="27.9" lengthAdjust="spacingAndGlyphs">Freeways</text>
<text x="566.1" y="816.8" font-size="9.2" fill="#c27474" text-anchor="start" font-weight="normal" font-family="Liberation Sans" textLength="64" lengthAdjust="spacingAndGlyphs">Total Population</text>
<rect x="566" y="828.3" width="19.9" height="9.7" fill="#bdc6c7"/>
<text x="589.6" y="835.7" font-size="7" fill="#111" text-anchor="start" font-weight="bold" font-family="Liberation Sans" textLength="26.2" lengthAdjust="spacingAndGlyphs">0 - 1756</text>
<rect x="566" y="841.7" width="19.9" height="9.7" fill="#b4bfc1"/>
<text x="589.6" y="849.1" font-size="7" fill="#111" text-anchor="start" font-weight="bold" font-family="Liberation Sans" textLength="38.1" lengthAdjust="spacingAndGlyphs">1757 - 3654</text>
<rect x="566" y="855.1" width="19.9" height="9.7" fill="#99a8ac"/>
<text x="589.6" y="862.5" font-size="7" fill="#111" text-anchor="start" font-weight="bold" font-family="Liberation Sans" textLength="38.1" lengthAdjust="spacingAndGlyphs">3655 - 4914</text>
<rect x="566" y="868.5" width="19.9" height="9.7" fill="#8b918f"/>
<text x="589.6" y="875.9" font-size="7" fill="#111" text-anchor="start" font-weight="bold" font-family="Liberation Sans" textLength="38.1" lengthAdjust="spacingAndGlyphs">4915 - 6312</text>
<rect x="566" y="881.9" width="19.9" height="9.7" fill="#70787a"/>
<text x="589.6" y="889.3" font-size="7" fill="#111" text-anchor="start" font-weight="bold" font-family="Liberation Sans" textLength="42.1" lengthAdjust="spacingAndGlyphs">6313 - 10041</text>
<circle cx="499.1" cy="847.5" r="4.2" fill="#000"/>
<text x="512.7" y="849.8" font-size="6.6" fill="#111" text-anchor="start" font-weight="bold" font-family="Liberation Sans" textLength="23.3" lengthAdjust="spacingAndGlyphs">Stations</text>
<line x1="489" x2="509" y1="860.8" y2="860.8" stroke="#a0665c" stroke-width="0.9"/>
<text x="512.7" y="863.6" font-size="6.6" fill="#111" text-anchor="start" font-weight="bold" font-family="Liberation Sans" textLength="28.7" lengthAdjust="spacingAndGlyphs">Expo Line</text>
<rect x="489" y="869.1" width="20" height="10" fill="#b2bacd"/>
<text x="512.7" y="876.6" font-size="6.6" fill="#111" text-anchor="start" font-weight="bold" font-family="Liberation Sans" textLength="34.6" lengthAdjust="spacingAndGlyphs">Water Body</text>
<line x1="489" x2="509" y1="887.6" y2="887.6" stroke="#d4d4d4" stroke-width="0.8"/>
<text x="512.7" y="890.2" font-size="6.6" fill="#111" text-anchor="start" font-weight="bold" font-family="Liberation Sans" textLength="27.9" lengthAdjust="spacingAndGlyphs">Freeways</text>
<line x1="1293.8" x2="1313.1" y1="840" y2="840" stroke="#62a19b" stroke-width="3.4" stroke-linecap="butt"/>
<text x="1316.1" y="842.5" font-size="6.8" fill="#111" text-anchor="start" font-weight="bold" font-family="Liberation Sans" textLength="24.1" lengthAdjust="spacingAndGlyphs">BRT Line</text>
<circle cx="1303.4" cy="852.5" r="2.9" fill="#000"/>
<text x="1316.1" y="855" font-size="6.8" fill="#111" text-anchor="start" font-weight="bold" font-family="Liberation Sans" textLength="36.4" lengthAdjust="spacingAndGlyphs">Metro Staion</text>
<line x1="1294.4" x2="1312.6" y1="865.5" y2="865.5" stroke="#a3232b" stroke-width="3.2" stroke-linecap="round"/>
<text x="1316.1" y="868" font-size="6.8" fill="#111" text-anchor="start" font-weight="bold" font-family="Liberation Sans" textLength="30.6" lengthAdjust="spacingAndGlyphs">Metro Line</text>
<line x1="1293.8" x2="1313.1" y1="879.3" y2="879.3" stroke="#bcbcbc" stroke-width="2.4" stroke-linecap="butt"/>
<text x="1316.1" y="881.8" font-size="6.8" fill="#111" text-anchor="start" font-weight="bold" font-family="Liberation Sans" textLength="23.3" lengthAdjust="spacingAndGlyphs">railways</text>
<line x1="1294.4" x2="1312.6" y1="891.8" y2="891.8" stroke="#eaa92f" stroke-width="3.2" stroke-linecap="round"/>
<text x="1316.1" y="894.3" font-size="6.8" fill="#111" text-anchor="start" font-weight="bold" font-family="Liberation Sans" textLength="24.8" lengthAdjust="spacingAndGlyphs">freeways</text>
<line x1="1293.8" x2="1313.1" y1="904.7" y2="904.7" stroke="#b3b3b3" stroke-width="3.4" stroke-linecap="butt"/>
<text x="1316.1" y="907.2" font-size="6.8" fill="#111" text-anchor="start" font-weight="bold" font-family="Liberation Sans" textLength="43.3" lengthAdjust="spacingAndGlyphs">state_highways</text>
</svg>
</body></html>
